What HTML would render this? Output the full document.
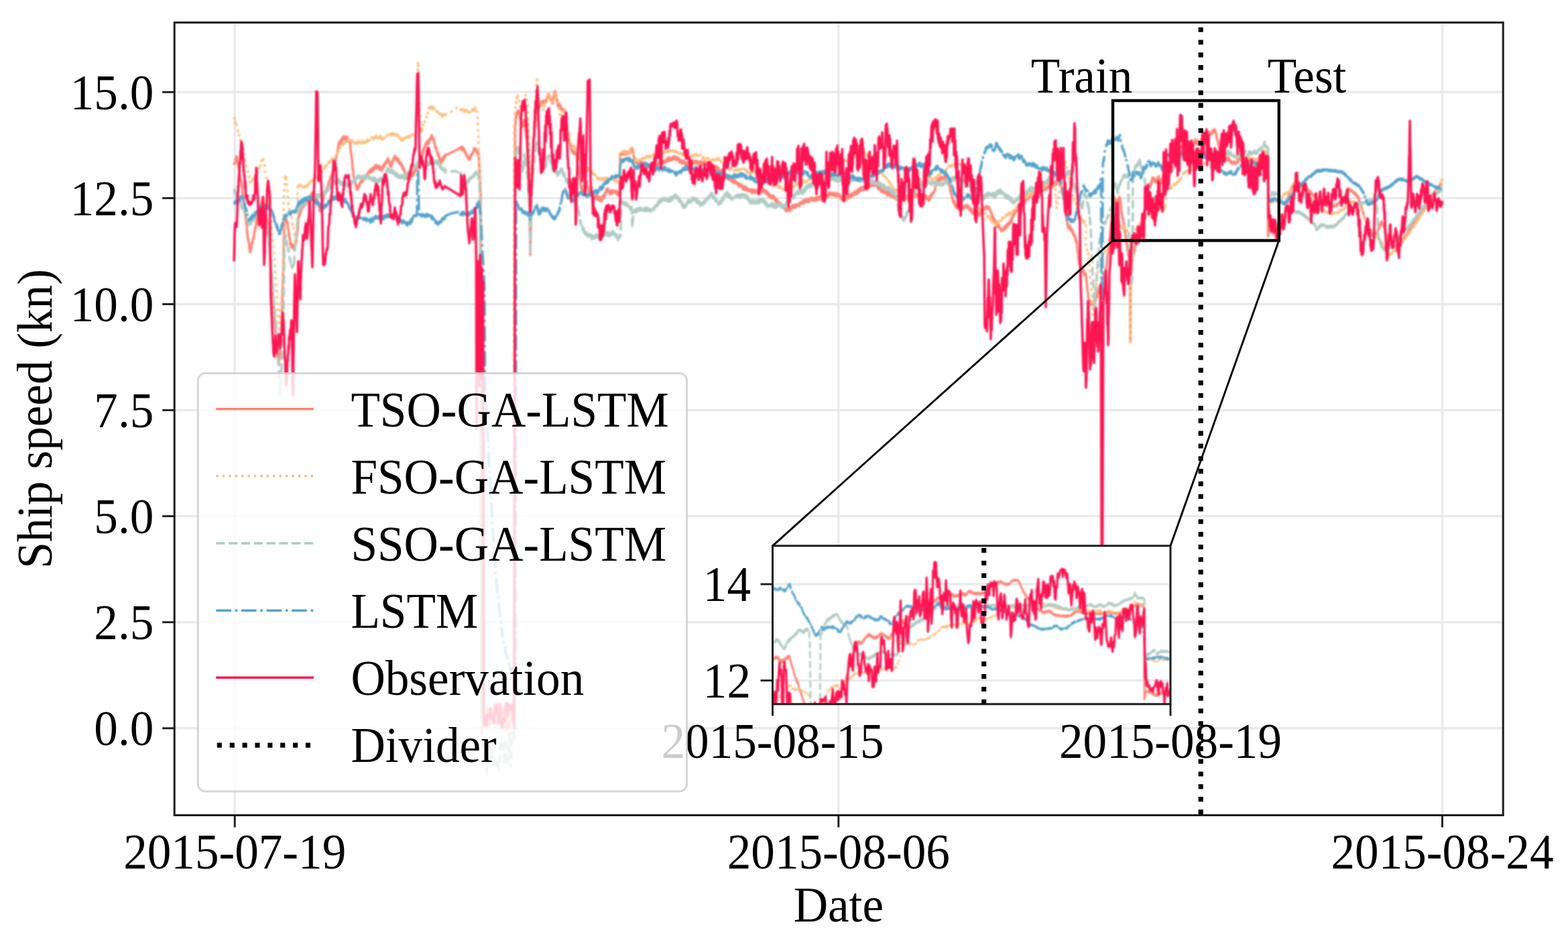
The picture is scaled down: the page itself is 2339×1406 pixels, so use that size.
<!DOCTYPE html>
<html lang="en"><head><meta charset="utf-8"><title>Ship speed prediction</title>
<style>html,body{margin:0;padding:0;background:#fff}svg{display:block}text{font-family:"Liberation Serif",serif;font-size:73.3px;fill:#000}</style></head><body>
<svg width="2339" height="1406" viewBox="0 0 2339 1406">
<rect width="2339" height="1406" fill="#fff"/>
<defs><filter id="soft" x="0" y="0" width="2339" height="1406" filterUnits="userSpaceOnUse" color-interpolation-filters="sRGB"><feGaussianBlur stdDeviation="0.8"/></filter>
<clipPath id="cm"><rect x="260.2" y="33.6" width="1982.0" height="1181.9"/></clipPath>
<clipPath id="ci"><rect x="1152.5" y="813.8" width="593.5" height="236.0"/></clipPath></defs>
<g stroke="#eaeaea" stroke-width="3.4"><line x1="350.2" y1="33.6" x2="350.2" y2="1215.5"/><line x1="1250.8" y1="33.6" x2="1250.8" y2="1215.5"/><line x1="2151.5" y1="33.6" x2="2151.5" y2="1215.5"/><line x1="260.2" y1="1085.8" x2="2242.2" y2="1085.8"/><line x1="260.2" y1="927.7" x2="2242.2" y2="927.7"/><line x1="260.2" y1="769.6" x2="2242.2" y2="769.6"/><line x1="260.2" y1="611.6" x2="2242.2" y2="611.6"/><line x1="260.2" y1="453.5" x2="2242.2" y2="453.5"/><line x1="260.2" y1="295.4" x2="2242.2" y2="295.4"/><line x1="260.2" y1="137.3" x2="2242.2" y2="137.3"/></g>
<g clip-path="url(#cm)"><g filter="url(#soft)">
<path d="M349 246l.4-2.1 .3-1 .4-.1 .4 .1 .3-.6 .4-.9 .3 .5 .4-6.1 .4 1.1 .3-4 .4 1.3 .3 .7 .4-.1 .3 2.4 .3 3.8 .4 .7 .3 4.4 .3-1.5 .4 1.7 .3 4.1 .4 1 .3-.8 .4 5.9 .4-.3 .3 5.4 .4 .3 .3 3 .4 2.6 .4-.3 .3 4.3 .4-2.1 .4 3.3 .3 5.7 .4-1.7 .3 6.6 .4 4.8 .3 1.3 .4 3.7 .3-1.5 .4 5.6 .3 3.3 .4 1.9 .3 2.8 .4 4.9 .3-.7 .4 2.1 .3 5.9 .4 3.3 .4 4 .3 2.4 .4 1.3 .4 6.8 .3-1.5 .4 4.5 .3 6.4 .4 4 .4 .6 .3 6.1 .4 .1 .3 3.6 .4-.7 .3 3.1 .3 2 .4 1.2 .3 4.4 .3 2.8 .4 1 .3 3.5 .4-4.1 .3 1.1 .4-1.5 .3-2.3 .4 1.2 .3-6 .3 0 .4-1.5 .3-2.1 .4 1.7 .4-3.6 .3-1.7 .4-1.9 .3-1.4 .3 1.5 .4-2.3 .3-2.3 .4-4.2 .3 .9 .4-2.5 .4-2.5 .3-3.9 .4 1.7 .3-.6 .4-4 .3-2.4 .4-3.8 .3-.9 .4-1.9 .3-2.2 .4-2.9 .3-2.3 .4 1 .3-.9 .4-2.8 .3-3.1 .4-4.3 .4-.2 .3 2.2 .4 0 .3-3.2 .4-.7 .3-.1 .4-3.3 .3 1.9 .4-2.9 .4 1.8 .3-3 .4 .2 .3-1.5 .4-1.1 .3-1.3 .4 1.9 .3-1.9 .4-2.4 .4 2.1 .3 4.2 .4 1.1 .4 1.4 .4 3.7 .3-2.8 .4 4.5 .4 2.4 .3 1.1 .4 4.9 .3 2.1 .4-1.1 .3 3.3 .4 2.9 .4 1.7 .3 .2 .4 4.5 .3-.5 .4 1 .3 5.1 .4 2.2 .4 3.8 .3 5.8 .4 8 .3 4.3 .4 3.1 .3 8.3 .4 3.5 .3 4.5 .4 6.8 .3 6.2 .4 6.1 .3 4.1 .4 5.2 .3 3.7 .4 3.3 .3 7.5 .4 5.1 .4 7.6 .3 1.4 .4 6.1 .3 5.4 .4 1.7 .3 8.4 .4 1.8 .3 3.4 .4 7.7 .3 3.8 .4 7.8 .3 2.2 .4 2.9 .3 4.5 .4 4.9 .3 7.3 .4 4.5 .4 .6 .3 4.5 .4 3.8 .4 5.3 .3 3.4 .4 2.5 .3 1.8 .4 2.7 .4 1.2 .3 5.3 .4 1.8 .4-5.4 .3-2 .4-6.5 .4-4.1 .3-6.5 .4-6.1 .3-3.7 .4-4.7 .4-6.8 .3-1.6 .4-5.5 .3-14.4 .4-10.8 .3-8 .3-11.7 .4-13.9 .3-9 .3-12.9 .4-7.6 .3-12.4 .3-21.1 .4-22.5 .3-18.6 .4-.2 .3-.5 .4-.9 .4 .3 .3 2.9 .4 1.4 .3-.4 .4-.9 .4 1.3 .3-3.4 .4 2.1 .4 3.7 .3-1.7 .4 2.7 .3 6.1 .4-.9 .3 2.2 .4 3.5 .3 4.7 .4-2.3 .3 7.1 .4-1.2 .3 3.5 .4 1.4 .3 .1 .4 6.7 .3-2.4 .4 4 .4 2 .3-2.3 .4 2.9 .3-5 .4 .6 .3 1.9 .4-2.2 .3 4.6 .4-1.1 .3 2 .4-2.4 .3-1 .4 5.3 .3-3.3 .4 1.4 .3-1.4 .4 1.8 .3-2 .4-3.7 .3-3.2 .3-.6 .4 .3 .3-5.8 .3-1.8 .4-.1 .3-3.1 .3-1.4 .4-4.3 .3-2.2 .3-7.1 .4 1 .3-8.3 .3-2.8 .4-3.3 .3-1.3 .4-.5 .3 1.5 .4-.6 .3-1 .4-2.8 .3-2.3 .4 2.5 .3-2.1 .4-3.9 .3 1.2 .4-3.8 .3-.8 .4 2.6 .3-.3 .4 0 .3-1.5 .4-3.4 .3 1.8 .4 .9 .3-2.2 .4-1.6 .3-1.5 .4-1.7 .3 3 .4 1.7 .3-4.9 .4 3.9 .3 .2 .4-3.1 .3 2.6 .4-4.2 .3 .4 .4 1.1 .3 1.4 .4-2.2 .3-2.9 .4 4.4 .3-2.6 .4 .5 .3-2.9 .4-1 .3-2.3 .4-.3 .3 .5 .4-.6 .3 1 .4 .6 .3-3.2 .4 2.9 .3-1.9 .4-2.1 .3-1.4 .4 3.7 .3-2.3 .4-4 .3 3 .4-2.2 .4 .3 .3 2 .4-2.9 .4 .3 .3 1.6 .4 2.2 .3-4.5 .4 4.3 .4-.5 .3-2.8 .4 2.3 .3 1.4 .4 1.6 .3 .1 .4-.2 .3 2.1 .4-.5 .3 2.3 .4 .7 .3-.6 .4 1.7 .3 1.7 .4 1.4 .3 2.1 .4 2.2 .3-1.5 .4 2.8 .3 0 .4 .6 .3 .6 .4 5.5 .3 .7 .4 .4 .3-1.8 .4-2.7 .3-1.8 .4-.4 .3-.6 .4-3.7 .3 1.1 .4 .1 .3-.4 .4-4.9 .3-2.4 .4 2.8 .3-3.9 .4-1.9 .3-2.5 .4-.9 .3-1.6 .4-.4 .3-2 .4 .9 .3 .9 .4-3.5 .3-.1 .4-.3 .3 1.3 .4-1.2 .3 .3 .4-5.4 .3 2.7 .4-3.7 .3 .7 .4-1.2 .3-.7 .4-2.4 .3-2.4 .4-1.4 .3 4.2 .4-1.3 .3-3.4 .4-3 .3 2.1 .3-1.9 .4-1.4 .3-.4 .4-3.9 .3-1 .4 2.1 .3-1.6 .4 .2 .3-4.3 .4 1.9 .3-1.7 .4-3.3 .3 .9 .4-5.4 .3-1.9 .4 2.8 .3-5.1 .4 .7 .3-.1 .4-1.7 .3-4 .4 1.8 .3-4 .4-.3 .3 .3 .4-3.6 .3-2.9 .4 2.2 .3-3.1 .4-1.3 .3-1 .4-1.4 .3-3.6 .4-.2 .3-3.4 .4-2.9 .3-1.3 .4-1.6 .3-2.8 .4 1.7 .4-1.6 .3 2.5 .4-5.1 .3 3.7 .4-3.6 .3 .4 .4-.6 .3 3.4 .4-2.2 .3-1.7 .4-2.2 .3-1.4 .4 1.1 .3 2.8 .4-3.7 .3 .9 .4-.3 .4-3.3 .3 1.7 .4 .8 .3-.9 .4 1.1 .3 1.7 .4-3.4 .3 2.9 .4-2.5 .3 1.7 .4-3 .3 3.2 .4-2.2 .3 2.5 .4 .9 .3-2 .4-1.4 .4 1.2 .3 4.3 .4-1.1 .4 1 .3-1.1 .4 3 .3 .2 .4-1.2 .4 .3 .3-2.1 .4 2.3 .4 2.5 .3 6.3 .4 4.1 .3 2.9 .4 4.1 .3-1.5 .4 3.1 .3 4.3 .4 1.8 .3 6.3 .4 5 .3 2.9 .4-1.3 .3 6.2 .4 3.1 .3 3.1 .4 1.9 .4 .2 .3 5 .4 1.5 .4 .4 .3 .5 .4-1.4 .3 2.9 .4 1.2 .4 1.5 .3 1.3 .4 3.3 .3 .3 .4-3.3 .3 3.6 .4-5.5 .3 4.9 .4-2.6 .3-.2 .4-2.6 .3 1.8 .4 .5 .3-4.3 .4-1 .3 3.1 .4-3.6 .3-1.4 .4 1.5 .3-2.3 .4-.5 .3-.2 .4-1.7 .3 3.5 .4-1.9 .3-.3 .3-2.3 .4 2.3 .3 .6 .4-.2 .3-5.8 .4 1.2 .3-1.5 .4 1.8 .3 .7 .3-.6 .4-1.7 .3 3.1 .4-2.2 .3 1.9 .4-3.5 .3 .9 .4-3.3 .3 2.2 .4 .3 .3-2.8 .3 1.6 .4-3.2 .3 1.3 .4 .3 .3-1.2 .4-2.4 .3-.4 .4 .5 .3 .5 .3-1.3 .4-1.9 .3 .3 .4-.7 .3-1.2 .4 2.4 .3-.7 .4-1 .3-1.9 .3 5 .4-4.9 .3 .2 .4 .6 .3 2.4 .4 .4 .3-1.3 .4-3.5 .3 3.2 .4-4.9 .3 .1 .3-.2 .4 2.2 .3-.1 .4-.1 .3 1.5 .4-1.4 .3-.6 .4-3.8 .3 1.8 .3 1.7 .4-.6 .3-4.3 .4 3.5 .3-.9 .4 .4 .3-1.2 .4 3.2 .3 .5 .3 .1 .4-2.3 .3 2.6 .4-3.8 .3 3.3 .4-3.7 .3-.3 .4 .5 .3 3 .4 1.8 .3-2.6 .3 1.4 .4 0 .3 1.7 .4 1.1 .3-.5 .4-2.4 .3-1.4 .4 4.6 .3-2.6 .3 1.1 .4-.1 .3-4.7 .4-.6 .3 .6 .4 1.8 .3-.6 .4 .1 .3-4.6 .4 1.3 .3 .8 .4-3.3 .3 .7 .3-2.4 .4 3.2 .3-2.8 .4-.1 .3 .5 .4-2.4 .3 1.9 .4-2.8 .3-1.1 .4 .8 .3-1.2 .4-.6 .3-.8 .3 2 .4-.8 .3 2.8 .3 2.7 .4-3.1 .3 4.8 .3 .8 .4 .7 .3 1.2 .4-1 .3 2 .3 .2 .4 0 .4-1.9 .3 0 .4-1.2 .3-4.6 .3 2 .4 .1 .4-1.5 .3-3.6 .3 1.5 .4-2.4 .3-.5 .4 .9 .4-1 .3-3.7 .3 2.1 .4-1.7 .3-.8 .4 4 .3 1.1 .4-3 .3 3.4 .4-2.6 .3 2.3 .4-.5 .3-1.2 .4 2.2 .3 .9 .4 1.9 .3-4 .3 1.3 .4-1.2 .3 1.6 .4 .8 .3 3.6 .4 1.1 .3-3.5 .4 1.9 .3 .6 .4 0 .3 2.8 .4 .1 .3-2.8 .4 .5 .3 1.3 .4 1.3 .3 .3 .4 2.5 .3-3.1 .4 3 .3 3 .4-2.8 .3 1 .4 3.2 .3-1.9 .4 3 .3-1.6 .4 1.1 .3 1.6 .4 2.7 .4 .4 .3 .7 .4 .9 .3-.5 .4 4 .3-1.4 .4 .9 .3-2.7 .4 1.4 .3 2.3 .4 2.5 .3-1.1 .4-3.2 .3 4.6 .4-2.5 .3 3 .4-.1 .3-2.2 .4 3.8 .3-1.8 .4 .4 .3 0 .4-1.4 .3-1.8 .4-1.3 .3 .4 .3-2.4 .4-.7 .3 2.5 .4-2.9 .3 1.9 .4-.5 .3-1.4 .4 1.5 .3-2.8 .4-2.1 .3 4 .3-1.3 .4-.8 .3 .3 .4-3.6 .3-.6 .4 .4 .3 1 .4-3.7 .3 1.9 .3 .6 .4-4.7 .3-2.1 .4 0 .3 2 .4-3.1 .3 3.4 .4-5.4 .3 3.8 .4-3.7 .3 2.4 .4-4.1 .3-2.4 .4 2.1 .3-3.2 .4 2.5 .3-1.7 .4-4.3 .3 .3 .4-.5 .3 .4 .4-3.7 .3 1.1 .4-1.5 .3-.6 .4-1 .3-1.5 .4-1 .3-.7 .4 2.5 .3-3.4 .4-3.1 .3 .8 .4 1.1 .3-1.5 .4-4.4 .3 .8 .4-.9 .3 1.2 .4-3.2 .4 2 .3-1.2 .4-5 .3 2.1 .4-.4 .3-.1 .4 .9 .3-4 .4 3.3 .3-4.7 .4 4.4 .3-3.3 .4-1.5 .3 4.3 .4 .2 .3-2.5 .4-1.4 .4-1.5 .3-1.6 .4 1.6 .3 .1 .4-3.5 .3 .1 .4-1 .4-.5 .3 2.9 .4-5.3 .3-.4 .4 .6 .3 3 .4-1.2 .4 1.9 .3 .9 .3 2.3 .4-.5 .4-2 .3 1.7 .4 2.9 .3-.5 .3 2.3 .4 1 .4 5.1 .3 1.1 .3-.5 .4-.3 .3 1.1 .4-.7 .4 3.3 .3-.6 .3 3.2 .4 1 .4-.1 .3 2.4 .4 1.3 .3 1.3 .4-2 .3-.2 .4 4.6 .3-1.1 .4-.3 .3 3.3 .4 2.1 .3 1.7 .4-2.5 .3 .2 .4 .8 .3 1.1 .4 2.1 .4 1.5 .3-2.3 .4-3.9 .3-.2 .4 .1 .3 3.9 .4-3.9 .3 2.1 .4-3.7 .3-.6 .4 3.7 .3-5.3 .4 1.9 .3-.4 .4-1.5 .3 1.9 .4-1.8 .4-1.9 .3 .7 .4-.1 .3-.2 .4-.2 .3-.2 .4-.1 .3-.2 .4-.2 .3-.2 .4-.1 .3-.2 .4-.2 .3-.2 .4-.1 .3-.2 .4-.2 .4-.2 .3-.2 .4-.1 .3-.2 .4-.2 .3-.2 .4-.1 .3-.2 .4-.2 .3-.2 .4-.1 .3-.2 .4-.2 .3-.2 .4-.1 .3-.2 .4-.2 .3-.2 .4-.1 .3-.2 .4-.2 .3-.2 .4-.1 .3-.2 .4-.2 .3-.2 .3-.1 .4-.2 .3-.2 .4-.1 .3-.2 .4-.2 .3-.2 .4-.1 .3-.2 .4-.2 .3-.1 .3-.2 .4-.2 .3-.2 .4-.1 .3-.2 .4-.2 .3-.2 .4-.1 .3-.2 .4 .1 .3-1.5 .4 1.1 .3 0 .4 .9 .3 .9 .4-2.4 .3 3.4 .4-2.6 .3-2.1 .4 2.4 .3 .8 .4-1.7 .3 4.2 .4-1.4 .3-.2 .4-.2 .3-.9 .4 1.6 .3 2.9 .4 1 .3 .8 .4-3 .3 4.6 .4-.1 .3 .4 .4-.5 .3 2.2 .4 1.1 .3-1.7 .4-.1 .3 1.4 .4 2.3 .3 .1 .4 1.4 .3-1.8 .4 2.4 .3-1.4 .4 2.5 .3-.7 .3 .2 .4 .4 .3 .2 .4-3.1 .3 1.5 .4-4.4 .3-1.8 .4 2.4 .3-1.8 .4-.4 .3 .5 .4 .2 .3-.3 .4-3.8 .3 .6 .4-.5 .3-.5 .4-1.4 .3-1.4 .4 1.5 .3-4.8 .4 3.8 .3-2.8 .4-.2 .3 3.5 .4-.6 .3-.4 .4-1.2 .3 .1 .4 1.4 .3-.7 .4 3.6 .3-2.5 .4 1.6 .3 .8 .4 2.1 .3 1.3 .4-.5 .3-1.7 .4 1.4 .3 7.7 .4 5.5 .3 8.6 .3 3.8 .4 9.3 .3 4.7 .3 6.2 .4 6 .3 9 .4 195.4 .4 196.4 .3 197.7 .4 194.1 .4-4.4 .3-5.9 .4-4.9 .4-2.1 .3 1.1 .4 4.4 .3 3.6 .3 1.9 .4 4.3 .3 3.5 .3 .3 .4 .2 .3 1.6 .3-.7 .4-4 .3 1.8 .3-4.6 .4-.7 .3 1.1 .3-.2 .4-1.5 .3-1.6 .3-2.1 .4-1.2 .3-2.3 .3 .4 .4-1.7 .3-3 .3 3.4 .4 4.9 .3 4.2 .3 3 .4 5.4 .3 2.1 .3-1.5 .4 2.6 .3-1.1 .3 0 .4 .1 .3 .6 .3-1.8 .4-3.3 .3 0 .3-4 .4-.1 .3-1.8 .3-1.1 .4-2 .3 4.4 .3-3.8 .4 .1 .3 .9 .3-1.1 .4-1.8 .3 .6 .3-5.3 .4-.6 .3-.7 .3-4.6 .4 .7 .3-3 .3 2.2 .4-4 .3-1.1 .3 1.2 .4 3 .3 5.3 .3-.8 .4 1.9 .3 3.7 .3 0 .4 5.2 .3 1.5 .3 .1 .4 .2 .3 .8 .3-.6 .4-5.9 .3-1.5 .3-.8 .4-7.4 .3-2.3 .3 4.7 .4 5.1 .3 3.6 .3 6 .4 3.3 .3 3.4 .3-1.2 .4-7 .3-3.2 .3-2.8 .4-2.8 .3-3.3 .3-2.8 .4 1.6 .3 1.4 .3-.8 .4-1.3 .3 2.1 .3 .6 .4-3 .3-1.9 .3-3.4 .4 .6 .3-.3 .3 4.2 .4 6.9 .3 6.2 .3 5.4 .4 7.9 .3 5.1 .3 1.2 .4-2.1 .3-4.6 .3-2.9 .4-1.9 .3 1.4 .3 .1 .4-.8 .3 .4 .3 5.1 .4-2.3 .3 2.9 .3-2.8 .4 0 .3-3.2 .3 .1 .4-4.5 .3-.5 .3-4.9 .4-4.1 .3-.9 .3-1.3 .4-9.3 .3-.6 .4 1.2 .3 2 .3 2 .4 4.5 .4 1.3 .3 5 .4 2.5 .3 1.3 .3 6.9 .4 1.2 .3-295.6 .3-299.5 .3-294.6 .3-3.4 .3-3.5 .4-7.3 .3 .3 .3-6.5 .4-2.7 .3 4.4 .4-3.8 .4 3 .3-4.4 .4-1.3 .3 2 .4-.4 .4 .2 .3-.8 .4-.7 .4 3.1 .3 .8 .4 .1 .4 4.7 .3 .8 .4 3.3 .3 .1 .4 2.8 .4 2.4 .3 4.5 .4 1 .4-.8 .3-.9 .4 1.8 .4-5.2 .3 1.2 .4 .6 .3-3.2 .4 2 .4-4.9 .3 .4 .4-.5 .4 1.6 .3 1.7 .4 6.9 .4 2.3 .3 4 .4 .7 .3 .9 .4 5.2 .4 4.1 .3 .5 .4 2.1 .4 9.7 .3 11.4 .4 9.4 .4 8.5 .3 10.2 .4 5.6 .3 10.2 .4 8.9 .4 12.1 .3 9.9 .4 9.5 .3 23.4 .4 19.8 .3 22 .4-15.8 .3-18.6 .3-17.6 .4-18.1 .4-10.6 .3-8.6 .4-9.9 .3-12.7 .4-7.1 .4-13.7 .3-7.9 .4-7.8 .3-13.9 .4-7.3 .4-4.9 .3-2.2 .4-6.8 .4-4.1 .3-2.4 .4-1.6 .3-1.8 .4-5.4 .4-3.9 .3-4.4 .4-3 .4 .2 .3-.1 .4-3.8 .3 .8 .4-2.8 .3-1.5 .4-2.1 .3 1 .4 .1 .3-1.5 .4-1.4 .3 .9 .4-2.6 .3 .5 .4-1.5 .3 1.3 .4-3.7 .3 0 .4 1.6 .3-2.9 .4 2.4 .3-2.9 .4-1.3 .3 1.9 .4-.3 .3-1.6 .4-.1 .3 4.1 .4-2.7 .3 1.2 .4-1.5 .3 .8 .4-1.5 .3-.8 .4 3.6 .3-1.1 .4-2.2 .3 .4 .4 .7 .3-2 .4 1.4 .3 1.3 .4-2.5 .3-2.1 .4-2.7 .3 1.6 .4-.6 .4-.2 .3 .3 .4-4.3 .3-1.7 .4 4 .3-3.3 .4-.2 .4 .9 .3 2.6 .4-.6 .3 1.7 .4 .5 .3 2.8 .4-.1 .4 2.3 .3-2.1 .4-.1 .3 .9 .4 2.5 .3 1.6 .4 .9 .4-2.2 .3 1 .4-5 .4-4 .3 1 .4-1.1 .3-4.1 .4 1.3 .4-4.5 .3 2.4 .4-3.5 .4 4.2 .3 .1 .4 2.5 .4-1 .3 5.6 .4 2.5 .3-2.9 .4 4.3 .4-.5 .3 5.8 .4 .3 .4 1.8 .3-.5 .4-1.9 .3 1.6 .4-3 .3 .5 .4 2.9 .3 1.3 .4-2.1 .3-1.3 .4 .5 .3 1.9 .4 .7 .3 3.5 .4-.6 .3 1.7 .4-1.2 .4 1.3 .3 .9 .4-2.6 .3 3.1 .4-.8 .3 .5 .4-.7 .4-.2 .3 2.4 .4-.1 .3-3 .4 4 .3-1.4 .4-.6 .3 5 .4 3.3 .3 .2 .3 2.7 .4 2 .3 2.3 .3 4.7 .4 2.3 .3 2.8 .4 3.5 .3-.4 .4 5.3 .4 .3 .3 1.8 .4 .8 .3 4.5 .4 2.5 .4 2.6 .3 2.3 .4 0 .4 1.5 .3 1.4 .4-.3 .4-1.2 .3 5.3 .4 2.3 .3-1 .4 3.8 .4-3.5 .3 4.3 .4-.1 .4 1.8 .3-1.6 .4 2.1 .3-2.9 .4 .5 .3 .7 .4 .1 .3 .1 .4 3.1 .3-2.3 .4 .4 .3-2.4 .4 2.4 .3 1.4 .4 .1 .3 1.9 .4-1.6 .4 1.7 .3 5.8 .4 3.5 .4 3 .3-2.3 .4 5.7 .3-.4 .4 3.2 .4 5.3 .3 3.1 .4 1.3 .4 .6 .3 3.3 .4 1.5 .4 2.2 .3 2.1 .4 6.6 .3 2.3 .4-1.6 .4 6.2 .3 2 .4 1.4 .4-2.3 .3 .8 .4 .7 .3-1.6 .4 .3 .3-5.9 .4 .5 .3-.7 .4-.8 .3 2.2 .4-1.3 .3-1.9 .4-2.1 .3-.5 .4-.8 .3-4.7 .4 1.5 .4 3 .3-3.3 .4 2.9 .3 .9 .4 4 .3-.8 .4-.5 .3 2.5 .4 2.7 .3 .6 .4-1.8 .3 5.6 .4-1.8 .3-.2 .4 4.5 .3 1.4 .4 .5 .3-2.3 .4-.2 .3 4.1 .4-1 .3-2.7 .4 3.2 .3-2.6 .4 2.3 .3 1.4 .4-2.7 .3 1.1 .4 2 .3-2.2 .4 2.2 .3-2.8 .4 3.9 .3-2.3 .4 1.4 .3 3.3 .4-1.2 .3-3.3 .4 3.4 .3-1.4 .3-.3 .4-1.2 .3-.6 .4 4.7 .3-3.1 .4-.8 .3 3.5 .4-3.7 .3 2 .3-1.5 .4-.3 .3 5.5 .4-2.6 .3 1.1 .4-2.7 .3 1.4 .4-1.5 .3 4.6 .4-4.3 .3 5.5 .3 .4 .4-3.9 .3 .8 .4-.3 .3-.7 .4 2.4 .3 .1 .4 1.9 .3-2.2 .3-2.9 .4 .4 .3-2.4 .4-1.2 .3 1.6 .4 2 .3-4.7 .4 4.5 .3-1.2 .4 .4 .3-3.1 .4-2.5 .3 1.7 .4-4.3 .3 1.2 .4 .8 .3-2.5 .4 .6 .3-3.8 .4 3.2 .3-4.5 .4 .4 .3 .6 .4 2.8 .3-3.9 .4 1.4 .4 3.2 .3-2.4 .4 1.3 .3-.8 .4 5.1 .4-.6 .3-1.7 .4 2.2 .4 1 .3-3.4 .4-1.6 .3 3.4 .4-.6 .3-2.2 .4-1.6 .3 1.4 .4 3.5 .3-1.6 .4-.2 .3-.1 .4-2.7 .3 3 .4-2.6 .3 2.2 .4-2.5 .4 1 .3 1.3 .4 .9 .3-1.3 .4 1.6 .3-2.7 .4-.3 .3-.1 .4 .9 .3 3.3 .4-2.8 .3-.1 .4-.5 .3 3.9 .4 1.5 .3-2.5 .4 .8 .3 1.4 .4 .5 .3-2.5 .4 .4 .3-.6 .4 .9 .3 .9 .3-28.2 .3-32.3 .4 2.7 .3-2 .4-.9 .3 2.2 .4-3.7 .3 1.4 .4 1.6 .4-.7 .3-.3 .4-2.2 .3 .3 .4 .6 .3-3.2 .4 1.6 .4 1.6 .3-1.4 .3 .9 .4 2.3 .4-5.1 .3 1.6 .4 3.5 .3-4.6 .3 3.8 .4-2.1 .4-.2 .3-1.1 .3 1.3 .4 .4 .3 1.6 .4 .9 .4-1.2 .3-2.6 .3 2.3 .4 1.6 .4-3.2 .3 2.2 .4-3 .3 .1 .4 .9 .3 1.2 .4-2.2 .3-2.5 .4 1.6 .3-3.4 .4 3.2 .3-1.5 .4-1.8 .3 1 .4-2.1 .3 .1 .4-.8 .4 3.8 .3-1.6 .4 6.1 .4 1.1 .3-2 .4 5.8 .3-1.9 .4 5 .4-1.8 .3 5.4 .4 .4 .3-.2 .4 .7 .3 .6 .4-.6 .3-1.6 .4 2.6 .3 .9 .4-1.8 .3 2 .4-2.6 .3 .6 .4 1.5 .3-1.8 .3 2.9 .4 .3 .3-3 .4 1.3 .3 3 .4-1.8 .3-2.4 .4 4.3 .3-3.5 .4 1.6 .3 2.4 .4-.8 .3-.9 .3-3.4 .4 1.3 .3-.6 .4 5 .3-4.1 .4-.2 .3 3.3 .4 .5 .3-.2 .3-1 .4 2.1 .3-1.6 .4-3.1 .3 4.5 .4-4.6 .3 5.6 .4-2.1 .3 .5 .4-1.9 .3 3.7 .3-2.6 .4 1.4 .3-2.6 .4 3.5 .3 .9 .4-1.2 .3 1.1 .4-1.3 .3-.9 .3 2.4 .4-3.6 .3 1.3 .4 2.4 .3-.2 .4 1 .3-.9 .4-.2 .3-.1 .3-2.2 .4 3.1 .3 .2 .4-3.2 .3 .8 .4 .4 .3 1.7 .4-3.8 .3 .2 .4 4.3 .3-.9 .3-2.2 .4-1.4 .3-1 .4 .8 .3 4.2 .4-4.5 .3 4.4 .4-3.8 .3 2.8 .3-2.7 .4 2.5 .3 .3 .4-1.6 .3-1.6 .4 1.3 .3-1.5 .4 3.9 .3-3 .3 .3 .4-1.7 .3 .4 .4 2.3 .3-.4 .4-.6 .3 .4 .4 .1 .3-5.6 .4 1.4 .3-1.3 .3 4 .4-4 .3 3.5 .4-3.5 .3-.1 .4 .6 .3 3.1 .4-3.8 .3 .6 .3 2.2 .4-3 .3 1.8 .4-.6 .3 1.2 .4-1.3 .3-1.5 .4-.6 .3 3.8 .3-3.7 .4 0 .3 1.5 .4 1.8 .3-3.5 .4-.4 .3-.2 .4 .6 .3 2.5 .4-1.9 .3-.3 .3-1.3 .4 0 .3 .6 .4 1.7 .3 .1 .4-.8 .3-3.8 .4 3.7 .3-2.7 .3-1.4 .4 .7 .3-2.1 .4 2.4 .3 2.4 .4-4.6 .3 4.7 .4-3.1 .3-.8 .3 1.8 .4-2.4 .3 1.5 .4 2.5 .3-2.4 .4 2.6 .3-2.4 .4 2.2 .3-.5 .4-1.1 .3-1 .3-1.7 .4-1 .3 1.9 .4-1 .3 2.8 .4-4.1 .3-.1 .4 1.4 .3 1.3 .3 1.2 .4-.4 .3-2.1 .4-1 .3 3.3 .4-3 .3 3.7 .4-.9 .3 1.7 .3-2.5 .4 .3 .3 1.1 .4-2.8 .3 4.3 .4-1.3 .3 .7 .4-3.1 .3 1.6 .4-.3 .3 1.4 .3 .7 .4 3.5 .3-2.2 .4 .7 .3-.6 .4 .1 .3-1.7 .4 3.6 .3-1.7 .3-.6 .4 3.2 .3-4 .4 5 .3-1.9 .4 1.8 .3-1.8 .4-2 .3 2.1 .3-1.5 .4 1.9 .3-3 .4 3.9 .3 .6 .4-1.3 .3-1.1 .4 2.1 .3-1.4 .4 3.5 .3-.1 .3-2.3 .4 2.3 .3-2.9 .4 4.1 .3-1.3 .4-3.6 .3 3.8 .4-1.3 .3 1.6 .3-3.1 .4 1.2 .3 3.3 .4-2.1 .3-.3 .4 .9 .3-3.2 .4 .1 .3 1.4 .4-.4 .3 .4 .4 .3 .3-2.8 .4 1 .3 2.8 .4-.6 .3-.9 .4-3.5 .3 3.2 .4-3.5 .3 .4 .4 0 .3 2.1 .3-1.8 .4-.1 .3-1.2 .4 1.8 .3 2.1 .4-2.5 .3 .5 .4-1.8 .3 .1 .4-.4 .3 3.9 .4 0 .3-2.3 .4 .4 .3-1 .4 1.9 .3-2.5 .4 .8 .3 2.3 .4-2 .3 3.8 .4-2.8 .3-.8 .4 1.2 .3 2.3 .4-3.6 .3 1.7 .4 .8 .3 1.9 .4-4.8 .3 3.9 .4-3.6 .3 3.5 .4 1.3 .3-1.7 .4-3.4 .3 1.2 .4 .9 .3 2.3 .4-2.8 .4-1.2 .3 2.6 .4-.2 .3 1.6 .4-1.8 .3 1 .4 .9 .3-3.7 .4-.7 .3 4.6 .4-.9 .3 1.5 .4-.1 .3-3.9 .4 1 .3 3.4 .4-2.2 .3 1.9 .4 .6 .3-5 .4 1.3 .3-1 .4 .9 .3 .8 .4 3.3 .3-3.6 .4 1.9 .3-.1 .4 3.3 .3-1.2 .4-1.1 .3-1.7 .4 1 .3-.8 .4 4.8 .3-3.9 .4-.7 .3-.8 .4 .8 .3 2.7 .3-.4 .4 .7 .3 1 .4-2.8 .3 2.5 .4 .1 .3 2.3 .4-3.2 .3-1 .4 0 .3 2.8 .4 .5 .3-2.8 .4 3.3 .3 1 .4-2.8 .3-1.3 .4 5 .3-3.4 .4 4.4 .3-3.2 .4 .6 .3-.7 .3-1.3 .4 1.8 .3-1.2 .4 2.5 .3-1.8 .4 3 .3-.1 .4 2.4 .3-.3 .3-.8 .4 1.3 .3-2 .4 2.5 .3-.9 .4 1.4 .3 .5 .4-1 .3 1.5 .4-4.7 .3 5.6 .3-2.1 .4 .6 .3-1.1 .4 .9 .3 1.8 .4-.7 .3-1.7 .4 2.1 .3 .9 .3 3.1 .4-4.9 .3 3.6 .4 .4 .3 1.7 .4-1.1 .3 .5 .4-.2 .3 2 .3 .2 .4-1.4 .3 3 .4-1.8 .3-.6 .4-.3 .3 2.2 .4 0 .3-1 .4 1.3 .3-.3 .3 2.6 .4-4.2 .3-.2 .4 2.5 .3 .2 .4-2.8 .3 2.7 .4-1.4 .3 2.2 .3 2.1 .4-3.9 .3 1.4 .4 1.8 .3 2.2 .4-.1 .3-1.3 .4 .2 .3 1.9 .3-1.3 .4 1.5 .3-1.7 .4-1.6 .3 4.6 .4-3.7 .3 2.2 .4 .7 .3-.8 .4-.5 .3-1.4 .3 2.4 .4-1.7 .3 2.9 .4-.3 .3-1.7 .4 1.9 .3 .8 .4-.7 .3 1.8 .3-1.1 .4-1 .3 .1 .4 .4 .3 2.3 .4-2.2 .3 2.5 .4 2.8 .3-3.6 .3 2.6 .4-.8 .3-1.9 .4 1.6 .3-2.2 .4 2.5 .3-1.8 .4 .2 .3 2.1 .4-.3 .3-.7 .3 .2 .4 1.1 .3 4.2 .4 .3 .3-3.3 .4-1.2 .3 2.6 .4 2.3 .3-3 .3 3.5 .4-3.3 .3-.9 .4-1.1 .3 1.3 .4 1.6 .3-1.1 .4 .8 .3 2.2 .3-1 .4-2 .3 .2 .4 4.5 .3-3.8 .4 1.4 .3 1.7 .4 1.7 .3-2.4 .4 1.4 .3-.6 .3 1.2 .4-1.6 .3-1.3 .4 2 .3 .6 .4-2.4 .3 2.6 .4-.6 .3-.3 .3 .7 .4-.5 .3 .1 .4 3.5 .3-3.7 .4 .7 .3-2.8 .4 1.5 .3 2.7 .3-1.8 .4 .9 .3 1.2 .4-1 .3 1.6 .4-.2 .3-3.5 .4 2.5 .3-3.2 .4 3.7 .3 1.4 .3-.9 .4 .8 .3-1.7 .4 1.1 .3-3 .4 .2 .3-.9 .4 .4 .3 2.7 .3-2.7 .4 3.8 .3-2.8 .4 3.2 .3 .7 .4-5.1 .3 3 .4 .5 .3-1.1 .3-2.4 .4 2.7 .3 1.1 .4-1.2 .3-2.2 .4 2 .3-3.1 .4 .6 .3 .8 .4 .6 .3-.9 .3-.9 .4 3.5 .3-5 .4 .1 .3 3 .4-2.7 .3 3.1 .4 0 .3-1.3 .3 .6 .4-1 .3 2.5 .4 1.7 .3-1.5 .4-1.1 .3 3.4 .4-4.7 .3 4.5 .3 1.5 .4-3.7 .3 2.6 .4-2.6 .3 1.9 .4 3.4 .3-4.4 .4 .9 .3 .1 .4 .3 .3 .6 .3 4.3 .4-1.7 .3-.4 .4 1.9 .3-.7 .4 2 .3-3.2 .4 1.4 .3 .4 .3-1 .4 3.7 .3-2.7 .4 .8 .3-.2 .4-1.6 .3 1.4 .4 2 .3 .8 .3-1.6 .4-2.8 .3 3.2 .4 .9 .3 .4 .4-1.4 .3-.6 .4 3.2 .3-.9 .4 3.7 .3 .4 .3-4.2 .4 4.1 .3-1.6 .4 .1 .3 .4 .4 2.5 .3-4.1 .4 5 .3-1.9 .3-.4 .4 3.3 .3-.7 .4-.3 .3-.4 .4 1.4 .3-.3 .4 1.6 .3-2.6 .4 1.5 .3-.5 .4-1.1 .3 4.3 .4-.2 .3-1.7 .4 3.6 .3-.2 .4 .6 .3-.8 .4-1.5 .3 2.1 .4-2.2 .3 1.7 .4 1.6 .3-1.6 .4 2.2 .3 .4 .4-1.5 .3 .2 .4 0 .3 1.6 .4-1.5 .3 4.7 .4-2.9 .3-.6 .4 .7 .3 1.5 .4 .2 .3 2 .4-1.1 .3-1.2 .4 1 .3-.2 .4-.4 .3-1.2 .4 .6 .3 2 .4-3.6 .3 1.9 .4-1.6 .3 1.6 .4-1.8 .3 2.2 .4 1 .3-1.7 .4-.1 .3-4.2 .4 3.3 .3-.2 .4-3.3 .3 3.2 .4 0 .3-1.5 .3-1.4 .4-1.6 .3-.1 .4-1.4 .3 2.5 .4 2.5 .3-3.3 .4 .9 .3-2.1 .4 3.6 .3-2.2 .4-.3 .3 3 .4-1 .3-1.1 .4 .5 .3-3.6 .4 2.8 .3-1.1 .4-.1 .3-1.7 .4 .8 .3-.1 .3 .1 .4 0 .3 .5 .4-.5 .3 .5 .4-.6 .3 2.2 .4-4.9 .3 2.5 .3 .2 .4 0 .3-3.7 .4 .2 .3 2.3 .4-.8 .3-1.9 .4 2.5 .3-2.4 .4-1.2 .3 1 .3-1.5 .4 2.9 .3 1.1 .4-1.5 .3-.9 .4-2.8 .3 4.5 .4-.6 .3-1.8 .3 .6 .4-3.7 .3 1.2 .4 .9 .3 .5 .4-2.4 .3 3.7 .4-2.4 .3 1.2 .3 .7 .4-3.7 .3-.3 .4 2.3 .3-2.4 .4-.3 .3 .2 .4 4.4 .3 .5 .4-2.5 .3 .1 .3 .2 .4-1.8 .3-.2 .4-.1 .3-1.1 .4 2.1 .3-.9 .4-2.6 .3 2.2 .4 1.2 .3-1.6 .4 2 .3-.9 .4-.7 .3-1.8 .4 2 .3-.7 .4 1.7 .3-2.7 .4 4.1 .4-.1 .3 .2 .4-3.3 .3-1.1 .4 1.5 .3 1.8 .4-.6 .3-3.7 .4 1 .3 4 .4-3.1 .4-2.2 .3 2.7 .4 1 .3 .6 .4-4.5 .3 3.3 .4-3.4 .4 2.9 .3-.6 .4-3 .3 .8 .4 1.2 .3 1.4 .4 1.4 .3-4.2 .4-.1 .4 2.1 .3-1.4 .4 .8 .3 1.4 .4-.6 .3-1.8 .4-.1 .3 1.5 .4-.7 .3 .2 .4-1.3 .4 1.2 .3-3 .4 3 .3-2.5 .4 0 .3-2.3 .3 4.3 .4-1.6 .3 .3 .4-1.9 .3-1.6 .4 2.6 .4-.2 .3-1.8 .4 3.5 .3-4.4 .3 4.6 .4 .3 .3-4.6 .4 4.4 .4-.3 .3-3.5 .4 .2 .3 1.9 .4-4.5 .3 3.9 .3-4.5 .4 3.3 .3-3.3 .4 2.2 .3 1.3 .4-1 .4-1.1 .3-.4 .4-.9 .3 2.3 .3-1.2 .4 .3 .3-.4 .4 .6 .3 1.2 .4-1.9 .3 3.3 .4-2.6 .3 2.5 .3-1.4 .4 .7 .3 0 .4-1.9 .3 2 .4-3.4 .3 4.7 .4-.5 .3 1.3 .4-3 .3-1.1 .3 3.2 .4-3.1 .3 4 .4-3.1 .3 3 .4-4.4 .3 1.1 .4 2.8 .3-2.8 .3 2.4 .4-1.6 .3 1.1 .4-1.9 .3 .7 .4 4 .3-.4 .4-3 .3 .3 .4 .6 .3 .9 .4 .9 .3 1.7 .4-.8 .3 3.9 .4-4.4 .3 2.7 .4 1.1 .3 1.3 .4-1.4 .3 1.3 .4-2.3 .3 1.4 .3 2.7 .4-4.8 .3 2.7 .4 1.6 .3-.4 .4-4.5 .3 4 .4-3.4 .3-2.3 .3 3.3 .4-1.8 .3 2.4 .4-5 .3 3.8 .4-3.2 .3-1.7 .4 .5 .3 3.2 .4 .7 .3-1.2 .3-.5 .4-1.4 .3-.9 .4 .3 .3-1.8 .4 .2 .3 .4 .4 3.5 .3-1.7 .3-2.1 .4 3.6 .3-4.7 .4 2.7 .3-3.3 .4 2.3 .3 2.1 .4-1.6 .3-.6 .4-.3 .3 .7 .4-2.2 .3 2 .4-1.2 .3-.4 .4-2.9 .3 2.8 .4 .9 .3-5 .4 2.1 .3 1.4 .4 .7 .3-1.1 .3-1.7 .4 .7 .3 1.4 .4 1.2 .3-4.9 .4-.7 .3 4.6 .4-4.8 .3 .1 .4 1.1 .3-2.5 .4 4.7 .3-5.5 .4-.2 .3 1.9 .4-1 .3 1.8 .4 .4 .3-4.9 .4 5 .3-5.1 .4 1.5 .3 0 .3-1.5 .4-.6 .3 3.9 .4-2.8 .3 0 .4 3 .3-3 .4-1.4 .3-.1 .3 1.2 .4-1.7 .3 3.3 .4-1.7 .3 1.7 .4-1.3 .3-2.1 .4 5.3 .3-1.3 .4-.8 .3-2.5 .3 3 .4-.7 .3 .7 .4-3.9 .3 3.2 .4 1.3 .3-1 .4-1.1 .3-1.4 .4 .7 .3 .1 .4-2.7 .3 3.5 .4-3.7 .3-1.5 .4 2 .3 2.1 .4-1.6 .3-2.9 .4 .4 .3 2.3 .4-.1 .3-3.2 .4-.1 .3-1.5 .4 1.2 .4 1.9 .3-3.1 .4 2.8 .3-1.8 .4 1.2 .3 .3 .4-.4 .3-2.5 .4 4.6 .3-5 .4 1 .3-.7 .4 2.9 .3-1.5 .4 2.6 .3-4.8 .4 1.3 .4-2.3 .3 2.2 .4 3.5 .3-1.8 .4 1.7 .3-.6 .4 .7 .3 3.2 .4-3.6 .3 3.4 .4 2.5 .3-3.2 .4 1.2 .3 1.2 .4-1.7 .3-.1 .4 3.1 .3-3.3 .4 1.6 .3 1.6 .4-2 .3 .2 .4 4.9 .3-.2 .4-1.3 .3 2.6 .4-.5 .3-.3 .4-1.8 .3 2.3 .4-2.1 .3 .2 .4-.8 .3-.9 .4 4.6 .3 0 .4 .5 .3-2.3 .4 1.7 .3-1 .3-1.2 .4 1.1 .3-1.8 .4 4.1 .3-.4 .4-3.3 .3 4 .4 .4 .3-3.3 .3 5.6 .4 .4 .3-2.7 .4-.7 .3-2.1 .4 4.3 .3-.3 .4-2.9 .3-.9 .4 1.9 .3 2.6 .3-2.2 .4 1.9 .3 .9 .4-2.5 .3 2.6 .4-2 .3 3.8 .4-1.7 .3 .9 .3-1 .4-.2 .3 .3 .4 0 .3 2 .4-2.6 .3-1.4 .4 3.6 .3-2.6 .4 .1 .3 1.2 .4 .9 .3-1.1 .4 4 .3-3.2 .4 3.6 .3-3.4 .4-1.3 .3 4.8 .4-2.4 .3-2 .4 3.4 .3-.7 .4-.4 .3 1.6 .4 1.7 .3-4 .4 2 .3 2 .4-3.9 .3 3.1 .4-4.2 .3 3.3 .4-.9 .3 1.2 .4-1.3 .3 1 .4-3.5 .3 4.2 .4-1.9 .4 .9 .3 .5 .4-1.4 .3 2 .4-.8 .3-2.5 .4-.9 .3 3.7 .4 1.1 .3-3.1 .4 .1 .3 2.1 .4 1.7 .3-1.7 .4-3 .3 2.3 .4 .2 .3-2.2 .4 2.2 .3-.7 .4-1.1 .3 .8 .4-2.9 .3 4.2 .4-3.3 .3-.3 .3 2.9 .4-1.9 .3 2.2 .4-1.1 .3-.2 .4 1.2 .3-1.5 .4-3.5 .3 2.8 .4-.5 .3-.2 .3 2 .4-.4 .3-2 .4 .1 .3-5.1 .4 2 .3 .1 .4-1.2 .3 2.3 .3-3.2 .4 4.9 .3 1.1 .4-3.3 .3-1.7 .4 2.2 .3-2 .4 4.7 .3-2.5 .3-1.9 .4 2.9 .3-1.2 .4 .3 .3-1.8 .4 4.2 .3-.4 .4 .1 .3-.3 .4 .7 .3-3.9 .3 3.1 .4-2 .3-1.1 .4 2.9 .3-1 .4-1.4 .3 1.5 .4-.7 .3 1.1 .3 .9 .4 0 .3-2.7 .4 .4 .3-.6 .4 4.2 .3 .4 .4-4 .3 .9 .3 1.1 .4-2.1 .3 3.1 .4 0 .3-2.5 .4 .4 .3 2.2 .4 1.4 .3-4.6 .4 3.4 .3 .9 .3-.5 .4 1.6 .3-4 .4-.2 .3 4.5 .4-2.7 .3 1.3 .4-.8 .3 .1 .4-2.9 .3 .3 .4 .2 .3 4.4 .4-4.1 .3 1.9 .4-1 .3 3.2 .4 .5 .3 1 .4 0 .3 .4 .4-3.1 .3 1.5 .4 3.1 .3-2.9 .4 .3 .4 0 .3-1.9 .4 2.8 .3-5.5 .4 2.7 .3 0 .4-.2 .3-5 .4 2.6 .3-2.1 .4 1.6 .3-3.9 .4 2 .3-.3 .4-1.6 .3-.4 .4 .9 .4-.6 .3-2 .4-.6 .3 0 .4-1.1 .3-.6 .4 .2 .3-1 .4-6 .3 .7 .4-.8 .3-3.8 .4-.4 .3-1.6 .4 .1 .3-1.5 .4-.4 .3 1 .4 .1 .3-3.2 .4-.5 .3 .8 .4 2.1 .3-3.5 .4 3.1 .3 1.3 .4-4 .3-.4 .4 1.8 .3 1.3 .4-3.8 .3-1 .4 1.9 .3-.3 .4-1.6 .3 3.7 .4-4.1 .3 3.3 .4-2.2 .3 .5 .4 .2 .3 0 .4-.5 .3 1.3 .4-1.1 .3-1.1 .4-.9 .3 2.1 .4 1.2 .3-.2 .4-3.4 .3 2.3 .4-2 .3 1.5 .4-3.3 .3 3.8 .4-1.5 .4 2.7 .3 2 .4-3 .4 5.2 .3 1.9 .4-3 .3 3.3 .4 2.1 .4-3.7 .3 4.3 .4 0 .4 1.4 .3-.1 .4 3.1 .4 4.6 .3-1.6 .4 2.6 .3 .3 .4 3.2 .4 .7 .3 2.4 .4 1.8 .4 1.5 .3 1.3 .4 .7 .3-2.6 .4 3.4 .3 3.6 .4 0 .3-.5 .4 1 .3-1.3 .4-.9 .3 2.1 .4 4.8 .3-2 .4 1.4 .3 0 .4 .9 .3 1.7 .4-2.6 .3 4 .4-1.4 .3-2.6 .4 .5 .3-1 .4 .5 .3 .8 .4 .8 .3 .3 .4-1.6 .3 5.2 .4-2.7 .3 3.5 .4-4.3 .3 2.9 .4 1.1 .3-2.5 .4 2.1 .3-2.6 .4 2.6 .3-2.3 .4 2.8 .3 0 .4-3.9 .3-.5 .4 2.1 .3-2.5 .4 1.1 .3-1.3 .4 2.8 .3-1.9 .4 1.2 .3-2.1 .4 .1 .3 1.2 .4 .1 .3-.8 .4-2.1 .4 1.7 .3 .9 .4-2.7 .3-.1 .4 2.9 .3-1.8 .4 2.8 .3-3.8 .4 3.9 .3-3.4 .4 0 .3 1.1 .4 1.2 .3-1 .4 2.9 .3 1.7 .4-2 .4-1.1 .3 4.2 .4 .9 .3-2.8 .4 3.5 .3-1.6 .4-3 .3 .6 .4 1.1 .3 4.9 .4-4 .3 4.3 .4-.5 .3 1.5 .4-1.3 .3-1.9 .4 1.6 .3-2.4 .4 1.9 .3 .1 .4 2.6 .3-1.9 .4-1.4 .3 .1 .4 .6 .3 1.4 .4 1 .3-2.7 .4 5.7 .3-1.8 .4-2 .3 1.9 .4 2.1 .3-4.8 .4-.5 .3 1 .4 1.7 .3 2.2 .4-1.8 .3-.5 .3 1.4 .4 1.1 .3-1.8 .4-2.8 .3 1.9 .4-.2 .3-.2 .4-2.1 .3 1 .3-1 .4 1.3 .3-3.7 .4 2.8 .3 .7 .4-3.2 .3-1.4 .4-.5 .3 0 .4 1.2 .3-.9 .3-2.3 .4 1.3 .3-1.6 .4-.4 .3 .5 .4 1.5 .3-1.8 .4-1.6 .3 .6 .4-1.3 .3 2.1 .4 .2 .3-2.4 .4 .7 .3 2.2 .4-2.9 .3 3.1 .4-.2 .3-1.1 .4 1.9 .3-2.5 .4 1.7 .3-.8 .4-1.2 .3 1.1 .4 1 .4 2 .3-.8 .4 2.8 .4 .6 .3-.1 .4-.4 .3 1.5 .4 1.8 .4-.4 .3 3.9 .4 .5 .4 2.1 .3-2.8 .4 5.8 .3-.6 .4 0 .3-1 .4 2.8 .3-2.3 .4 4.5 .3-3.7 .4 2.2 .3-.4 .4 4.8 .3-3.2 .4 3 .3-1.9 .4 3.5 .3 2.9 .4-.9 .3-3.2 .4 1.2 .3-.7 .4 1.7 .3 2.7 .4-4.3 .3 .4 .4 2 .3 1.1 .4-1.2 .3 1.7 .4 2.4 .3-1.5 .4 .1 .3 2.3 .4 .4 .3-.8 .4 2.8 .3 0 .4 .4 .3-.4 .4-2.5 .3 2.8 .4-.3 .3-1.1 .4-.5 .3-.6 .4 .5 .3-2.6 .4 1 .3 2.3 .4-.2 .3-1.4 .4-4 .3 2.4 .4-2.6 .3 4.3 .4-3 .3 1.5 .4-1.2 .3-3 .4 1.9 .3 1.2 .4-3.8 .3 2.7 .4-3.9 .3 .4 .4 .7 .3-2.7 .4 1.4 .3 .4 .4-.5 .3 1.7 .4-1.1 .3-3.5 .4 3.2 .3-2.3 .4 1 .3-4.2 .4 1.4 .3-.1 .4-.5 .3 1.4 .4-5.4 .3 .3 .4-1.9 .3 2.7 .4-2.4 .3-.8 .4-.6 .3-3.1 .4 1.5 .3-.4 .4 .6 .3-4 .4 .9 .3-.7 .4-1.8 .4 2.2 .3-4 .4 2.2 .3-3.4 .4 2.1 .3 .3 .4-5.6 .3 .3 .4 2.1 .3-3.3 .4-.7 .3 .2 .4 1.1 .3 .2 .4-1.7 .3-3 .4 1.4 .3-2.8 .4 3.2 .3 .4 .4-3.2 .3-1.3 .4 3.2 .3 .2 .4 .3 .3-5.5 .3 4.4 .4-1.2 .3-3.4 .4-1.1 .3 4.3 .4-4.7 .3 1.9 .4-.7 .3 1 .4-2.5 .3 2.1 .3 1 .4-2 .3-1.9 .4 3 .3-1.7 .4 3.3 .3-4 .4-1.2 .3 1.1 .3-1.1 .4-2.3 .3 2.4 .4-2.2 .3 3.1 .4-4.6 .3-.4 .4 2 .3 1 .3 .8 .4-1.6 .3 1 .4-2.6 .3 1.2 .4-2.2 .3 .2 .4 1.3 .3-4.4 .4 3.5 .3-1.5 .3 1.3 .4-1.9 .3-2.7 .4 3.4 .3-4 .4 3 .3 1.4 .4-2.2 .3-.3 .4 1 .3-3 .4 3.8 .3-5.1 .4 4.7 .3-5 .4 4.5 .3-2.8 .4 .4 .3-1.6 .4 2.2 .3 1.1 .4-4.7 .3 2 .4-2.3 .3 3.4 .4-4.2 .3 1.4 .4-.8 .3 2.7 .4-3.2 .3 3.6 .4-.6 .3-4.1 .4 4.6 .3-.8 .4-.9 .3-.3 .4-2.5 .3-.5 .4 .2 .3 3.6 .4-1.2 .3-3.6 .4 .3 .3 2.4 .4-1.1 .3-1.3 .4-.8 .3 .7 .4 .1 .3-.6 .4-.1 .3 1.5 .4 .7 .3-1.4 .4-1.7 .3-1.1 .4-.7 .3 5 .4-4.5 .3 2.2 .4-1.8 .3-1.5 .4 3.1 .3-.5 .4-1.4 .3 1.7 .4 1.5 .3-3.1 .4 .5 .3 2.6 .4-1.7 .3 .4 .4-2.6 .3 1.4 .3-2.9 .4-1.3 .3 .4 .4-.3 .3 0 .4 3.7 .3-5 .4 3.7 .3-2.7 .4 .5 .3 3.4 .3-2.2 .4 .4 .3 1.2 .4-4.2 .3 1.6 .4-1.2 .3 4 .4-1.3 .3-1 .3-.3 .4-3.1 .3 2 .4 1.7 .3 .4 .4-.6 .3-4.7 .4 4.8 .3-2.4 .3 .7 .4-3.2 .3 4.8 .4-1.8 .3-1.4 .4 1.1 .3-3 .4-.6 .3-.7 .4-1.2 .3 3.3 .3-1 .4 .3 .3 .7 .4-2 .3 .1 .4 .1 .3-1.5 .4 3.5 .3-2.2 .4-.1 .3 1.1 .4 4.7 .3-2 .4 2 .3-.2 .4 2.5 .3-.9 .4 2 .3-.3 .4 4 .3 1.2 .4-.6 .3 4.7 .4 1.8 .3 1.2 .4-1.9 .4 4.9 .3 2.4 .4-.8 .3 4.1 .4 5.3 .3 1 .4-.6 .3 2.7 .4 4.8 .3 4.8 .4 1.9 .3 3.5 .4-1.3 .3 2.1 .4 5.7 .3 .7 .4 3.8 .3 1.1 .4-1.4 .3 4.4 .4-4.5 .3 5.9 .4 .4 .3-1.4 .4-2.3 .3 .7 .4-.6 .3 2.9 .4-2.2 .3 4.6 .4-1.2 .3 2.7 .4-2.6 .3 1.4 .4 .8 .3-2.3 .4 1.1 .3 3.4 .4-1.8 .3 2.8 .4 1.9 .3-2.1 .4 2.5 .3 1.8 .4-2.3 .3 3.7 .4-2.9 .3 .5 .4 4.1 .3-.3 .4 1.9 .3-1.9 .4 5.2 .3-1.7 .4 3.2 .3 1.5 .4-1.9 .4 2.3 .3 4.3 .4 3.7 .4 5.5 .3 0 .4 1.5 .3 6.6 .4 3.4 .4 3.3 .3 2.9 .4 .4 .3 .4 .4-.2 .3 3.6 .4 1 .3-2.3 .4 1.9 .3-2.7 .4 .6 .3 3.6 .3-1.2 .4 1 .3-.7 .4 5.4 .3-.2 .4 1 .3-2.2 .4-.5 .3 .7 .4 5.1 .3-1.9 .3-.9 .4 4.4 .3 .4 .4-3.3 .3 4 .4-3 .3 .1 .4 1.1 .3 1.7 .4 3.8 .3 3.1 .4 5.7 .4 .5 .3 6.7 .4 3.3 .3 1.1 .4 2 .4 4.9 .3 3.7 .4 3.8 .3-1.8 .4 4.1 .3-3.9 .4 5.7 .3-5.3 .4 1.9 .3 1.5 .4 2 .3-3.7 .4 .4 .3 4.5 .4-1.5 .3-3 .4 3.8 .3-3.4 .4 1.7 .3 1.5 .4-2.3 .3 3.2 .4-4.5 .3 .5 .4 3 .3 .9 .3-1.8 .4-1 .3-.9 .4-2.6 .3-1.1 .4 .8 .3-4.1 .4 4.3 .3-3.5 .4-1.7 .3-1.4 .4 2 .3-.2 .4-4 .3-1.2 .4-.6 .3-3.2 .4 3 .3-6.2 .4 2.3 .3-.1 .4-1.1 .3-3 .3-1.7 .4-1.9 .3 3.6 .4-1.5 .3 .7 .4-5.9 .3 2.9 .4-3.8 .3 .6 .3 .6 .4-5 .3 1.4 .4-4.3 .3-1.4 .4 1.1 .3-2.4 .4 2.5 .3-2 .4-2.9 .3-2 .3 .7 .4 .8 .3-2.3 .4-.3 .3-3.5 .4 .8 .3-3.9 .4 2.8 .3-3.3 .4-1.2 .3-3.2 .4-4 .3-4.2 .4-3.5 .3-1.8 .4-.2 .3-4 .4-2.7 .3-4.4 .4-3.1 .3-.8 .4-6.5 .3-3.4 .4-.7 .3-1.1 .4-5.9 .4-6.1 .3-1.9 .4-5.4 .3-1.8 .4-5.5 .3-4.1 .4-7.1 .3-2.6 .4-4.4 .3-3 .4-5.5 .3-3 .4 1.9 .3-2.6 .4-.7 .3-1.4 .4-1.5 .4 .4 .3 1.7 .4 2.2 .3 .4 .4 1.6 .3 1.2 .4-1.2 .4 0 .3 1.7 .4 1.5 .3-3 .4 .8 .4-2.8 .3 .7 .4-2.4 .3 2.3 .4-2.6 .3 1.6 .4 2.3 .4-2.3 .3-2.7 .4-2.2 .3 1 .4 3.5 .3-1.6 .3 7.7 .4-1.9 .3 4.6 .3 .4 .4 5.6 .3 2.8 .3 3.7 .4 .5 .3 2.5 .4 3.6 .3-.5 .4 .3 .4 1.8 .3 2.2 .4 3.5 .3 2.7 .4 4.8 .3 1.7 .4 3.1 .4-1.9 .3 1.6 .4 5.6 .3 .8 .3 3.4 .4 3.7 .3 1.6 .3 1.5 .4-.7 .3 6.2 .4-1.7 .3 6.7 .3-1.4 .4 1.7 .3 2.2 .3 4.9 .4-1.9 .3 3.5 .3 5.4 .4-1.5 .3 6 .3 1.1 .4 5.6 .3 54.6 .4 57.8 .4-54.6 .4-57.9 .3 1.4 .4-3.9 .3-4.7 .4 1.7 .3-3.1 .4-.5 .3 .4 .4-6.7 .3-.9 .4-.6 .3-.6 .4-4.7 .3 2.2 .4-4.2 .3-3.4 .4 4.1 .3-4.9 .4-2.5 .3 1.1 .3-.4 .4-3.8 .3-.9 .4 .2 .3-.2 .4-1.5 .3 0 .4-.1 .3-4 .4 3.8 .3-1.4 .3-1.9 .4-3 .3 .9 .4 1.2 .3-.6 .4-2.5 .3 2.9 .3-4.3 .4 2.8 .3-3.7 .4 2.1 .4-3.4 .3-4.2 .4-1.7 .3-1.6 .4-3.1 .4 0 .3-1.3 .4-4.3 .3-.5 .4-.3 .3-1.2 .4-3.5 .3-5.4 .4-1 .3-3 .3-2.9 .4 1.2 .3-4.8 .3-2.2 .4-4.7 .3-2.1 .3-1.4 .4-1.8 .3-1.6 .3-3.8 .4-5.4 .3 2.7 .3-6.9 .4-2.1 .3-1.4 .3-1.2 .4-3.7 .3 .2 .3 1.1 .4-3.6 .3 .6 .4 .6 .3 2.4 .3-1.1 .4-1.3 .3 3 .3-.9 .4 .8 .3-4.4 .4-1.7 .4 3.2 .3-4.8 .4 2.9 .3-2.6 .4-1.7 .3-3 .4 3.2 .3-5.1 .4 2.7 .3-1.1 .4 .9 .3-2.5 .4 3 .4 0 .3-1.6 .4 .4 .4 1.7 .3 2.9 .4-3.5 .4 .3 .3 .1 .4 2.3 .3 1.9 .4-4.3 .3 2.2 .4-3.3 .4-.3 .3-.9 .4 1.9 .3-1.5 .4 1.3 .3-2.2 .4-2.8 .4 5.6 .3-2.7 .4 3.2 .3 1.5 .4-2.1 .4 1.9 .3 1.1 .4-3.5 .3 3.7 .4 1.5 .3 .8 .4-4 .4 3.7 .3-2.5 .4 1.1 .3-6.5 .4-.3 .3-1.1 .4-1.1 .4-2.3 .3-1.9 .3 2.2 .4 .6 .3-4 .3 .8 .4-1.7 .3-1.7 .3 3.7 .4-2.4 .3-1.2 .3 1.6 .4-2.9 .3 .6 .3-.9 .4 1.4 .3-5.7 .3 2.1 .4 1.5 .3-3.2 .3-1.4 .4 .2 .3 .5 .3 1.4 .4-4.9 .3-.3 .3-.3 .4-1.2 .3 .7 .3 1.9 .4-2.8 .3-1.4 .4 3.3 .3-3.1 .3-1.9 .4 3.1 .3-3.7 .3 2.6 .4-3.6 .3 2.6 .3-.8 .4-1.6 .3-.3 .4 1.2 .3-.8 .4-.6 .3-2.8 .4 2 .3-3.2 .4-1.2 .3-2.2 .4 2.9 .3-1.5 .3 .6 .4 .4 .3-3.9 .4 .2 .3 1.6 .4 .7 .3 0 .4-3.3 .3-.9 .4 2 .3 .6 .4-2.1 .3-2 .4 .3 .3 .3 .4-2.2 .3-1.5 .4 2 .3-2.1 .4 1.2 .3-2 .4 .5 .3 1.7 .3-3.2 .4-1.4 .3-1.9 .4 3 .3 .9 .4-.4 .3 .3 .4-4.8 .3-.8 .4 2.5 .3 0 .4 .3 .3-2 .4-2.6 .3 1.1 .4 .4 .4 .9 .3 .4 .4 .2 .3-.2 .4-1.7 .3-.3 .4-1.5 .4 1.4 .3-2.2 .4 2.7 .3-2.7 .4 .8 .3-.7 .3 1.3 .4 1.2 .3-2 .3 1.5 .4 .9 .3 1.1 .3-.2 .4 .4 .3-3 .4 1.7 .3 .1 .4 1.9 .3-1.4 .4-2.5 .3 0 .4-.8 .3 .1 .4 0 .3 2 .4-1.9 .3 3.1 .4-1.9 .3 1.9 .4-.6 .3 1.6 .4-2.9 .4 .3 .3 1.5 .3-2.4 .4-2.3 .3 1.1 .3-3.4 .4-.8 .3 2.4 .3 1.6 .4-1.9 .3-2 .3 3.6 .4 2 .3-1.3 .3-3 .4 3 .3 2.7 .3-4 .4 2.2 .3-2.9 .3 2.9 .4-.6 .3-2.4 .3 5.4 .4-4.2 .3 1.4 .3-1 .4 2.3 .3-2.8 .3-.7 .4 4.1 .3 .6 .3-4.3 .4 2.6 .3-3.6 .3 1.6 .4-2.6 .3-.7 .3 1.3 .4-1.5 .3-1.3 .4 .5 .3 .1 .3-1.2 .4-2.9 .3 .9 .3 1 .4-1.2 .3-1 .3 1 .4-2.8 .3 1.4 .3-1.1 .4-.6 .3-1.7 .3-.8 .4 1.5 .3-2.1 .3-1 .4 .2 .3 1.8 .3-2.9 .4 0 .3 2.2 .3-1.3 .4-.6 .3-.7 .4 1.7 .3 1.8 .4-2.5 .4 3.6 .3-3 .4 3.5 .3-1.5 .4 .5 .3 .5 .4-.3 .4-.3 .3 .6 .4 .1 .3-.6 .4-1.5 .4-1.7 .3 .8 .4-3.1 .3-.4 .4 .9 .3 0 .4-1.8 .3 3.4 .3-.9 .4-.9 .3 .4 .3-.9 .4-1.1 .3 3.5 .3-1.4 .4 3.4 .3-.2 .4 1.1 .4 3.6 .3 3.1 .4-1.5 .3 3.1 .4-.5 .3 3.4 .4 .7 .4 1 .3 3.4 .4-.4 .3 1 .4 2.4 .3 1.6 .4-2 .4 1 .3 4.3 .4-.1 .3 .4 .4 2.5 .4 .7 .3-.6 .4-.8 .3 2.7 .4-.5 .3 1.1 .4 .7 .4 .8 .3 1 .4 1.4 .3-.5 .4 2 .3-.9 .4-.7 .3 2.5 .3-1.1 .4 2.6 .3-1.5 .4 1.4 .3-1.5 .3 1.9 .4 .1 .3 .2 .3 .5 .4-2.3 .3 1.1 .3-.9 .4 1.7 .3 1.1 .3-.8 .4-1.1 .3-2.2 .3 1.1 .4-.2 .3 .9 .3 3.4 .4-.1 .3-.4 .3-1.2 .4 1 .3 2.1 .3 1.1 .4-.6 .3 .5 .3 1.4 .4-1.6 .3-1.6 .3 .9 .4-.2 .3 2.6 .3-.2 .4-.6 .3-1 .3 1.6 .4-2.5 .3 2.7 .3-2.1 .4-.4 .3 .6 .3 1.5 .4-.4 .3 .7 .3-1.4 .4 1.9 .3-2.3 .4 2.1 .3-.9 .3-1 .4-.2 .3 1.5 .3-.1 .4-2 .3 1.2 .3 .4 .4-2 .3-2.5 .3 .3 .4-.1 .3-2.3 .3 1.8 .4-1.6 .3 1.8 .3-2.5 .4-1.2 .3 3.9 .3-.5 .4-.6 .3-.5 .3 .1 .4 .4 .3-.7 .3 2.5 .4-1.9 .3 .8 .3-2.1 .4 3.6 .3-2.5 .3-.1 .4 2.6 .3-2.4 .3 1.4 .4-.9 .3 1.7 .4-.9 .3 3 .4-2.3 .3 .6 .4 1.9 .3-3 .4 2.4 .3-2.6 .4 3.3 .3-2.8 .4 2.7 .3-2 .4 1.4 .3 0 .4-1.2 .3-.8 .4 1.1 .3 .2 .4-1.2 .3-1 .4 2.7 .3-3 .3 .5 .4-.1 .3 2.2 .3-3 .4 2.6 .3-2.4 .3 1.4 .4-.2 .3 .5 .4-.6 .3-1.2 .4 1.6 .3-1 .4 1.8 .3-3.2 .4 .8 .3 1 .4 .5 .3-1.6 .4 1.6 .3-1.8 .3 0 .4 2.2 .3 1.5 .4-.5 .3-3 .4 1.6 .3 1.5 .4 .1 .3 .3 .4-1.9 .3-1.1 .4 1.5 .3-1.3 .4 1.2 .3 0 .4-1.2 .3-1.9 .4 1.4 .3 .7 .4-.3 .3-1.3 .4 1.3 .3-.2 .4 .1 .3-.7 .3-1.7 .4 1.8 .3-2.1 .4-2 .3 .3 .4 1.6 .3-2 .4 .7 .3-1.8 .4-.1 .3-.7 .4 0 .4 .4 .3 .1 .4-1.9 .3-2.1 .4 3.1 .4-.3 .3-1 .4-1.8 .3 1.9 .4-.7 .3-1.3 .4-.6 .3 1 .3-1.4 .4 .4 .3 1.2 .3-.5 .4-.6 .3-.4 .3 3.6 .4-1.9 .3 1.6 .3 1.9 .2 120.5 .4-4.2 .5-6.5 .3 .6 .3-1.6 .4 3.5 .3 .6 .3-1.4 .4-1.3 .3 1 .3 0 .4-1.6 .3 1.7 .3-1.1 .4 2.6 .3 1 .3-1.4 .4 .3 .3-.5 .3 2.1 .4 1.2 .3-1.2 .3 1.7 .4 1.1 .3-3.2 .3 2 .4-1.4 .3-1.4 .3-.4 .4-.8 .3-1.5 .3 2.1 .4-.9 .3 1.2 .4-.2 .3 .1 .4 .8 .4-2.4 .3 .5 .4 1.6 .3 .4 .4-2 .4 1.4 .3-1 .4 2.7 .3-1.1 .4 .3 .2 .4 .2 .1 .2-.5 .2-2 .2-.9 .2 .4 .2-1 .2-.6 .1-1 .2 1.4 .2-2.5 .2 .5 .2-1.9 .2-.8 .2 1.8 .2-2.2 .2 .3 .2-1.9 .1-.3 .2 1 .2-2.3 .2 .1 .2-.7 .2-.4 .2-.5 .2-1.4 .2-1.3 .2-.1 .2 1.2 .1-1 .2-2.3 .2 1.1 .2-.8 .2-1.6 .2 .1 .2-1.4 .2 .9 .2-2.8 .2-.3 .1 .4 .2-.6 .2-.5 .2-.2 .2-1.2 .2-.7 .2 .5 .2-2.9 .2 0 .2-.6 .2 .1 .1-2.7 .2 1.5 .2-2 .2-2 .2-.1 .2-.2 .2 0 .2-1.9 .2 0 .2-1.9 .1-.2 .2-.8 .2-1.9 .2-.9 .2-1 .2-.6 .2-.1 .2 .5 .2-1.6 .2-1.2 .2-.7 .1-.4 .2-.6 .2-3.1 .2 1.1 .2-2.4 .2 1 .2-2.2 .2 .3 .2-.5 .2-.5 .1-1 .2-.5 .2-1.3 .2-.6 .2-1.7 .2-.8 .2-.2 .2-1 .2-.6 .2 .8 .2-1.3 .2 1 .2-2 .1-.5 .2 1 .2 .3 .2-2.5 .2 1.4 .2-1.1 .2 0 .2 0 .2-2.2 .2-.5 .2 1.9 .2-2.4 .2 .9 .2-1 .2-1 .2-.5 .1 .4 .2-.3 .2-1.2 .2 .6 .2 .1 .2-2.2 .2 .3 .2 .1 .2 .8 .2-.4 .2-.6 .2 0 .2-.3 .1-.6 .2 .3 .2 1.7 .2-.9 .2 .8 .2-.7 .2-1 .2 .7 .2-.7 .2-.5 .1 1.3 .2 .6 .2 .2 .2-1.9 .2-.1 .2 1.1 .2-.2 .2 .8 .2-1.7 .2 1.7 .2 .3 .1-.3 .2-1.2 .2 .8 .2-.6 .2-.5 .2 0 .2 .3 .2-.1 .2 .8 .2-.2 .1-.1 .2 .5 .2-1.7 .2 1.6 .2-1.3 .2 1.4 .2 0 .2-.2 .2-.8 .2 1.5 .2 .9 .1-1.6 .2 .9 .2-.5 .2-.8 .2 .9 .2-.2 .2 1.8 .2-1.6 .2-.1 .2 .4 .1 1.1 .2-1 .2 1.5 .2-1.3 .2 1.3 .2 .4 .2-2 .2 1.3 .2-.1 .2 .7 .2-.6 .1-1.1 .2 1.9 .2-.2 .2 .3 .2-1.5 .2 2.3 .2-1.9 .2 .4 .2 .6 .2 .2 .1-.3 .2 1.4 .2-1 .2 1.1 .2 .3 .2-.9 .2-.7 .2 2.5 .2-.7 .2-.3 .2-.4 .1 1.5 .2-.4 .2-.8 .2 2.1 .2 .1 .2-1.9 .2 .9 .2 .9 .2 .6 .2 .3 .1-1 .2-.6 .2 2 .2-.4 .2-1.1 .2 1.2 .2 1.1 .2-.1 .2 .2 .2 1 .2-.3 .1 .4 .2-.7 .2 .9 .2 0 .2 .9 .2 .1 .2 0 .2-1.3 .2 .3 .2 .6 .1 .9 .2 .2 .2-.3 .2-.8 .2 2.4 .2-1 .2 1.3 .2-1.4 .2 1.1 .2-.8 .2 1.5 .1-1.7 .2 .3 .2-.2 .2 2.3 .2 .4 .2-.8 .2 1.3 .2-.1 .2-1.1 .2 .6 .1-.4 .2 1.2 .2 .5 .2-.9 .2 .3 .2 .4 .2 .1 .2-.1 .2 .4 .2-.2 .2 .3 .1-.4 .2 2.2 .2-1.2 .2 .9 .2-.5 .2-.2 .2 2.1 .2-.5 .2 .7 .2-.5 .1-.6 .2-.1 .2 2.1 .2-1.5 .2 1.9 .2-.8 .2 0 .2 .3 .2 1.4 .2 .4 .2-1.3 .1 1 .2-.5 .2 .8 .2-.5 .2 1.7 .2-2 .2 1.2 .2-.1 .2 1.1 .2-1.5 .1 .1 .2 1 .2 .8 .2-1.4 .2 1.4 .2-.4 .2 1.1 .2 .7 .2-2 .2 2.2 .2-.7 .1 .7 .2-1 .2 .2 .2 1.9 .2-.2 .2 .7 .2-.6 .2 1 .2 .3 .2-.5 .1-.5 .2 .8 .2 0 .2 .2 .2-.6 .2 .8 .2 1.2 .2-1.6 .2 1.7 .2-.3 .2-1.3 .2 1 .1-.1 .2 .4 .2 .9 .2-1.8 .2 2.1 .2 .2 .2-.2 .2 .3 .2-1.6 .2 0 .2 .6 .2 0 .2 1.4 .2-.5 .1-.1 .2 .7 .2 .2 .2-1.3 .2-.1 .2 .2 .2-.4 .2 1.2 .2-1.6 .2 .3 .2 2.1 .2-.7 .2 0 .2 .9 .1-1.8 .2 .1 .2 .4 .2-.1 .2 .2 .2 .6 .2-.4 .2-1 .2 1.7 .2-.2 .2-.7 .2 .8 .2-.4 .2-1 .1 .6 .2 2 .2-1.6 .2-.5 .2 2.2 .2-.3 .2-1.4 .2-.4 .2 .5 .2 1.3 .2 .7 .2-1.5 .2-.6 .2 .6 .1 1.8 .2-1.8 .2 .2 .2 2.2 .2-1.3 .2-.6 .2 1.4 .2 1 .2-2 .2 2.1 .2-.3 .2-.1 .2-1.7 .2 1 .1 .9 .2 .2 .2-1.4 .2-.4 .2 1.8 .2-1.4 .2 .9 .2 .5 .2-.5 .2-1.6 .2 .4 .2-.2 .1 .5 .2 1.1 .2-1.5 .2-.8 .2 2.4 .2-1 .2-1 .2 1.1 .2-1 .2 1.2 .1-.1 .2-.3 .2-1.2 .2 1.5 .2-.2 .2-.6 .2-.2 .2 1.2 .2-.7 .2-.5 .2 .9 .1-1.3 .2 1.5 .2-.8 .2 0 .2 .5 .2-.4 .2 .3 .2-.5 .2 .3 .2-1.2 .1 .4 .2-1.5 .2 .8 .2 1.4 .2-2.3 .2 1.1 .2-1.6 .2 1.7 .2-.4 .2-.6 .2-.2 .2 1 .2-.9 .1-1 .2 1.2 .2-.4 .2-1 .2-.5 .2 .5 .2-.3 .2-.7 .2-.2 .2-.7 .2 .1 .2 .7 .2 .4 .2-2.1 .2 1.7 .2-2.1 .1 1.3 .2-.6 .2-.1 .2-1.2 .2-.3 .2 1.3 .2-1.9 .2 .2 .2-.4 .2 .4 .2-.7 .2-.2 .2 1 .2-1.1 .2-.2 .1 1.3 .2-1.1 .2 .9 .2-2.1 .2 1 .2-.9 .2-1 .2 .2 .2-.5 .2 1.3 .2-1.5 .2 2.2 .2-2.3 .2 1 .2-.8 .2 1.2 .1-2.4 .2 .9 .2-1.4 .2 .4 .2-.1 .2 1.2 .2-.5 .2-.7 .2 .4 .2-.8 .2-1.3 .2-1.1 .2 1.7 .2-2.8 .2 1.6 .1-2.3 .2 .1 .2 0 .2-1.2 .2 .9 .2-1 .2-.5 .2 1.3 .2-.5 .2-.6 .2-1.6 .2 .1 .2 .1 .2 .1 .2-1.2 .2-1.6 .1 1.4 .2-2.1 .2-.2 .2 .6 .2-1.5 .2 .8 .2-.9 .2 .2 .2-.6 .2-.2 .2 2.1 .2 0 .2-1.1 .2 .3 .2 .1 .1 .6 .2-.5 .2 .2 .2 .8 .2 .5 .2-.7 .2-.9 .2 1.1 .2 .7 .2-1.5 .2 1.4 .2 .7 .2-1.8 .2 .4 .2 0 .2 .7 .1-.9 .2 1.9 .2-1 .2 1.2 .2-.2 .2 .7 .2 .5 .2-1 .2 .1 .2 1.4 .2-.1 .2-.1 .2-.4 .1 .2 .2-.8 .2 1.2 .2 1.6 .2-.4 .2 .5 .2-.2 .2 .7 .2 .1 .2 .1 .1-2.1 .2 .8 .2 .5 .2 0 .2 1.6 .2-2.1 .2 .5 .2 .1 .2 1.9 .2 .6 .2-2 .1 1.6 .2-1.1 .2 2.2 .2 .2 .2-.4 .2 .8 .2-.1 .2 0 .2-.4 .2-.6 .1 .4 .2 1.7 .2-1.6 .2 1.5 .2-.5 .2 1.1 .2 .5 .2 1.4 .2-1.6 .2 .6 .2 .5 .1 2.9 .2 .5 .2 .4 .2-.2 .2-.7 .2 2.9 .2-1.7 .2 1.4 .2 1.8 .2-.9 .1-.3 .2 2.8 .2-1.1 .2 1.5 .2-.2 .2 1 .2 1.3 .2 .4 .2 .3 .2 1.5 .2-.4 .1 .6 .2 .9 .2 1.2 .2 0 .2 .6 .2 1.1 .2-.3 .2 2.5 .2-1.1 .2 .8 .1 1.9 .2 .2 .2 1.1 .2-.6 .2 1.7 .2 .9 .2-.4 .2 1.6 .2 .6 .2 .4 .2 .9 .1-.5 .2 1.1 .2 .2 .2 .8 .2 .9 .2-.8 .2 1 .2 1.1 .2-.8 .2 1.1 .1 1.2 .2-.2 .2 1.1 .2-.2 .2 .9 .2 .2 .2 1.1 .2-.3 .2-.3 .2 .3 .2 1.3 .1-.7 .2 .6 .2 2.5 .2-.6 .2 1.3 .2 .3 .2 .4 .2-.4 .2 .4 .2 .4 .1 0 .2 .1 .2 .8 .2 2.2 .2-.6 .2 .3 .2 .6 .2 1.6 .2-1.3 .2 1.1 .2 .8 .1-1.5 .2 2.5 .2-.2 .2-1.1 .2 1.1 .2 1.3 .2 .6 .2-.3 .2-.9 .2 .1 .1 1.4 .2 1.2 .2-.6 .2 1.2 .2 .3 .2 .5 .2-1.4 .2 1.8 .2-.3 .2 1.5 .2-1.1 .1 1.7 .2-.9 .2 0 .2 .1 .2-.2 .2 2.1 .2 .2 .2-.2 .2-.5 .2 1.3 .1 .2 .2 1.1 .2-1.9 .2 1.2 .2 .9 .2 .1 .2-1.6 .2 .4 .2 .8 .2-1 .2 .4 .2-.4 .2-1.5 .1-.5 .2-1 .2-.6 .2 .1 .2 1.6 .2-.5 .2-2.4 .2-.2 .2-.1 .2 1 .2-.9 .2-1.1 .2-.4 .2-.2 .2 .4 .2-.1 .1-1.8 .2 1.8 .2-1.5 .2-.2 .2-1.4 .2-.3 .2-.9 .2 .1 .2 .1 .2-1.4 .2 .6 .2 .5 .2-1.2 .2 .3 .1-1.5 .2-.7 .2-1.5 .2-.6 .2 1.4 .2-.9 .2-.3 .2-1.2 .2-.5 .2-.2 .2-1.8 .2 .7 .2-1.7 .1 .9 .2-.3 .2 0 .2 .1 .2-1.6 .2 .8 .2-1.4 .2-.2 .2 .6 .2 .2 .2 0 .2 1.5 .1 .7 .2 .9 .2 1.1 .2 .4 .2-.3 .2 .2 .2 1.6 .2-.8 .2-.2 .2 .8 .1 .4 .2 .6 .2 .4 .2 .4 .2 1.3 .2 0 .2 1.4 .2 .7 .2 2.9 .2 1 .1 .6 .2 .8 .2 1.3 .2 1.2 .2 2.6 .2 .6 .2 1.2 .1 1.2 .2 1.2 .2-.2 .2 2.5 .2 1.2 .2 .3 .2-.1 .2 .8 .2-.9 .2 1.2 .2-.3 .1 .5 .2 .9 .2-.3 .2 .8 .2-.5 .2-.8 .2 .6 .2-.8 .2 1.1 .2 .3 .2 0 .2 1.7 .2-1.1 .1-.3 .2 1.4 .2 .3 .2-1 .2 1.2 .2 0 .2 .1 .2-1.2 .2 .5 .2-.1 .2 1.5 .2 0 .2-.3 .1 .5 .2 .6 .2-1.4 .2 .5 .2-.3 .2 .9 .2 .2 .2 .4 .2 1.6 .2-1 .2 .8 .2-.9 .2 .8 .1 .6 .2-1.3 .2 .7 .2 .1 .2-.2 .2 1.4 .2 .2 .2 0 .2-1.6 .2 .1 .2 .7 .2-1.5 .2 .4 .2-.2 .1-.4 .2-.1 .2 1.6 .2-1.4 .2 1 .2 .1 .2-1.8 .2 1.9 .2-.3 .2-.7 .2-.8 .2-.3 .2 .1 .2 .8 .2 .1 .2-2.3 .1-.4 .2 1.2 .2 .2 .2-1 .2-.1 .2-.9 .2 .9 .2-1 .2 1.3 .2-1.9 .2-.6 .2 2.2 .2-1.1 .2-.7 .2 .3 .1 .3 .2-1 .2 1.6 .2-.1 .2-2.1 .2-.3 .2 1.4 .2-.6 .2-1.3 .2 .7 .2 .1 .2-1.4 .2 .2 .2 .3 .2-1 .2 .4 .1 1 .2-2.1 .2 1.9 .2-2.3 .2 2 .2-.7 .2-.7 .2-.4 .2-.5 .2 .7 .2-.3 .2 .7 .2-2.1 .2 .4 .1 .6 .2-1 .2-.9 .2-.7 .2 .5 .2 1 .2-1.7 .2 .2 .2 .5 .2-1.4 .2 1.5 .2-1.6 .2 1.5 .1-2.3 .2 .3 .2 .3 .2 0 .2-1 .2-1 .2 .6 .2 1 .2 0 .2-1.7 .2-1.3 .2 .6 .2-1.1 .1-.3 .2 1 .2 .1 .2 .6 .2-.2 .2-2.4 .2 1.9 .2-.2 .2-.6 .2 .1 .2-.9 .2 .3 .2-1.6 .1 .6 .2-1.8 .2-.4 .2 1.7 .2-1.1 .2-1 .2 .9 .2-1.7 .2 1.9 .2-.2 .2-.8 .2-1.5 .2-.9 .1-.4 .2 .9 .2 .1 .2-2.1 .2 1.8 .2-2.1 .2 .8 .2-2 .2 1.5 .2-1.9 .2 1.4 .2-.2 .2-2.5 .1-.1 .2 .3 .2 .5 .2-1.4 .2-.8 .2-.9 .2 1.9 .2-.3 .2-.7 .2-1.2 .2-.3 .2-.7 .2-.6 .1 .5 .2-.2 .2-.7 .2 .4 .2-1.2 .2-1 .2 .8 .2-.2 .2-.5 .2-.6 .2-.1 .2 0 .2-.4 .1-1.5 .2 1.7 .2-.8 .2-2 .2 .3 .2 .7 .2-1.3 .2 1.2 .2-.9 .2 .2 .2-1.7 .2-.5 .2 1.1 .1 .2 .2-2.1 .2 1.8 .2-.4 .2-1.8 .2-.3 .2 1.4 .2-1.8 .2-.3 .2 1.4 .2-2.7 .2 1.7 .2-1.7 .1-.4 .2 .2 .2 1.3 .2-.4 .2-.3 .2-.6 .2 0 .2-1.8 .2 .1 .2 1.3 .2-1.1 .2 .8 .2-1.6 .1 1 .2-1.4 .2 .6 .2-.1 .2 .5 .2-1.1 .2 .4 .2-1.3 .2 .9 .2-1.4 .2-.2 .2-.1 .2 1.2 .1-2.7 .2 1.2 .2 .7 .2-.7 .2-2.3 .2 .7 .2-.2 .2-.2 .2-1 .2 1 .2-1.4 .2 .9 .2-2.1 .1 .1 .2 .6 .2-.1 .2-.3 .2-1.4 .2-.5 .2 .2 .2-.9 .2 1.8 .2-2.3 .2 .7 .2-.9 .2-1 .1 .6 .2 .6 .2-.3 .2 .1 .2-.9 .2-1.8 .2 .5 .2 0 .2-.2 .2-.3 .2-1 .2-.4 .2-.3 .1-.6 .2-.3 .2-.7 .2 2 .2-.7 .2-2.3 .2 .3 .2-.3 .2 .8 .2-1.2 .2 0 .2 .8 .2-1.2 .1-1.3 .2 1.2 .2-.6 .2-.5 .2 .8 .2-2.5 .2 .4 .2-.5 .2-.1 .2-.7 .2 .3 .2-.5 .2 .2 .1-1.8 .2 .6 .2 .8 .2-1.9 .2-1 .2 0 .2 .3 .2 1.1 .2-.8 .2 0 .2-2.2 .2 1.4 .2-.7 .1 .7 .2-2.2 .2-.4 .2-.5 .2 .3 .2 .3 .2-.7 .2 1.2 .2-2.4 .2-.3 .2-.6 .2 1.5 .2-1 .1-.6 .2 .1 .2-1.4 .2 1.2 .2-.2 .2 .4 .2-.4 .2-2.3 .2 1.7 .2-1.7 .2-.2 .2-1 .2 .9 .1 .6 .2-2.3 .2 .8 .2-.1 .2-.3 .2-1.9 .2 .5 .2 .4 .2-.8 .2-.4 .2-.1 .2-.3 .2 .6 .1-1.1 .2 .3 .2-1.2 .2 .5 .2-.9 .2 .6 .2 .4 .2-.3 .2-1.7 .2-.5 .2 .4 .2 .7 .2-1.4 .1 1.7 .2-1.6 .2 1.1 .2-.8 .2-1.2 .2-.2 .2-1 .2 .3 .2 0 .2 .7 .2-1.2 .2 .6 .2-1.9 .1 1.1 .2 .7 .2-1 .2-.4 .2-.4 .2-1.5 .2 .2 .2 .5 .2 .2 .2-.2 .2-1.8 .2 .8 .2 .2 .1 .1 .2-1.2 .2-1.4 .2 .5 .2 .2 .2 .5 .2-1.1" fill="none" stroke="#FF8577" stroke-width="3.55" stroke-linejoin="round"/>
<path d="M349 176l.3-.5 .4 1.2 .3 .7 .3 4.2 .4-1.7 .3 .9 .3 4.8 .4-1.8 .3 2.7 .4-1.1 .3 2.6 .4 .1 .4 3.4 .3 .2 .4 1.2 .3 1.6 .4 1.6 .4-.9 .3 2.2 .4 .6 .4-.1 .3 4.1 .4 .4 .4 2.1 .3-1.1 .4 2.6 .3 1 .4 2.3 .4-1.4 .3 2.2 .4 1.8 .4-.2 .3 3.3 .4 2.3 .4 .2 .3 2.5 .4 1.5 .3 .1 .4 2.1 .4 4.2 .3-1 .4 2.8 .4-.3 .3 2.4 .4 1.6 .4 4.8 .3 1.1 .4 2.4 .3 2.2 .4 0 .4 2.8 .3-.1 .4 1.3 .4 3.3 .3 1.4 .4 1.7 .4-.2 .3 2.7 .4 .2 .3 4 .4 1.3 .4-.8 .3 4.2 .4-.1 .3 .8 .4 4.6 .3 .9 .4 .3 .3 .2 .4-2.6 .3 2.3 .4-2.4 .3 .1 .3-.9 .4 1 .3-.5 .4-2.3 .4-1 .3 .4 .4 .2 .3-1.7 .3 0 .4 2.1 .3-.6 .4 .7 .3-.5 .4-2.2 .4-1.5 .3-1.6 .4-.2 .3-.2 .4-.4 .3-.6 .3-1.4 .4 1.3 .3-2.9 .4 0 .4 1 .3-1 .4-2.8 .3-1.1 .3 1.4 .4-3.9 .3-.4 .4 .8 .3-.7 .4-.8 .4-2.5 .3-.2 .4 1.4 .3-2 .4 1.2 .4-1.6 .3-.1 .4-4.6 .3-.3 .4-1.6 .4 .8 .3-1.2 .4-2.1 .3 .9 .4-2 .4 2 .3 1.6 .4 4.1 .4 .4 .4 1.4 .3 1.2 .4 3.7 .3 3.1 .4 2.5 .3 3.3 .3 2 .4 .2 .3 2.6 .3 4.6 .4 3 .3 1.7 .3 4.2 .4 1.8 .3 1.8 .3 2.3 .4 2.1 .3 4.9 .4 4.8 .3 3.5 .4 1.8 .4 4.3 .3 4.8 .4 3.3 .3 3 .4 3.1 .4 4.2 .3 2.4 .4 4.5 .3 4.2 .4 4.1 .3 1.1 .3 2.3 .4 2.6 .3 3.3 .3 4.2 .4 1.4 .3 3.6 .3 2 .4 4.6 .3 4.7 .3 3.6 .4 5.6 .3 3.2 .3 6 .4 3.7 .3 2.6 .3 7.1 .4 4.9 .3 5.2 .3 3.6 .4 6.7 .3 6 .3 2 .4 7.4 .3 4.4 .3 5.4 .4 6.7 .3 5.4 .3 3.7 .4 3.1 .3 6.4 .3 5.1 .4 7.4 .3 7.3 .3-4.5 .4-3.5 .3-.6 .3-3.3 .4-5.7 .3-2.9 .3-5.5 .4-5.5 .3-4.5 .3-2.1 .4-8.5 .3-4 .3-5.5 .4-5.4 .3-3.2 .3-4.1 .4-4.7 .3-6.6 .3-38.5 .3-42.2 .3-13.3 .4-10.7 .3-16 .4-7.6 .3-6.7 .3-8.3 .4-6.8 .3-.4 .4 1.8 .3 3.8 .3-2.1 .4 3.9 .3-1.4 .3 6.5 .4 2.7 .3 3.8 .3 1.9 .4 3.5 .3 6.1 .3 1.7 .4 3.5 .3 5.9 .3 3.6 .4 .2 .3 5.5 .3 1 .4 .5 .3 0 .3 2.1 .4 3.4 .3-1.7 .3 .4 .4 1.1 .3 2 .4 1.8 .3 4.1 .4-1.3 .4 2.4 .3 4.8 .4 2.2 .3 1.8 .4-1 .4 2.2 .3 4.1 .4-.4 .3 4.1 .4 1.4 .3 1.7 .3 4 .4 4.3 .3 2.8 .3 1.9 .4 2.3 .3 3.2 .3-6.7 .4-5.7 .3-4.9 .3-8.4 .4-4.5 .3-5.4 .3-17.6 .4-20.6 .3-15.7 .4 .5 .3-2.5 .4 .5 .3-.1 .4-.5 .3 3.8 .4-2.1 .3 2.1 .4-2.7 .3-.1 .4 3.7 .3 0 .4 1 .3-.9 .4-.6 .3 1 .4-1.9 .4 .9 .3-.6 .4-1.2 .3 1.6 .4-1.1 .3 .8 .4-.5 .3-.2 .4 .3 .3 .9 .4 1.6 .3-.2 .4-.4 .3-.2 .4-2.2 .3 2.6 .4-2 .4-1.8 .3 1.2 .4 .7 .3-1.8 .4 .9 .3-1.6 .4 2.4 .3-2.2 .4-.2 .3-.1 .4 1 .3 .1 .4-2.1 .3-.7 .4 .4 .3-2.5 .4 1.1 .4 1.4 .3-.6 .4-3.1 .3 2.8 .4-2.2 .3 2.1 .4-2.7 .3-.8 .4 1.1 .3 1.1 .4-2.1 .3 1.5 .4-.9 .3-1.6 .4-.6 .3 .6 .4-.6 .4-.6 .3 .7 .4 .6 .3-1.5 .4-1.9 .3 0 .4 .3 .3 .7 .4-2.2 .3-.5 .4 .5 .3-.5 .4-1.4 .3 1.6 .4 1.1 .3-2 .4 .4 .4 .1 .3-.3 .4 0 .3-2.1 .4 .6 .3-2.4 .4 2.6 .3-2.3 .4 0 .3 1.3 .4-2.8 .3-.7 .4 2.1 .3-1.3 .4-2.3 .3-.5 .4 .8 .4-1.7 .3 2.8 .4-3 .3-.1 .4 0 .3-.1 .4-.8 .3 .2 .4-.4 .3-1.5 .4-1.8 .3 2.8 .4-1.7 .3-3 .4 .9 .3 .6 .4 .3 .4-4.2 .3-.6 .4 1.5 .3-.5 .4 1.5 .3-.6 .4-2.2 .3 0 .4 .3 .3 .7 .4-3.1 .3 .3 .4-1.6 .3 1.7 .4-2.8 .3 3.1 .4-2.7 .3 .5 .4-2.2 .3 .3 .4 .6 .3 1.3 .4-1.6 .3-1.3 .4 2.4 .3-1.6 .4-.9 .3-1.6 .4 .1 .3 2 .4-3.2 .3 1.3 .4 .1 .3-1.3 .4 1.4 .3 .4 .4-.5 .3-.8 .4-2.5 .3 .3 .3-.5 .4-1.2 .3-1.2 .4 2 .3-3.1 .4 1.9 .3 0 .4-3.7 .3 2.6 .4-2.5 .3-1.1 .4-.7 .3-1.3 .4 1.2 .3-1.1 .4 1.1 .3-.7 .4-3.7 .3 .7 .4-.8 .3-1.5 .4-.4 .3 .2 .3 .4 .4-1.9 .3-1.4 .4-.1 .3 .4 .4 0 .3-1.7 .4 1.3 .3-2.4 .4 1.3 .3-.5 .4-2 .3 2 .4-1.6 .3 .3 .4 0 .3-.1 .4-1.1 .3-2 .4 2.5 .3-.1 .4-1.9 .3-.8 .4-.4 .3 2.4 .4-1.1 .3-2 .4 2.1 .3 .4 .4-2.7 .3 2.4 .4-2.1 .3-1 .4 2.3 .3-1.3 .4 1.7 .3-.4 .4-1.7 .3 1.7 .4-.1 .3-.2 .4 .3 .3 1.3 .4-1.6 .3 .2 .4 .4 .3 1.1 .4-2.4 .3-.4 .4 2.7 .3-.7 .4-.9 .3 2.3 .4 .2 .3-1.2 .4 1.9 .3-.4 .4-.2 .3-1.6 .4-1 .3 2.9 .4 .5 .3-.9 .4 .2 .3 .4 .4-1.2 .3 1.9 .4-.5 .3-.7 .4-1.1 .3 1.7 .4-.9 .3 1.6 .4-2.2 .3 .7 .4-1 .3 .6 .4 .5 .3-2.1 .4-.4 .4 1.4 .3-1.1 .4 1.3 .3-1.2 .4-.2 .3 1.8 .4 1.6 .3-.1 .4-1.4 .3-.6 .4-1.5 .3 .7 .4 0 .3 2.3 .4-3.4 .3 3.2 .4-1.3 .3-.6 .4-.7 .3 2.7 .4-3 .3 1.5 .4-.3 .3-1.5 .4-.2 .3 2.7 .3-1 .4-.5 .3 .4 .4-3.4 .3 2.3 .4 .2 .3-2.1 .4 .8 .3 2 .4-2.6 .3 1.7 .3-2.5 .4 1.8 .3-1.7 .4 .8 .3-.7 .4 1.8 .3-.6 .4-1.2 .3-.5 .3-.2 .4 1.2 .3-2.3 .4 .9 .3-.1 .4-.9 .3-1.4 .4 .5 .3 1.9 .3-1.7 .4 2.2 .3-1 .4 1.8 .3-.7 .4-.7 .3-1.7 .4-1.5 .3 1.7 .4 .5 .3 .4 .3-3 .4-.3 .3 3 .4-1.1 .3-1.1 .4 .8 .3-2.4 .4 1.4 .3 .4 .3 .1 .4-1.5 .3 .1 .4 2.2 .3 1.2 .4-2.8 .3-.5 .4 .3 .3 2.7 .3-1.6 .4 .2 .3 2.1 .4-1.5 .3-1.2 .4 1.8 .3-2.6 .4 1.3 .3 1.7 .4-1.9 .3-.4 .3 2.1 .4-.6 .3 2.6 .4-3.2 .3 2.9 .4-1.5 .3 1.8 .4-1.3 .3 .7 .4-1.2 .3-.5 .4 .7 .3 1.1 .4-1.9 .3-.7 .4 .4 .3-1.6 .4 .5 .3 .7 .4-.5 .3-.1 .4-1.6 .3-1.3 .4-.2 .3 .9 .4-.8 .4 1.2 .3-1.4 .4 1.7 .3-.7 .4 .2 .3 .3 .4-.9 .3-.4 .4-.5 .3-1.1 .4 2.5 .3-1.5 .4-1.9 .3 2.9 .4-1.8 .3-.2 .4-.7 .3-1.3 .4 3.7 .3-3 .4 1.1 .3 2.8 .4-3.2 .3 1.8 .4 .1 .3-.8 .3 2.8 .4-1.9 .3-1.5 .4 2 .3-1.7 .4 2.8 .3 .6 .4 .2 .3-3.3 .4 2.4 .3-1.4 .3 .7 .4-.6 .3 .1 .4-.5 .3 2.1 .4-2 .3 3.6 .4-3.4 .3 2.5 .4-1.4 .3-.1 .4 3 .3-.5 .4 1.3 .3-.6 .4 .8 .3-1.8 .4 2.7 .3-.2 .4 2.1 .3-3.3 .4 .6 .3 2.8 .4 1.3 .3-1.6 .4 .7 .3-.1 .4-.9 .3 .1 .4 .3 .3-2.5 .4 .9 .3 1.4 .4-2.1 .3 .7 .4-1.1 .3 .2 .4 .9 .3 .2 .4 .6 .3-2.1 .4-1.3 .3 .3 .4-1.3 .3 .6 .4 1.2 .3-.1 .4-1.5 .3 .1 .4-.9 .3 .3 .4 1.2 .3-1.2 .4 2.2 .3-1.4 .4-1.1 .3 .1 .4-1.8 .3 2.5 .4 0 .3-1.7 .4 1.3 .3-1.9 .4-.3 .3-.1 .4-.3 .4 1.6 .3 0 .4 .3 .3-2.5 .4 2.6 .3-1.2 .4-.4 .3 .2 .4-.5 .3-1.1 .4 .5 .3 .8 .4 0 .3 .6 .4-3 .3 2.6 .4-1 .3-6.9 .4-6.1 .3-10.4 .4-4.6 .3-6.6 .4-10 .3-5.5 .4-17.8 .4-22 .4-18.7 .4 21.5 .4 17.7 .4 18.9 .4 5 .3 7.6 .4 3.6 .3 4.8 .4 5.8 .3 7.2 .4 2.7 .3 4.4 .4 7.7 .4-2.2 .3-.8 .4 1.2 .3-3.9 .4-1.9 .3 1.9 .4-3.7 .3-1.2 .4 1.6 .3-4 .4 1.7 .3-3.2 .4-1.1 .3-1.3 .4 .3 .3-.8 .4-1.3 .4-1 .3-1.9 .4 1 .3-.7 .4-1.7 .3-.9 .4-4 .3-.5 .4-1.4 .3-1.5 .4 2 .3-1.5 .4-1.3 .3-2.6 .4-2.8 .3 .3 .4-.9 .4 1.8 .3-2.4 .4 .1 .4 2.7 .3-3 .4 2.7 .3-2.5 .4 1.3 .4-2.2 .3 3 .4-2 .3-.2 .4 1.4 .3-.1 .4-1.2 .3-.4 .4 1.9 .3-2.1 .4 3.7 .3-1.7 .4-.3 .3 1.1 .4-.5 .3 1.2 .4 1.3 .3-.3 .4 0 .3 0 .4 1 .3 1.4 .4-1.1 .3 1.5 .4-.9 .3 0 .3-.5 .4 3 .3-1.1 .4 0 .3 .8 .4 1.7 .3-1.7 .4 .2 .3 .3 .4-1.2 .3 2.3 .4 0 .3 .3 .4 .2 .3 .5 .4 1.3 .3-1.7 .4 3.5 .3-3 .4 3.4 .3-2.4 .4 2.7 .3-1.4 .3-1.2 .4 1.7 .3 1 .4-.1 .3-.1 .4 .1 .3-3.9 .4 1 .3-1.4 .4 2.2 .3-1.4 .4 .9 .3-.3 .4-.1 .3-.2 .4-.1 .3-.1 .4-.1 .3-.2 .4-.1 .3-.1 .4-.2 .3-.1 .3-.2 .4-.2 .3-.3 .4-.2 .3-.2 .4-.2 .3-.2 .4-.2 .3-.3 .4-.2 .3-.2 .4-.2 .3-.2 .4-.2 .3-.3 .4-.2 .3-.2 .4-.2 .3-.2 .4-.2 .3-.3 .4-.2 .3-.2 .4-.3 .3-.3 .3-.3 .4-.3 .4-.3 .3-.3 .4-.3 .3-.3 .3-.3 .4-.3 .4-.3 .3-.3 .3-.3 .4-.3 .3-.3 .4-.3 .4-.3 .3-.3 .3-.3 .4-.3 .4 .2 .3 .3 .3 .3 .4 .2 .4 .2 .3 .3 .4 .3 .3 .2 .3 .2 .4 .3 .4 1.1 .3 1.1 .3-1 .4 1 .3-1 .4-1.6 .4 3.5 .3-2.9 .3 .3 .4 2.4 .3-1.1 .4 1.6 .3-2.2 .4 .9 .3 2.1 .4-2.6 .3 1.9 .4 1.7 .3-2.7 .3 2 .4 .2 .3-.4 .4 .7 .3-.1 .4-2.5 .3 .8 .4 1.5 .3 1.9 .4-2.8 .3 1.7 .3-1.6 .4 3.1 .3-1.4 .4 .6 .3 .8 .4-1.9 .3 2.3 .4 .3 .3-.8 .3-1.7 .4-.7 .3-.7 .4 2.4 .3-2 .4-.4 .3 .4 .4 .5 .3-1.6 .3-.1 .4 1.6 .3-.2 .4-2.1 .3-1.1 .4 3.1 .3-1 .4-.8 .3-1 .4 1.9 .3-2.4 .3-1.2 .4-.9 .3 .7 .4 .6 .3-1.3 .4 1.9 .3-1.5 .4-1 .3 .3 .3 1.6 .4 1.7 .3 1.1 .3 1.8 .4 1.6 .3 2.4 .3 5 .4 9.1 .3 4.9 .3 9 .4 3.7 .3 8.1 .3 13.4 .4 14.3 .3 11.2 .3 13.4 .4 12.7 .3 14.9 .3 129.9 .4 127.7 .3 130.7 .3 130.1 .4 132.9 .3 128.5 .3-2.5 .4-3.5 .3-1 .3-1.8 .4-2.9 .3-3.4 .3 .7 .4 .7 .3-1.1 .3 3.4 .4-1.2 .3 1 .3 2.3 .4 1.3 .3 1.2 .3 2.9 .4 .2 .3 1 .3 .1 .4 3.3 .3 .6 .3 2 .4 .7 .3 1.7 .3-4.5 .4-2.4 .3-3 .3 .2 .4-3.9 .3-3 .3 .7 .4-.4 .3-2.3 .3 2.5 .4-2.1 .3 1.7 .3-1.6 .4 1.2 .3 .5 .3 3 .4 .5 .3-.4 .3 1.3 .4 4 .3 3.9 .3 .3 .4 6.2 .3 1.2 .3-1.6 .4-4.2 .3-3.5 .3-1.9 .4-6 .3-2.6 .3 1.8 .4 3.3 .3 5.6 .3 .4 .4 5.7 .3 1.8 .3 1.5 .4-.7 .3-.6 .3 0 .4-3.7 .3 .9 .3-3 .4-2.7 .3-1.9 .3-2 .4-3.3 .3-2.8 .3 2 .4 .8 .3 2.7 .3 3 .4 2.4 .3 .9 .3-1 .4 .6 .3-1.9 .3 2.2 .4-3.8 .3 1.6 .3-.2 .4-1.3 .3 1.3 .3-.5 .4 1.8 .3-1.8 .3 3.3 .4 4.2 .3 3.1 .3 .1 .4 5.5 .3 1.8 .3-3 .4-5.7 .3-6.2 .3-5.5 .4-3 .3-5.5 .3 .8 .4-1.1 .3 .5 .3-2.2 .4-.7 .3 1.2 .3 4.5 .4 3.6 .3 5.5 .3 4.2 .4 5.6 .3 4.6 .3-4.1 .4 0 .3-3.1 .3-3.2 .4-4.5 .3-2 .3 .1 .4-.6 .3-1.6 .3-2.9 .4 .9 .3-1.9 .3 0 .4 1.4 .3 .1 .3 1.4 .4 1.1 .3 .6 .3-2 .4 2.1 .3 1.8 .3-.8 .4 0 .3 .1 .3 .4 .4 5.3 .3 1.6 .3 2.1 .4 1.2 .3 2.8 .3-297.9 .4-295.1 .3-297.5 .3-3.6 .4-6.3 .3-7.1 .3-4.7 .4-7.3 .3-4.9 .3-3.4 .4 1.1 .3-2 .3-1.7 .4-4.3 .3 1.2 .3-4.8 .4 .6 .3-1.7 .3-.3 .4 3 .3 3.4 .3 .5 .4 .4 .3 3.5 .3-.4 .4 3.6 .3-.6 .3 0 .4 4.8 .3-2.2 .3 2 .4 3.4 .3-1.2 .3 3 .4 2.6 .3-.2 .3-1.7 .4 .3 .3-1 .3-2.4 .4-1.3 .3-2.6 .3-1.1 .4 .9 .3-2.8 .3-4 .4-.6 .3-1.3 .3 .8 .4-3.7 .3-1.5 .3 1 .4-3.7 .3 .9 .3 .2 .4 3.1 .3 1 .3-1 .4 3.6 .3 0 .3 .6 .4 .7 .3 3.6 .3 8.4 .4 7.6 .3 10.6 .3 6.1 .4 9.5 .3 7.1 .3 9.4 .4 10.4 .3 6.7 .3 32 .4 33.5 .3 34.6 .4-21.3 .3-17.7 .3-23.2 .4-17.6 .4-4.1 .3-3.2 .4-5.9 .3-5.1 .4-3.5 .4-2.2 .3-6.4 .4-3.6 .3-1.4 .4-4.5 .3-5.8 .4-6.7 .3-7.8 .3-5.4 .4-7.4 .3-7.2 .3-7.2 .4-8.2 .3-5.2 .3-6 .4-4.5 .3-6.6 .3-2 .4-6.9 .3-5.3 .3 6.5 .4 2.8 .3 8 .3 5.8 .4 2.7 .3 5.7 .4 2.5 .3 1 .4 .3 .4-1.2 .3 1.1 .4-1.5 .3 .8 .4 1.1 .4 1.6 .3-2.1 .4 3 .3-1.9 .4 4.5 .3-2 .3 3.1 .4 .9 .3 1.4 .3-.8 .4 2 .3 .2 .4 .5 .3-3.7 .4 2.2 .4-2 .3-3.1 .4 2.3 .3-3.6 .4-2 .4-.4 .3-2 .4 0 .4 .7 .3 .3 .4-2.2 .3 0 .4-1 .3-1.2 .4-2.1 .4-1.5 .3-1.4 .4 .5 .3-2.3 .4 1.1 .3-2.6 .4-.1 .4 1.1 .3 1.4 .4-.7 .3 1.5 .4 2.8 .3-.7 .4 2.9 .4 2.2 .3-1.3 .4 3.2 .3-.3 .4 2.3 .3-.7 .4 .7 .4-.9 .3-3.7 .4-.5 .4-1.6 .3-2.3 .4-1 .3-.8 .4-2 .4-1.4 .3-4.1 .4 .1 .4 2.2 .3 3.2 .4-1.8 .4 2.5 .3 5 .4-.5 .3 3.1 .4 1.4 .4 1.1 .3 2 .4 1.7 .4 3.8 .3-.2 .4 2.6 .4-.3 .3 3.2 .4 1.2 .3 2.1 .4 2.2 .4-1.6 .3 5.1 .4-.1 .4-2 .3-.2 .4-2.4 .4-.4 .3 1.4 .4-1.5 .3-.3 .4-3.7 .4-1.2 .3 .2 .4-.2 .4 1.2 .3-1.1 .4 2.3 .4-.1 .3-.6 .4 2.5 .3-2.3 .4 2.6 .4-1.1 .3-.1 .4 2.6 .4 2.7 .3 3.2 .4 2 .4 5 .3 2.3 .4 .4 .3 2.3 .4 6.8 .4 .9 .3 1.8 .4 4.4 .4 2.6 .3-.5 .4 2.3 .4 2.6 .3 .1 .4 2.5 .3 2.6 .4 .7 .4 .8 .3 1.4 .4 1 .4 .9 .3 .3 .4 0 .3-.2 .4 1.3 .3-2 .4 1.9 .3 1 .4-3.7 .3 .7 .4 2.9 .3-3.7 .4 3 .3-.6 .4-1.7 .3 2.5 .4-.8 .4 3 .3-1.1 .4 3.4 .3 .7 .4-2.2 .3 1.8 .4-.2 .3 3.1 .4-1.8 .3 .7 .4 1 .3 3.8 .4-1.5 .3 1.2 .4 1.3 .3 1.3 .4 .1 .3 2.9 .4-1.8 .3 1.1 .4 2 .3-1.9 .4 .3 .3 3.1 .4-1.4 .3 2.8 .3 .2 .4-1.2 .3 .4 .4-.3 .3 3.6 .4-1.2 .3 .1 .4-.2 .3 .7 .4 3 .3-2.5 .3 2.2 .4 .7 .3 0 .4 .4 .3 0 .4-.4 .3 2.9 .4 .7 .3-.5 .3-1.2 .4 3.1 .3-2.4 .4 .3 .3 2.2 .4 1.3 .3-.6 .4-1.6 .3 3.5 .4-3.1 .3 .9 .4 2.6 .3-.6 .4 0 .3-2.5 .4 3.4 .3-1.5 .4-1.3 .3 3.4 .4 .8 .3-3.1 .4 1.9 .3 1.1 .3-.8 .4 .3 .3 2.3 .4-.9 .3 2.6 .4-.2 .3 .4 .4-.3 .3-1.7 .4 2.2 .3-.1 .4 0 .3 .6 .4-.7 .3-.1 .4 3.1 .3-1.8 .4-.7 .3 3.8 .4-1.5 .3 1.1 .4-.9 .3 .5 .3 .2 .4 2.3 .3-1.9 .4 2.8 .3-2.2 .4 2.4 .3-2.7 .4 1.1 .3-1.1 .4 .2 .3 1.5 .4-.5 .3 .8 .4-1.1 .3 .4 .4 .2 .3 2.4 .4-3.1 .3 1.4 .4 1.9 .3-1 .4-1.1 .3 2 .3-2.5 .4 0 .3-.6 .4 1.8 .3 1.7 .4-2.2 .3 0 .4 2.1 .3-2.8 .4-.2 .3 2.4 .4-2.4 .3 1.5 .4-1.7 .3 1.7 .4 .8 .3-1.8 .4-.7 .3 1.3 .4 .3 .3-2.5 .4 .7 .3 .6 .3 .6 .4-.9 .3 1.5 .4-1.6 .3 2.5 .4-2.1 .3-.6 .4-.5 .3 .2 .4 .4 .3 2.6 .4-1.8 .3 .2 .4 2.1 .3 .1 .4-.8 .3-1.9 .4 .6 .3 .8 .4-.8 .3 .5 .4-.3 .3 .9 .3 1.5 .4-.4 .3-.5 .4 .3 .3 .7 .4 .4 .3-2.4 .4 3.2 .3-1.6 .4-.5 .3 2.3 .4-.8 .3-1.7 .4-1.3 .3 1.7 .4 .2 .3 0 .4-.8 .3 2.1 .4-1.1 .3 2.3 .4-.8 .3-.6 .3 1.9 .4-1.4 .3-1.4 .4 .8 .3-.9 .4 1.5 .3 .3 .3-18.3 .3-22 .4-1.4 .3 0 .4-.5 .3 .4 .4 .7 .3-2.7 .4 1.6 .4-.5 .3 .6 .4 .4 .3-2 .4 .4 .3-1.8 .4 .3 .4 .6 .3-2.2 .3 1.8 .4-.1 .4-1 .3 .6 .4 2.6 .3-1.5 .3-.2 .4 .7 .4 1.2 .3-.1 .3 0 .4 .2 .3-.2 .4 1.4 .4 .6 .3-1.7 .3 2.1 .4-.8 .4 1.5 .3-.9 .4-4 .3 1.5 .4-2.2 .3-1.6 .4 2.5 .3-.4 .4-1.1 .3-1.1 .4 .8 .3-2.2 .4 0 .3-.7 .4 .2 .3-.6 .4-1.9 .4 .5 .3 3 .4 2 .4 .8 .3 3.8 .4 1.7 .3 1.2 .4 1.2 .4 2.4 .3-.2 .4 3.3 .3-1.9 .4 3 .3-1.2 .4-1.4 .3-.4 .4 1.5 .3-.5 .4 .9 .3-2.4 .4 3 .3-1.8 .4 0 .3 1.2 .3-.5 .4-.6 .3-.6 .4 .7 .3-1.6 .4 .9 .3 2.3 .4-3 .3-.3 .4 2.7 .3-2 .4 .4 .3 .1 .3 .1 .4-1.8 .3 1.6 .4-3.1 .3 3.2 .4-2.3 .3 1.2 .4-1.4 .3 1.6 .3-1.6 .4 .8 .3-1.3 .4 1.9 .3-.3 .4-2.4 .3 2.1 .4 .6 .3-2.9 .4-.4 .3 2.8 .3 0 .4-3.4 .3 2.4 .4 .4 .3-2.7 .4 1.8 .3-2 .4 1.8 .3-.8 .3-.8 .4-1.4 .3 2.2 .4 .2 .3-1.5 .4-.9 .3 .3 .4 .7 .3 2.9 .3-1.2 .4 .5 .3-.8 .4-2.6 .3 .9 .4 2 .3-.5 .4 .2 .3-1 .4-.7 .3-.2 .3 .3 .4-2.2 .3-1.9 .4 1 .3-1.2 .4 1 .3 1.2 .4-1.3 .3 .7 .3-1.3 .4 1 .3 .6 .4 .3 .3 1.3 .4-3.5 .3 .7 .4-.7 .3 3.3 .3-1.2 .4 .1 .3 .6 .4-3.2 .3 3.6 .4-2.3 .3 1.2 .4-.9 .3 1.4 .4-1.8 .3 0 .3-.1 .4 1.8 .3-1 .4-1.1 .3 .8 .4 .9 .3-.7 .4 .9 .3 0 .3 .2 .4 .5 .3-2.1 .4 2.1 .3 .1 .4-1.7 .3-2.2 .4 .1 .3 2.5 .3 .2 .4-.7 .3-1.1 .4 0 .3-1.9 .4 1.7 .3 1.4 .4-3.3 .3 1.4 .4 .8 .3-1 .3-1.3 .4-.6 .3 1.7 .4 .7 .3-.3 .4-2 .3 1.2 .4 .2 .3-1.2 .3 .9 .4-1.5 .3-.8 .4-.9 .3 2.8 .4 0 .3-2.9 .4 0 .3 1 .3-.4 .4 2.1 .3-2 .4 1.6 .3-.1 .4-.7 .3 2 .4-1.6 .3 .3 .4 .6 .3-1 .3-.9 .4 3 .3-.8 .4-.8 .3-.4 .4 .4 .3-1.4 .4-1 .3 1.7 .3 1.5 .4-3.1 .3 3.5 .4-2.4 .3 2.5 .4-.8 .3-2 .4-.2 .3 2.8 .3 .4 .4-.5 .3-.8 .4 0 .3 1.1 .4 .3 .3 .1 .4-2 .3 2.3 .4 .6 .3-1.3 .3-2.1 .4 .9 .3 1.9 .4-.7 .3 2.1 .4-.9 .3 .4 .4-2 .3 1.5 .3 1.2 .4 1.2 .3 .3 .4-2.1 .3 1.4 .4 2.2 .3-3.1 .4 .3 .3 .8 .3 2.4 .4-1.3 .3 1.7 .4 .7 .3 .2 .4-2.7 .3 2.8 .4 .8 .3 .1 .4 1.1 .3 .2 .3-.3 .4 1.4 .3-.8 .4-1.4 .3 1 .4 2.9 .3-2.1 .4 .9 .3 .6 .3 .2 .4 .1 .3-1.6 .4-.1 .3-2 .4 .2 .3-.5 .4 1.2 .3-.4 .4-2 .3 1.9 .4-2.4 .3 .9 .4-1.7 .3 1.5 .4-1.6 .3 2.9 .4-2.5 .3 1.6 .4-1.7 .3-.7 .4 1.8 .3-1.9 .3 .3 .4 .5 .3 1.3 .4-1.2 .3-2.6 .4 1.6 .3 1.9 .4-.5 .3-2.1 .4-1.1 .3 .4 .4 1.8 .3-2.4 .4 2.6 .3-2.5 .4 1.6 .3 0 .4-1.8 .3 1.1 .4 .4 .3-1.4 .4 .9 .3-.3 .3 2 .4-2.4 .3-.2 .4 1.5 .3 .6 .4-.3 .3 1.9 .4-2.6 .3 1.5 .4 0 .3-.8 .4 1.2 .3 .2 .4 0 .3 1.9 .4 1.2 .3 .2 .4-2.6 .3 .9 .4 2.6 .3-3.1 .4 .4 .3 1.2 .3 2.6 .4-1.6 .3-.2 .4-1.1 .3 3.1 .4 .3 .3-1.2 .4 .8 .3-1.3 .3-1.1 .4-.6 .3 .6 .4-.4 .3 1 .4-1.1 .3 .2 .4 3.5 .3 0 .4 .1 .3-1.7 .3 .5 .4 .4 .3 1.1 .4-1.8 .3 .9 .4 .3 .3 1.3 .4-1.7 .3 .1 .3 .3 .4 1.9 .3-2.8 .4 1.8 .3-2 .4 .4 .3 1.3 .4-2.1 .3 1.3 .3 .4 .4-.9 .3 1.3 .4 .2 .3-2.5 .4 1.7 .3-.3 .4-.9 .3-.2 .4-.3 .3 .7 .3-.2 .4-1.6 .3 1.5 .4 .3 .3-1 .4 1.7 .3-2.4 .4 .8 .3-.6 .3 .9 .4-1.4 .3 2.2 .4-2 .3 1.8 .4-.1 .3 1 .4 .8 .3 .7 .4-2.9 .3 2.8 .4-1.5 .3 .5 .4-1.5 .3 3.5 .4-2.2 .3 .5 .4 .4 .3 0 .4 .4 .3 .2 .4 1.1 .3 .2 .3 1.2 .4 .9 .3 .3 .4-1.6 .3 1.7 .4 .7 .3 .4 .4-.7 .3-.3 .4 2.7 .3-.1 .4-.9 .3 1.6 .4-2 .3 3.1 .4 .7 .3 .6 .4-2.9 .3 2.6 .4 .8 .3-2.1 .4 2.2 .3-.8 .4-.2 .3-.6 .4 1.1 .3 2.3 .4-.9 .3 .9 .4 .8 .3-3.1 .4 2.8 .3 .3 .4-.9 .3-1.2 .4-.5 .3 1.1 .4-.1 .3-.4 .4 1.8 .4 0 .3-1.4 .4-.2 .3 1.4 .4 1 .3-.1 .4 0 .3 1.1 .4-.5 .3-1.1 .4 1.2 .3-.2 .4-1.2 .3-.7 .4 .8 .3 1.4 .4-.3 .3-1.5 .4 .8 .3-2 .4 2.1 .3-.6 .4 1.3 .3 .4 .4-3.1 .3 3.6 .3-3 .4 2.9 .3-.1 .4-3.2 .3 0 .4-.7 .3 2.8 .4-.8 .3 .7 .4-.7 .3-1.8 .3 1.6 .4-1.7 .3-.1 .4 .3 .3 1.1 .4-1.4 .3 1 .4 .1 .3 .2 .3-.1 .4 .1 .3 .9 .4-.4 .3 1.1 .4-2.4 .3 .4 .4-.6 .3 1.6 .3 1.7 .4-.8 .3 .4 .4 1.4 .3-.3 .4-1.8 .3-.1 .4 1.5 .3-1 .4 1.6 .3-1.8 .3 1.4 .4 1.5 .3-1.6 .4-.2 .3 2.6 .4-1.8 .3 3.2 .4-.7 .3 .3 .3-.2 .4 0 .3-.9 .4-1 .3 3.2 .4-3.1 .3-.8 .4 3.1 .3-1.8 .4-.1 .3 1.2 .4-.8 .3-2 .4 0 .3 1.3 .4 0 .3-1.9 .4 .1 .3 1.1 .4-1.6 .3 3 .4-.5 .3-1.1 .4 1.5 .3 .4 .4-1.8 .4 1.5 .3 1.6 .4-1.1 .3 1.2 .4-1.7 .4 3.4 .3-.7 .4 0 .3-1.7 .4 1.7 .3-1 .4 2.1 .3-.8 .4 .5 .3 .4 .4-.5 .3 .7 .3 1 .4-1.2 .3 1.8 .4 1.8 .3-.7 .4 1.2 .3-3.1 .4 2.4 .3-1.4 .4 3 .3-1.5 .3 1.1 .4 .5 .3-2.3 .4 .1 .3 3 .4 .3 .3-1.4 .4-1.5 .3 1.1 .3 2.3 .4-.2 .3-1.1 .4 1.4 .3 .8 .4-2.9 .3 3.3 .4 1.2 .3-.1 .3 .4 .4-1.4 .3 .9 .4-1.9 .3 2.8 .4-.4 .3-.9 .4-1.3 .3 .6 .4 1 .3 2.5 .3-1.3 .4 2 .3-2.3 .4 .7 .3 .4 .4 .7 .3 2.2 .4-1.5 .3 .4 .3 1.2 .4-.9 .3 1.8 .4-.6 .3 .6 .4-1.4 .3 .1 .4 .4 .3 2.3 .3 0 .4-1.3 .3-.2 .4-1.6 .3 3.1 .4-1 .3-.8 .4-1 .3 1.2 .4 1 .3-1.4 .3 .2 .4 1.3 .3 .2 .4-1.6 .3 .5 .4 1.5 .3 1.5 .4-1.1 .3-.3 .3 .1 .4 0 .3 2.4 .4-1.9 .3 3 .4-2.8 .3-.5 .4-.7 .3 1.8 .3 0 .4 1 .3-.4 .4-.3 .3-1.7 .4 3.6 .3-2.5 .4 .2 .3 0 .4 1.8 .3 .4 .3-1.1 .4 0 .3-.8 .4 2.5 .3 .6 .4-2.1 .3 .7 .4 2.2 .3-.8 .3-1.4 .4 3.4 .3-1 .4 .1 .3-1.6 .4 2.4 .3-2.2 .4 .6 .3 1.2 .3-.7 .4-2.7 .3-.3 .4 .3 .3-.4 .4 3 .3-1.3 .4-.3 .3-.4 .4 .5 .3-.3 .3 1.2 .4-1.2 .3 1.8 .4-.1 .3 .1 .4-.4 .3-2.2 .4 1 .3 .9 .3-1.2 .4 .6 .3-1.6 .4 2.2 .3-2.1 .4-.1 .3 1.5 .4-3.1 .3-.6 .3 1.4 .4-.1 .3-1.6 .4 .7 .3 1.1 .4 .1 .3-.2 .4-.9 .3-3.1 .4 .8 .3 0 .3-1.9 .4 2.6 .3-2.2 .4 1.7 .3-.7 .4-1.9 .3 0 .4 .2 .3-.3 .3-1.8 .4 1.4 .3-.9 .4 0 .3 2 .4-.4 .3-1.4 .4-1.7 .3 2.8 .3-2.1 .4-.8 .3 2.4 .4 .5 .3-2.7 .4 1 .3 1.2 .4-1.5 .3-.8 .4-.9 .3-.7 .3 3.1 .4-.5 .3-2.7 .4 1.6 .3-2 .4 2 .3-1.5 .4 1.2 .3-.5 0-.5 .4 .5 .4 .3 .3-2.4 .4-.1 .3 1 .3 1.7 .4 1.1 .3-2.1 .4 1.6 .3-.6 .4-1.7 .3 .5 .4 1.4 .4-1.7 .3-.1 .3 .6 .4-2.5 .3 1 .4 .1 .3 .1 .4 .5 .4-1.7 .3 .8 .4-.1 .3-1.4 .3 2.5 .4 .5 .3-1.8 .4-.9 .3-.4 .4 .1 .3-.5 .4-.6 .4 2.7 .3-2.3 .4-.6 .3 1.8 .3-2.6 .4 1.4 .3 .9 .4 .9 .4-2.1 .3-1.1 .4 3.5 .3-3.9 .4 1.6 .3 .2 .3 1.8 .4-2.6 .3-.6 .4 0 .3 .3 .4-1.1 .4 2.9 .3-1.7 .4 .7 .3-1.4 .4 .8 .3 .8 .4-2.9 .3 2.6 .4-2.8 .3 1.5 .4 .7 .3-2 .4 1.6 .3-2.3 .4 0 .3 1.8 .4-1.4 .3-2.3 .4 .2 .3 1.4 .4-.9 .3-1.3 .4 2.9 .3-2.1 .4 2.2 .3-2.2 .4-.9 .3 .9 .4 1.4 .3 .1 .4-1.7 .3-1.5 .4 .7 .3-1.4 .4 0 .3-1.7 .4-.3 .3 3.4 .4-.8 .3-2.2 .4 1.2 .3-2.4 .4 2.9 .3-1 .4 .4 .3-1.2 .4 0 .3 1.5 .4-2 .3-1 .4 .2 .3 3 .4-2.7 .3-.9 .4 1.8 .3-1.9 .4 1.1 .3 1.2 .4-2.4 .3 .5 .4 .2 .4 .9 .3-.3 .4-3.6 .3 3.3 .4-1.9 .3-1.8 .4 3 .3-3.7 .4 3.1 .3-4 .4 0 .3 1.3 .4 .3 .3-.2 .4 .7 .3-3 .4 2.3 .3-1.8 .4 2.2 .3-1.6 .4-.2 .3-2.5 .4 2.7 .3-2.8 .4-.7 .3 .5 .4 1.2 .3-2.1 .4 .4 .3 .3 .4-1.6 .3-.8 .4 .9 .3 1 .4-.4 .3-2.1 .4 1.5 .3 .4 .4-.8 .3-2.3 .4-.7 .3 3.6 .4-1.3 .3-1.8 .4 1.7 .3-.8 .4 0 .3-1.4 .4 .9 .3-1.4 .4-.3 .3-.5 .4 1.3 .3 .1 .4-2.5 .3-1.1 .4 1.4 .4 .9 .3-1.8 .4-1.5 .3 3.1 .4-1.6 .3-1.5 .4 2.6 .3-.9 .4 1.3 .3-.1 .4-.1 .3 .2 .4-2.1 .3 1.6 .4-1.3 .3 .6 .4-1.8 .3 1.5 .4-2.3 .3 2.7 .4-2.9 .3 1.2 .4 .8 .3-.4 .4-.2 .3-1.9 .4-1.4 .3 3.6 .4-2.8 .3 2.2 .4-1.8 .3 0 .4 .4 .3-.2 .4 .7 .3-1 .4-1.8 .3 1.2 .4-1.9 .3 2.7 .4-2.7 .3 .7 .4 .9 .3-1 .4 2.1 .3-.4 .4-1.9 .3 .2 .4 1 .3-1.1 .4 .3 .3-1.4 .4 .7 .3-.1 .4 1 .3-2.3 .4 .7 .3-1.7 .4 .1 .3-.5 .4 2.6 .3-3.5 .4 .6 .3 .6 .4 .8 .3-.4 .3-2.2 .4 .9 .3 1.1 .4-2.4 .3-.3 .4 2.6 .3-3.4 .4 .1 .3 .2 .4 2.4 .3-1.9 .3 .3 .4 .4 .3 1.3 .4-3.4 .3 .6 .4 .8 .3 .8 .4-2.2 .3 1.3 .4 .8 .3-1.4 .4 1.6 .3-.5 .4 3.9 .3-3 .4 1.1 .3 2.4 .4-1 .3 1.9 .4-.4 .3 3.2 .4-1.1 .3-.2 .4 0 .3 1.8 .4 1.2 .3 .8 .4 .4 .3-.4 .4 2 .4-1.7 .3 1 .4 2 .3-.3 .4-.8 .3 1.8 .3 .4 .4-1.3 .3 .9 .4 1.9 .3-1 .4 .3 .4 1 .3-1.5 .4 .9 .3 3.1 .3-2.6 .4 2.4 .3-2.8 .4 1.8 .4 1.4 .3-.2 .4 3.1 .3 .6 .4-2 .3 0 .3 3.4 .4-.3 .3-.8 .4-1.5 .3 .1 .4 2.9 .4 .3 .3-.4 .4-.1 .3 .8 .3 .1 .4 .6 .3 1.1 .4-.4 .3 0 .4-.1 .3 2 .4 1.4 .3-2.6 .3 2.6 .4-.2 .3-1.2 .4 0 .3 3.2 .4-2.3 .3 .3 .4 .4 .3 3.2 .4-1.3 .3-1.1 .3 1.4 .4 1.3 .3 .2 .4-1 .3 3.1 .4-.2 .3-1.4 .4 .5 .3 .4 .3-.9 .4 2.6 .3-.9 .4 1.9 .3 1.1 .4-1.6 .3 .3 .4 .7 .3 .8 .4-1.2 .3 1.7 .4 .2 .3-.3 .4 3.3 .3 0 .4-.4 .3-1.1 .4 3.1 .3-.9 .4 2.4 .3-.4 .4-1.2 .3 1.4 .3 .8 .4-.5 .3 2.1 .4-1.6 .3-.5 .4-.1 .3 2.4 .4-1.1 .3-.2 .4-.2 .3 3.3 .4-1.5 .3 2.7 .4 .6 .3 .1 .4-1.9 .3 3.2 .4-.8 .3 1.3 .4 .6 .3-1.9 .4 .6 .3 .9 .3-.4 .4-.5 .3 0 .4 2.3 .3-.8 .4 2.8 .3-3.5 .4 1.8 .3 1.5 .4-.1 .3 1.1 .4-.4 .3 1.2 .4 .7 .3-.2 .4-.7 .3-.4 .4 .8 .3-.8 .4 .4 .3 1.4 .4 .1 .3 .7 .3-1.5 .4 3.7 .3-2.3 .4 .9 .3-.3 .4 1.1 .3 1.1 .4 .8 .3-1.2 .3 1.4 .4-2.1 .3 .6 .4-.4 .3 2.6 .4-3.2 .3 .6 .4 2.4 .3-1.9 .4-.5 .3 1.4 .3 .6 .4 .1 .3-.7 .4 .5 .3-.1 .4-.3 .3 1.4 .4-1 .3 .4 .3 1.9 .4-.7 .3-2.5 .4 0 .3-2.3 .4-.8 .3 1.4 .4 1.2 .3-3.8 .3 1 .4 .9 .3-3.5 .4 1.9 .3-1.7 .4 1.5 .3-.2 .4-.1 .3-.8 .4-3.1 .3 1.8 .3-.8 .4-1.4 .3-.8 .4 .6 .3-.6 .4-.5 .3 1.7 .4-3.3 .3 1.5 .3-2.4 .4 2 .3-1.1 .4-.4 .3 .2 .4-1.5 .3 .2 .4 .5 .3-1.1 .3 2.3 .4-.8 .3-.5 .4 0 .3-2.3 .4-.8 .3 0 .4 2.8 .3-1.8 .4 1.7 .3-2.9 .3 0 .4 .7 .3 .4 .4-2.1 .3-.2 .4-.9 .3-.9 .4 2.2 .3-1.2 .3-1.2 .4-1.3 .3 2.7 .4-1.7 .3 1 .4-1.4 .3-1.5 .4 2.3 .3-2.9 .3 2.8 .4-3.4 .3 .3 .4-1.8 .3 .5 .4 1.3 .3-2.4 .4-.2 .3-.4 .4-.4 .3 1.7 .3-1.4 .4 1.8 .3-.5 .4-.9 .3 1.5 .4-.1 .3-2.8 .4 1.7 .3-1.4 .3-1.3 .4 2.2 .3-3.1 .4 2.4 .3 .7 .4-1.1 .3 0 .4-.2 .3-.9 .4-1.2 .3 1 .4-.2 .3 1.9 .4 .3 .3 .5 .4-2.4 .3 2.4 .4 .2 .3-3.3 .4 2.3 .3-1.6 .4 0 .3 1.1 .3 .9 .4-2.4 .3 .3 .4 .3 .3 0 .4-2 .3 .1 .4-.8 .3 1 .4 2.5 .3-3.3 .4 2.1 .3-.6 .4 .7 .3-.4 .4-3 .3 .9 .4 1.9 .3-.9 .4 .7 .3-3.3 .4 3 .3-1.8 .3 1.1 .4-1.1 .3-1.2 .4 .3 .3-2.4 .4 3.1 .3-.8 .4-1.4 .3-.5 .4-.1 .3-1.7 .4-1.2 .3 1.3 .4 1.1 .3-.7 .4-.6 .3-2.7 .4 .3 .3-.4 .4 .7 .3 1 .4-1.4 .3-.6 .3-.7 .4-1.2 .3 .1 .4 2.6 .3-.6 .4-1.2 .3-.2 .4-2 .3-1.1 .4-.2 .3-.3 .4 .4 .3 2.7 .4-1.9 .3-1.8 .4-.8 .3-.6 .4-.2 .3 .3 .4 .6 .3-.9 .4 .1 .3 1.1 .4-1.7 .3-.1 .4 2.4 .3-2 .4 1.3 .3-1.5 .4 1.6 .3-2.8 .4 .8 .3 2 .4-2.5 .3 1 .4-2 .3-.7 .4 1 .3-.2 .4-.4 .3 .6 .4-.4 .3-.3 .4 1.6 .3 .5 .4-2 .3-.5 .4 1.7 .3-.2 .4-1.1 .3 .2 .4-1.2 .3 1.4 .4-.6 .3 1.1 .4-2.2 .3-.9 .4 3.1 .3-1.1 .4 .8 .3-.1 .4 .1 .3-1.1 .4 2 .3-.6 .4-.3 .3-.5 .4 0 .3 .7 .4 .6 .3 .2 .4 1.4 .3 1.6 .4-1.4 .3 .9 .4-2.1 .3 3.2 .4 0 .3 1.4 .4-1 .3 2.2 .4 .6 .3 2.1 .4-.4 .4 2.5 .3 1.2 .4-.3 .3 .9 .4 1.7 .3 .1 .3 2.6 .4 .6 .3-.9 .4 1.6 .3-1.5 .4 4.1 .4 0 .3-1.1 .4 1.2 .3 4.4 .3 1 .4 .5 .3 .3 .4 .3 .4 1.8 .3 2.5 .4-.2 .3-1.4 .4 1.5 .3 .4 .3 4.1 .4 1 .3 1.4 .4-.8 .3 .6 .4 .1 .4 1.9 .3 1.3 .4 1.2 .3 .9 .3 2.1 .4 1.2 .3-1.2 .4 2.4 .3-1.4 .4 .5 .3 2.6 .4-2.2 .3 .6 .3 4.2 .4-1.5 .3 .4 .4 2.2 .3 1.3 .4-1.3 .3 2.5 .4-1.9 .3 3.8 .4-1.1 .3 .5 .3-.7 .4 .9 .3 1.9 .4-.4 .3 2.8 .4 2 .3-2 .4 2.5 .3-.4 .3 .9 .4 1 .3-.9 .4 1.7 .3-2.4 .4 2.2 .3-.5 .4-1.1 .3 .3 .3 2.9 .4-1 .3-.4 .4 .5 .3 1.7 .4-.4 .3-1.3 .4 3.2 .3 .1 .4 .1 .3 0 .3 .2 .4-1 .3 2.8 .4-.7 .3-1.8 .4 2.9 .3-1.3 .4-1.2 .3 1.9 .3-.7 .4 1.1 .3-1 .4 2.1 .3 .4 .4 1.5 .3 .9 .4 .1 .3-.5 .3-.6 .4 2.5 .3-2.5 .4 .7 .3 1.3 .4-.5 .3 1.1 .4-1.4 .3 .8 .4-.6 .3 2.2 .3-.3 .4 2.8 .3-1.7 .4 .2 .3 2.6 .4-1.6 .3 3 .4-.9 .3-.1 .4 1.4 .3 1.3 .4-2.5 .3 1.2 .4 .3 .3 1.9 .4 .4 .3-3.3 .4 1.6 .3 2 .4-1.2 .3 .6 .4 .5 .3-2 .4 .4 .3 3.5 .4-1.6 .4-.3 .3 .1 .4 .4 .3 .2 .4-3.6 .3 1.8 .4-2.9 .3 1.8 .4 .6 .3-1.7 .4-.9 .3 1.5 .4-1.1 .3 .4 .4-1.9 .3-1.3 .4 1 .3-.7 .4-2 .3 .3 .4 3.1 .3-1.4 .4-2.6 .3 2.6 .4-.2 .3-3.1 .4 3.4 .3-3.4 .4 1 .3 .6 .4-1.3 .3-.9 .4 .1 .3 .3 .4 .9 .3-.7 .4 .1 .3-.9 .4-1.4 .3-.1 .3 1.7 .4 0 .3-2.5 .4 1.9 .3-1.9 .4-1.4 .3 1.4 .4 1.4 .3-1.7 .3 .8 .4-.1 .3-.5 .4-2.3 .3 2.1 .4-3.6 .3 1.3 .4-2 .3 .9 .4 1.7 .3-.3 .3 .7 .4-1.8 .3-.1 .4-1.4 .3 1.2 .4 1.6 .3-2.6 .4 1.7 .3-2.2 .4 1 .3-2.9 .4 2.5 .3-3.9 .4-.5 .3 1.6 .4 .5 .3-.5 .4-1.5 .3 .9 .4-2.3 .3 .2 .4-.4 .3-.6 .4-.9 .3 .4 .4 .7 .3 .3 .4-1.4 .3 .7 .4-1.5 .3 1.5 .4-3.5 .3 2.6 .4 .2 .3-1.7 .4-.1 .3 1 .4-3.6 .3-.6 .4 1.3 .3 .5 .4-1.1 .3-.6 .4-.5 .3-.2 .4 1.3 .3-3.5 .4 2 .3-1.6 .4 1.6 .3-2.7 .4 1.7 .3-2.3 .4 .9 .3-.9 .4 1.3 .3-2.2 .4-.3 .3-.4 .4-1.4 .3 2.4 .4-2.8 .3-1.1 .4-.2 .3 1.6 .4 .4 .4-1.6 .3 1 .4-3.2 .3 2.2 .4-.9 .3-2.5 .4-.9 .3 .9 .4-.4 .3-.1 .4 .6 .3-2.2 .4-.1 .3 .1 .4-.9 .3 .9 .4 .1 .3-1 .4-.6 .3 2.2 .4-2.7 .3 2.8 .4-1.1 .3-1.7 .4-1 .3 3.1 .4-3.5 .3 2.7 .4-1.1 .3 .4 .4-2.1 .3 1.8 .4-2.1 .3 1.2 .4 1.4 .3-1.6 .4-1.8 .3 .1 .4 .6 .3 .3 .4 .8 .3-1.9 .4 .5 .3-1.1 .4 .2 .3-.9 .4 2.2 .3-2.5 .4-.4 .3 1 .4-1.8 .3-.6 .4 1.1 .3 1.3 .4-1.9 .3-.5 .4-.1 .4 1 .3-1.4 .4 .9 .3-.3 .4-1.9 .3 1.1 .4 1.8 .3-2.4 .4 2 .3-2.7 .4 1.6 .3-.5 .4 .5 .3-2.9 .4 .1 .3 .7 .4 .8 .3-1.2 .4 1.1 .3-1.5 .4 1.7 .3-3.7 .4 2.9 .3-2.6 .4-.2 .3 .9 .4-.7 .3 1.9 .4-.5 .3-1.2 .4-2.2 .3-.3 .4 .5 .3-.6 .4-.6 .3-.1 .4 0 .3 0 .4-.8 .3 .8 .4 2 .3-.8 .4-1.2 .3 1 .4-.4 .3-3.6 .4-.6 .3 .9 .4 .6 .3 1.5 .4-4 .3 2.4 .4 .1 .3-2.3 .4 1.8 .3 .1 .4-1.9 .4 2 .3 .4 .4 2.3 .4-1.4 .3 3.2 .4-1.5 .3 1.2 .4 2.7 .4 .8 .3 1.5 .4 1 .3 7 .4 2.5 .3 5 .3 4.2 .4 6.8 .3 2.5 .4 .6 .3-4.8 .4 .8 .4-3.7 .3-1.2 .4-3.4 .3 .4 .4-4.3 .4 .5 .3-2.2 .4-1.9 .3-.3 .4-2.5 .3-4.3 .4 .7 .3-4.8 .4 .7 .3-1.7 .4-5.1 .3-2.5 .4 .9 .3-3.9 .4-.7 .3-1.3 .3-1.5 .4-3.5 .3-.6 .4-1.6 .3-2.5 .4-3.4 .3 .1 .4-3.9 .3 0 .4-4 .3-1.6 .4-3.7 .3-.2 .3 3.4 .4-.2 .3 2.7 .3 .7 .4 2.7 .3 1.2 .3-.3 .4 2.3 .3 2.9 .4-.1 .3 4.7 .4-1.7 .3 3.6 .4 2.9 .3 1.1 .4-.8 .3 1.4 .4 3.9 .3 .4 .3 .3 .4 1.6 .3 3.6 .4-1.1 .3 2.5 .4 3.9 .3-1.2 .4 3.7 .3-1.8 .4 2.1 .3 .9 .4 4.2 .3 1.1 .3 1.7 .4 1.2 .3 .7 .4-1.4 .3 2.4 .4-.6 .3 4.1 .4-.5 .3 1.4 .3 2.8 .4 1.4 .3-.4 .4 .3 .3 3 .4 1 .3-1.4 .4 2.1 .3 3 .4 1.3 .3 .7 .3-.6 .4-.2 .3 3.9 .4-1.6 .3 2.6 .4 .2 .3 2.8 .4-.9 .3 1.1 .3 2.4 .4 0 .3 1.6 .4-2.9 .3 .6 .4 2.7 .3-.2 .4 2 .3-1.1 .3-1.1 .4 2.2 .3-.5 .4 2.7 .3 .4 .4 .7 .3-2.5 .4 2.2 .3-1 .4 3.6 .3-2.7 .3 2.6 .4 .9 .3-1.4 .4 2.1 .3-1.2 .4 .3 .3 1.4 .4-.3 .3 2.3 0 14.3 .1 20.3 .4-.8 .3 1.7 .4 1.7 .3-.6 .4 1 .3 1.2 .4 2.8 .3-.9 .4 2.6 .3-1.4 .4 2.1 .3 4.4 .4 4.8 .3 4.7 .3 6 .4 6.6 .3 3.9 .3 5.2 .4 .6 .3 3.2 .3 3 .4 4.3 .3 3 .3 8 .4 5.1 .3 5.1 .3 8.5 .4 6.4 .3 6.9 .4-4.4 .3-2.2 .4-2.3 .4-5.2 .3-4.8 .4-4.4 .3-2.4 .4-3.8 .4-2.8 .3-3.4 .4-3.9 .4-3.3 .3 .5 .4-2.5 .3-3.4 .4-1.7 .3-3.9 .4-1.9 .3-3.4 .4-1.3 .3-1.4 .4-2.7 .3-1.9 .4-2.9 .3-3.2 .4-.5 .3-1.9 .4-4.6 .3-1.3 .4-1.3 .3 .3 .4-1 .3-.6 .4-.8 .3-.1 .4-1.2 .3 2.4 .3-4.1 .4-.9 .3 2.8 .4-3 .3 .7 .4-2.5 .3-2.1 .4-.7 .3 2.7 .4-4.3 .3 .9 .3-1.3 .4 .8 .3-1.7 .4 1.1 .3-3 .4 .6 .3 1.1 .4-2.5 .3-.3 .3-2.7 .4 2.8 .3-2.3 .4 1.9 .3-1.5 .4-2.2 .3 1.6 .4-2.8 .3 1 .4 .4 .3-2.7 .4-.8 .3 2.7 .4-2.9 .3 1.9 .4-1.5 .3-1.4 .4 2.2 .3-2.3 .4-.9 .3 2 .4-.2 .3-2.9 .4 2.8 .3-2.9 .4 3.1 .4-.3 .3-.9 .4 1.3 .4-2 .3 .1 .4-2.4 .3-1.2 .4-.2 .4-2.4 .3-2.2 .4 .5 .3 .4 .4-3.6 .3-1.1 .4 1.1 .4-4.3 .3 .3 .4-1.9 .3-1.2 .4 1.2 .3-.1 .3-2.3 .4-1.5 .3-1.3 .4-1.1 .3 2 .4-.6 .3-2.3 .3-.1 .4 .4 .3-.9 .4-.8 .3 .2 .4-2.9 .4 5.6 .4 1 .3-.9 .4 1.3 .3-1.6 .3 .2 .4 1.5 .3-.3 .3-.7 .4 1 .3 .4 .3-1.3 .4-1.3 .4 3.7 .3-3.2 .4 1.8 .3-1.3 .4 1.8 .3 .1 .4-1.5 .4 2.3 .3 .1 .4 1.6 .3 1.3 .4-.4 .3-.8 .4 .3 .3 .8 .4-.9 .3 3.1 .3-1.2 .3 .9 .3 .8 .4 2.6 .3 1.5 .3 1.2 .3 4.6 .3 2.3 .3 3.4 .3 8.9 .4 9.8 .3 8.7 .3 9 .3 110.5 .5-110.6 .4-4.1 .3-4.7 .4-3.6 .3-4.6 .4-4.9 .3-5.4 .3-2.8 .4 .6 .3-5 .3-.3 .4 .1 .3-3.8 .3-.9 .4-2.3 .3-.6 .3-2 .4-4.1 .4-.5 .3-.1 .4-3.6 .3 .3 .4-4.6 .3-.3 .4-2.4 .4 2.1 .3-2.2 .4 .7 .3-1.1 .4-2.4 .4 .6 .3-2.6 .3 2.9 .4-1.1 .3-2.6 .3 .5 .4-.4 .3 .6 .4 1.9 .4-1.8 .3 .5 .4-2 .3 1.4 .3 1.4 .4 .9 .3 3.2 .3-.5 .3 .4 .4-2.2 .3 .4 .3-3.5 .4-2.1 .3 1.9 .4-1.4 .3-2.7 .4-.9 .3 .1 .3-.9 .4 .3 .4-1.5 .3 0 .4-1.4 .3-.3 .4-1.3 .3 .4 .4-2.4 .4 1.1 .3-2.7 .4-.7 .3 1.5 .4-.6 .3-2 .4 1.2 .3-1 .4-.7 .3 .3 .4-2.4 .3 .4 .4 2.6 .3-1.5 .4 2.2 .3-3 .4-.1 .3 .1 .4 2.1 .3-1.7 .4-1.3 .4-1 .3 1.8 .4-2.5 .3 3.1 .4-3.1 .3 2.1 .4 .2 .4-2.4 .3 1.1 .4 .4 .3-.5 .4-.7 .3 1.8 .4-2.5 .4 1.1 .3-2.4 .4 2.1 .3 1.4 .4-2.4 .4 1.1 .3-1.7 .4 0 .3-.1 .4 1.8 .3-1.5 .4-2.2 .3 1.8 .3-.1 .4 0 .3-.7 .3-.7 .4 1.6 .3-1.9 .3-.1 .4 .5 .3-1.4 .4 .5 .3 1.7 .3-1.1 .4 .1 .3-1 .3 0 .4 1.6 .3 .8 .3-2.8 .4 1.6 .3 1.1 .3-1.6 .4 1.4 .3-2.8 .3 2.5 .4-2.4 .3 .7 .3-.1 .4 1.1 .3 1.5 .3-1.8 .4-.2 .3 1.1 .3-2 .4 .3 .3-4.4 .4 1.3 .3-2.3 .4-3.2 .3-1.5 .4-2.4 .3-2.9 .4-6 .3-2.9 .4-3.8 .3-2.3 .4-.4 .3 1.1 .4-2.2 .3 .9 .4-1.2 .4 .6 .3-.7 .3 1.3 .4 .4 .3 0 .3 1.2 .4-1.2 .3-.9 .4 2.8 .3-2 .3-.6 .4 1.2 .3 1.1 .3-1.7 .4 0 .3-.5 .3 1.3 .4-1.1 .3 .5 .3-3.6 .4 .7 .3-2.3 .3-.7 .4-.5 .3 1.8 .3 .2 .4-1.4 .3 1.4 .3-.3 .4 .1 .3-1 .3-1.1 .4-.2 .3 1.2 .3-2.2 .4-.5 .3 2.7 .3-.5 .4-1.3 .3 .4 .3-3.2 .4 2.1 .3-.3 .3-1.4 .4-.3 .3 1.3 .3 .7 .4-1 .3-3 .3 1.8 .4-1.3 .3-.5 .3-1.7 .4 1.4 .3-1.9 .4-.4 .3-.1 .3 .8 .4-3.1 .3 .4 .3-.4 .4-1.5 .3 .8 .3-3.2 .4 1.7 .3-3.9 .3 .6 .4 1 .3 .4 .3-2.3 .4 1.2 .3 .1 .3-2.6 .4 2.8 .3 .3 .3-2.8 .4 .9 .3 .1 .3 1.8 .4-.2 .3-3.3 .3 .6 .4-1.3 .3-.5 .3 .4 .4 2.6 .3-1.4 .3-1.8 .4 1.7 .3 0 .3-.7 .4 1.6 .3-3 .3 .8 .4-.5 .3 3.2 .3-.7 .4-1.4 .3-1.8 .3 2.6 .4-.6 .3 0 .3-.1 .4-1.4 .3-1 .4 .8 .3-1.4 .3 1.3 .4-2.1 .3 .5 .3 1.8 .4-3.4 .3 1.3 .3 1.9 .4-1.6 .3 2 .3-1 .4-1.8 .3 .8 .3-.7 .4 1 .3 0 .3-1 .4-1.7 .3 2.9 .3-2.7 .4 1.4 .3 .5 .3-1.9 .4-2 .3 1.5 .3-2.3 .4-.2 .3-.3 .3-.7 .4 1.2 .3-.8 .3 .1 .4 2.3 .3-3.1 .3 1.3 .4 .3 .3 1.2 .3 .6 .4-.8 .3 .8 .3 .4 .4-.7 .3-1.2 .3 1.6 .4-2.4 .3 .7 .4-.9 .3 .3 .3 .4 .4 0 .3-.9 .3-.3 .4-1.2 .3-1.1 .3 0 .4 1.6 .3-1.8 .3-.4 .4-.5 .3-.4 .3-.1 .4-1 .3 0 .3-.6 .4-1.6 .3-.3 .3-.8 .4 .8 .3-.1 .3 .2 .4-1.7 .3 .3 .4 .2 .3-.8 .4-.2 .4-1.3 .3 1.1 .4-.1 .3-1.5 .4 .7 .3-1.6 .4-.6 .4 .3 .3 .3 .4-.4 .3-.9 .4 1.8 .3-.9 .4-1.3 .3-.8 .4 1.7 .3 .5 .4-.5 .3-.2 .4 .8 .3-.8 .4-1.6 .3 .8 .3-.3 .4 .3 .3-1.4 .4 1.2 .3 0 .4-1.4 .3 .8 .4-1 .3 .7 .4-.7 .3 .2 .4-.6 .3-1.4 .4-.1 .3 1.6 .4-1.7 .3 1.7 .3-.9 .4-.5 .3 0 .4 1.1 .3-.9 .4-.4 .3 0 .4 .2 .3-.4 .4 .6 .3-1 .3-.4 .4-.6 .3 .8 .4-.8 .3-.1 .4-.2 .3 .4 .4 1.4 .3-1.3 .4-.8 .3 .4 .3-.1 .4-1.2 .4 2.2 .3-.6 .4 1.4 .3-.8 .4-.9 .3 2.2 .4-2.3 .3 .3 .4 .1 .3 .3 .4 .1 .3 2.4 .4-1.9 .3 1.2 .4-.8 .3 .7 .4-.3 .3 1.4 .4-.3 .3 1.5 .4 1.1 .3-1.9 .4 1.1 .3 .5 .4 1.2 .3-2.5 .4 1.8 .3-.6 .4 .4 .3 .7 .4 .2 .3-.6 .3 1.4 .4-.3 .3-.7 .4 .2 .3 .2 .4 1.9 .3 .4 .4-1.8 .3 1.4 .4-.3 .3-1 .4 1.6 .3-.4 .4-.3 .3 0 .4 .1 .3-.2 .4-.3 .3 1.8 .4-2.4 .3 1.4 .4-1.1 .3 .5 .3-.9 .4 .3 .3 1.3 .4-1.6 .3 1.1 .4 .5 .3 0 .4-1.3 .3 .9 .4-.2 .3 .9 .4 .7 .3-.7 .4 .5 .3-1 .4 1.6 .3-.7 .4 .6 .3-2 .4 1.5 .3 0 .4 .1 .3 .6 .4-1.8 .3-.2 .3 1.3 .4-.9 .3 2.2 .4-.1 .3-1.1 .4 1 .3-.5 .4 .9 .3-.9 .4 0 .3 1.3 .4-1.9 .3-.5 .4 1.9 .3-.4 .4 .7 .3-1.7 .4 1.9 .3-.2 .4-.4 .3-1.7 .4 1.6 .3-.9 .4-.9 .3 .2 .4 1.3 .3-2 .4 .1 .4 .4 .3 1 .3 .1 .4 .9 .3 1.7 .3 1.3 .4-.2 .3-.7 .3-1.7 .4 1.5 .3-.5 .3-1.2 .4-1.4 .3 .5 .3 .7 .4-1.5 .3-.1 .3 1.3 .4 .4 .3 .5 .3-.9 .4 1.2 .3-1.2 .3-.2 .4 2.1 .3-.4 .3 2 .4-.8 .3 .8 .3 2.1 .4-.7 .3 1.2 .3-2.4 .4-1.4 .3 .2 .4-1.2 .3-.3 .3 0 .4-.4 .3-1.5 .3 1.1 .4-1.8 .3-.2 .3 .3 .4-.8 .3 2.3 .3-2.2 .4-.6 .3 1.5 .3-.9 .4 0 .3-.6 .4-1.6 .3-1 .4 .3 .4-1.5 .3-.6 .4-.1 .3 .3 .4-1.9 .3-.8 .4-1.3 .4-.2 .3-1.1 .4 .2 .3 1.9 .4 .7 .3-.5 .4 1.5 .4-.5 .3 2 .4 .2 .3-1.7 .4-.6 .4 2.2 .3-1.4 .4 .3 .3-.1 .4-.7 .4 1 .4 3.8 .4 33.2 .3 34.6 .3 .1 .4-1.3 .3-.2 .4 1.9 .3 .2 .4-2.3 .3 .8 .4-.7 .3 .8 .4 0 .4 .3 .3-.2 .4 .1 .4 3.1 .3-1.8 .4 2.7 .3 0 .4-.3 .4-.5 .3-.5 .4-.8 .4 .3 .3-1.7 .4 .8 .4-.8 .3-.6 .4 1.4 .3-1.8 .4 1 .3 .2 .4 .1 .3-.4 .3-.3 .4-.1 .3 .9 .4-1.8 .3 1.4 .4 .8 .3-1 .4 .1 .3 .7 .3 .4 .4-.6 .2 .3 .2 .7 .2-.7 .2-.9 .2 1.1 .2-1.5 .2 .2 .2-1.3 .2 .8 .2-.6 .1 .2 .2-1.5 .2-.8 .2 .2 .2-.2 .2 .1 .2-1 .2 .5 .2-.3 .2-1.8 .2 1.4 .2-2 .2 .1 .2-.7 .2 1 .2 0 .1-1.6 .2 .3 .2 .4 .2-.7 .2-1.2 .2 .1 .2 .5 .2-1 .2-.2 .2 .1 .2-1 .2 .5 .2 .6 .2-1.5 .1 .2 .2 .6 .2-1.1 .2 .2 .2 .9 .2-1.1 .2 .5 .2 .7 .2-.8 .2 .3 .2-1.2 .2 .8 .2-.1 .1-.1 .2-.1 .2-.7 .2 .9 .2-.5 .2 .5 .2-.8 .2 1 .2-.9 .2 .6 .2-.7 .2-.5 .2 .1 .1-.4 .2 .4 .2-.4 .2-.3 .2 1.2 .2-.2 .2-.9 .2 0 .2 .4 .2-.5 .2-.4 .2 .1 .2 .4 .1-1.4 .2 .6 .2-.7 .2 .8 .2-1.1 .2 .7 .2-.1 .2-.6 .2 .8 .2-1.7 .2-.2 .2 .4 .2-1.4 .2-.4 .1 0 .2-.1 .2-1.1 .2-.3 .2-.7 .2 0 .2-.2 .2 0 .2-.8 .2 0 .2 .1 .2-1.2 .2 .4 .2-.3 .2-.1 .2-.6 .1-.6 .2-.3 .2-.8 .2 .5 .2-1.7 .2-.1 .2-.8 .2 .2 .2 .9 .2-.4 .2-1 .2 1.6 .2-1.4 .1 .4 .2 .5 .2-.7 .2 1.5 .2-.2 .2 .6 .2-.5 .2-.3 .2-.2 .2 .2 .1 .6 .2 .5 .2-1.1 .2 .7 .2 .3 .2-.7 .2 .9 .2-.6 .2 .2 .2-.2 .2 1.4 .1-1.5 .2 .5 .2 .6 .2-.1 .2-.4 .2 .6 .2 0 .2 .2 .2 0 .2-.4 .1 1.1 .2-.6 .2 1 .2-.7 .2 1.1 .2-.6 .2 .5 .2 .8 .2-.9 .2 1.1 .2-.2 .1-.8 .2 1.3 .2-.2 .2-.3 .2 1.5 .2 0 .2 .6 .2-1.2 .2 .6 .2 .6 .1-.2 .2-.2 .2 .6 .2 .3 .2 .3 .2 .1 .2 .1 .2 .3 .2 .5 .2-.6 .2 .6 .1 .8 .2 .1 .2 .2 .2 .4 .2-.6 .2 .7 .2 .1 .2-.6 .2 .9 .2-.4 .1 .3 .2-.5 .2 1.2 .2-.6 .2 .3 .2 .5 .2 .4 .2 .6 .2-.1 .2-.1 .2-.5 .1 .6 .2 .4 .2-.3 .2 1.2 .2-.9 .2 .6 .2 1 .2-1.2 .2 .6 .2 1 .1 .3 .2-.7 .2 .6 .2 0 .2-.7 .2 1.7 .2 .1 .2 .3 .2-1.1 .2 .8 .2 .7 .1 .3 .2 .1 .2-1.2 .2 1.3 .2-.4 .2-.1 .2 .8 .2-.6 .2 .6 .2 .5 .1 .1 .2 .1 .2 .4 .2 .3 .2-.5 .2 .9 .2 0 .2-.1 .2 1.2 .2 1.1 .2-.8 .2 1.5 .2-.5 .1 .5 .2 1 .2-.3 .2 .5 .2 1.1 .2-1.1 .2 1.1 .2 .1 .2 .7 .2 .5 .2 .7 .2-.4 .2 1.6 .2 .4 .2 .1 .2 .1 .1 .7 .2-.9 .2 1.3 .2 .2 .2 .2 .2 1 .2-.1 .2 1 .2-.9 .2 .4 .2 .5 .2-.4 .2 .1 .2 1.1 .1-.6 .2-.1 .2 1.2 .2 .4 .2-.3 .2 .1 .2-.5 .2 1.3 .2-.1 .2 .1 .2-.3 .2-.4 .1 .5 .2 0 .2 .5 .2-.8 .2 .2 .2 .7 .2-.7 .2 .1 .2 .8 .2-.1 .2 .7 .2 .4 .1-.7 .2 .2 .2-.3 .2 .4 .2-.3 .2 1.1 .2-.5 .2-.3 .2 .4 .2 .9 .2-1.2 .2 1.8 .1-.3 .2-.2 .2-.3 .2 .1 .2 .3 .2 .8 .2-.1 .2-.2 .2-.1 .2 .2 .2-.4 .2 .5 .1 .6 .2-1.1 .2 1.7 .2-1.6 .2 .9 .2-.2 .2 .6 .2-.4 .2 .7 .2-.8 .2 1.6 .2 .2 .1 0 .2-.2 .2-.8 .2 1 .2 0 .2 .5 .2-.6 .2 .8 .2-.8 .2-.4 .2 .3 .2 1.6 .2-1.1 .2-.3 .1 .1 .2 1.5 .2-.2 .2-.6 .2-.6 .2 1.4 .2-1.4 .2 1.4 .2-.5 .2 0 .2-.6 .2 1.2 .2 .5 .2-.7 .2 .8 .2-1.1 .1 .3 .2 .2 .2-.4 .2 1.5 .2-.8 .2-.9 .2 1.1 .2-.9 .2 .4 .2 .8 .2-.8 .2-.1 .2 1.1 .2-1.1 .2 1.2 .1-1.6 .2 .2 .2 1.7 .2-.6 .2 0 .2 .5 .2-.8 .2 1.1 .2-1 .2 1.1 .2-.5 .2 .8 .2 .1 .2-.2 .2-1 .2 .6 .1 .9 .2-.8 .2-.3 .2 .5 .2-.5 .2 0 .2 1 .2-.3 .2 .1 .2-.2 .2 .9 .2-.7 .2 .1 .1 .4 .2-.8 .2 .5 .2-.4 .2 .3 .2 .8 .2 .2 .2 .1 .2-.3 .2-1.3 .1 .7 .2-.2 .2 0 .2 .1 .2 .3 .2-1.2 .2 1 .2-1 .2 1.2 .2 .2 .2-.5 .1 .2 .2 .3 .2-.2 .2-1.1 .2 .6 .2-.2 .2 .1 .2-.2 .2-.7 .2 .6 .1-.5 .2 1.5 .2-.2 .2-1.3 .2 1.1 .2 .1 .2-.2 .2-.1 .2-.4 .2-.2 .2-.2 .2-.6 .2 .3 .1-.2 .2 .2 .2-.1 .2-.3 .2 1.2 .2-1.5 .2 .1 .2 .6 .2-1 .2-.7 .2 .7 .2-.5 .2 .6 .2-1 .2-.2 .2 .2 .1 0 .2-1 .2-.3 .2 1.1 .2-1 .2 1.1 .2-.3 .2-.7 .2-.9 .2 .2 .2-.5 .2 .9 .2-.2 .2 .2 .2-.7 .1 .8 .2-.2 .2-.4 .2-.5 .2 .6 .2-.9 .2-1 .2 1.4 .2-1.5 .2 .4 .2-.2 .2 .8 .2-.6 .2-.2 .2 .6 .2-.3 .1-.5 .2-.5 .2-.5 .2 1.1 .2-.4 .2 .2 .2-1 .2 .3 .2-1.2 .2 .2 .2 .9 .2-.5 .2-1.3 .1 .1 .2-.5 .2 .5 .2-.1 .2-.4 .2-.5 .2-.9 .2 .3 .2 .8 .2-.5 .1-.5 .2-.3 .2-.6 .2-1 .2 .1 .2-.1 .2-.8 .2 .3 .2-.4 .2-.1 .2-.3 .1 .4 .2-.7 .2 .4 .2-.8 .2-.7 .2 0 .2 .3 .2-1.2 .2 .8 .2 .2 .1-.6 .2-.3 .2 .1 .2-1.7 .2 .8 .2-.5 .2-.3 .2 .4 .2-.6 .2 1.2 .2-1 .1 .5 .2-.4 .2 1.6 .2-1.3 .2 .6 .2-.8 .2 .5 .2 .2 .2-.6 .2 1.6 .1-.4 .2-1 .2 .8 .2-.6 .2 .6 .2 .7 .2-.9 .2 1.1 .2-.5 .2 .3 .2 .6 .1-1.3 .2 1 .2 .3 .2-.7 .2-.4 .2 1 .2-.6 .2-.7 .2 1.6 .2-1.3 .1 1.1 .2-1 .2 .5 .2 .2 .2-.4 .2 .5 .2 1.1 .2-1 .2 .7 .2 .8 .2-1.2 .1 1.5 .2 .3 .2-.3 .2-.8 .2 .6 .2 .1 .2 .7 .2-.4 .2 1.4 .2 .3 .1-1.5 .2 1.5 .2-.5 .2 .3 .2 0 .2 0 .2 .4 .2 .3 .2-.3 .2 .1 .2 .4 .1-.1 .2 1 .2 0 .2 .5 .2 .1 .2 .1 .2-.5 .2 .6 .2-.4 .2 1.4 .1 .4 .2-.3 .2-.1 .2-.1 .2 .6 .2 .3 .2 .3 .2 .6 .2-.3 .2 .7 .2 1.1 .2 1.1 .2-.6 .1 .9 .2 .3 .2 .1 .2 .9 .2 1.2 .2 0 .2 .7 .2 .7 .2 .7 .2 .6 .2 .7 .2 .9 .2 .1 .2 .4 .2 1.1 .2-.4 .1 .7 .2-.3 .2 1.5 .2 .4 .2 1.1 .2-1 .2 .8 .2 1 .2 .8 .2 .2 .2-.4 .2 1.6 .2-.3 .2 .9 .2 .3 .1 .1 .2 .1 .2 .6 .2-.5 .2 1.5 .2 .6 .2-.1 .2 .4 .2 .5 .2 .3 .2-.6 .2 1.7 .2 .3 .2-.6 .2 .9 .2-.4 .1 .6 .2 .6 .2 .6 .2 .9 .2 .7 .2 0 .2-.3 .2 .8 .2-.5 .2 1.2 .2 0 .2 .6 .2 .1 .1 .7 .2 .5 .2-.3 .2 .5 .2 .6 .2-.5 .2 1 .2-.6 .2 .6 .2 .5 .1 .4 .2 .1 .2 1.1 .2-.8 .2 1.3 .2 .1 .2-.6 .2 .4 .2 1 .2 .1 .2 .3 .1 .8 .2-1 .2 .3 .2 1.8 .2-1 .2 .9 .2-.3 .2 0 .2 1.5 .2 .2 .1-.5 .2-.1 .2 1.4 .2-.6 .2 1.2 .2-.4 .2 1.2 .2-1.3 .2 .5 .2 0 .2 .8 .2 .5 .1-1 .2 .9 .2 .9 .2-.7 .2 .7 .2 .2 .2-.5 .2 1.2 .2 .1 .2-.4 .2-.3 .2 .1 .2 1.5 .1-.3 .2 .1 .2-.1 .2-.5 .2 .5 .2-.1 .2 1.7 .2 .2 .2-.7 .2 .5 .2 .1 .2 .9 .2 .2 .1-1.3 .2 1.6 .2-.4 .2-.2 .2 1 .2-1.1 .2 1.6 .2 .3 .2-1.2 .2 .6 .2 1.5 .2 .1 .2-.3 .1 .8 .2-1.3 .2 .7 .2 .9 .2-1.2 .2 .6 .2 .3 .2 .6 .2 1 .2-.6 .2 .9 .2-1.1 .2 .9 .2 1.2 .1 .3 .2-.9 .2 .2 .2 .6 .2 1.5 .2-1.1 .2 .6 .2 .4 .2 .6 .2 1 .2-.2 .2 .9 .2-.2 .2 .9 .2-.5 .2 .8 .1 0 .2 .4 .2-.1 .2 1.5 .2-.5 .2 1.3 .2-.1 .2-.3 .2 1.4 .2 .2 .2-.1 .2-.2 .2 1.3 .2-.7 .2 1.5 .1 .2 .2-1.1 .2 .8 .2 1.5 .2 0 .2-.7 .2 .6 .2 1.2 .2-1.3 .2 .5 .2 1.3 .2-.3 .2 .8 .2-.1 .2 .4 .2 .6 .1 .4 .2-.8 .2 1.1 .2 1 .2 .3 .2-1.3 .2 1.1 .2 .4 .2 .7 .2-1.4 .2 1 .2-1 .2 .8 .2-1.6 .2 .6 .1 0 .2-.4 .2-.4 .2 .9 .2-1.4 .2 1.2 .2 0 .2-.2 .2-.4 .2-.5 .2 0 .2-.5 .2-.1 .2 .4 .2-.9 .2-.2 .1 1.1 .2 .3 .2-.6 .2-1.2 .2-.1 .2-.2 .2 .8 .2-.3 .2-.3 .2-.8 .2 1.4 .2-.5 .2-1.2 .1 1.1 .2 0 .2-1.3 .2 .4 .2-1.1 .2 .4 .2-.3 .2 1.1 .2-.5 .2-.9 .1 .7 .2-1.2 .2-.3 .2 .5 .2 .6 .2 0 .2-1.2 .2-.2 .2 .2 .2-.3 .2 .4 .1-.5 .2-.6 .2-.1 .2 .4 .2-1 .2 0 .2-.1 .2-.2 .2-.4 .2 .7 .1 0 .2-.8 .2 1 .2-1.3 .2 .2 .2-.1 .2-.1 .2 .2 .2-1.9 .2-.2 .2-.3 .1-.2 .2 .2 .2 .1 .2 .1 .2-.1 .2-.7 .2-.4 .2-.4 .2-.6 .2-.3 .1 0 .2-.7 .2 .6 .2-1 .2 1 .2-1.4 .2 .4 .2-1.2 .2-.3 .2 .1 .2-.2 .1 .5 .2-1.7 .2-.5 .2-.3 .2 1.1 .2-1.7 .2 1.2 .2-1.6 .2 1 .2-1.3 .1 .6 .2-1.1 .2-.4 .2-1 .2 .4 .2-.1 .2 .5 .2-1 .2 .4 .2-1 .2 .1 .1-.3 .2-1 .2 .5 .2 0 .2-.7 .2-.7 .2-.2 .2 .2 .2 .7 .2-1.2 .1-.6 .2 .2 .2 .2 .2-.1 .2-1.5 .2 .3 .2-1 .2 .2 .2 0 .2-.7 .2-.4 .1 1 .2-1.3 .2 .8 .2-1.3 .2-.2 .2-.2 .2 .9 .2-1.5 .2 0 .2 .5 .1-.5 .2 .5 .2-1.2 .2-.7 .2 1 .2-.6 .2-.2 .2-.8 .2 1 .2-.5 .2-1.2 .1-.1 .2-.6 .2 1.2 .2-1.7 .2 .2 .2-.6 .2 .1 .2-.1 .2-1 .2 .3 .1-.2 .2-1.1 .2 1 .2-1.4 .2 0 .2 .3 .2-1.4 .2-.9 .2 .1 .2-.5 .2-.3 .1 1.2 .2-.7 .2-1.1 .2 .1 .2-.3 .2-.7 .2 0 .2-.7 .2 1.4 .2-1.1 .1-.2 .2 .2 .2-.7 .2-.5 .2 .1 .2-.6 .2-.7 .2 .5 .2-1.5 .2 .5 .2-1 .1 .3 .2-.9 .2 .3 .2-.6 .2 .3 .2-1 .2-.6 .2 .6 .2-.7 .2 .3 .1-.4 .2-1.4 .2 .7 .2-1.3 .2 1.3 .2-.9 .2-.2 .2-.7 .2-.8 .2 .2 .2-.2 .1-.5 .2 1.2 .2-1.6 .2 .2 .2-.7 .2 .8 .2-1.6 .2 1.3 .2-1.7 .2-.1 .1 0 .2-.6 .2-.7 .2 1 .2-1.7 .2 .5 .2-1.1 .2-.3 .2 .3 .2 0 .2-1.3 .1 .5 .2-.5 .2 .8 .2-.3 .2-.9 .2-.1 .2-1.5 .2 .6 .2 .3 .2-.3 .1-.6 .2-.2 .2 0 .2-.9 .2-1 .2 .6 .2-1.1 .2 .9 .2-1.5 .2 .9 .2-.7 .1-.2 .2-1.1 .2 .2 .2-.2 .2 .5 .2-.7 .2-.2 .2 .2 .2-1.3 .2 .1 .1-.4 .2-.5 .2-.4 .2-.2 .2-.7 .2 .6 .2-.9 .2 .7 .2-1.2 .2-.3 .2-.9 .1 .5 .2-.9 .2 0 .2 .4 .2-.1 .2-1.9 .2 .9 .2-.1 .2-.4 .2-.4 .1-.4 .2-.8 .2-1.2 .2-.1 .2 .7 .2-1.1 .2-.2 .2 0 .2-.9 .2-.6 .2-.3 .1 .7 .2-1.2 .2 .2 .2-.4 .2-.9 .2-.3 .2-.1 .2-.3 .2-.2 .2-1 .1 .1 .2 .2 .2-1.1 .2-.1 .2 .3 .2-.6 .2-.3 .2-1.1 .2 .8 .2-.1 .2-1.4 .1-.1 .2 1 .2-1 .2 .3 .2-1.5 .2 1.2 .2-.8 .2-.8 .2 .5 .2-.7 .1-.8 .2 1 .2-2 .2 .2 .2 .6 .2-.3 .2-1.6 .2 1.1 .2-1.9 .2 .1 .2 .5 .1-1.4 .2 .1 .2-.2 .2-.1 .2-.5 .2-.5 .2 .1 .2-.3 .2 .1 .2-1.2 .1-.4 .2 1 .2-.5 .2-.1 .2-.4 .2-.8 .2-.8 .2 1 .2-1.1 .2-.7 .2 .3 .2-1.3 .2 .9 .1-.9 .2-1.2 .2 .5 .2-.8 .2-.8 .2-.6 .2-.3 .2 .3 .2-.6 .2 .5 .2-1.4 .2 .1 .2 .1 .2-.5 .2-.6 .2 .1 .1-.8 .2-.1 .2-.7 .2-1.2 .2 .3 .2-.1 .2-.5 .2-.9 .2-1.1 .2 .6 .2 0 .2-.2 .1-.9 .2-.6 .2-.8 .2-.4 .2 .7 .2-1.8 .2 .4 .1-.6 .2-.2 .2 .7 .2-2 .2 .4" fill="none" stroke="#FFBE7A" stroke-width="3.55" stroke-linejoin="round" stroke-dasharray="3.55 5.86"/>
<path d="M349 284l.4-.8 .3 2.6 .4-1.5 .3 4.3 .4 .3 .3-2.2 .3 4 .4-3.4 .3 .4 .4 6.7 .4-5.3 .3 .8 .4 6.4 .3-4.6 .3 4.9 .4 .1 .3-1.4 .4 .8 .3 5.4 .4-2 .3-1.5 .4 1.9 .3 2.4 .4-2.3 .3-.7 .4 5.1 .3-3.9 .4 .3 .3 .3 .4 7.1 .3-2.8 .4 2.7 .3-.4 .4 3.4 .3-3.4 .4 .8 .3 3 .4-3.6 .3 3.1 .4 3.4 .3-.4 .4 .3 .3 .9 .3 .3 .4 2.8 .3-1.4 .4-1.1 .3 2.8 .4-.4 .3-.3 .4 2.5 .3-.2 .4 3 .3 2.7 .4 1 .3 1.6 .4-2.8 .3 3 .4 2.1 .3-2.5 .4 4 .3-4.6 .4 6 .3 .4 .4 1.4 .3-1 .3 0 .4-2 .3 1.6 .4 .8 .3-2.1 .4 0 .3 1.5 .4-4.6 .3-.1 .4-2.4 .3 5 .4-2.1 .3-.1 .4-3.2 .3-.7 .4 1.5 .3 2.1 .4-3.7 .3 0 .4-.4 .3 2.4 .4-5 .3 3.4 .4-5.5 .3 3.5 .4-.6 .3-2.8 .4 .8 .3-3.9 .4-1.8 .3 .5 .4-1.5 .3 2 .4-1.8 .3-.2 .4 1.4 .3-2 .4-.5 .3 .5 .4-3.4 .3 2 .4-2.1 .3 1.5 .4 2 .3 .6 .4 1.1 .3-.6 .4-.1 .3-2.3 .4 2.8 .3-2.3 .4 3.3 .3-2.6 .4-.6 .3 6.5 .4-.1 .3-3.2 .4-1.3 .3 5.5 .4 .1 .3-3.6 .4 4.7 .3-1.5 .4 1.9 .3-.4 .4 .2 .3 1.5 .4 4 .3 3.3 .4 1 .3-.9 .4 5.5 .3-2.9 .4 5.4 .3-1 .4 .7 .3 3 .4 5.8 .3-1.9 .4 2.9 .4 4.4 .3 2.8 .4 5.1 .3 3.6 .4 4.5 .3 4.9 .4-.2 .3 5.5 .4 .3 .3 4.4 .4 2.5 .3 8.6 .4 .2 .3 5.9 .4 4.7 .3 .4 .4 3.1 .3 4.1 .4 6 .3 3.8 .3 2.4 .4 9.5 .3 3.1 .3 5.9 .4 4.3 .3 2 .3 6.5 .4 3.4 .3 2.3 .3 6.7 .4 4.8 .3-1.1 .3 4.4 .4 4.6 .3 7.3 .3 6.4 .4 2.5 .3 6.7 .3 1.5 .4 5.9 .3 2.6 .3 7 .4 2.1 .3 4.8 .3 7.2 .4 7.8 .3 8.7 .3 2.9 .4 10.7 .3 4.2 .3 4.1 .4 10.6 .3 5.5 .3-4.5 .4-8.4 .3-8.7 .3-5.8 .4-6.1 .3-7.3 .3-11.5 .4-4.5 .3-11.2 .3-12 .4-7.4 .3-10.3 .3-6.3 .4-11.1 .3-5.9 .3-28.3 .4-23 .3-28.1 .3-16.1 .4-9.4 .3-15 .4-.7 .3 5.4 .4-4.5 .3 3.8 .4 2.9 .3-1 .4 3.8 .4 4.3 .3-1.7 .4 4.1 .3-1.5 .4 6.5 .3 1.3 .4-3 .4 5.5 .3-.5 .4 .4 .4 3.5 .3 5.6 .4 .5 .3 2.7 .4-.4 .4 2.5 .3 3.5 .4 3.1 .4 2.2 .3-2.3 .4-.7 .4 3.8 .3-1.3 .4 .5 .3 .4 .4-1.6 .4-1 .3-.6 .4 2.9 .3-2.8 .4-3.4 .3-4.4 .3-7.4 .4-4.9 .3-4.4 .4-6.8 .3-1.9 .4-2.7 .4-3.4 .3-3.5 .4-6.4 .3-1.2 .4-5.7 .4-2.2 .3-4.8 .4-2.5 .3-1.5 .4-4.8 .3-4.8 .3-1.4 .4-2.1 .3-5.5 .4-.7 .3 .7 .4 1.2 .3-4.7 .4 3.7 .3-4.4 .3 4.9 .4-4.9 .3 3.7 .4-5.4 .4 2.6 .3-1.9 .4 3 .3-.3 .3-4.5 .4-.8 .3 4.1 .4-2.2 .3-.5 .4-.4 .4-.1 .3 1.1 .4-1.5 .3-2 .4 1.9 .3 2.9 .3-1.8 .4-.7 .3 1 .4-3.4 .4-1 .3 2.4 .4-4.9 .3 3.9 .3-4.4 .4 2.7 .3-1.1 .4 1.4 .3-4.8 .4 3.4 .3 1.1 .4-5.1 .3 4.1 .4-2.7 .3 3 .4 1.5 .3-6.2 .4 2.7 .3 .6 .3 3.2 .4-.3 .3-5.9 .4 .2 .3 1.3 .4 2.2 .3-.6 .4-1.9 .3 1.9 .4-1 .3 .2 .3-1.7 .4-2.5 .3 2.9 .4-.3 .3 1.3 .4-5.1 .3-.9 .4 2.2 .3 1 .3-.6 .4-2 .3 3.6 .4-1 .3-1.2 .4-1.4 .3 2.8 .4-3.3 .3 4.6 .3-4 .4 3.7 .3-5.1 .4 1.6 .3 2.5 .4-1.7 .3-.5 .4 2.7 .3-4.6 .4 4.3 .3-2.3 .3-1.6 .4 .2 .3-.6 .4 2.1 .3-1.4 .4 .4 .3 .6 .4 1.2 .3-2 .4-2.2 .3 2.1 .4-.2 .3 1 .4-3.4 .3 .9 .4 1.4 .3-2.8 .4-.1 .3 1.9 .4-1.7 .3 2.7 .4-3.9 .3-1.4 .4 1.9 .3-.7 .4 2 .4-1 .3-3.7 .4 0 .3 1.1 .4-1.2 .3 .3 .4-1.4 .3 2.8 .4-.1 .3-1 .4-.7 .3 .5 .4-4.4 .3 4 .4-5.1 .3-.9 .4 2.8 .3-2.8 .4 .5 .3 2 .4-3.1 .3 1.4 .4-.4 .3 3.2 .4-6 .3 2.3 .4-.8 .3-2.5 .4 .7 .3-.3 .4-.4 .3 1 .4-.3 .3-.9 .4-.5 .3 .8 .4-1.2 .3-2.5 .4 3.2 .3-1.4 .4 2.5 .3-4.6 .4 2.7 .3-1.5 .4 1.9 .3 .9 .4-1.3 .3-.8 .4 2 .3-4.8 .4 4.7 .3-3.7 .4 1.2 .3-3.3 .4-.6 .3 .8 .4 2.2 .3-1.4 .4 4 .3-3.8 .4 3.7 .3 1.9 .4-.9 .3 1.8 .4-.2 .3 .5 .4-5.4 .3 3 .4-1.4 .3 .9 .4 1.8 .3 0 .4-3.4 .3 0 .4-.4 .3 4.6 .4 .7 .3-4.4 .4 .5 .3 2.7 .3 3 .4-5.9 .3 3.3 .4 1.9 .3-4.6 .4 3.3 .3-2.2 .4 2.1 .3-1 .3-1.9 .4 4.9 .3-2.4 .4 3.2 .3-2.3 .4 2.3 .3-2.1 .4-3.9 .3-.5 .4 6.2 .3-2.2 .3 .7 .4 .1 .3-3.2 .4 2 .3-.6 .4-4 .3 2.9 .4 2.3 .3-2.4 .3 .9 .4-4.9 .3 1.9 .4 .3 .3 0 .4 1.5 .3-2.6 .4 .1 .3-.7 .4 .6 .3-1 .4-1.6 .3-1.1 .4 3.3 .3-3.6 .4 2.1 .3-3.1 .4 4.4 .3-5.2 .4 1 .3-.5 .4 2.9 .3-2.3 .3-2.5 .4-.4 .3 3 .4-2.2 .3-2.1 .4-.6 .3 4.1 .4-.3 .3 1.1 .4-4.6 .3 2.7 .4-2 .3 2.8 .4-2.2 .3-.1 .4 2.1 .3-2.6 .4 4 .3-4.1 .4 .6 .3 3 .4-3.3 .3 .3 .4 3.1 .3-1.4 .4 1.7 .3 .5 .4 .6 .3-5.7 .4 1.9 .3 .4 .4-1.1 .3 3.7 .4-3.1 .3 3.6 .4-5.4 .3 2.5 .4 1.4 .3 1.1 .4-1.8 .4 2.9 .3-4 .4 0 .3-1.3 .4-.4 .3 1.7 .4 1.2 .3-3.8 .4 1.9 .3-.2 .4 3.7 .3-3 .4 2.2 .3-3.5 .4 4.4 .3-5.4 .4 2.9 .4 1.7 .3-.3 .4 .4 .3 1 .4-1.4 .3 2.3 .4-1.7 .3 1.3 .4 .9 .3-2.6 .4 3 .3 .4 .4 1.1 .3-6 .4 2.3 .3-1.7 .4 0 .4 2 .3 1.9 .4-4.2 .3 4.7 .4 .6 .3 1.1 .4-1 .3-3.2 .4 3.6 .3-.6 .4-2 .3 3.3 .4-2.9 .3 3.2 .4 .3 .3-3.1 .4-.3 .3 2.9 .4-4.3 .3-.3 .4 4.8 .3-4.1 .4 .1 .3 .8 .4 1.8 .3-3.7 .4 .4 .3-1.9 .4 .9 .3 2.8 .4-1 .3-.5 .4 1.7 .3-5.7 .4 1.4 .3 2.1 .4-1.9 .3 3.8 .4-5 .3 3.2 .4-.5 .3-1 .3 1.1 .4-3.8 .4-1.3 .3 0 .4 1.1 .3-.3 .3-2 .4 .2 .4-1.6 .3-.1 .3-5 .4 3.9 .3-2.5 .4-1.9 .4-1.9 .3 2.5 .3-3.1 .4 1.1 .4 .9 .3-1.7 .3 .7 .4-.5 .4 2.3 .3 3.6 .4-3.2 .3 .3 .3-.8 .4 3.1 .4 .9 .3-3.5 .3 4.1 .4-5.1 .3 .8 .4 0 .4 4.6 .3-4.3 .3 4.3 .4-1 .3-1.5 .4-1.1 .3 4.8 .4-2.6 .3 3.8 .4-1.3 .3-.6 .4-.5 .3 .9 .3 .4 .4 2.8 .3-4.6 .4 0 .3 5.5 .4-1.7 .3-.1 .4-.6 .3-2.5 .4 1.7 .3 4.2 .3-3 .4 2.6 .3-.3 .4-1.9 .3-.7 .4 .1 .3 4.2 .4-3 .3 1.9 .3 .2 .4 1.1 .3-3.9 .4 1.7 .3 2.1 .4-.6 .3-1.3 .4 1 .3 .9 .4 .5 .3-2.3 .4-2.8 .3 .1 .4 3.4 .3 0 .4-1.5 .3 2 .4-2.8 .3 1.5 .4 .2 .3 2.8 .4 1.7 .3-4 .4-1.9 .3 1 .4 2.5 .3 .2 .4-6.8 .3 1.1 .4 .3 .3 2.1 .4-2.7 .3-1.4 .4 2.9 .3-2.1 .4 .5 .3-1.1 .4 .6 .3-2.5 .4-.4 .3-1.6 .4 .7 .3 1.2 .4-.3 .3-.7 .4-1.8 .3-1.5 .4-.8 .3-.5 .3 3.2 .4-2.1 .3 .5 .4-1.2 .3-3.9 .4 1.9 .3-.9 .4 3.7 .3-2.1 .4-2.4 .3 .8 .3 2.3 .4-2.5 .3 1 .4-2.4 .3 .3 .4 2 .3-4.1 .4 2.5 .3-1 .3 2.1 .4-3.4 .3 .2 .4 2.1 .3-1.6 .4 .3 .3-2.4 .4-2.8 .3 4.3 .4-5 .3 3.8 .4-2.8 .3 3.3 .4-1.1 .3-.8 .4-.2 .3-1.2 .4 4.5 .3-2.9 .4 2.3 .3-5.6 .4-.9 .3 2.4 .4-.8 .3 4.2 .4-5.5 .3 2.9 .4 2.5 .3-3.2 .4 .3 .3-.2 .4-.6 .3 3.7 .4-.5 .3-2.5 .4 2 .3-.7 .4 1 .3-3.2 .4-.4 .4 4.4 .3-1 .4 .7 .3-2.5 .4 1.8 .3-1.1 .4 2.1 .3 2 .4-2.9 .3 0 .4 1.7 .3-1.2 .4-.6 .3-2.1 .4 5.1 .3-2.1 .4 .3 .4-1.7 .3 3.3 .4-.7 .3-3.9 .4 3.6 .3-4.6 .4 4.1 .3 1 .4-.2 .3-2.6 .4 .6 .3-1.2 .4 4.3 .3-2.2 .4 .9 .3-2.1 .4-.6 .4 3 .3-.2 .4-1.4 .3-.8 .4 1.4 .3-3.8 .4-.1 .3 2.8 .4-.8 .3 .6 .4-.3 .3-2 .4-1.8 .3 4.2 .4 .6 .3-2.2 .4-.5 .3 2.6 .4-4 .3 .3 .4 2.8 .3-.3 .4 2.1 .3-4.2 .4 6.5 .3-3.6 .4 2 .3-2.5 .4 2.9 .3 1.4 .4 3.2 .3-4.5 .4-.1 .3 5.2 .4 .7 .3-2.4 .4 .5 .3 3 .4-2 .3 .8 .3 .1 .4-.9 .3 .6 .4 1 .3-1.7 .4 2.6 .3 2.2 .4 .7 .3-4.7 .3 1.7 .4 3.3 .3 .7 .4-4.2 .3 .6 .4 .2 .3 .1 .4 .1 .3 .2 .4 .1 .3 .2 .3 .1 .4 .1 .3 .2 .4 .1 .3 .1 .4 .2 .3 .1 .4 .2 .3 .1 .3 0 .4-.1 .3 0 .4 0 .3-.1 .4 0 .3 0 .4-.1 .3 0 .3 0 .4-.1 .3 0 .4 0 .3-.1 .4 0 .3-.1 .4 0 .3 0 .4-.1 .3 0 .3 0 .4-.1 .3 0 .4 0 .3-.1 .4 0 .3 0 .4-.1 .3 0 .3 .2 .4 .2 .3 .3 .4 .2 .3 .2 .4 .2 .3 .2 .4 .2 .3 .3 .4 .2 .3 .2 .4 .2 .3 .2 .4 .2 .3 .3 .4 .2 .3 .2 .4 .2 .3-3 .4 4.8 .3-2.9 .4 2.9 .3 .2 .3-1.5 .4 1.1 .3 2.5 .4-2.7 .3 3 .4 .8 .3-.6 .4 2.3 .3-.1 .4-.2 .3 2.1 .4-3.7 .3 .9 .4 1.3 .3 0 .4 5.3 .3 .3 .4 .6 .3-3 .4 3.3 .3 .7 .4-.8 .3-.8 .3 0 .4-4.6 .3 1.9 .4-.6 .3 1.7 .4 .1 .3 2.2 .4-4.4 .3 4.4 .4-5.7 .3 3.7 .4-3.4 .3 1.1 .4 0 .3-4.1 .4 3.1 .3 .2 .4-2.8 .3-1.3 .4 3 .3-2.4 .4-.8 .3 .7 .4 1.2 .3-1 .4-1 .3-2 .4 .2 .3 2.2 .4-1.7 .3-1.9 .4 3.7 .3-2.2 .4-1.8 .3 3.6 .4-3.2 .3-3 .4 1.6 .3-1.9 .4 2 .4 1.2 .3-4.1 .4 .8 .4 3.8 .3-.5 .4-.7 .3 1.8 .4-1.7 .4 2.7 .3 1.2 .4 1.6 .3 3.9 .4 4.3 .3 1.2 .3 7.5 .4 5 .3 4 .4 113.5 .3 118.5 .4 112.8 .3 114.3 .4 116 .3 114.1 .4 109.9 .4 10.4 .3 4 .4 6.9 .4 3.9 .3-2.8 .4 2.9 .3-4.6 .3 2.2 .4-2.1 .3-5.5 .3 .1 .4-.9 .3-1.4 .3 .8 .4 .1 .3-4.1 .3 8.6 .4 8.9 .3 7.1 .3 9.6 .4 9.2 .3 11.4 .3-6.2 .4-1.3 .3-1.5 .3-7.7 .4-.1 .3-8.2 .3 1.5 .4 0 .3 1.4 .3 3 .4 3.6 .3-.6 .3-3.3 .4-2.8 .3-1.6 .3-.1 .4-.2 .3-3.2 .3-3.2 .4 1.6 .3-4.7 .3-3.2 .4 3 .3-5.4 .3 7 .4-.4 .3 9.3 .3 1.6 .4 3.2 .3 4.4 .3 .8 .4-4.5 .3-.9 .3-3.3 .4-2.8 .3-.3 .3 1.5 .4 5.7 .3 3 .3 2.1 .4-.6 .3 3.2 .3 2 .4-4.5 .3-.7 .3-4.8 .4 3.2 .3-3.7 .3 .5 .4 3.6 .3 .2 .3 3 .4 2 .3 3.2 .3-5.9 .4-5.7 .3-.2 .3-6.5 .4-5.6 .3-4.1 .3-5.4 .4-2 .3-3 .3-2.6 .4-1 .3-6.7 .3 .3 .4 1.2 .3 1.1 .3-3.3 .4 1.9 .3-2 .3 3.9 .4 6.9 .3 6.4 .3 8.8 .4 5.8 .3 9.6 .3-5.4 .4-8.2 .3-4.5 .3-9.1 .4-7.1 .3-4.6 .3 6.5 .4 3.6 .3 6.8 .3 9.2 .4 .5 .3 8.5 .3-2.7 .4 4.5 .3-2.8 .3-3.1 .4 .5 .3 .1 .3-5.4 .4-5.6 .3-6.5 .3-11 .4-4.7 .3-6.8 .3 5.8 .4 12.5 .3 4.8 .3 10.7 .4 8.2 .3 9.6 .3-7 .4-13.3 .3-8 .3-4.1 .4-10.9 .3-9.5 .3-1 .4 1.4 .3 2.5 .3 2 .4-.9 .3-2 .3 3.1 .4 3.2 .3 .8 .3-368.1 .3-361.9 .3-17 .4-20.9 .3-20.5 .4-22.7 .3-18.1 .4-20.7 .3-20.4 .3-1.2 .4-4.3 .3 2.8 .3-4.1 .4-3.5 .3 .3 .4-.6 .3-.6 .4 3.6 .4-3 .3 6.4 .4-1.4 .3-1 .4 5.3 .4-1.4 .3-2.7 .4 5.2 .4-1.4 .3 4.2 .4 4.6 .4 3.3 .3 4.6 .4 1.9 .3-1.4 .4 5.1 .4-.3 .3 6.4 .4 .8 .3-3.3 .4-8.5 .3-1.9 .3-5.1 .4-7.2 .3-1.5 .4 4.9 .3 .4 .4 3.2 .4-3.7 .3 5.4 .4 1.6 .3 1 .4 4.2 .4-.7 .3-.2 .4 4.1 .4 8.3 .3 2.2 .4 6.8 .4 2.1 .3 10.5 .4 5.2 .3-1.1 .4 9.3 .4 7.1 .3 2.7 .4 5.2 .3 24.8 .4 21.8 .3 23.8 .4-21 .3-16.3 .3-13.3 .4-18.9 .4-5.7 .3-4.9 .4-7.3 .3-3.2 .4-6.3 .4-10.9 .3-2.4 .4-10.3 .3-3.2 .4-5 .4-3.3 .3-7 .4 .8 .4-8.2 .3 .1 .4-2.9 .3-7.9 .4-1.9 .4-2 .3-1 .4-7.9 .4 2.1 .3 4.3 .4-3.2 .4 5.8 .3 1.4 .4 2.5 .3-.8 .4 3.7 .4-.8 .3 3 .4 3.5 .4-.7 .3 4.5 .4-1.1 .4 6.5 .3 .7 .4-1.5 .3 6.7 .4 .3 .4 1.9 .3-1.8 .4 4.5 .4 1.1 .3-2.2 .4-2.2 .3 4.1 .4-3.9 .3 3.3 .4-1.7 .3-1.7 .4 .1 .3-1.4 .4 1.3 .3 2.4 .4-2.2 .3-1.3 .4 1.9 .3 1.7 .4-4.5 .4 .5 .3 .8 .4-3.4 .3-3.3 .4-1.6 .3 2.1 .4-2.2 .4-4 .3-.6 .4 .5 .3 .7 .4-1.5 .3-1.7 .4-.4 .4 2.6 .3 2.4 .4-1.5 .3 1.7 .4 2.7 .3-1 .4 3.8 .4-3.5 .3 3.2 .4 3.5 .3-1.4 .4 1 .3 5.2 .4 .1 .3 2 .4 1.7 .3-3 .4 4.2 .3 0 .4 1 .3-3.8 .4-1.2 .3 5 .4-3.5 .3-.6 .4 4.7 .3 .1 .4 .2 .3-3.3 .4 4.4 .3-2.6 .4 2.1 .3 1.6 .4-1.6 .3 .5 .4 3.4 .3-1.5 .4 1.2 .3-5.6 .4 4.1 .3-4.3 .4 .3 .3 1.6 .4 .6 .3-1.3 .4-1.2 .3-.2 .4 .1 .3-2.9 .4 .8 .3 .2 .4-2.2 .3 1.9 .4 1 .4-2.9 .3 3.1 .4 4.7 .3 .4 .4-4.3 .3 5.7 .4 .7 .3-1.2 .4-2 .3 2.3 .4-1.2 .3 3.5 .4-2.1 .3 2.8 .4-.8 .3 4.3 .4-1.3 .4 3.9 .3 .5 .4-3.7 .4 4.3 .3 .6 .4-2.3 .3 4.2 .4-4.4 .4 2.2 .3 2.9 .4 .2 .4 2.7 .3-1.7 .4 1.9 .3 2.5 .4 .9 .3-2.9 .4 1.8 .3 3.1 .4-.5 .3-1.9 .4 6.5 .3-2.3 .4-.4 .3 2.3 .4-.9 .3 6.8 .4-2.8 .3-1.2 .4 6.9 .3-3.4 .4 2.8 .3-.8 .4 .6 .3 4.5 .4-.5 .3-1.9 .4 3.8 .3 .3 .4 1.3 .3-2.2 .4 .7 .3 4.1 .4-1.7 .3 .6 .4 2.8 .3 1.7 .4 .1 .3-1.7 .4 6.9 .3-3.5 .4 3.9 .3 .6 .4 .4 .4 3.3 .3 3.3 .4-.3 .3 2.2 .4 4.6 .4 1.2 .3-.4 .4 4.9 .4-1.5 .3 4.8 .4 1.3 .3 .6 .4 1 .3-1.8 .4-.8 .3 3.5 .4-1.8 .3 5.1 .4-3.9 .3 3 .4 .9 .3-2.7 .4 4.7 .3-.9 .4 1.4 .4 .4 .3 2 .4-3.8 .3 1.2 .4 3.5 .3-3.4 .4 2.2 .3 2.1 .4-3.5 .3 1.9 .4 2.1 .3-3 .4 .8 .3 1.7 .4 2.5 .3-1.8 .4 1.3 .3-1.2 .4-2.3 .3 5.1 .4-2.8 .3-1.8 .4 3 .3-.6 .4-2.6 .3 2.1 .4-1 .3 2 .4-.2 .3 4.3 .4-5.5 .3 1.9 .4-1.5 .3 2.5 .4-.2 .3-.5 .4-1.1 .3 .6 .4 3.1 .3-1.2 .3-1.6 .4 0 .3-2.3 .4 4.4 .3-6.1 .4 2.9 .3 0 .4-.3 .3 2.6 .4-2.1 .3-3.1 .4 0 .3 3.1 .4-3.7 .3 2.4 .4 2.6 .3-2.1 .4 3.3 .3-3.5 .4-.8 .3-1.7 .4 2.2 .3-.6 .3 2 .4-1.1 .3 1.7 .4-2.8 .3-.6 .4-2.3 .3 3.9 .4-2.8 .3 .8 .4 1.1 .3-.8 .4-2.5 .3 3 .4-3.4 .3 4.9 .4 .6 .3 0 .4-3.2 .3-.7 .4 1.4 .3 1.4 .4-3.5 .3 1.2 .3-.5 .4 .3 .3-2 .4 4.3 .3-2.4 .4 1.4 .3-.4 .4 2 .3-1.1 .4-.1 .3 1.1 .4-.8 .3-4.6 .4 5 .3 .5 .4-4.1 .3 1 .4 3.6 .3 1.1 .4-4.9 .3 4.5 .4 .5 .3-2.9 .4-2 .3-.3 .4-.6 .3 3.5 .4-.9 .3-3.4 .4 2.9 .3 .3 .4-3.8 .3 3.9 .4-2 .3-3.6 .4 2.1 .3-.4 .4-1 .3 2.8 .4-1.5 .4 4.3 .3-2.6 .4 1.2 .3 2.5 .4-5.3 .3 2.4 .4 4.3 .3-1.2 .4 1.7 .3-4.2 .4 5.4 .3-2.7 .4 1.1 .3 1 .4 1.8 .3 2.7 .4-1.9 .4 .4 .3-3.8 .4 2.3 .4-2.9 .3 2.1 .4-1.9 .3-3.1 .4 1.1 .4 1.5 .3-.3 .4-2.2 .3-17.4 .4-13.2 .3-19.7 .3 1.4 .4 1.6 .3-3.8 .3-1.2 .4 6.1 .3-1 .3-.5 .4 .4 .3-.1 .3-1.1 .4 3 .3 .6 .4-1.4 .3 .5 .4-4 .3 1.2 .4 2.8 .3 1.9 .4-4.4 .3 5.9 .4 .4 .3-5.4 .4 4.6 .3 .1 .4-2.4 .3 1.9 .4-2.3 .3 1.9 .4 3.4 .3-2.8 .4 .8 .3 .1 .3 1.7 .4-.9 .3-.6 .4 1.3 .3 .9 .3 2.2 .4-3.7 .3-.5 .3 .7 .4 .3 .3 2 .4-2.6 .3 1.3 .4 15.8 .4 13.8 .4-6 .4-3.5 .4-10.1 .4 .3 .3-.3 .4-.7 .4 .8 .4-3.8 .3-2.7 .4 2.8 .4-3.7 .3 1.8 .3-2.5 .4 .9 .4 .4 .3 2 .4 1.7 .3-5.4 .3 5.6 .4-4.2 .4-.3 .3-1.8 .3 1.6 .4-2.1 .3 2.1 .4 2.1 .4-1.5 .3-2.1 .3 4.5 .4-2.5 .3 .1 .4-2.1 .3 .8 .4-1.9 .3 4.4 .4-.6 .3 .4 .4-.2 .3-1.3 .4 0 .3-.9 .4-.6 .3-1.4 .4 3.2 .3-.3 .4 2.1 .3-3.3 .4 3.4 .3-6 .4 2.5 .3-.1 .4 .5 .3 1 .3-.9 .4 .8 .3 1.3 .4 1 .3-5.4 .4 4.8 .3-2.5 .4 2.4 .3 .9 .4-4.3 .3 .1 .4 5.7 .3-2 .4 1.8 .3-4.6 .4 2.5 .3 .1 .4-3.1 .3 3.4 .4-2.6 .3 2.6 .4-2.8 .3 2.8 .3 0 .4 1 .3-.7 .4 .8 .3-5.2 .4 .4 .3 1.8 .4-.1 .3 .3 .4 .6 .3-1.9 .4-.6 .3-.4 .4-.2 .3 .8 .4 2.2 .3-5 .4 3.5 .3-1.1 .4-1.9 .3 .8 .4 .2 .3-.9 .3-3.6 .4 2.9 .3-1.3 .4-1.5 .3 3.4 .4-4.4 .3 2.1 .4 .2 .3 0 .4-5 .3 2.5 .4-3.1 .3 3.2 .4-5.6 .3 2 .4 2.5 .3-6 .4 1.3 .3 2.3 .4-3.1 .3 4.6 .4-4.5 .3 .5 .3 .2 .4 1.2 .3-3.3 .4 2.8 .3-.3 .4-2.8 .3 .4 .4-1.3 .3 2.8 .3-1.4 .4 1.9 .3 .8 .4 0 .3-2.1 .4 2.4 .3 .6 .4-.8 .3-3.8 .4-.3 .3 1.6 .3 1.8 .4-2.3 .3 2.8 .4 1 .3-.8 .4-3.9 .3 3.5 .4 1.8 .3-1.7 .3-3 .4 3.2 .3-2.3 .4 1.6 .3-.9 .4 2.9 .3-5.2 .4 .3 .3 3.3 .3 .4 .4-3.6 .3 4.4 .4-2.5 .3 .4 .4-4.7 .3 4.2 .4-1.3 .3-3.2 .4 .3 .3 .5 .3 4.5 .4-4.7 .3 1.6 .4-2.3 .3 .8 .4 0 .3-3.1 .4-.1 .3 3.4 .4-3.1 .3 1.4 .4-2.4 .4 3.4 .3-1.8 .4 2.6 .3 .8 .4 1.4 .4-.7 .3-2.1 .4-1 .3 3.4 .4-2.6 .3 .4 .4-.5 .3 .5 .4-.9 .3 5.2 .4-.4 .3 3.3 .4-4.2 .3 .9 .4 .7 .3 .7 .4-.6 .3 3.5 .4-1.3 .3-1.6 .4 2.1 .3 1.9 .4-2.6 .3 4.2 .4 2.4 .3-1.1 .3 1.3 .4-3.8 .3 .7 .3 5.2 .4 .9 .3-1.1 .3-2.2 .4-.3 .3 2.2 .4-3.1 .3 3.8 .4-.9 .3-3.1 .4 1.4 .3 1.6 .4-3.9 .3-.5 .4 2.1 .3 1.9 .4-6 .3 1.3 .4-3.6 .3 .4 .4 3.4 .3 .3 .4-4.5 .3 0 .4-1.4 .3 2.5 .3-.6 .4 2.6 .3-3.1 .4 .8 .3 1.6 .4-4.9 .3 .6 .4 3.4 .3 .1 .4-.2 .3-.4 .4-4.6 .3 .4 .4 .2 .3-1.4 .4 2.9 .3-1.5 .4-1.9 .3 3.9 .4-3.3 .3 .4 .4 .2 .3 .6 .3 2.1 .4 .9 .3-3.1 .4 3.3 .3 .1 .4-.7 .3-.8 .4-2 .3 2.7 .3 3.9 .4-4.3 .3 4.6 .4-.9 .3 0 .4 .9 .3-2.4 .4 2.7 .3-1.3 .4 1.6 .3-4 .3 .5 .4 4.7 .3-3.5 .4 2.1 .3-1.5 .4 6.2 .3 0 .4 1.3 .3-2.2 .3-.3 .4-1.3 .3-1.2 .4 .5 .3-1.5 .4 1.9 .3-3.7 .4 3.8 .3-3.1 .4-2.8 .3 1.1 .4-1 .3 2.5 .4 .6 .3-2.6 .4 2.8 .3-4.8 .4 2.5 .3-4 .4 1.2 .3 1.6 .4-.2 .3-1.3 .3 1.1 .4-2.7 .3 .8 .4-3.4 .3 3.4 .4-2.4 .3 .9 .4-1 .3-2.2 .4 3.4 .3-1.8 .4-1.4 .3-3.2 .4-.2 .3 4.2 .4-2.5 .3-1.7 .4 3.4 .3-5.3 .4 1.7 .3-1.4 .4 4.6 .3-2.6 .4 1.7 .3-3.1 .4 3.1 .3-1.6 .4 3.9 .3 2.2 .4-.7 .3-.4 .4 1.9 .3-.8 .4-3.1 .3 4.3 .4 1 .3-.5 .4 0 .3 3.1 .4-3.8 .4 3.5 .3-1.4 .4 0 .3 0 .4-1.6 .3 4.3 .4-.4 .3 1.8 .4 1.5 .3 .7 .4-3 .3-.5 .4-.9 .3 4.7 .4-.4 .3 1.4 .4-1.1 .3-2.5 .4-1.4 .3-1.2 .4-.6 .3 3.9 .4-5.4 .3 0 .4 1 .3-3.8 .3 3.5 .4-.4 .3-4.4 .4 .3 .3 2.2 .4 2.1 .3-3.4 .4-2.6 .3-.9 .4-.4 .3-.2 .3-1.6 .4 3.8 .3-.4 .4-1.5 .3-3.7 .4 3 .3-2.2 .4-.7 .3 .6 .3-.5 .4-1.9 .3 .6 .4 6.3 .3 0 .4-.9 .3 1.3 .4-.9 .3-2 .3 1.8 .4-.7 .3-1.6 .4 .2 .3 5 .4-2.2 .3 1.5 .4-2.4 .3 .4 .4-.8 .3 2.8 .3 3.4 .4 .1 .3-2 .4 1.4 .3-2.3 .4 1.5 .3-.8 .4-.7 .3 0 .3 .2 .4-1.5 .3 3.4 .4-.1 .3-.4 .4-2.2 .3-1.2 .4-1.3 .3 .8 .4 .1 .3 1.3 .4-2.9 .3 .2 .4-.2 .3 2.6 .4 1 .3 .5 .4 .5 .3-5.5 .4 2.8 .3-.1 .4-.2 .3-1.4 .3-1 .4 3.8 .3-1.4 .4-2.3 .3 1.5 .4 1.9 .3-1.9 .4-2.2 .3 1.3 .4 3.4 .3-.3 .4-1.7 .3-.5 .4-2.9 .3 4 .4-3.9 .3 3.1 .4-1.9 .3 1.6 .4-3.1 .3 .4 .4-1 .3 2 .3 .9 .4 .3 .3-1.6 .4 5.3 .3-4.2 .4 .6 .3-1.2 .4 2.9 .3-2.7 .3 4.6 .4-4 .3 5.1 .4-1.4 .3-.4 .4 2.9 .3 .5 .4-3.8 .3 1.8 .4-1.5 .3 .3 .3 5.6 .4-.1 .3-2.7 .4 4.2 .3-1.7 .4 .8 .3 2.1 .4 .1 .3-3.7 .4 3 .3-4.4 .4 1.7 .3-.8 .4 4.4 .3-4.7 .4 5.3 .3-5.7 .4 .1 .3 4.5 .4-2.7 .3 .1 .4 .7 .3 2.7 .4-3.5 .3 3.1 .4-1 .3-1.2 .4 2.3 .3 0 .4-1.7 .3-3 .4 4.8 .3-4.6 .4 4.6 .3-2.6 .3 2 .4-1.5 .3 .3 .4 .7 .3-1.8 .4-.7 .3 2.7 .4-5.2 .3 6 .4-4.2 .3 1.7 .3-3.7 .4 .1 .3 1 .4-1.1 .3 3.9 .4-4.3 .3 4.1 .4-1 .3-1.3 .3-1.3 .4-.4 .3 2.8 .4-2.5 .3 2.8 .4 2.1 .3-.8 .4-3.7 .3 5.5 .3-2.5 .4-2.1 .3 5.9 .4-.8 .3 .4 .4-2.5 .3 3.5 .4-5.1 .3 5 .4-1.5 .3 2.8 .3-.6 .4 1.4 .3-1 .4-2.4 .3 5.1 .4-5 .3 4.1 .4-2.3 .3 1.4 .3-1.3 .4 .5 .3 2.1 .4-.4 .3 .2 .4-1.4 .3 1.1 .4-1.5 .3 3.3 .4-4.6 .3 1.2 .4-1.9 .3 .2 .4-1 .3 2.3 .4-2 .3 2.5 .4-2.5 .3 5.6 .4-5.5 .3 1.5 .4-.9 .3 3.8 .3-1.1 .4 2.4 .3-4.9 .4 2.1 .3 .6 .4 .4 .3-.5 .4 3.3 .3-1 .4 .3 .3-5 .4 .7 .3 3.1 .4-3.7 .3 3.9 .4-2.9 .3 2.9 .4-3 .3 1 .4-.2 .3-2.9 .4 2.3 .3 .6 .3-2.7 .4 5.6 .3-5.5 .4 3.7 .3-.2 .4-1.6 .3-.2 .4-1.1 .3 .7 .4 3 .3-.8 .4-.9 .3 3.5 .4-4.6 .3 2.2 .4-2.1 .3 .6 .4-.9 .3 3.2 .4 .7 .3-1.9 .4 2.3 .3-.8 .3-1.3 .4-1.8 .3 2.4 .4-5.1 .3 5.1 .4-1.6 .3-1.7 .4-2.4 .3-2 .3 4.7 .4-1.6 .3-.5 .4-1.4 .3 2.1 .4-1 .3-.2 .4-.2 .3 .9 .4-2.7 .3-2.3 .3 4.6 .4-5.3 .3 1 .4 3.8 .3-.5 .4-3.7 .3 0 .4-2.4 .3 .1 .3 3.4 .4-.5 .3 .2 .4-1.1 .3-3.3 .4-1.1 .3 1.5 .4 1.6 .3-2.5 .3-2.7 .4 5.1 .3-.9 .4-1.9 .3 1.1 .4-4.8 .3-.1 .4 1.2 .3 1.2 .4-3.6 .3 1.3 .3 .2 .4 1.7 .3-5.1 .4 .5 .3 .4 .4-2.2 .3 4 .4-4 .3 2.7 .3-1.2 .4-1.4 .3-.4 .4-.8 .3 5.4 .4-1.3 .3-3.4 .4 4 .3-4 .3-.1 .4 1.6 .3-3.6 .4 4 .3-1.6 .4 3.5 .3-5.4 .4 5.2 .3-3.1 .4 1.5 .3-3 .3-.5 .4 5.8 .3-.9 .4-2.2 .3-3.6 .4 2.3 .3-1.4 .4 4.8 .3-3 0-3.3 .4 3.5 .4-1.6 .3-3.4 .4 1.4 .3 2.2 .3-5.5 .4 1.8 .3 1.8 .4-2.7 .3-1.1 .4-.5 .3 4 .4-5.6 .4 3.1 .3 .5 .3-2 .4-2.4 .3 1.4 .4-2.1 .3-.6 .4 2.5 .4 2.8 .3-5.3 .4 4.2 .3 1.1 .3-3.2 .4 2.1 .3-1.4 .4-3.1 .3 2.4 .4 2.6 .3-2.4 .4-1.2 .4-1.5 .3 2.5 .4 1.2 .3-.5 .3-3.3 .4-3.2 .3 1.5 .4 2.4 .4-.6 .3-3.6 .4 2.6 .3 2.5 .4-4.2 .3 4.6 .3-.9 .4-.7 .3 .9 .4-3.2 .3-2.1 .4 3.9 .4-2.9 .3-2.4 .4 4.5 .3-3.3 .4 3.8 .3 .1 .4-4.7 .3 .1 .4 4.2 .3-2.6 .4 1.4 .3-3.4 .4 2.8 .3-2.2 .4 2.5 .3-2.3 .4-.5 .3 .4 .4-.1 .3-.2 .4-.3 .3 2 .4-5.3 .3 4.3 .4-2.2 .3-1 .4-.4 .3 .7 .4 3.8 .3 .3 .4-1.3 .3 1.3 .4-1.7 .3-1.4 .4 1.9 .3-.5 .4-5.2 .3 5.5 .4-3.2 .3 1.2 .4 .4 .3-.1 .4-1.2 .3-1.7 .4-1.4 .3 2.9 .4-.6 .3 .7 .4-1.1 .3 1.3 .4 1.1 .3-3.3 .4-.3 .3 .6 .4 .9 .3 1.1 .4 1.6 .3-5.3 .4 4.4 .3-.7 .4 .1 .3 1.9 .4-5.5 .3 5.6 .4-3.5 .3-1.2 .4 .8 .3-.8 .4 3.2 .3-3.3 .3-.8 .4-.3 .3 5.5 .4 .7 .3-1.8 .4-3 .3 2.4 .4-1.1 .3 4.8 .4-3.8 .3 .8 .3 2.9 .4-2.5 .3-1.6 .4 3.9 .3 .5 .4-3.7 .3 1.6 .4-3 .3 2.6 .3-2.4 .4 3.9 .3 1.7 .4-1.5 .3-.1 .4-4.4 .3 4 .4-2.1 .3-.2 .3 1.9 .4-3.3 .3 4 .4-4.6 .3 3.1 .4-.5 .3-1.1 .4-.5 .3-2.3 .4 2.5 .3-.8 .3-1.5 .4-1.2 .3 2.3 .4 1 .3-1.7 .4 3.2 .3-2 .4 1 .3-1.7 .3-.1 .4 2.3 .3-2.7 .4-.3 .3 .8 .4 2.2 .3-3.5 .4 .1 .3 4 .3-1.7 .4-1.3 .3 3.9 .4 .2 .3-4.9 .4 2.1 .3 2.1 .4 .2 .3-4.5 .4 1.4 .3 1.1 .3-3 .4 5.6 .3-4.1 .4 .6 .3-.5 .4 .4 .3 2.3 .4 .9 .3-2 .3-1.4 .4 4.9 .3-4.6 .4 2.3 .3 2 .4-2 .3-.7 .4 2.2 .3 .5 .3-4.7 .4 .9 .3 1.1 .4 3.8 .3-4.7 .4 .9 .3 2.8 .4-1 .3-3.9 .4 .2 .3 5 .3-4.3 .4-.4 .3 .6 .4-.6 .3 4.3 .4-4.1 .3 5.2 .4-1.8 .3-.1 .4-2.3 .3 3.7 .4-5.6 .3 3.3 .4-3.1 .3 6.3 .4-1.2 .3-.8 .4 1.8 .3-.9 .4 .3 .3-1.9 .4-1.1 .3 2.7 .4-2 .3-1.2 .4 .5 .3-.4 .4 3.5 .3 .7 .4-3.3 .3-1.9 .4 1.9 .3-2.7 .4 4.1 .3-2.6 .4 4.4 .3-4 .4 4.2 .3-3.8 .4-.8 .3 1.1 .4 1.7 .3-1.3 .4-1.9 .3 1 .4 1.1 .3 .6 .4 4.3 .3-1.4 .4-.3 .3-1.5 .4-2.3 .3 2.4 .4-.2 .3 1.8 .4-4.9 .3 4.3 .4-.8 .3-1.7 .4 1.4 .3 1.3 .4 .5 .3 .9 .4-.2 .3-2.1 .4-.6 .4-.8 .3 1.4 .4 2.2 .3-2.8 .4-1.3 .3 3.9 .4 1.1 .3-3.5 .4 3.9 .3-2.9 .4-.6 .3 2.4 .4 1.2 .3-3.5 .4 .5 .3 3.4 .4-1.8 .4-1.5 .3 3.4 .4-2.1 .3-2.7 .4 5.6 .3-1.1 .4-3 .3 .2 .4 .9 .3 3.7 .4-.9 .3-3.7 .4 4.5 .3 .1 .4-3.9 .3 .7 .4 .8 .3 1.6 .4-3.3 .3 4.7 .4-3.5 .3 1.2 .4-.7 .3 3.3 .4 1.9 .3-3.3 .4 3.5 .3 1.5 .4 .6 .3-4.5 .4 4.9 .3-2 .4-3.6 .3 .9 .4 .9 .3-2.6 .4 4.3 .3-2.6 .4 1.6 .3 1.1 .3 2 .4-.8 .3 1.9 .4-1.9 .3 1 .4 1.9 .3-2.4 .4 .6 .3 0 .3-2.9 .4 1.9 .3 .1 .4 .9 .3-.9 .4-.4 .3 2.5 .4 1.6 .3-4 .4-1.4 .3 3.5 .3-.6 .4 3.7 .3-.6 .4 1.1 .3-4 .4 4.6 .3-5.1 .4 3.2 .3-1.3 .4 .2 .3-1 .4 4.7 .3 1.8 .4-3.9 .3 1.6 .4-3 .3 2.2 .4 2.7 .3-3.2 .4-1.1 .3 .6 .4 5.9 .3-3.6 .4 .1 .3 .5 .4 1.8 .4 3.2 .3-2.2 .4 2.5 .4 5.3 .3-.1 .4 4.1 .3 .8 .4 .9 .4 3.2 .3 2.6 .4-.8 .4 4.2 .3 1.3 .4 .3 .4-1 .3 3.1 .4-.8 .3-.7 .4 1.9 .4-.2 .3-.1 .4 3.7 .4 .1 .3 1 .4 .9 .4-1.6 .3 3.4 .4 2.8 .3-3.6 .4 2.3 .4 2.9 .3-4.2 .4 1.4 .4-2.8 .3 2.4 .4 2.3 .3-.8 .4-4.2 .3 2.4 .4 .4 .3-2.4 .4-4 .3 1.5 .4-1.7 .3-2.5 .4 4.9 .3-.6 .4-3.1 .3 2.7 .4-5.2 .4 .8 .3-3.3 .4 3.7 .3-5.5 .4 1.4 .3 .2 .4-1 .3 .6 .4-2.2 .3-3.8 .4 2.3 .3-2.3 .4-5.2 .3-.4 .4-.4 .3 2.8 .4-3.9 .4 1.7 .3-4.8 .4 4.2 .3-.6 .4-1.7 .3-4.1 .4-.2 .3-1.2 .4-3 .3-.2 .4-2.5 .3 1.1 .4-1.4 .3-3.2 .4-1.3 .3 3.7 .4-3 .4 1.2 .3-2.2 .4-2 .3-.4 .4-1.9 .3 3.1 .4-.6 .3-1.9 .4 2.5 .3-.1 .4-.6 .3-3.8 .4 1.5 .3 3.3 .4-1.9 .3-.2 .4-.5 .3 1.1 .4 1.2 .3 .3 .4-4.9 .3 1.4 .4 1.7 .3-3.4 .4-.4 .3 4.5 .4-4.6 .3-1.2 .4-1.6 .3 2.1 .4-2.6 .3 3.3 .4 .3 .3 .3 .4-.1 .3-1.4 .4-2.4 .3 2.7 .4-.1 .3 .2 .3 1.3 .4-2.8 .3-1.1 .4 5.5 .3-.1 .4-6.2 .3 .1 .4 1.6 .3-1.6 .4 .9 .3-1.7 .4-.2 .3-.6 .4 3 .3 .9 .4 1.3 .3-2.5 .4-.7 .3-.8 .4 2.9 .3-.6 .4-.4 .3-1 .3-.2 .4-1 .3 .6 .4 1.1 .3 3.2 .4-3.2 .3 2 .4-.4 .3-.6 .4-1.1 .3-.9 .4-1.2 .3 .4 .4 .8 .3 1.1 .4-.4 .3-.7 .4 5.2 .3-1.9 .4-1.8 .3-.5 .4 3.5 .3-1.4 .3 .5 .4-3.1 .3 4.9 .4-.6 .3-4 .4 3.5 .3-.5 .4-3.4 .3 2.5 .4 .6 .3-.4 .4-2.1 .3 1.9 .4 1.2 .3-.7 .4-1.7 .3 2.6 .4-1.9 .3 1 .4 1.2 .3-1 .4 .6 .3-1.1 .3-1.3 .4 3.2 .3 .2 .4-6.4 .3 1.6 .4 1.1 .3 0 .4 2 .3-3.3 .4 .5 .3 3.4 .4-4.1 .3-1.3 .4 3.7 .3-4.3 .4 1.7 .3-.5 .4-.4 .3-.3 .4 4.4 .3-4 .4-.6 .3 1.2 .3 2.1 .4-4.4 .3-.4 .4 2.6 .3 .3 .4-1.2 .3 1.4 .4-2.7 .3-.5 .4 .5 .3-1.5 .4 1.6 .3-.3 .4-.2 .3 2 .4-1.3 .3-3.2 .4 3.1 .3-.5 .4-.5 .3-.9 .4 .4 .3-2.2 .3 1.8 .4-3.1 .3 2.1 .4 2.1 .3-4.2 .4 4.3 .3-2.8 .4 .6 .3 3.5 .4-1.5 .3-3.1 .4-1 .3 4.4 .4 .3 .3 .6 .4-3.6 .3-2.7 .4-.1 .3 3.7 .4 1.5 .3-.5 .4 0 .3-1.4 .4 2.7 .3 1.4 .4-.2 .3-2.2 .4-1.3 .3 3.8 .4-.3 .3-1.4 .4-2.9 .3 3.5 .4-1.6 .3-.4 .4-1.9 .3 2.2 .4 .6 .3-2.6 .4 1.6 .4 2.9 .3 .1 .4-4.8 .3 1.1 .4 3 .3-.5 .4 2.7 .3-4 .4 1.4 .3-.3 .4 .2 .3 .7 .4-1 .3 3.3 .4-1 .3-.6 .4-.6 .3-.9 .4 3 .3-.9 .4 0 .3-2.1 .4 1.5 .3 2.7 .4 0 .3 .8 .3 2.7 .4-3.7 .3 3.9 .4 1 .3-.4 .4-5.6 .3 6.3 .4-.5 .3 .7 .4-4.4 .3 4.6 .3-2.3 .4 1.2 .3 0 .4 .3 .3 .6 .4 .5 .3 .5 .4 1.7 .3-.8 .3-1.9 .4-.3 .3 2 .4-2.7 .3 2.9 .4-1 .3-.2 .4 3.4 .3-1.5 .3 5.3 .4-1.9 .3-.5 .4 2.8 .3-3.1 .4 4.8 .3 .9 .4-.3 .3 1.2 .4-3.2 .3-1.5 .3 1.3 .4-.8 .3 5.2 .4 .9 .3-3.5 .4 .8 .3-1.1 .4 1.8 .3 .3 .3-3.4 .4 2.9 .3-.3 .4 2.1 .3 .1 .4-1.6 .3 .8 .4 .7 .3 1.5 .4 .8 .3-3.9 .4 .8 .3-.4 .4 1.9 .3 4 .4-5.4 .3 6 .4-5.6 .3 2.2 .4-.5 .3 4.4 .4-1.1 .3-2.8 .3-.8 .4 .7 .3-2.4 .4 4.5 .3-4 .4-2.3 .3 2.1 .4 .6 .3-3.1 .4 .3 .3 .5 .4-1.4 .3 .5 .4 1 .3 .9 .4 2.5 .3-1.3 .4-2.6 .3-1.4 .4 4.4 .3-4 .4-.6 .3 1.3 .3-1.5 .4 1.3 .3 1.9 .4-2.3 .3-1.9 .4 0 .3 2.1 .4 2.8 .3-2.3 .4 3.5 .3-1.9 .4 1.6 .3-5.5 .4 3.6 .3 1.7 .4-4.7 .3 0 .4 6.1 .3 .1 .4-3.6 .3 5 .4-4.8 .3 1.1 .4 .1 .3 2.8 .4-.8 .3-2.3 .4 .8 .3-5.3 .4 3.6 .3 .7 .4-6 .3 2.2 .4 .7 .3-3.2 .4 3.6 .3-.4 .4 .9 .3-1.6 .4-1.2 .4 .7 .3-3.1 .4 3.4 .3-3.7 .4 5.1 .3-5.1 .4-.1 .3 4.2 .4-2.5 .3 4.6 .4-.9 .3-2.3 .4 1.5 .3-1.1 .4-.3 .3 1.1 .4 .4 .3-.7 .4 0 .3 4.7 .4-1 .3-2.1 .4-.3 .3 1.9 .4 3.2 .3-3 .4 1.4 .3-2.8 .4 2 .3 4.1 .4 0 .3-4.8 .4 .3 .3 4.9 .4-4.3 .3 1 .4 .2 .3 3.7 .4-4.9 .3 3.3 .3 .8 .4-1.4 .3-1.5 .4 3.4 .3 1.7 .4-3.7 .3 .8 .4-.7 .3 2 .4 4.6 .3-2.5 .4-.3 .3 3.1 .4-4.8 .3 5.3 .4-.2 .3-4 .4 .4 .3-.5 .4 .8 .3 4 .4 1.6 .3-1.2 .4-1 .3 .8 .4-.1 .4 .3 .3-3.9 .4 .8 .3 .2 .4-2.7 .4 .5 .3 1.4 .4-.4 .3-1.4 .4 2.7 .3-1.6 .4 .4 .3 .4 .4-3.5 .3 3.9 .4-.2 .3-3.4 .4-.3 .3-1.5 .4 3.3 .3-3.7 .4-.1 .3-1.8 .4 2.5 .3 .7 .4-5 .3 1.3 .4-1.1 .3 2.3 .4-2.6 .3 1.3 .4 0 .3-3.6 .4 0 .3 3.8 .4-2.5 .3-1.5 .4 3.2 .3 1.6 .4-3.3 .3 3.3 .4-1.8 .3 1.4 .4-2.6 .3-2.1 .4 .6 .3 .3 .4-.4 .4 3.3 .3-5.9 .4 4.5 .3-2.4 .4 3.1 .3-1.8 .4-4 .3 4.2 .4-2.6 .3-1.9 .4 .6 .3 2.1 .4-3.9 .3 1 .4-2.5 .3-.4 .4 3.6 .3 .7 .4 .8 .3-3.8 .4 2.6 .3-.4 .4-5.1 .3 4.4 .4-2.3 .3-2.3 .4 5.9 .3-5.7 .4 4.9 .3-4.3 .4 3.5 .3 1.8 .4-3.5 .3-.7 .4 1.7 .3-1.1 .4-.1 .3-1.6 .4 1.7 .3-1.3 .4 1.8 .3-2.1 .4 2.7 .3 0 .4-5.3 .3-.2 .4 1.1 .3 2.8 .4-3.9 .3 .6 .4 .5 .3 2.9 .4-5.5 .3 2.7 .4-1.7 .3 2.8 .4 .4 .4-5.3 .3 1.2 .4 1.9 .3-4 .4 3.5 .3-2.1 .4-.4 .3 1.5 .4-1.5 .3 4 .4-5.5 .3 4.9 .4-4.5 .3 2.1 .4-2.4 .3-1 .4 1.6 .3 2.7 .4-2.4 .3 2.6 .4-2.5 .3-2.5 .4-.1 .3 2.6 .4-1.4 .3-4.2 .4 .7 .3 1.2 .4 3.3 .3 .2 .4-1.5 .3-1.3 .4-2.7 .3 2.7 .4-2.6 .3 3.3 .4-2.8 .3 2 .4-1.4 .3-1.2 .3-2.8 .4-1.5 .3 5.3 .4-2.7 .3 .1 .4 .1 .3-2.9 .4 3.2 .3-2.1 .4 1.3 .3-1.5 .4-.9 .3 2.6 .4-5.5 .3-.3 .4 2.4 .3-3.2 .4 5.5 .3-1.4 .4-2.9 .3 3.2 .4-2.9 .3 .8 .3 0 .4 .3 .3 .4 .4 1.2 .3-.2 .4-.6 .3-1.6 .4 2.8 .3 .2 .4 1.7 .3-1 .4 3.4 .3-.2 .4-.8 .3 1 .4-2.7 .3-.5 .4 4.6 .3 .5 .4-.5 .3-1.7 .4 1.8 .3-.7 .3 .7 .4-3.9 .3 5.2 .4-3.9 .3-.6 .4-.8 .3 1 .4-.4 .3 1.8 .3-2.5 .4-1.8 .3 3 .4-3.1 .3 1.2 .4-1.9 .3 1.2 .4 2.4 .3 .1 .4-.1 .3-4.5 .3 1.6 .4-1.2 .3-2.7 .4 3.5 .3-1.6 .4-3 .3 2.8 .4 .6 .3-3.3 .4-3.2 .3 1.6 .4 3.2 .3-5.9 .4 1.3 .3-1.1 .4 2.8 .3-3 .4 4.5 .3-.4 .4-.9 .3-1.7 .4 3.1 .3-1.7 .4-.2 .3-3.2 .4 1.6 .4 4.2 .3-1.7 .4 .6 .4 2.9 .3 3.8 .4-.1 .3 .4 .4-1.2 .4 4.6 .3 1.5 .4-1.8 .3 3.3 .4 3.2 .3-1.6 .4 .2 .3 1.9 .4-1.2 .3 1.3 .4 4.4 .3-.4 .3-2.5 .4 4.4 .3-2.5 .4 2.7 .3 0 .4 4.4 .3-3.8 .4 3.8 .3-.6 .4-.9 .3 7 .3-1.9 .4 4.6 .3-.5 .4 .1 .3-.4 .4 5.2 .3-.3 .4-3.7 .3 4.2 .4 2.8 .3-3.8 .4 2.1 .4 4.6 .3 .2 .4-1.8 .3 1.7 .4 5.6 .4 .7 .3-3 .4 2.1 .3-2.3 .4-.9 .3-.8 .3-2.7 .4-3 .3-5.8 .3-.6 .4-1.5 .3-4.1 .3-1.4 .4 4.6 .3-4.4 .3 2.8 .4 1.4 .3-1.9 .3 .9 .4 2.8 .3-2.1 .4 1.1 .3 .1 .4 6.4 .4-1.3 .3 1.5 .4 5.2 .3-2.2 .4 5.1 .4-3.9 .3 3 .4 2.4 .3 4.2 .4 5 .3-1.2 .3 7.7 .4 .9 .3 3.7 .3 2.3 .4 7.5 .3 1 .3 9.9 .4 7.9 .3 12.3 .3 4.6 .4 5.9 .3 11.5 .3 .8 .4 10.8 .3 6.1 .3 4.5 .4 4.6 .3 12.4 .3 2.8 .4 7.9 .3 2.2 .3 9 .4 7.4 .3 4.4 .3-6.3 .4-2.7 .3-7 .3-5.8 .4-8.3 .3-3.2 .3-10.6 .4-4.2 .3-7.9 .4-2.9 .3-5.9 .4-6.6 .4-.9 .3-7.6 .4-1.3 .3-3.6 .4-6 .4-8.8 .3-5.1 .4-1.4 .4-1.6 .3-2.1 .4 4.3 .3-6 .4 .2 .3 2.3 .4-5.7 .3 1.1 .4-5.6 .3-1.2 .4 3.5 .3-.4 .4-4.1 .3-.6 .4-3.9 .3 .6 .4 .3 .4-1 .3-1.3 .4 1.2 .3 0 .4-3 .3-4 .4-2.1 .3 2.6 .4-.9 .3-.6 .4-4.4 .3 .3 .4 2.1 .3-2.2 .4-.9 .3-2.2 .4-.6 .4-1.8 .3-.4 .4-.3 .3 1.7 .4-2 .3-1.1 .4-1.2 .3-.7 .4-1.3 .3-3.9 .4 1.4 .3-2.1 .4 0 .3 1.3 .4-3.1 .3 .2 .4-.5 .4-6 .3-3.5 .4-8.1 .4-3.2 .3-4.4 .4-6.5 .4 .9 .3-1.5 .4 .2 .3-4.3 .4-.6 .4 1.5 .3-.6 .4-1.6 .3 .3 .4 6.2 .3-4.4 .4 5.2 .4-2.1 .3 3.8 .4 .2 .3-.3 .4 2.9 .3 1.5 .4-2.1 .3 2.7 .4 1.8 .3-7.6 .4 1.3 .3-.3 .3-4.7 .4 .7 .4-.2 .3-2.7 .4-.2 .3-3.5 .4 4.1 .3-4.1 .4 0 .4-1.5 .3 0 .4 .9 .3-1.4 .4-1.1 .3 .1 .4-.3 .4 1.6 .3-6.3 .4 2.6 .3-1.4 .4 .5 .4-2.4 .3-1.4 .4 1.8 .3-2.1 .4 4.2 .3 .3 .4-1.2 .4-2.1 .3 3.2 .3-1.6 .4 .2 .3 .9 .4-2.3 .3-2.4 .3 3.9 .4-1.5 .3 3 .3-4.8 .4 2.7 .4 12.5 .3 53 .3 52.5 .3 20.1 .3 19.4 .4-1.1 .3-.3 .4 .2 .3 3.8 .4 .1 .3-1 .4-2.7 .3 1.5 .4-2.3 .3 5.5 .4-3.4 .3-.1 .4-19 .4-21 .5-112.4 .3-1 .3 0 .4-4.3 .3-1.8 .4-4.1 .3 .7 .4 .6 .3-4.8 .3-4 .4 .3 .3-1.8 .4 1.6 .3-3.3 .4-1.3 .3 4.5 .4-3 .4-1.9 .3 0 .4-.1 .3 3.3 .4-5.4 .3 1.5 .4 1.8 .4-.5 .3-3.8 .4 3.5 .3-4.9 .3 1.8 .4-3.3 .3 2 .3 1.1 .4 2.7 .3 1.1 .3 3.3 .4 .9 .3 .7 .3-3.3 .4 5 .3-3.6 .3 3.3 .4-2.7 .3 4.9 .4-2.7 .4 .1 .3 .9 .4-1.1 .3 3.2 .4 2.9 .3 3.2 .3 1.4 .4 7.2 .3 1.7 .4 3.2 .3 3.2 .4-2 .3 1.9 .4 5.7 .4 1.9 .3 1.7 .4-1.7 .3 1.8 .4 4.6 .3-3.2 .4 .3 .4 5 .3-2.6 .4 1.4 .3 1.7 .4 1.7 .3-.1 .4 .8 .3-3.3 .4 3.7 .3 1.2 .3-3.4 .4 2.8 .3-2.8 .4 1.8 .3 1.5 .4 .1 .4 1.2 .3-3.1 .4 1.7 .3 4.5 .4-2.4 .4-1.5 .3-1 .4 3.8 .3-1.4 .4 1.1 .3-1.5 .4-1.6 .3-1.8 .4 2.2 .3-4.4 .3 .2 .4 3.6 .3-1.7 .3-.3 .4 1.3 .3-.2 .3-3.1 .4-.2 .4-.4 .3 1.5 .4-5.5 .3 .3 .4-1.7 .3 2.3 .4 1.7 .3-3.1 .4 .5 .3 .2 .4 2.7 .3-3.3 .4 4 .3-2.9 .4 1.7 .3 2.2 .4-4.5 .3 3.7 .4 2.4 .3-1.8 .4 2.6 .4-4.1 .3 1.5 .4 2.4 .3 .5 .4-4.2 .3-.6 .4 .1 .4-.8 .3 .6 .4 2.1 .3 1.4 .4-.2 .3-3.9 .3 3.1 .4-.9 .3-3 .3-1.5 .4-5.9 .3-.6 .3-2.9 .4-3.9 .3 .8 .4-6.4 .3 4.3 .4-3.8 .4-3.7 .3 .4 .4-.1 .3-3.3 .4-1.7 .4 3.7 .3-5.7 .4 2.8 .3-3.4 .4-.4 .3 1.7 .4-.3 .3-2.1 .3-2.8 .4 1.6 .3-2.9 .3-2 .4 5.4 .3-5.7 .3 3.7 .4 0 .3-1 .3 0 .4-4.1 .3 .7 .3-.3 .4 .8 .3-3.5 .3 2.9 .4 .8 .3-5.1 .3 2.8 .4-1.6 .3 2.2 .3-3 .4 2.8 .3-2.3 .3 2.6 .4-4.2 .3-2.3 .3 2.5 .4 1.2 .3-1.3 .3-4 .4 1.6 .3-1.9 .4-3.2 .3 1.2 .4 2.4 .3-2.2 .4 .7 .3-6.1 .4 2.4 .3 1.2 .4-4.9 .3 4 .3-2.7 .4-1.2 .3-2.5 .4-1.8 .3 1 .4-3.2 .3-.6 .4 2.6 .3-4.7 .4 2.9 .3 .8 .4 .5 .3 1 .4-1.9 .3-.2 .4 4.1 .3-1.1 .4 1.6 .3-.5 .4-1.7 .3 2.4 .4 1.3 .3 0 .4-5.7 .3 5 .3-1.6 .4-.4 .3 2.5 .4-1.6 .3 3 .4-.4 .3 .6 .4-1.2 .3 1.3 .4-1.4 .3-1.8 .4 2.7 .3 2.5 .4-3.2 .3 0 .4 1.8 .3 .7 .4 .3 .3 .6 .4-2.8 .3 .5 .4 1.4 .3-5.7 .4 .3 .3-.9 .3-.5 .4 5.6 .3-3.3 .4-.2 .3-1.1 .4-.7 .3 2 .4-.4 .3 .6 .4-1.1 .3 .2 .4-2.8 .3 0 .4 5.5 .3-5.2 .4 2.8 .3-3.8 .4 6.4 .3-4.2 .4 0 .3 3.6 .4-.2 .3 .4 .3-.5 .4-.6 .3 .7 .4-2.1 .3-2.6 .4 3 .3-2.9 .4 3.9 .3-2.8 .4-2.7 .3 .4 .4 2.3 .3-3.6 .4 3.1 .3-.3 .4 0 .3-1.5 .4 3.2 .3-.4 .4-.7 .3 2.2 .4-.2 .3-.6 .4-3.2 .3 1.4 .3 1.2 .4-1 .3 1 .4-1.7 .3 2.8 .4 .2 .3-3.5 .4 1.4 .3-1.3 .4 2.6 .3-.3 .4-.4 .3-.5 .4 1.4 .3-1.8 .4 2.8 .3-.7 .4-2.2 .3 .5 .4 1.5 .3-1.6 .4-2.1 .3 2.4 .3-2.5 .4 .1 .3 3.9 .4-3.2 .3 .4 .4 2.5 .3-.2 .4-1.9 .3 1.9 .4-3.1 .3-.5 .4 2.8 .3-.6 .4 1.3 .3-1.2 .4-.3 .3 1 .4 2.4 .3-4.2 .4 3.3 .3-1.8 .4 .6 .3-.3 .4 2.2 .3-1 .3-1.7 .4-1.6 .3 .7 .4 2.9 .3-1.1 .4 0 .3 1 .4-.2 .3-3.7 .4 2.7 .3-1.1 .4-2 .3 0 .4 .1 .3 2.8 .4-3.1 .3 2.3 .3 1.5 .4-2.4 .3 2.6 .4-1 .3-.3 .4-1.3 .3-.9 .4 3.5 .3 .8 .4-2.6 .3 1.5 .3-1 .4-1.5 .3 4.1 .4-1.4 .3 .2 .4-1.4 .3 1.3 .4-1.3 .3 1.6 .4-1.6 .3 .3 .3 .4 .4-1.8 .3 .2 .3 2.7 .4 1.4 .3-2.5 .4 1.3 .3-1.9 .3 3 .4-2.8 .3 2.3 .3-.4 .4-1.7 .3-.1 .3 1.1 .4 .1 .3-1.4 .3-1.5 .4 2.5 .3-2.9 .3 .6 .4-2.2 .3-.1 .4 3.4 .3-3.8 .4 3.1 .3-1.9 .4 2.2 .3-1 .4 2.2 .3 .4 .4-.6 .3-.4 .4 1.8 .3-1.1 .3-.7 .4 1.4 .3-1.6 .4 1.8 .3 1.5 .4 1.3 .3-2.1 .4 2.4 .3-1.3 .4-.1 .3-.5 .4 1.5 .3-1.1 .4 1.4 .3 1.2 .4 .9 .3-.2 .4-3 .3 3.5 .4-2 .3-.9 .4 1.1 .3-2.1 .3 3 .4-.8 .3 .4 .4-2.3 .3 .8 .4-1 .3 1.8 .4-1.8 .3 1.3 .4 .3 .3-.8 .4 .7 .3-2.7 .4-.9 .4 .9 .3 2.1 .4-2.1 .3 0 .4-1.2 .4 2.5 .3-2 .4 3 .3-.6 .4-2.2 .3 1.2 .4 1.3 .3-.4 .3-2.9 .4 .3 .3-2.8 .3 1.3 .4-2.4 .3 2.9 .3-1.2 .4-1.1 .3-1.7 .3 .6 .4 .8 .3 1.1 .3 2 .4 .3 .3-1.2 .4 1.5 .3 1.1 .3-.3 .4 1.2 .3-1.4 .3 .2 .4 .1 .3-1.1 .3 .6 .4-4.2 .3-.4 .3-.5 .4 2.3 .3-.9 .4 .6 .3 1.4 .4-1.2 .3-.4 .4 2.8 .4 .6 .3-.2 .3-.4 .4-2.6 .3-.7 .3 3 .4-.9 .3-1.8 .3 .9 .4-1.8 .3-1.3 .3 1.2 .4 2 .3-.9 .3-1.5 .4-1.1 .3 4.6 .3-2.7 .4-.2 .3 2.3 .3 .7 .4 .3 .3-.6 .3 .6 .4-.7 .3-.5 .3-.1 .4-1.1 .3 .9 .4-4 .3 .9 .3-1.2 .4-1 .3 1.8 .3-.7 .4-1.9 .3 2.2 .3-.7 .4 .2 .3-.1 .3-1.4 .4 2.2 .3-.4 .4-1.7 .4 1.1 .3-2.3 .4-1.5 .3 .3 .4-.3 .3 .8 .4-.8 .4 2.3 .3 0 .4-3.9 .3 .3 .4-2.1 .3-.6 .3-3.7 .4-.3 .4 3.6 .4 2.5 .3 2.8 .4-1.6 .4-1.1 .3 1.5 .4-2.1 .3 .9 .4 2.5 .3-2.5 .4 .8 .3 2 .3-.3 .4-2.1 .3 1.2 .5 76.4 .4-2.4 .3 2.2 .4-1.3 .3-.2 .4-2.5 .3 .6 .4 .3 .4-.5 .3-2.2 .4 2.6 .4-1.7 .3-.3 .4 0 .3-.3 .4-4.3 .4 1.6 .3 3.3 .3-2 .3 1.6 .3 2.6 .4-1.1 .3 .3 .3-1.4 .4-.4 .3-.5 .3-.3 .4 .8 .3-2.3 .3-1.3 .4 1.9 .3 2.1 .4-1.4 .3-1.4 .4 0 .4 1.3 .3 0 .4 1.4 .3-2 .4 .8 .4 0 .3-2.3 .4 1.9 .3-.2 .4 .4 .2 .5 .2 1.7 .2 .6 .2 1.6 .2-2 .2 2.9 .2-1 .2-.5 .2 .3 .2 1.1 .1-.2 .2 1 .2 .9 .2 .2 .2-1.4 .2 .9 .2 1.1 .2 1.1 .2-1.6 .2 2.5 .2-2.2 .2 2.3 .2-1.3 .2 2.5 .2 0 .2 .2 .1-1 .2 0 .2 1.7 .2 1.2 .2 .1 .2-1 .2 .6 .2 .5 .2 1.3 .2-2.1 .2 2.5 .2-1.6 .2 2 .2-2.3 .1 1.1 .2 1.3 .2-1.1 .2 1.2 .2-.7 .2 1.1 .2-1 .2 1.4 .2-1.9 .2 2.5 .2 .7 .2 0 .2-1 .1 .5 .2 1.4 .2-1.3 .2 .1 .2-.2 .2 1.1 .2 1.9 .2-.8 .2-.1 .2-1.1 .2 1 .2-.2 .2 .9 .1-.5 .2 1.5 .2-.5 .2 1.3 .2 .6 .2-1 .2 1.6 .2-.8 .2 .6 .2-.6 .2 .1 .2 1.3 .2-1.4 .1-.4 .2 2.5 .2-1.5 .2 1.5 .2-1.9 .2 3.1 .2-.6 .2 .3 .2-1.2 .2-.7 .2 .5 .2 1.3 .2-.1 .2-.1 .1 1.8 .2-.8 .2-1.2 .2 2.2 .2 .3 .2-1.5 .2 .8 .2-.9 .2-.6 .2 1.8 .2 .6 .2-1.3 .2 .1 .2 .9 .2 .7 .2-1.1 .1 .8 .2-1.7 .2-.1 .2 1.6 .2-1.1 .2-.1 .2-.5 .2 1.2 .2 .1 .2-.2 .2-1.4 .2 1.4 .2-.6 .1 .5 .2-1 .2 .3 .2-.7 .2 .5 .2 1.7 .2-2.1 .2 .9 .2-.4 .2 2 .1 .5 .2-2 .2 1.5 .2-.6 .2-.3 .2-.8 .2 2.6 .2-.9 .2 .8 .2-1.9 .2-.4 .1 2.1 .2 0 .2-2.1 .2 1.3 .2 .6 .2-2.1 .2 0 .2 1.5 .2-1.5 .2 .5 .1 .7 .2 .4 .2-1.1 .2-.9 .2 .2 .2 .7 .2 1.9 .2-1.9 .2-.6 .2 1.3 .2 .7 .1 1.2 .2-.9 .2 0 .2 .8 .2-1.6 .2-.1 .2 .9 .2 .3 .2 .4 .2-1.3 .1 2.6 .2-1 .2-.8 .2 1.6 .2 .9 .2-.8 .2 .5 .2-1.7 .2 .5 .2 1.7 .2-2.1 .1 2.7 .2-1.4 .2 .8 .2 1 .2 0 .2 .2 .2-.2 .2-.5 .2-1.1 .2 1.8 .1-1.9 .2 2 .2 .5 .2-.1 .2-2 .2 1.6 .2 .6 .2-.6 .2 1.5 .2-.5 .2 .2 .1-.1 .2-1.2 .2 .5 .2 2.1 .2-.8 .2 .9 .2 .6 .2 .2 .2-.4 .2-.5 .1-.3 .2-.3 .2 .4 .2 2 .2-1.3 .2-.9 .2 .3 .2 .5 .2 2.1 .2-2.2 .2 1.9 .1-1.5 .2 2 .2-.3 .2-1.3 .2 1.1 .2 1.5 .2-.4 .2-1.2 .2-.5 .2 1.1 .1 1.4 .2-.7 .2 .6 .2-1.1 .2-.6 .2 1.5 .2-1.5 .2 1.6 .2 0 .2 .3 .2 1.7 .1-2.4 .2 2.3 .2-1.3 .2 1 .2 .3 .2-.9 .2 2 .2 .3 .2 .3 .2-1.3 .1 1.4 .2 .7 .2-2.1 .2 2.3 .2 .1 .2-2.1 .2 1.6 .2 .4 .2 .6 .2-.9 .2 0 .1-.3 .2 1.6 .2 .5 .2-.5 .2-.8 .2 .2 .2 .3 .2 1.2 .2-.6 .2-.3 .1 2.5 .2 .6 .2 0 .2-1.5 .2 1.5 .2-.7 .2 1.4 .2-.4 .2 2.4 .2-.2 .2 1.5 .2-2.1 .2 3.1 .2 .8 .2-2.1 .2 1.3 .2 1.2 .2-.2 .2 .3 .2-.7 .2-1.3 .2 0 .2 .1 .1 1 .2-1.4 .2 1.2 .2-.4 .2-1.6 .2-1.2 .2-.4 .2 2 .2-2.5 .2-.2 .2 .7 .2 .6 .2-1.9 .2 .2 .2 1.7 .2-1 .1-1.5 .2 .7 .2 .7 .2-1 .2 .5 .2-1 .2-1.4 .2 1.3 .2-1.9 .2 .6 .2 .6 .2 1.3 .2-1.9 .2 .3 .2 1.7 .1-2.3 .2 .4 .2 1.7 .2 .6 .2-1 .2-.9 .2 .5 .2 0 .2-.2 .2 1.1 .2-2.1 .2 1.8 .2-.2 .2-1.3 .2 1.4 .2-1.6 .1 .8 .2-.7 .2 .6 .2 .1 .2 1 .2-.6 .2-.6 .2 1 .2 .3 .2-.4 .2 .7 .2 .3 .2 .8 .2-.5 .2-.6 .1-.5 .2 .5 .2 .5 .2 1.2 .2-1.4 .2 .8 .2-.8 .2-.6 .2 1.6 .2-.7 .2-.2 .2 2 .2-.5 .2-1.9 .2 2.3 .2-.9 .1 .8 .2 0 .2-.7 .2 1.1 .2-2.8 .2 .5 .2 1.5 .2-1.2 .2 1.5 .2-2.3 .2 1.3 .2 .1 .2-1.3 .1 1.4 .2 .6 .2-.4 .2-.1 .2 .2 .2-1.6 .2 1.1 .2 .4 .2-2.3 .2 2 .1-.3 .2 .8 .2-2.2 .2 1.8 .2-.4 .2 .6 .2-.5 .2-1.4 .2 1.2 .2-1.2 .2 .2 .1 2.2 .2-2.5 .2 1.5 .2-.7 .2 .6 .2 .4 .2 .6 .2-.5 .2-.3 .2 .3 .1 0 .2-1.2 .2-1 .2 2.3 .2-1.9 .2 .9 .2-.4 .2-.2 .2 .3 .2-.2 .2-.6 .1 .3 .2-1.3 .2 2.1 .2-.4 .2-2 .2 1.5 .2 .3 .2-.6 .2-1.9 .2 1.7 .1 .3 .2-1.4 .2-1.3 .2 2.1 .2-1.6 .2 .4 .2-.4 .2 .8 .2-1.8 .2-.2 .2 1.5 .1-.9 .2-.9 .2-.1 .2-1.4 .2-.4 .2 1.1 .2 .4 .2-1.2 .2-.3 .2-.2 .1-1.1 .2 .8 .2 1.2 .2-.6 .2-.4 .2-.9 .2 .4 .2-.4 .2 1.2 .2-1.4 .2 .4 .1 .8 .2-2.1 .2-.7 .2 .1 .2-.5 .2 .9 .2-.3 .2 .5 .2-1.3 .2-.8 .1 2.2 .2-.7 .2 .6 .2-.6 .2-1.5 .2 .3 .2-1.2 .2 .1 .2 0 .2 .5 .2-1.3 .1 0 .2 1 .2-.5 .2 .7 .2-1.4 .2-1.6 .2 2 .2 .1 .2-2.4 .2 1.7 .1-.5 .2 .1 .2-.9 .2-2.3 .2-.1 .2 1.3 .2-.3 .2-1.9 .2 1.6 .2-.4 .2-1.5 .1 1.4 .2-1.9 .2 1.6 .2-1.2 .2 .2 .2-.1 .2-1.5 .2 .7 .2 .2 .2-.7 .1 .9 .2-1.7 .2 1.7 .2-.3 .2-2.1 .2 1 .2 .5 .2-1.9 .2-.2 .2 1.2 .2-2.2 .1 .1 .2-.7 .2-.4 .2 .5 .2-.6 .2 .8 .2 .4 .2-2.1 .2 1.5 .2-1.6 .1 1.9 .2-1.8 .2 1.6 .2-2.1 .2-.3 .2 .2 .2-.2 .2 .4 .2 .2 .2-1 .2-1.4 .1 2.2 .2-1.5 .2-.6 .2-.4 .2 .3 .2-.4 .2 .2 .2-.3 .2-1.2 .2 2.3 .1-1.1 .2-1.2 .2 1.9 .2-1.1 .2 1 .2 0 .2-.2 .2-.9 .2-.9 .2-.4 .2 1.1 .1 .1 .2-1.7 .2 2 .2-1.4 .2-.3 .2 .7 .2-.5 .2-1.2 .2 1.8 .2 .5 .1-1.4 .2 1.5 .2-1 .2 .5 .2 .3 .2-1.5 .2 .8 .2 0 .2-1.2 .2 1.4 .2-2.1 .1 .5 .2 1.1 .2-.5 .2-.4 .2 .9 .2-.6 .2-2 .2 .5 .2-.8 .2 1.7 .1-1.8 .2 .5 .2-.3 .2 0 .2 1.9 .2-2.6 .2 1.8 .2 .2 .2-1.3 .2 .8 .2-2.4 .1 2 .2-2 .2 .5 .2-.9 .2 1.9 .2-.8 .2 .1 .2 .7 .2-2.2 .2-.2 .1 1.4 .2-.1 .2 0 .2-1.6 .2 2.3 .2-.9 .2-1.5 .2 2.3 .2-.3 .2-1.5 .2-.7 .2 .9 .1-.4 .2 .3 .2-.9 .2 .2 .2 2 .2-2.3 .2 2.2 .2-.4 .2-.1 .2 .1 .2-1.2 .2-1.3 .2-.2 .1 .3 .2 1.3 .2-.3 .2-.3 .2 .5 .2-.6 .2-.1 .2 .2 .2-.8 .2 .5 .2 .6 .2-.4 .2-.2 .1-.5 .2-.6 .2 1 .2-.2 .2-1.8 .2 1 .2-1.1 .2 2.4 .2-2.1 .2 .3 .2-.9 .2 2 .2-1.9 .1 .4 .2 .5 .2-.6 .2 .6 .2-.5 .2 .1 .2-.2 .2-.7 .2-.5 .2 .8 .2-.5 .2 1.9 .1-1.7 .2 0 .2-.6 .2 1.4 .2 .5 .2-2.2 .2 2.3 .2-1.9 .2-.4 .2 2.1 .1-1 .2 1.1 .2 0 .2-2.3 .2 2.1 .2 .1 .2-.3 .2-1 .2-.8 .2-.3 .2 .8 .1-.1 .2 .5 .2-.2 .2 .3 .2-1.8 .2 .3 .2-.3 .2 1.3 .2-1.6 .2 1.6 .1-.1 .2-1.6 .2-.4 .2 1 .2 0 .2 .3 .2 1.6 .2 .3 .2-1.7 .2 1.2 .2 .3 .2-.2 .2 .6 .1 1.5 .2 .4 .2-.9 .2 .3 .2 .4 .2 .2 .2 .9 .2 1.6 .2 .1 .2-.5 .2-.6 .2 2.6 .2-.8 .2-.5 .2 1.2 .2 1.1 .1-.6 .2 2.1 .2-1.7 .2-.2 .2 1.9 .2 .7 .2 0 .2 .3 .2 3.1 .2 6.4 .2 2.5 .2 4 .2 3 .2 6.1 .2 2.9 .2 5.8 .2 3.6 .2 3.4 .2-.1 .2 1.3 .2 2.2 .2-.2 .2 1.4 .1 .3 .2-.5 .2 1 .2 2 .2 .5 .2-.3 .2 1.4 .2 1.7 .2-1.8 .2 3.3 .1-1.8 .2 1.8 .2 0 .2 2.6 .2-1.6 .2 2 .2-.6 .2 .3 .2 2.3 .2 .1 .2-1.7 .2 .3 .2 2.5 .1-1.5 .2 1.9 .2-.4 .2 1 .2-1 .2 1.8 .2-2.1 .2 2.2 .2-1.5 .2 .4 .2 1.3 .2 .8 .2-.2 .2 0 .2 .9 .2-.1 .1-.7 .2 1.6 .2 0 .2 .3 .2 .6 .2-1.6 .2 1.4 .2 .1 .2 .3 .2-1.8 .2 1.9 .2 .6 .2-1.3 .2-1.5 .2 .1 .1-.2 .2-.6 .2 1.7 .2-.9 .2 0 .2-.7 .2-.2 .2-1.1 .2-.2 .2 1.5 .2-.2 .2 1.3 .2-2.1 .2 .7 .2 1.1 .2-2.2 .1 1.2 .2 0 .2-.6 .2-1.6 .2 1.7 .2 .5 .2-1.1 .2-.4 .2 .8 .2 .2 .2-2 .2 .9 .2-1.3 .1-.7 .2-.4 .2 .9 .2-.3 .2 .1 .2-.9 .2 0 .2 .5 .2-.7 .2 .5 .2-.9 .2-.1 .1-.2 .2-.4 .2-1.1 .2 .7 .2 1.4 .2-2.7 .2 .8 .2 .6 .2-1.9 .2 0 .2 .6 .2 .9 .1-2.6 .2 .1 .2 1.5 .2-2.3 .2 .8 .2 .8 .2-.5 .2-2.1 .2 1.5 .2-.3 .2-1.9 .2 .6 .1 1.3 .2-.2 .2 .1 .2-1.8 .2-1.2 .2 .1 .2 .5 .2-.2 .2 .3 .2-.9 .2-.9 .1 .9 .2 1.4 .2-.5 .2-.3 .2-1.2 .2-1.1 .2 1.5 .2-.7 .2-1.4 .2 .8 .2-.1 .2-.7 .1 .6 .2-.9 .2-.3 .2 .7 .2-2.5 .2 .2 .2-.3 .2-.6 .2 .9 .2 .4 .2-.7 .2-.8 .1 1.3 .2-2.4 .2 .1 .2 2 .2-2.9 .2 .8 .2-.3 .2 .5 .2 .4 .2-.2 .2-1.2 .2-1.1 .1 1.1 .2-1.5 .2 .8 .2-.4 .2-1.6 .2 1 .2 1.4 .2-2.1 .2-.3 .2 1.1 .2-.9 .2-.7 .1 .9 .2-1.3 .2 .8 .2 .1 .2-1.8 .2 2.2 .2-.7 .2-2 .2 .2 .2 1.6 .2-2.6 .2 2.6 .2-2.3 .1 1.2 .2 .6 .2-.6 .2 .2 .2-2.5 .2-.1 .2-.7 .2 2.4 .2-1.2 .2 .6 .2 0 .2-2.5 .2 0 .1-.1 .2-.3 .2-.2 .2 .8 .2-1.9 .2 1.3 .2-.3 .2-1.3 .2 1.2 .2-1 .2 .8 .2-2 .2 2.3 .1-.8 .2-.5 .2 .9 .2-1.9 .2-.1 .2 .5 .2-.3 .2-1 .2-.2 .2-.6 .2-1.1 .2 .5 .2-1.2 .1 1.2 .2 .2 .2-.8 .2 .3 .2-.7 .2-1.3 .2 .5 .2 1.2 .2-2.8 .2 1.7 .2-1 .2-1.3 .2 1.4 .1 .1 .2-1.1 .2 .7 .2-.7 .2-.3 .2 .5 .2-1.6 .2-1 .2 .3 .2 .3 .2-1.3 .2-1.1 .2-.3 .1 1.1 .2-1.4 .2 .7 .2 .1 .2-.3 .2 .5 .2-.3 .2-1.5 .2 1.1 .2-2.1 .2 1.8 .2-.9 .2-.6 .1-1.6 .2 .8 .2-1.2 .2 1.8 .2-2.3 .2 .9 .2 0 .2-.2 .2 .7 .2-1.1 .2-2.1 .2 2.5 .2-1 .1-.3 .2 .2 .2-.2 .2-1.4 .2-1.7 .2 1.4 .2 .8 .2-1.5 .2-1.5 .2 1.7 .2 .2 .2-2.5 .2 0 .1 1.5 .2-1.5 .2-.1 .2 .6 .2-1.2 .2 0 .2 .7 .2-1.4 .2-1.5 .2 .9 .2-.4 .2-.8 .2 .1 .1-1.2 .2 .3 .2 .2 .2 .1 .2 .1 .2 .1 .2-1.3 .2 1.2 .2-2.1 .2-.6 .2-1 .2-.1 .2 .8 .1 1.2 .2-1.1 .2-.2 .2-2.3 .2 .6 .2 1 .2-1.2 .2-.3 .2 1.3 .2-1.6 .2-.5 .2 .4 .2-2.1 .1 0 .2 .3 .2 1 .2-.1 .2-.3 .2-.5 .2 .7 .2-.5 .2-1.9 .2 1.7 .2-.9 .2-.2 .2 .2 .1-1.6 .2 0 .2-.4 .2 .4 .2-.3 .2-.3 .2 .2 .2-.3 .2-1.7 .2 .4 .2 1.4 .2 0 .2-.1 .1-1.3 .2-1.8 .2 .1 .2 2.1 .2-1.9 .2 .5 .2-1.9 .2 2 .2-2.5 .2 1.4 .2 .2 .2-2 .2 1 .1-1.2 .2-.7 .2 2.2 .2-2.1 .2-.4 .2 .1 .2 .3 .2 .5 .2-1.7 .2 .7 .2 .4 .2 .1 .2-.1 .1-.2 .2-2 .2 2.1 .2-2 .2 .7 .2 .3 .2-2.3 .2 1.9 .2-1.9 .2 1.3 .2-2.6 .2 1 .2 .6 .1-2.4 .2 .2 .2 1.8 .2-.5 .2-.3 .2-1.4 .2 .1 .2 1 .2-1.2 .2-1.1 .2 .8 .2-1.6 .2 2.1 .1-1.5 .2 .5 .2-1.2 .2 .8 .2 .2 .2-.5 .2-.2 .2-.6 .2 1 .2-2.3 .2 0 .2-.4 .2-.3 .1-.4 .2 2.3 .2-1.5 .2-1.6 .2 1 .2 0 .2-.1 .2-.2 .2-.4 .2-.9 .2 1.5 .2-1.8 .2 .6 .1 1.1 .2-1.8 .2 1.6 .2-1.3 .2 1.1 .2-2.1 .2 1.2 .2 .7 .2 0 .2-2.3 .2 1.3 .2-1.3 .2 0 .1 .1 .2-.6 .2 1.9 .2-2.5 .2 2.5 .2-.3 .2-2.1 .2 .6 .2 .1 .2 .1 .2-.4 .2 1.4 .2-.8 .1-.9 .2-.4 .2 .1 .2-.1 .2 .2 .2 .8 .2-1.4 .2 .7 .2-.2 .2-.8 .2-1.5 .2 .9 .2-.7 .1 .2 .2 .2 .2 .1 .2 1.1 .2-.2 .2-1.3 .2 .5" fill="none" stroke="#AFCBC4" stroke-width="3.55" stroke-linejoin="round" stroke-dasharray="13.13 5.68"/>
<path d="M349 302l.4 .4 .3 .8 .4-2.1 .3 2.7 .4-3.9 .3 .3 .3-.3 .4 1.8 .3 1.3 .4-4.2 .4 2.4 .3 .6 .4-3.3 .3-1 .3 2.6 .4 1.3 .3 .2 .4-1 .3-1.9 .4-.5 .4 .6 .3 1.8 .4-3.8 .3-.6 .4 1.4 .3 1.6 .4-4.7 .3-1.3 .4 .1 .3 2.2 .4-.1 .3-2.6 .4-.3 .3 2 .4 0 .3-.2 .4-1.7 .4-1.1 .3 3.6 .4 3.3 .4 2 .3-2.2 .4 4.5 .3 .7 .4 3.3 .4-2.1 .3 4.4 .4 1.5 .4 .3 .3-.9 .4 1.7 .3 1 .4 .9 .3 1.6 .4 3.8 .3-1.7 .4 4.8 .3 .8 .4 1.4 .3 .9 .4 .5 .3 2.1 .4 1.2 .3-.9 .4 .9 .3-2.9 .4-.3 .3-.5 .4 .6 .3 .7 .4 .1 .3 .6 .4-.3 .3-4.3 .4 1.2 .3 .2 .4-1.6 .3-2 .4 2.5 .3-1.5 .4 1.5 .3-1.3 .4 2.4 .3-.3 .4-5.1 .3 3.4 .4-.6 .3-1.8 .3-2.5 .4 1.5 .3-1.2 .4 1.6 .3 .6 .4-3.3 .3-.9 .4 .9 .3 .7 .4 .2 .3-1.5 .4-1.9 .3-.2 .4 2.4 .3-2.3 .4-3 .3 1.6 .4-1.4 .3 1.9 .4-4 .3 .5 .4-1.6 .3 2.1 .4 2 .3-2.7 .4-1 .3 3 .4-4.7 .3 1.5 .3 2.6 .4-4.5 .3 4.3 .4-2.3 .4-1.9 .3 1.3 .4 1.1 .3-.5 .3 .8 .4-2.7 .3 .9 .4 4.4 .3-2.8 .4 .4 .3-2 .4 1.3 .3 4.1 .4-1.3 .3-.9 .4-2.6 .3 1.9 .4 2.2 .3-2 .4 .9 .3 1.7 .4-1.5 .3-.2 .3-3.5 .4-.2 .3 4 .4-2.2 .3 2.4 .4-.3 .3 .7 .4-2.7 .3 3.7 .4-1.1 .3 1 .4-3.9 .3 2.2 .4 .5 .3 4.1 .4 1 .3-3.4 .4 2.1 .3 .2 .4 2 .3 .3 .4 3.5 .3-1.7 .4 1.6 .3 2.9 .4-.8 .3 3.1 .4 3.9 .3 1 .4-1.6 .4-1.5 .3 5.4 .4 1.6 .3-1.2 .4-1.7 .3 1.6 .3 4.7 .4 1.1 .3-4.1 .4 1.8 .4 2.3 .3 .3 .4 4 .3-.9 .3 3.6 .4-2.2 .3 3.3 .4 3.9 .3-.5 .4-1.4 .4-2.6 .3 1.4 .4-3 .3-1.6 .4-.9 .3-.8 .3 .8 .4-5.3 .3 .5 .4-3 .4 .3 .3-.3 .4-4.6 .3 .9 .3 .2 .4-4.9 .3 3.2 .4-3 .3-.6 .4-1.7 .4 1.9 .3-4.5 .4 2.1 .3-3 .4 1.6 .3-.6 .4-2.3 .3 1.1 .4 .3 .3 .6 .4 .9 .3-3.6 .4 .3 .3 .5 .4 1 .3 0 .4-1.9 .3-1.7 .4-.6 .3 4.4 .4-4.6 .3 2 .4 1.4 .3-1.4 .4-1 .3 2.8 .3-3.7 .4 1.2 .3 1.4 .4-3.9 .3 1.2 .4 .8 .3 .4 .4-2.1 .3 1.4 .4-2.3 .3 0 .3 1.2 .4-1.4 .3 4.4 .4-4.2 .3-.1 .4 2.6 .3-.1 .4-2.5 .3 2.1 .4-.5 .3-1.9 .4 .8 .3-2.7 .4-.7 .3 2.5 .4-3.4 .3 1.7 .4-5 .3-1.1 .4-1.4 .3 3.1 .4-1.7 .3-3.9 .4-.5 .3 3.6 .4-3.2 .3 2.7 .4-4.7 .3 2.9 .4-2.8 .3 3.2 .4-.8 .3-.2 .4-2.3 .3 3.9 .3-5.1 .4-.6 .3 3.2 .4-3.7 .3-.5 .4 1.9 .3 .7 .4 1.3 .3-1.1 .4-3.8 .3 3.1 .3 1 .4-4.1 .3 3.4 .4-2.9 .3 0 .4-1.9 .3 4 .4-1.5 .3 .9 .3-1.6 .4-1.8 .3 .2 .4 .1 .3 3.8 .4-4.3 .3-.8 .4 1.4 .3-1.6 .3 1.8 .4 .9 .3 .1 .4-2.8 .3-.4 .4 1.9 .3 1 .4-1.4 .3 .7 .4 1.8 .3-4.3 .3 .7 .4 1.2 .3 .2 .4 2.1 .3-2 .4 .6 .3-1.3 .4 2 .3-1.1 .3-1.2 .4-.7 .3 1 .4 .8 .3 3.1 .4-3.3 .3 2.2 .4 .3 .3 2 .3-4.1 .4 4.3 .3-1.8 .4-.7 .3 3.5 .4 1.8 .3-.8 .4-2.8 .3 5.5 .4-3.1 .3 1.7 .3 .8 .4-2.3 .3 1 .4 0 .3-1 .4 .2 .3 4 .4-1.3 .3 1.8 .4-3.2 .3 1.7 .4-.3 .3 4.7 .4-.4 .3 1 .4-1.8 .3-1.9 .4 2.1 .3-1 .4-1 .3 3.2 .4-1.5 .3-.9 .4 2.4 .3 2.5 .4-1.4 .3-1.4 .4-2.4 .3 3.3 .4-4.1 .3 2 .4-2.9 .3 4.7 .4-2.7 .3-.9 .3-1.2 .4 1.2 .3 2.1 .4-3.3 .3-1.5 .4 1.4 .3 2 .4-3.3 .3 1.2 .4 1.3 .3-3.6 .3 2.2 .4-2.1 .3-2.7 .4-1.1 .3 4.4 .4-3.2 .3-.7 .4 2.4 .3-1.9 .3-.5 .4-1.1 .3 2.6 .4-2.7 .3 1.2 .4 1.5 .3-1.4 .4-3.2 .3-.2 .4 2.2 .3-.4 .4-4.1 .3 4.5 .4-4.9 .3 .2 .4-.5 .3 2 .4 1 .3 1.3 .4-3.9 .3 2.8 .4-3.6 .3 1.6 .3-.9 .4 .7 .3-1.6 .4 3.8 .3-3.4 .4 3.4 .3-2.6 .4 1.2 .3 .1 .3-1.1 .4 2 .3 .2 .4-3.2 .3 .6 .4 3.4 .3-3.9 .4 1.9 .3 .3 .4 3.4 .3-4.8 .3 2.9 .4 .5 .3-.2 .4-4.2 .3 5.2 .4-3.6 .3 3.2 .4-1 .3-.8 .3 2.4 .4-.5 .3-1.5 .4 2.6 .3-1 .4 1.3 .3-.4 .4 1.2 .3-3.4 .3 2 .4-2.6 .3 4.7 .4 .2 .3 .8 .4-4.1 .3 3.1 .4 0 .3-1.6 .4 .8 .3 4.7 .3-.3 .4-3 .3 3.7 .4-.6 .3-1.1 .4 1.8 .3-1.7 .4 .8 .3 1.1 .3 2.6 .4 .5 .3 1.9 .4-.4 .3 .2 .4-.3 .3 2.9 .4-1.6 .3 1.7 .3 1.3 .4-1.3 .3 2 .4-2.7 .3 2 .4 4.2 .3-3.1 .4 .4 .3 .7 .4 5 .3-2.9 .3 2.7 .4 .6 .3 2.8 .4-1.1 .3 1 .4-2 .3 5 .4 .5 .3-1.3 .3 2.4 .4-1.3 .3 .5 .4 .6 .3-1.5 .4-3.6 .3 4.6 .4 .3 .3-4.7 .3-1 .4 1.3 .3-1.5 .4 1.4 .3-1.6 .4 .6 .3-1.2 .4 2.3 .3-.8 .4 2.3 .3-1.9 .3-1.2 .4 4.4 .3-.4 .4-1.2 .3-2.6 .4 1 .3 .3 .4-.2 .3-.5 .4 1 .3 2 .4-.1 .3 1.2 .4-1 .3 .4 .4 .6 .3 .2 .4-.8 .3-2.1 .4 1.3 .3 .2 .4 1.7 .3-.6 .4-1.1 .3-1 .4 1.1 .4 0 .3 2.7 .4 .7 .3-3.1 .4 2.1 .3 1.9 .4-2.4 .3-1.4 .4 3.1 .3-1.2 .4-1 .3 1 .4-1.4 .3 1 .4 1.8 .3-1.7 .4 .9 .3 1 .4 1.8 .3-1.2 .4-3.3 .3 2.8 .4-5 .3 .4 .4-.7 .3 .4 .3 3.2 .4 .9 .3-1.5 .4 2 .3-2.5 .4 2.2 .3-2.3 .4-.9 .3-2.5 .4 .9 .3-.4 .3 1.9 .4-3.4 .3 .2 .4 2.8 .3-4.3 .4 2.5 .3-1.9 .4 2.4 .3-.7 .3-2.5 .4 3.6 .3-1.7 .4-.4 .3 3.1 .4-.3 .3-2.6 .4 2.2 .3-3 .4 2.3 .3-2.3 .4 3.2 .3 1.6 .4-1.7 .3-3.6 .4 2.5 .3-.5 .4-.3 .3-1.8 .4 .5 .3 1.1 .4-1.9 .3 2.7 .3-1.4 .4 .3 .3-1 .4 1.3 .3 3.5 .4-3.8 .3-1.3 .4 1.2 .3 3.1 .4-5 .3 1.3 .4-1 .3 2.5 .3-1.4 .4-2.2 .3 4.2 .4-3.2 .3 1.9 .4-1.5 .3 2.3 .4-4.6 .3 .8 .4 .3 .3-.2 .4 3 .3-1.5 .4-1.2 .3 .9 .4 1.9 .3-1.5 .4-.6 .3 1.1 .4-.2 .3-1.1 .4 .1 .3-1.6 .4 1.8 .4 2.5 .3-3.2 .4 .3 .3 1.5 .4 0 .3-2.3 .4 1.6 .3 1.7 .4-3.7 .4 .4 .3 3.9 .4 1.1 .3-4.5 .4 .3 .3 3.3 .4-1.6 .3 2.3 .4-3.3 .3 2.5 .4-.6 .3 .4 .4 2.4 .3-.8 .4 2.3 .3 0 .4-1.4 .3 1.3 .4-3.9 .3 1.6 .3-.9 .4 1.6 .3-2.8 .4 4.5 .3-2.7 .4 2.5 .3 1 .4 .2 .3-2.9 .4 2.8 .3 1.3 .3-4.3 .4 3.9 .3 .4 .4-1 .3-.4 .4-.1 .3 1.4 .4 3 .3-3 .3-.7 .4 2.1 .3-.9 .4 1 .3-.7 .4-.8 .3-1.2 .4 4.5 .3-.7 .4-2.1 .3 1.6 .4 .6 .3-.3 .4 2.4 .3-.5 .4-2.5 .3 .4 .4 1.6 .3-2.3 .4 4.7 .3-4.6 .4 2.8 .3 .1 .3 .2 .4-3 .3 .8 .4 3.9 .3-1.4 .4-3.5 .3 1 .4-2.6 .3 .2 .3 .1 .4 3.9 .3-4.2 .4-.9 .3-1.5 .4-.3 .3 4.5 .4-2 .3 .6 .4-.9 .3-.6 .3-3.4 .4-.9 .3 .2 .4-1.5 .3 .2 .4 2.5 .3-1.8 .4-3.2 .3 2.5 .4 1.3 .3-.5 .4-1.1 .4 0 .3 .9 .4-2.1 .3-1 .4 1 .4-1.7 .3-1.6 .4 1.1 .3-31.7 .3-32.7 .4-2 .3 .7 .3 .3 .4 2 .3 19.9 .4 23.4 .3 20.5 .3 0 .4-1.1 .3 .7 .3 0 .4 2.1 .3 1.6 .3-.1 .4-2.4 .3 .6 .4-1.8 .3 3.3 .4-2 .3-1.6 .4 1.4 .3-.7 .4-.4 .3 2.2 .4-.7 .3-2 .4 2.7 .3-2.8 .4 4.1 .3-4.3 .4 2.8 .3 .8 .4 .3 .4-1.4 .3 2.2 .4-1.4 .3 .4 .4-3.4 .3 .6 .4 1.6 .3 .3 .4-2.7 .3 3.4 .4-2.4 .3 .6 .4 .1 .3 1.6 .4-3 .3 1.4 .4-.5 .3 1.5 .4-1.4 .3 .3 .4 1.5 .3 1.1 .4 .4 .3-2.6 .4 1.9 .3 .9 .4-1.9 .3-.3 .4 5 .3-4.5 .4 3.2 .3-.6 .4-.9 .3 1.9 .4-.1 .3 1.8 .4 3.2 .3-4.3 .4 1.9 .3 1.9 .4 0 .3-3.3 .4 1.3 .3 .7 .4 3.9 .3-2.2 .4-.6 .3 1.7 .4 .4 .3-1.5 .4 2.9 .3 .3 .4-1.4 .3 .3 .4 1.3 .3 1.1 .4-2.1 .3-3.4 .4 2.3 .3 .5 .4-2.1 .3 1.6 .4-2.1 .3 1.1 .4-.3 .3 .1 .3 1.3 .4-1.4 .3-.2 .4-.3 .3-2.8 .4 1.8 .3-.4 .4-3.5 .3 3.4 .4-3.4 .3 1.1 .3-.3 .4 .8 .3-.1 .4-2 .3 2.3 .4-3.2 .3 .4 .4 2 .3-4.2 .3 2 .4-2.3 .3-.1 .4-.2 .3-.1 .4-.1 .3-.2 .4-.1 .3-.1 .3-.2 .4-.1 .3-.2 .4-.1 .3-.1 .4-.2 .3-.1 .4-.1 .3-.2 .4-.1 .3-.2 .3-.1 .4-.1 .3-.2 .4-.1 .3-.1 .4-.2 .3-.1 .4-.2 .3-.1 .3-.1 .4 0 .3-.1 .4-.1 .3 0 .4-.1 .3-.1 .4-.1 .3 0 .3-.1 .4-.1 .3 0 .4-.1 .3-.1 .4 0 .3-.1 .4-.1 .3 0 .4-.1 .3-.1 .3 0 .4-.1 .3-.1 .4-.1 .3 0 .4-.1 .3-.1 .4 0 .3-.1 .3 .1 .4 .1 .3 .1 .4 0 .3 .1 .4 .1 .3 .1 .4 3.8 .3-4.8 .4 4 .3-.7 .4-.5 .3 1.5 .4 .4 .3-3.9 .4 1.8 .3 .7 .4 .5 .3 1.4 .4-.9 .3 .1 .4-4.2 .3 2.1 .3 2.7 .4 .2 .3-1 .4-2.3 .3 2.5 .4-1.3 .3 .8 .4-.2 .3 1.4 .4-.9 .3 1.5 .4-2.6 .3 0 .4 .9 .3-.5 .4-2.9 .3 5.1 .4-3.6 .3 1.1 .4-2.6 .3 1 .4 4.2 .3-2 .3-1.6 .4 2.6 .3-3.5 .4 2.1 .3-.8 .4 1.7 .3-2.5 .4-1 .3-.6 .3 .4 .4-2.2 .3 .4 .4-.1 .3 .6 .4 2.2 .3 .7 .4-3.6 .3-1 .4-.1 .3 1.4 .3-1.3 .4-2.6 .3 1.8 .4-2 .3-1.2 .4 3.1 .3-4 .4 1.6 .3 .6 .4-.9 .3 1 .4-3.8 .4 2.7 .3-5.9 .4 3.8 .3-3.5 .4-3.3 .4 .5 .3 3.2 .4-3.7 .3 3.6 .4 2.6 .3-2.3 .3 3.9 .4 3.1 .3 4.6 .3 2.2 .4-2 .3 4.7 .3 6.4 .4 5.3 .3 5.4 .3 8.6 .4 7.2 .3 6.2 .3 5.9 .4 10.3 .3 3.8 .3 5.1 .4 8.3 .3 2.8 .4 6.7 .3 3.9 .4 6.3 .3 7.7 .4 9.3 .3 64.9 .4 65.1 .4 10.5 .3 9.2 .4 9.2 .4 10.3 .4 5.2 .3 7.8 .4 8.8 .3 5.1 .4 10.8 .3 5.1 .4 6.4 .4 7.4 .3 8 .4 5.5 .3 10.5 .4 5.1 .3 4.9 .4 9.2 .4 9.2 .3 4.7 .4 4.9 .3 8.9 .4 2.7 .3 11.3 .4 6.8 .4 5 .3 3.1 .4 8.6 .3 8.8 .4 5.1 .3 4.2 .4 7.2 .4 3.4 .3 7.5 .4 3.1 .3 6.5 .4 7.4 .3 4.9 .4 2.5 .4 6.5 .3 1.3 .4 9.4 .3 4.4 .4 3 .3 7.5 .4 2.6 .4 6.9 .3 .1 .4 7.2 .3 3.3 .4 4.1 .3 2.3 .4-.2 .4 4.6 .3 5.6 .4 4.9 .3 2.2 .4-.1 .3 5.3 .4 3.9 .4 1.5 .3 3.1 .4 4.5 .3 2 .4 2.1 .3 3.5 .4 5.7 .4 .7 .3 3.5 .4 3.7 .3-2.4 .4 7.7 .3-1.4 .4 5.3 .4 3.4 .3 2 .4 1.2 .3 1.2 .4 3.1 .3 0 .4 .4 .4 1.8 .3 1.1 .4 1.3 .3 6.8 .4 1.9 .3-1.5 .4 2.8 .4 .1 .3 4.2 .4-.3 .3-.4 .4 5.2 .3 1.4 .4-3.8 .4 3.4 .3-.2 .4 3.5 .3-.4 .4 .9 .3 1.4 .4 2.5 .4 .9 .3 .8 .4 2 .3-.3 .4 3.4 .3-2.1 .4 2.7 .4 1.5 .3-1 .4 .6 .3 1.8 .4 .4 .3-2.1 .4 2.1 .4-1.2 .3-.5 .4 3.9 .4-1.7 .3-.4 .4-1.2 .3 0 .4 3.6 .4-1.7 .3 .5 .4 .9 .3-233.2 .4-236.1 .3-236.4 0 1.3 .4-1.6 .4 3.2 .3 1.4 .4-1 .3 4.3 .4-.6 .4 1.5 .3-2.3 .4 4.8 .3-2.1 .4 2 .3 1.8 .4-2 .3-.1 .4 .7 .3 3.9 .4-1.5 .3-.8 .4 .7 .3 .6 .4-2.1 .3-.9 .4 .3 .3 2.7 .4 .2 .3 2.4 .4-1.5 .3 1.7 .4 1.2 .3-2.4 .4 0 .3 .7 .4-.2 .3 .9 .3 .7 .4-2.3 .3 4.8 .4-2.2 .3 1.4 .4-.9 .3 .3 .4 .1 .3-2.5 .4 .2 .3 3.5 .4-2 .3-1.2 .4 4.2 .3-.2 .4 .4 .3-1.8 .4-1.2 .3 3.8 .4-2.8 .3 2.7 .4 .4 .3-2.1 .3 1 .4 6 .3 1.8 .3-1.9 .4-.5 .3-6.6 .4 1.9 .3-2.2 .4 .3 .4-2.1 .3-.9 .4 1.3 .3 0 .4 1.3 .4-2 .3-1 .4-.1 .4-.2 .3-2 .4-1.7 .3 1.5 .4-2.5 .3-2.8 .4-.1 .4 .2 .3 1.3 .4-.7 .3-1.4 .4 1.3 .3-3.2 .4-.1 .3 3.5 .4 1.1 .3-.1 .3 4 .4-3.5 .3 4.3 .3 3.1 .4 1.5 .3-2 .4 2.3 .3-2.1 .4 1.6 .3-4 .4 1.2 .3-.7 .4 1.3 .3-4.1 .4-.1 .3-1.9 .4 2.8 .3-3.9 .4 4 .3-4.3 .4-.2 .3 3.8 .4-3.4 .3 2 .4-2.1 .3-.4 .4 .9 .3 3.6 .4-4.2 .3 4.1 .4 .1 .3-1 .4-2.1 .3 2.8 .4 1 .3-1.7 .4-2.1 .3 2.1 .4 2 .3-2.1 .4-2.5 .3 .4 .4 2.8 .3-2.9 .4 .1 .3 2.9 .3-.4 .4 2 .3-1.7 .4 3.1 .3 1 .4-1.6 .3 1.9 .4 .1 .3 1.8 .4-.8 .3 .9 .4 0 .3 2 .3-3.6 .4 .6 .3 4.7 .4 .3 .3-4.2 .4 5.3 .3-1.2 .4 1.8 .3-.5 .4-1.4 .3-1.1 .4 4.1 .3-.6 .4-1.1 .3-1.6 .3 0 .4 2.6 .4-3.2 .3-1.9 .4 3.8 .3-.6 .3-5 .4-.5 .4 2.5 .3-2.5 .3-.1 .4 .5 .3-2.9 .4 1.1 .4-2.8 .3-.5 .3 1.1 .4-1.2 .4 1 .3-5.7 .4 2.9 .3-5.2 .4-1.1 .3-2.8 .4-.3 .3 2 .4-5.3 .3 .9 .4-.9 .3-3.4 .4-4.6 .3-.4 .4-3 .3-1 .4 .3 .4-2.6 .3 2.6 .4-1.2 .4-1.6 .3-.5 .4-.9 .3-.4 .4 1.5 .4-2.3 .3 2.3 .4-.8 .4 3 .3-1.6 .4 4.4 .4 1.7 .3 1.1 .4-2.8 .3 5.1 .4-1.6 .4 3.2 .3-1.4 .4 1.4 .4-1.6 .3 2.7 .4-2.1 .3 3.1 .4-.7 .3-1.3 .4-1.9 .3 1.6 .4 1.1 .3 0 .4 1.3 .3-3.2 .4 2.7 .3 2.5 .4 .5 .3-1.4 .4-.9 .3 0 .4 1.8 .3-1.6 .4-2.3 .3-.3 .4 2 .3-2.6 .4 .1 .3-1.8 .4 1.9 .3-1.1 .4 2.4 .3 .2 .4-.1 .3-.5 .4-5.4 .3-.2 .4 1.1 .3 2.4 .4-1.8 .3-2.1 .4-1.2 .3 2.1 .4-2.5 .3-.2 .4 3.1 .3-3.4 .4-.5 .3 2.3 .4-3 .3 3.8 .4-1.3 .3 1.1 .4-1 .3-.2 .4-2.8 .3 .7 .4-.4 .3-.1 .4 1.5 .4-1.1 .3 2.5 .4-.6 .3-2.7 .4 1 .3 2.4 .4 1.5 .3-2.8 .4 .4 .3 1 .4 .8 .3 .1 .4 3.2 .3-1.4 .4-1.5 .3 .7 .4 1.8 .3-2.8 .4 1 .3-2.1 .4 3 .3 .9 .4-.2 .3-2 .4-1.3 .3 .8 .4-.1 .3-2.2 .4 1.9 .3-.4 .4-1.8 .3 1.2 .4 1.9 .3-1.4 .4-2 .3-.8 .4 1.9 .3-.8 .4-1.6 .3 1 .3-.6 .4 1.2 .3 1.4 .4-2.8 .3 .9 .4 .1 .3 .5 .4-2.5 .3-.1 .4 3.7 .3-4.4 .4 2.9 .3-2.5 .4 1.1 .3-.4 .4-1.4 .3-.6 .4 4.2 .3-5.3 .4 .3 .3 3.5 .4-1.9 .3 .3 .3 2 .4 1.1 .3-4.3 .4 2.7 .3-2.1 .4 2.8 .3-2.8 .4 1.1 .3-1.9 .4-3.5 .3 1.2 .4 1.1 .3-3.2 .4-.5 .3 4.9 .4-.5 .3-1.6 .4-3.5 .3 3.4 .4 1.3 .3-1.4 .4-.7 .3-1.3 .3 .1 .4 1.1 .3-2.8 .4-2.8 .3 0 .4 4.1 .3-1.7 .4 .9 .3-4.8 .4-.7 .3 2.7 .4-1.9 .3-.4 .4-1.8 .3 2.5 .4-.5 .3-.8 .4-2 .3 .2 .4-.7 .3 .1 .4-.9 .3 .4 .3 2.9 .4-1.1 .3-4.2 .4 2.6 .3 .4 .4-3 .3 2.6 .4-.1 .3-5.3 .4 2.7 .3-1.7 .4 .1 .3 .1 .4 1.4 .3-1.7 .4 1.1 .3-3.6 .4 3 .3-2.4 .4-1.2 .3 3.4 .4-1.3 .3-1.2 .3 2.6 .4-2.5 .3 .8 .4 1.5 .3-4 .4 1 .3-.3 .4-1.4 .3 1.4 .4 2.5 .3-1.5 .4-2.3 .3 2.4 .4-.3 .3-1.5 .4 1.6 .3-1.8 .4 2.1 .3-2.4 .4 2.3 .3-3.1 .4-.8 .3 1.7 .3-2.2 .4 4 .3 .5 .4-3.5 .3-1.2 .4 3.4 .3-1.9 .4-8.3 .4-6.2 .4-6 .3-1.5 .4 .4 .3 .9 .4-1.7 .3-.1 .3 2.4 .4-1.9 .3 3.3 .3 0 .4-1.8 .3-2.5 .4 2.4 .3-2.3 .3 2.5 .4-2.6 .3 1.4 .4 .2 .3-.3 .4 .4 .3-2.1 .4-1 .3 1.4 .4 3.4 .3-5 .4 1.4 .3 .1 .4 .7 .3 2.3 .4-3.9 .3-.5 .4-.5 .3 1.7 .4 2.1 .3-1.6 .4 1 .3-.9 .4-.8 .3 .3 .4-2 .3 5.2 .4-1.2 .3-3.5 .4 .7 .4 3.3 .3-1.5 .4 1.5 .3 .3 .4-3.1 .3 4.1 .4-1.9 .4-.6 .3 4.5 .4 1.4 .4-2 .3 1.4 .4 2.9 .3-1.6 .4 1.7 .4 4 .3-3.9 .4 3.6 .4 1.6 .3 .6 .3-4.3 .4-.3 .4 1.3 .3-1.6 .4 4 .3-2.2 .3 1.3 .4-2.1 .4-.2 .3 2.4 .3-4.9 .4 .2 .3 3.3 .4-1.9 .4 .8 .3 .9 .3-1.6 .4-1.8 .3 1.3 .4-1.3 .3-1.9 .4 .5 .3 3.3 .4-2.3 .3-2.9 .4 3.6 .3 2.1 .4-1.8 .3-.6 .4 0 .3 1.1 .4 .1 .3-.8 .4 2 .3-.4 .4-.9 .3-.6 .4-.3 .3-3.2 .4 1.5 .3 .5 .3-2 .4 4.3 .3-3.9 .4 3.4 .3 .2 .4-2.2 .3-1.9 .4 1.1 .3 2.9 .4 .6 .3-1.8 .4 1.6 .3-2.2 .4 2.9 .3 .8 .4 .1 .3-1.1 .4 .1 .3-3.1 .4 1.6 .3 .7 .4-1.9 .3 1.7 .3 3.2 .4-1.5 .3-.7 .4 .7 .3 1.3 .4-1 .3-.8 .4 .1 .3 3.6 .4 .2 .3-4.1 .4 4 .3-.7 .4-1.4 .3 2.2 .4-2.1 .3 2.9 .4-.8 .3 .4 .4-3 .3 4.8 .4 .2 .3-2.2 .3-1.6 .4 2.2 .3-3.5 .4 2.4 .3-1.1 .4 .7 .3-1 .4-1.2 .3 2.1 .4-1.1 .3-.4 .4 .8 .3-1.3 .4-.6 .3 5.3 .4-5.3 .3 4.7 .4-2.7 .3-1.6 .4 1.7 .3 .5 .4-2.5 .3 2.9 .4-3.3 .3 1.7 .4 2.4 .3 .9 .4-3.7 .3 1.4 .4 3.2 .3-3.5 .4-1.2 .3 .4 .4 3.2 .3-3.3 .4 1.5 .3 1.2 .4-2.1 .3-2.5 .4 1.8 .3-.6 .4 1.3 .3 1.1 .4 2.5 .3-1.3 .4-.6 .3 1.9 .4-1.5 .3-1.6 .3 2.9 .4-2.1 .3-.1 .4 1.2 .3 .6 .4-2.4 .3 1.9 .4 3.5 .3-2.4 .4-.7 .3 .6 .3 1.4 .4-1 .3-.4 .4 1 .3-1.6 .4 2.4 .3-1.4 .4 1.9 .3-.8 .3 1.3 .4-2.1 .3 2 .4 .5 .3-2.3 .4 1 .3 1.8 .4 1.8 .3 .2 .4 .2 .3-.2 .4 .9 .3-4.3 .4-.1 .3 .1 .4 3.8 .3-3.2 .4 .9 .3-.9 .4 4.5 .3-3.8 .4 .3 .3 2 .3 .4 .4-4 .3 2.7 .4-.6 .3 0 .4-.2 .3 1.5 .4 .1 .3 .1 .3-3 .4-1.7 .3 2.2 .4-2.9 .3 3 .4-1.3 .3 1 .4 .1 .3-1 .4-.7 .3-2.4 .3 1.9 .4-.8 .3-2.7 .4 3.3 .3-2.6 .4 0 .3-2.1 .4 3.3 .3-1.8 .3 1.1 .4 .6 .3-1.8 .4 .3 .3-.8 .4-1.4 .3 2.9 .4 .5 .3-5.1 .3-.2 .4 2.2 .3-2.2 .4 2.1 .3-.5 .4-.4 .3 3.1 .4-1 .3 2 .4-4 .3 .9 .3 1.2 .4 .7 .3-2 .4-1.5 .3 1 .4 .9 .3 2.1 .4-1.9 .3-.2 .4 1.1 .3-2.2 .4 .4 .3 1.9 .4-.5 .3-1.6 .4-.9 .3 3.3 .4-2.2 .3 0 .4 .2 .3 2.6 .4-.2 .3 1.7 .4-1.8 .3-.5 .4 2.3 .3-4.1 .4 2.5 .3 2 .4-3.9 .3-1.2 .4-.4 .3-.7 .4 3.8 .3-1.9 .4 2.6 .3 .3 .4-4.3 .3 1.8 .4 0 .3 .3 .4-1.2 .3 1.3 .4 .4 .3 .7 .4 .4 .3 2.5 .4-4.9 .3 .1 .4 4.6 .3-3.1 .4 1.7 .3-1 .4 3.6 .3 .5 .4-1.8 .3-2.6 .4 1.6 .3 1.8 .4-.7 .3-1.6 .4 .7 .3-1.9 .4 1.8 .3 2.3 .4-2.2 .4 0 .3-1.8 .4 2.9 .3-1.7 .4-.2 .3 2.3 .4-2.6 .3-1.2 .4 3.3 .3 .6 .4-3.8 .3 1.7 .4 3.1 .3-2.1 .4-.6 .3-1.5 .4 .9 .3 1.7 .4 2.1 .3-1.1 .4 2.1 .3-2.8 .4-1.6 .3 1.9 .4 .5 .3-1.6 .4 0 .3 4.5 .4-.3 .3-4.4 .4-.4 .3 4.8 .4-4.6 .3 .9 .4-.2 .3 0 .4-.8 .3 2.6 .4 1.9 .3-3.7 .4 2.3 .3-1.9 .4 3.6 .3 .7 .4-.1 .3-1.9 .4-2.2 .3 3.4 .4-3.5 .3 4.1 .4-2.6 .3 3.5 .4-3.3 .3 2.7 .4-1.3 .3-1.4 .4 1.3 .4-.1 .3-1.4 .4 2.2 .3 .1 .4 1 .3-1.8 .4 1.7 .3-2.2 .4 1.9 .3-1.4 .4 3.2 .3-3.3 .4 .4 .3-1.3 .4 1.2 .3 1.2 .4-1.8 .3-.7 .4 4.4 .3-3 .4-.2 .3 1.4 .4 2.8 .3-.2 .4 1.2 .3-1.8 .4-1.3 .3 .9 .4-2.5 .3 3.4 .4 .9 .3 .3 .4-.4 .3-.9 .4 1.1 .3-2.7 .4 1.7 .3-2.1 .4 4.6 .3-2.2 .4-1.9 .3 4.6 .4-2 .3-2.3 .4 3.6 .3-1.2 .4 0 .3 1.6 .4-3.1 .3-.1 .4 1.7 .3-1.9 .4 2.8 .3-1.1 .4-1.4 .3-.2 .4 1.9 .3 .8 .4 1.9 .3-.7 .4 .3 .3-1.6 .4 1.2 .3-2.7 .4 .1 .3 2.9 .3-3.7 .4 2 .3-.4 .4-3 .3 2.7 .4 1.2 .3 .4 .4-2.7 .3 2.6 .4-4.9 .3 4.9 .3-1.2 .4 .8 .3-2 .4 .9 .3 1.3 .4-3.3 .3-.3 .4 3.1 .3-1.2 .3-1.9 .4 1.7 .3-.3 .4-1.1 .3 2.8 .4-3.3 .3 2.6 .4-2.2 .3-1.7 .3 4.4 .4-4.8 .3-.3 .4-.3 .3 1.8 .4-1.7 .3 .8 .4 4.4 .3-3.7 .4 2.6 .3-2.7 .3-1.1 .4 .1 .3 .7 .4 4.7 .3-2.7 .4-1.1 .3-1 .4 3.5 .3-1.2 .3-1 .4 1.8 .3 1.8 .4-1.8 .3 1.4 .4-1.9 .3 2.2 .4-2.8 .3 5.1 .3 .1 .4-1.8 .3-.5 .4-.4 .3 2 .4-.9 .3 .7 .4-1.5 .3-.2 .4 1.9 .3-3.1 .3 .8 .4-.6 .3-.2 .4 3.6 .3-3.1 .4 2.4 .3-3.5 .4 5.3 .3-1.8 .3 1.5 .4-3.2 .3 3.2 .4 1.6 .3-2.8 .4-1.1 .3 1.7 .4 2.2 .3-.1 .3-3.8 .4 1.4 .3 3.4 .4-3.3 .3-.9 .4 4.5 .3-.1 .4-1.9 .3 1.6 .4 .5 .3 .7 .3-3.5 .4 3.2 .3 1.3 .4-.6 .3-1.3 .4-.5 .3 3.4 .4 .2 .3-2.5 .3-.2 .4 2 .3-.2 .4-2.1 .3-2.2 .4 2.5 .3-2.7 .4 1 .3 1.1 .3-.4 .4 .6 .3 1 .4 .8 .3-3.5 .4 3.6 .3-3.4 .4 .2 .3 2.4 .4 1.2 .3-2.9 .3 1.4 .4-.1 .3-3.1 .4 1.5 .3 1.5 .4-5.3 .3 .5 .4 4.1 .3-1.9 .3-.8 .4 2 .3-2 .4-1.8 .3 1.3 .4 2.3 .3-.5 .4-.8 .3-2.6 .3 5.6 .4-5.1 .3 1.1 .4 2.6 .3 .5 .4-1.7 .3-2 .4 1.8 .3-.7 .4-.8 .3 1.1 .3-1.3 .4-.1 .3-1.6 .4 2.8 .3-3.8 .4-.1 .3 3.1 .4-3.1 .3 3.2 .4-2.2 .3 1.7 .4-1.1 .3 1.4 .4 .5 .3-2.7 .4 1.6 .3 2.1 .4-4.9 .3 0 .4-.4 .3-.5 .4-.4 .3 5.5 .4 .2 .3-5 .4 4.7 .3-1.3 .4-2 .3 3.7 .4-4.4 .3 2.8 .4 0 .3 .1 .4-2.7 .3-.7 .4 2.6 .3-2.1 .4 1.6 .3 .6 .4-4.1 .3 3.7 .4 1.3 .3-3.3 .4 .8 .3-1.5 .4 3 .3-3.8 .4-.8 .3 2.1 .4-.2 .3 .8 .4-2 .3 4.2 .4-2.1 .3-.7 .4 2.1 .3-4 .4 4.9 .3-.5 .4-3.3 .3 1.1 .4-2.4 .3 4.2 .4 .8 .3-2.5 .4-.2 .3-1.3 .4 1.8 .3-.6 .4 0 .3-2.8 .4 .1 .3-2.7 .4 5 .3-4.9 .3 2.7 .4 0 .3-2.5 .4 .8 .3-.5 .4-1.8 .3 2 .4-.3 .3 1.7 .4-.3 .3 1.2 .3-.7 .4-3.7 .3 1.8 .4 .2 .3 .4 .4-3.9 .3 .8 .4 1.3 .3-1.1 .3 2.5 .4-2.9 .3 1.6 .4-3.6 .3 4.6 .4 .3 .3-.1 .4-3.5 .3 2.7 .3 .8 .4-5 .3-.2 .4 3.5 .3 1.9 .4-5.2 .3 4.7 .4-.9 .3-.9 .4-1.7 .3 2.1 .3 .1 .4-1.6 .3 4 .4-.9 .3-3.1 .4 2.6 .3-.3 .4 1.6 .3-1.9 .3 1.2 .4-4.8 .3 1.9 .4-1.7 .3 3.3 .4-3.6 .3 4.3 .4-1 .3 .2 .3 1.8 .4-.3 .3-.5 .4-.4 .3-.2 .4 .2 .3-2.5 .4 1.2 .3 3 .4-1.3 .3 .3 .3 2.2 .4-2.5 .3 2 .4 .5 .3 .2 .4-3.3 .3 2.1 .4-.7 .3-.1 0-2.8 .4-.4 .3 .5 .4 3.2 .3 .2 .4-2.1 .3 1.3 .4-.9 .3 .6 .4-1.5 .3 .5 .4 3.5 .3-.1 .3-3.8 .4 .5 .3 4.6 .4-1.8 .3 1.6 .4 .3 .3 .4 .4 2 .3-3.8 .4 4.3 .3-2.7 .4-1.4 .3 1.2 .4 1.2 .3 1.5 .4-1.4 .3 2.1 .4-4.5 .3 1 .4 .9 .3 0 .4 .4 .3-1.3 .4-2.5 .3 3.6 .4-.1 .3-4.3 .4 3.9 .4-4.8 .3 3.4 .4-.6 .3-2.2 .4-1.5 .3 .6 .4 1.7 .3-.4 .4 1.7 .3-3.4 .4 2.6 .3-1.6 .4-1.3 .3 1 .4-.7 .3-.1 .4 .7 .3 3.3 .4-3.7 .3 1.9 .4-2.1 .3 .4 .4-1.3 .3 3.9 .4-4 .3 4.2 .3-.9 .4 .5 .3-4.2 .4 5 .3-1.8 .4-.4 .3 0 .4-.7 .3 2.9 .4 .2 .3-.4 .3-4.6 .4 2 .3 .8 .4-3.1 .3 3.9 .4-1 .3-3.7 .4 .7 .3 1.2 .3 1.7 .4 .6 .3-4.1 .4 3.1 .3-1.3 .4-1 .3-.5 .4-.6 .3-.2 .3 2.4 .4-1.5 .3 .7 .4 1 .3-.7 .4 .7 .3 .7 .4 4.3 .3-2.7 .4 1.3 .3-.5 .3 2.2 .4-.8 .3 .4 .4-.4 .3-.9 .4 .7 .3-2.8 .4 1.8 .3-.3 .4 2.5 .3-3.5 .4 4.3 .3-4.2 .4 .6 .3 2.2 .4-1 .3-2.1 .4-.5 .3 4.1 .4-3.8 .3 1.6 .4 1.7 .3-2 .4-.1 .3-1.9 .4 4.3 .3-2 .4 .4 .3-1.4 .4 2 .3-1.8 .4-.9 .3 1.1 .4 2.5 .3 .6 .4-2.2 .3 .6 .4 1.4 .3-1.8 .4 1.6 .3-4.2 .4 3.3 .3-.7 .4-1 .3 .2 .4-2.4 .3-.8 .4 .1 .3 4.9 .4-2.7 .3 1.2 .4-.8 .3 2.6 .4-.7 .3-2 .4 1.6 .3-2.5 .4 4 .3-4.5 .4 4.1 .3-2.2 .4-2.3 .3 4.6 .4-4.4 .3 2.7 .4-.7 .3-2.3 .4 3.9 .3 .6 .4 .2 .3-1 .4 .1 .3-2.4 .4 5.1 .3-3.5 .3 2.1 .4-3.2 .3 1.9 .4 1.4 .3-.1 .4-.1 .3 0 .4-1.9 .3 3.7 .4-1.4 .3-1.2 .3 1.6 .4 1.9 .3 .6 .4-1.6 .3-1.5 .4 3 .3-.2 .4-.8 .3 .6 .3-1.5 .4 .7 .3-2.9 .4 .4 .4 .5 .3 .1 .4 .2 .3-.2 .4 4.7 .3-1.6 .3-.4 .4 .6 .3-1.5 .4 3.3 .3-.7 .4-1.7 .4-2.2 .3 0 .4 .3 .3 4.1 .3-3.7 .4 2.5 .3 .6 .4-.6 .4-.3 .3 3.8 .4 .1 .3-1 .4-1.2 .3 2.4 .3-1.3 .4-2.6 .3-.4 .4 .3 .3 0 .4 1.8 .4 1.5 .3-2 .4-.4 .3 1.5 .3 .6 .4 2.1 .3-.2 .4-.7 .3-3.4 .4 2.9 .3-3.3 .4 1.5 .3-.4 .3-1.9 .4 1.6 .3-1.8 .4 2.9 .3-3.4 .4 3.1 .3-3.2 .4-.9 .3 2.6 .4 2.6 .3-1.2 .3-2 .4 1.4 .3-1.2 .4 1.6 .3-2.3 .4-.9 .3 4.4 .4-5.7 .3 2.3 .3-1 .4 0 .3 1.2 .4-.4 .3-1.9 .4 3.7 .3-.7 .4-3.1 .3-.4 .3-.5 .4 1.9 .3 .5 .4 .2 .3-2.9 .4 3.3 .3 .2 .4-2.5 .3-2.1 .4 .3 .3 2.9 .3-3.7 .4 3 .3 .2 .4-4.2 .3 .4 .4 .2 .3 .7 .4 2 .3-1.9 .3-1.1 .4-2.3 .3 2.8 .4-2.1 .3 .4 .4 3.4 .3-3.7 .4 .3 .3 1.3 .4 1.1 .3-5.1 .4 2.6 .3 .1 .4-3.3 .3-.2 .4 1.2 .3-.1 .4 2 .3 1.4 .4-1.8 .3-1.4 .4 3 .3-2.3 .3-1.4 .4-.2 .3-.1 .4-2.7 .3 2.7 .4 .1 .3-1.4 .4 .5 .3 1.7 .4-1.7 .3 .3 .4 1 .3-1 .4-1.9 .3 2.5 .4-.4 .3-5.2 .4 4.8 .3-5 .4 3.7 .3-1.8 .4 .4 .3-2 .4-1.5 .3-1 .4-.6 .3-.4 .4 0 .3 3.5 .4-1.8 .3 1.6 .4 .5 .3-3.3 .4-1.6 .3 3.8 .4-4.6 .3 2.1 .4 1.6 .3-4.2 .4 1.8 .3 1.1 .4-3 .3 4.5 .4-.4 .3-.9 .4 1.4 .3-3.4 .4 4.2 .3-1.6 .3-1 .4 2.3 .3-2.2 .4-2.4 .3 3.6 .4-3.9 .3 2.9 .4-1.7 .3 1.3 .4 .3 .3 1.8 .3-.1 .4-1.3 .3-.5 .4 3.2 .3-3.9 .4 2.9 .3 .9 .4-.5 .3-1.8 .3-1.1 .4 3.2 .3 .8 .4-.9 .3 2 .4-1.6 .3-1.6 .4 3 .3-3.9 .4-.4 .3 2 .4-1.7 .3 3.4 .4 .2 .3-1.6 .4 2.7 .3-.8 .4 1.2 .3 .5 .4 0 .3-.6 .4-3.3 .3 3 .3 .3 .4-2.6 .3 1.1 .4 .9 .3-1.3 .4-.9 .3 1.2 .4 .9 .3 2.3 .4 1.4 .3-.5 .4 .5 .3 .7 .4-2.3 .3 .6 .4-3.3 .3 3.8 .4 .6 .3-2.7 .4 1.4 .3-2.9 .4 4.8 .3-2 .3-.2 .4-1.2 .3 3.7 .4 .6 .3-2.9 .4 .7 .3-1.6 .4 2.1 .3-.6 .4 1 .3-4.8 .4 2.5 .3 2.3 .4-5.4 .3 3.2 .4-1.5 .3-1.6 .4 .9 .3 3.6 .4-4.4 .3 1.5 .4 2.3 .3-2.6 .3-2.1 .4 3.1 .3 0 .4-3.4 .3 4.1 .4-.9 .3-1.5 .4-2.5 .3 3.3 .4-4.4 .3 3.8 .4-2.8 .3 2 .4-2 .3 .3 .4 1.8 .3-2.8 .4-.8 .3 3.5 .4-.3 .3-5.3 .4 3.6 .3-1.8 .3-2.6 .4-.2 .3-1.2 .4 4.4 .4-4.3 .3 4.2 .4-.2 .3 1 .4-4.9 .3 3.9 .3-3.9 .4 .4 .3 4.4 .4-3.8 .3 3.6 .4 1.6 .4-2.6 .3-.4 .4 2.5 .3-2.7 .4 3.3 .3-1.4 .4-1.1 .3-2 .4 5 .3-.6 .4-3.2 .4 3.3 .3-2.2 .4 1.2 .3-1.4 .4-.1 .3 2.4 .4 1.4 .4 .9 .3 1.3 .4 .9 .3-.4 .4-2 .3 3.9 .4 .6 .3-2.6 .4 .3 .3 5.9 .4-3.2 .3 4.5 .4 .9 .3-2.5 .4 1.1 .3-2 .4 1.8 .4 2.5 .3-1.6 .4-2.3 .3-.7 .4-1 .3 3.6 .4-3.1 .3-1.5 .4 3.9 .3-3.4 .4-1.4 .3 1.6 .4-1.7 .3 .3 .4-1 .3 .1 .4-.4 .4-.1 .3 2.5 .4-4.3 .3 1.1 .4 .2 .3-.2 .4-1 .3 1.3 .4 1.4 .3-4.7 .4 1.3 .3 2.7 .4-5.8 .3 3.6 .4-2.1 .3 .5 .4 .4 .4-1.9 .3-.9 .4 3.5 .3 2.2 .4-2.7 .3 2.9 .4-2.1 .3 1.2 .4 .2 .3 .9 .4-.4 .3 .6 .4 .4 .3-2.2 .4 3.9 .3-1.2 .4-.5 .3 1.1 .4-1.5 .3-.4 .4 4 .3-3.8 .4 1 .3 1.5 .4-.3 .3-2 .4 1.3 .3 3 .4-3.2 .3 2.2 .4-1.8 .3 0 .4 5.2 .3-2.8 .4 .3 .3-2 .4 .7 .3 2.1 .4 2.7 .3-.8 .4-.9 .3 1.5 .4-.8 .3 4.2 .4-3 .3 1.6 .4-.1 .3 3.6 .4 1.2 .3-1.8 .4-.1 .3 3.8 .4-4 .3 4.3 .4-1.8 .3 3.9 .4-2.4 .4 4.1 .3 1.1 .4-1.8 .3 .4 .4 3.5 .3-2.1 .4 3.9 .3-.5 .4 3.1 .3-2.1 .4 4.6 .3-1.1 .4 3.1 .3 2.1 .4-1.8 .3 2.2 .4 2.1 .4 1.7 .3 1.5 .4-4.5 .3 2.4 .4 .1 .3 3.3 .4-1.8 .3-.4 .4-.5 .3 2.1 .4-.1 .3-1.3 .4 3.9 .3 2 .4-2.2 .3 .7 .4 1.2 .3 2 .4-.1 .3-1.3 .4-3.2 .3 .9 .4-.2 .3 2.6 .4-.1 .3 .1 .4-3.7 .3 .4 .4 4.1 .3-3.8 .4 1.2 .3-1.1 .4 1.4 .3-4.2 .4 4.3 .3 .4 .4-1.4 .3-2.1 .4 1.7 .3-1.3 .4 1.2 .3-.2 .4-1.5 .3 .7 .4-.6 .3 .2 .4 .5 .3-1.1 .4 .6 .3-1.4 .4-3.7 .3 .5 .4 3.8 .3-4.8 .4 4.2 .3-1 .4-1.5 .4 2.3 .3-.9 .4-2.7 .3 .8 .4 1.9 .3-.2 .4-.2 .3 1.9 .4-2.6 .3 3.4 .4 1 .3-.2 .4-1.9 .3-.7 .4 1.5 .3-.6 .4 .4 .4-3.1 .3 .2 .4-2.1 .3-.8 .4 .2 .3 .6 .4 .7 .3-3.1 .4 2.2 .3-3 .4 1.9 .3-4.5 .4-1.1 .3-2 .4 2.5 .3-2.2 .4-.3 .4-3.4 .3-.4 .4-5 .4 2.7 .3-6.5 .4-1 .3 2.8 .4-6.8 .4 3.3 .3-1.4 .4-5.4 .4-.6 .3 .9 .4-.1 .4-3.5 .3 .7 .4-4.1 .3 .4 .4-5.1 .4 1.9 .3-3.9 .4 .5 .4-3 .3-2.9 .4 .8 .4-2.7 .3 0 .4-4.3 .3 .9 .4-2.7 .4-.6 .3-.1 .4-1.5 .4-1.5 .3-1.2 .4-1.7 .4 .7 .3-.3 .4-3.8 .3-1.7 .4 2.2 .4-3.5 .3 1.8 .4-1.6 .4-3.2 .3 1.2 .4 3 .3-.7 .4-1.3 .3 1.7 .4-.2 .3-1.4 .4 .2 .3-2.3 .4 2 .3-3.6 .4 3.4 .3 .1 .4-1.1 .3 .6 .4-2 .4 1.3 .3-2.2 .4 4.4 .4-2.7 .3 5.5 .4 .4 .3 1.3 .4 .1 .4-1.6 .3 2.8 .4 .5 .4 1.4 .3-2.3 .4-1.7 .3 1 .4-.3 .3-1.7 .4-2.6 .4 .6 .3-1.7 .4-3.7 .3-.1 .4-1.9 .3 1.1 .4-1 .4 2.3 .3-.2 .4-1.8 .3 3.9 .4 1.3 .3-3.5 .4 4.6 .4-.7 .3 3.1 .4 .8 .3-.9 .4 1.7 .3-2.7 .4 3.2 .4 .9 .3 .8 .4-1.1 .3-.7 .4 1.4 .3-.6 .4 3.4 .3 .7 .4 .3 .3 1.6 .4-2.2 .3 2.4 .4 1.7 .3-.4 .4-1.9 .3 1.1 .4 1.9 .4-1.3 .3 2 .4-1.9 .3-.9 .4 4.1 .3-2.1 .4 1.8 .3-2.7 .4-1.8 .3-.3 .4 4.4 .3-5.2 .4 0 .3 2.6 .4-1.3 .3-2.3 .4 2.8 .3 .4 .4-1.9 .3 1.7 .4-.3 .3 2 .4 2.6 .3-1.2 .4 1 .3 .3 .4-4.5 .3 .5 .4 4 .3-1.8 .4-.5 .3 2.7 .4-3 .3 1.6 .4 2.2 .3-.2 .4-3.2 .3 1.5 .4 3.6 .3-2.4 .4-.5 .3 2.5 .4-2.4 .3 1.7 .4-3.7 .3 1.6 .4-1.6 .3-2.3 .4 3.4 .3-1 .4-1.3 .3-.3 .4 .3 .3 .9 .4 1.6 .3-1.7 .4-.9 .4-1.6 .3-1.4 .4 .9 .3 4.3 .4-3.8 .3 4.1 .4 1.7 .3-.7 .4-1.3 .3-1.3 .4 3.6 .3-3.7 .4-1.1 .3 2.6 .4 2.4 .3 .4 .4-2.2 .3-2.6 .4 3 .3 .5 .4 1.8 .3-.9 .4 .8 .3 3.1 .4 0 .3-2.7 .4 1.9 .3-2.4 .4 2.8 .3-2.4 .4 3.8 .3-.9 .4 3.6 .3-1.8 .4-1.4 .3 3.9 .4-1.5 .3 1.5 .4 1.5 .3-1.3 .3 .6 .4-2.6 .3 1.4 .4-1.3 .3 2.4 .4-.1 .3-1.7 .4 .6 .3-2.1 .4 5.1 .3-.7 .4-3.3 .3 3.6 .4-1.4 .3-1.2 .4-1.2 .3 2.3 .4 .7 .3-.2 .4-1.9 .3 2.3 .4-3.7 .3 2.6 .3 1.8 .4-5.2 .3 .9 .4 3 .3 .2 .4-2.7 .3-.4 .4 5.4 .3 .6 .3-.2 .4-4.5 .3 4.1 .4-1.5 .3-.3 .4-.2 .3 2.4 .4-1.6 .3-1.1 .4-.6 .3 .4 .3 2.4 .4 2 .3-.5 .4 2.5 .3-.1 .4 .3 .3-1.6 .4 .3 .3 .4 .3 .9 .4-2.4 .3 2.2 .4-.3 .3 .2 .4-.3 .3-.1 .4 .4 .3-1.9 .3-1 .4 4.5 .3-1.5 .4-2.7 .3 3.1 .4-.3 .3-2.6 .4-.2 .3-.5 .4-1 .3 1.3 .3 3.8 .4 .3 .3-1.8 .4 2 .3-5.1 .4 2.8 .3 2.3 .4-4 .3 .6 .3 3.2 .4-1.7 .3 1.9 .4-4.6 .3 4.4 .4-1 .3 1.9 .4-2.8 .3-1.3 .4 3.7 .3-1.3 .4-.8 .3 .2 .4-.2 .3 3 .4 1.2 .3-3.7 .4 .7 .3 3.7 .4-3.3 .3 1.9 .4-2.2 .3 2.5 .4-.4 .3-2.8 .4 1.3 .3 2 .4-2.2 .3-.5 .4 1.6 .3-1.9 .4 .3 .3 .5 .4 1.3 .3 3.2 .4 .7 .3-2.6 .4 2.2 .3 .8 .4-1.1 .4-1.7 .3 3 .4 1.4 .3-.5 .4-3.6 .3 4.7 .4 0 .3-.8 .4-3 .3 .4 .4-.3 .3 3.2 .4 .4 .3-2.7 .4 4.3 .3-2.2 .4-.1 .4 2.8 .3-.3 .4 1.3 .4 1.6 .3 5 .4-2 .3 2.6 .4 1.2 .4 4.8 .3 1.9 .4-.1 .4 .5 .3 .7 .4 6.6 .4-.4 .3-1.5 .4 4.7 .3 2.6 .4-1.7 .4 6 .3-2.5 .4 4.4 .4 1.1 .3 5.2 .4-.5 .4 3.9 .3 2.4 .4-.1 .3 3.5 .4 2.4 .4 1.7 .3 1.5 .4 2.9 .4 3.9 .3-.2 .4-4 .3 4.9 .4-3.5 .3 2.6 .4-1.4 .3 .3 .4-.1 .3-1.9 .4 2.9 .3-1.2 .4 4 .3-1.1 .4-1.4 .3 3.6 .4-1 .4 .2 .3 .4 .4-.2 .3-3.1 .4 3.4 .3-.9 .4-.1 .3-.3 .4-3 .3 3.9 .4-1.9 .3 .5 .4-4 .3-.4 .4 2.7 .3 .1 .4-3 .4-3.6 .3-.5 .4 .1 .4-4.3 .3 .5 .4-.1 .3 .7 .4-2.7 .4-.2 .3-5.2 .4 1.4 .4-4.6 .3-1.7 .4 .4 .4-4.2 .3-3.1 .4 2 .3-5.4 .4 1.4 .4-4.8 .3 .5 .4-.4 .4-2.4 .3-2 .4 3.1 .4-.7 .3-3.3 .4 .5 .3-4 .4-2.5 .4-.1 .3 .8 .4-1.4 .4-2.1 .3 .4 .4 1.4 .4 .3 .3 1 .4 2.8 .3-1.7 .4 2.7 .4-.4 .3 1.6 .4-2.3 .4 2.9 .3-3 .4 1.2 .3-1.6 .4 .6 .3 1.4 .4 3.5 .3 .9 .4-1.8 .3 .1 .4 .5 .3 1.9 .4-.1 .3 3.5 .4-1.2 .3-1.3 .4 2.1 .3-1.3 .4 2.5 .3-4.4 .4 3.3 .3-3.1 .4 .5 .3-2.1 .4 1 .3 .1 .4-.6 .3 1.7 .4-3.3 .3 .7 .4 .9 .3-.4 .4 0 .3-2.5 .4 .3 .3 2.6 .4 1 .3-4.8 .4-.6 .3 3.2 .4 1.3 .3-3.8 .4 2.7 .3-2.4 .4 1.3 .3-5.3 .4-.5 .3 4.1 .4-2.6 .3-2.5 .4 3.2 .3-4.8 .4 .5 .3 2.6 .4-.5 .3-1.9 .4 .1 .3-2 .4-3.7 .3-1.2 .4-.3 .3-3.9 .4 1.4 .3-1.9 .4 99.2 .4 99.5 .4-1.4 .4 1.7 .4 .3 .3-110.8 .3-109.8 .3-1.9 .4-2 .3-3.3 .3 2.9 .4-3.4 .3-1.4 .3-6.5 .4 0 .3-3.1 .4-3.4 .3 .4 .4-.7 .4-1.9 .3-1.4 .4-2.8 .3-1.1 .4-.8 .4-.2 .3-1.7 .4-1.3 .4-1.9 .3 5.3 .4-3.5 .3 3.1 .4 .1 .3-4 .4 .3 .3 .4 .4-1.1 .3 1.4 .4 2.3 .3 .7 .4-2.9 .3 2 .4 .6 .3 .4 .4-.6 .4-.7 .3-5.3 .4-1.2 .4 2 .3-2.8 .4-.1 .4 .7 .3 .6 .4 0 .3-1.3 .4 2.8 .4-1.1 .3-.3 .4 1 .3-3 .4-.3 .3 1.2 .4 2 .4-4.5 .3 1.6 .4-1.5 .3 3.7 .4-.3 .4 .6 .3 0 .4 .7 .3 1.1 .4-2.6 .4 .8 .3-2.8 .4 .9 .4-1.3 .3-1.7 .4-1.8 .3 0 .4 .5 .3 3.7 .3 4.7 .3-.8 .3 1.5 .4 3 .3 .4 .3 3.1 .4 0 .3-.1 .3 2.8 .4 1.1 .3 1.1 .3 1.6 .4-1.1 .4 1.3 .3 .6 .4 1.9 .3 .3 .4 .8 .3 3.5 .4 1 .3 0 .3 .4 .4 4.8 .3 2 .4 .8 .3-1.8 .4 4.4 .3 2.2 .4-.1 .4 1.7 .3-.2 .4 1.1 .3 .8 .4 4.4 .4 1.4 .3 .3 .4 1.3 .3 1.2 .4 4.8 .3-3.5 .4 4.8 .3 .3 .4 4.6 .3 .8 .4-.6 .3 .4 .4-3.2 .3 4 .4-3.4 .3 .7 .3-5.2 .4 0 .3 .3 .3-4.6 .4-.7 .3 .7 .3 2.8 .4 1.7 .3-3 .3 2.4 .4 1.7 .4-1.1 .3-1.1 .4-1.3 .3-2 .4-.2 .3 .5 .4-.7 .4 2.3 .3-2.5 .4 2.2 .3-2.2 .4 2.6 .4-1.1 .3 2.1 .4-2.6 .3 2.9 .4-4.4 .3 1.5 .4-.5 .4 1.6 .3-1.8 .4 2.5 .3 2.2 .4 1.6 .3-.9 .4 3.5 .4-1.2 .3 0 .4-.6 .3-3.9 .4 1.2 .4-2.7 .3-2.3 .4-.4 .3 0 .3-5 .4 2.5 .3 .1 .3-4.3 .4 3 .4-2.7 .3 3.1 .4-2.8 .3 .6 .4 1.3 .3-.4 .4-2.5 .4 1.6 .3-2.4 .4-2.5 .3 .8 .4 2.7 .3-2.1 .4-3.7 .4 1.2 .3-.5 .4-3.3 .3 2.6 .4-.1 .4-2.7 .3 1.3 .4-1.3 .3 0 .4 3.3 .3 1.9 .4 .1 .4-1.3 .3 3.7 .3-.7 .4-1.3 .3-2.9 .3-.4 .4-.4 .3 3.5 .3-1.4 .4 2.2 .3-4 .3 .3 .4-.2 .3 3.3 .3-.2 .4-.1 .3-1.1 .3-.9 .4 1 .3-1.3 .3 3.3 .4-.1 .4-.2 .3 2.1 .4-3.9 .3 3 .4-2.7 .3 2.7 .4-.3 .3-1.7 .4 1.1 .3-4.5 .4 0 .3 .3 .4-.9 .3 2.8 .4-1.3 .3 1 .4 2.8 .3-1.3 .4 1.5 .3-.4 .4 0 .3 .6 .4-1.1 .4 .3 .3 3.7 .4-1.1 .3 .4 .3 .5 .4 3.2 .3 .6 .3-.8 .4-4.3 .3 1.3 .3-1.1 .4-1.1 .3 .7 .4-3.2 .3 1.3 .4-3.3 .4-2.8 .3 2.1 .4-4 .3-.9 .3-.5 .4-2.1 .3 2.4 .3-2.5 .4 3 .3-.8 .3-5.4 .4 .2 .3 2.1 .4-.6 .3-3.2 .4 .1 .3 3.1 .4-.8 .4-3.8 .3 .4 .4 2.9 .3-1.8 .4-1.3 .3 3 .4-2 .4 .6 .3 1.3 .4-4.7 .3 .6 .4 .1 .4 1.5 .3 4.1 .4-1.1 .3-.6 .4 .4 .3-.7 .4 .4 .3-.7 .3 3.4 .4-.9 .3-3.7 .4 3.2 .3 2 .4-3 .3-1.3 .3-.3 .4 2.9 .3-.8 .4 1.1 .3 .8 .4-.8 .3 .1 .4-.4 .3-.4 .3-.6 .4-2 .3 .1 .4 2.2 .3 1.3 .4-4.7 .3-.4 .4 2.1 .3 2.6 .3-.4 .4-4 .3 2 .4-3.3 .3 2.9 .4-3.9 .3 4.1 .4-4.1 .3-.9 .4-.4 .4-1.9 .3 1.2 .4-.1 .3 .2 .4 3.6 .4 3 .3 .5 .4-.3 .3-.2 .4 .6 .3-1.2 .4 1.1 .3 2.4 .4-3.7 .3 2 .4-.2 .3-.1 .4-1.9 .3 4.8 .4-.1 .3-3.9 .3 3.6 .4-2.4 .3 2.2 .4-3.2 .3-1.5 .4 5.2 .3-3.5 .4-1.7 .3 1 .4 .7 .3 2.8 .4-1.5 .3-1.6 .4-.9 .3-.1 .4 4.8 .3-2.9 .4-2 .3 .9 .4 1.1 .3 .6 .4-.6 .3 1.3 .4-1.8 .3 2.1 .4-.9 .3-.4 .4-2.8 .4 1.4 .3-.1 .4 1.7 .3 1.2 .3-1.6 .4-.7 .3-3.8 .3 0 .4-.9 .3 2.3 .4-.7 .4 4.1 .3-4.8 .4 3.3 .3-1.4 .4-.4 .3 3.9 .4 .4 .4-1.5 .3 .4 .4-1.9 .3 1.8 .4 1.7 .3 .7 .4-.6 .3-.2 .4-3.6 .3 3.9 .4-4.7 .3 .7 .4 1.6 .4 .8 .3-.8 .4-.2 .3 .2 .4-1.4 .3-1.6 .4 .7 .3 1 .4 .3 .3-.9 .4 .4 .3 1.7 .3-.5 .4 0 .3 .2 .3-.7 .4 1.5 .3 2.8 .3-1.5 .4-.1 .3 .5 .4-2 .3 .5 .4-1.1 .3 .7 .4-.4 .4 .2 0 1.8 .4-1 .3 2.6 .4-1.6 .3-.6 .4-.8 .3-.4 .4 1.5 .4 1.2 .3-1.2 .4-.4 .3 1.5 .4-1.2 .3 .5 .4 1.3 .3 1.1 .4-1.3 .4 1.5 .3-1.2 .4-.5 .3 2.7 .4-.4 .3 .4 .4 .6 .3-.6 .4-1.4 .3 .6 .4 1.9 .3 .8 .4-2 .3 3.1 .4 1.1 .3-.9 .4 1.5 .3-1.3 .4 1.2 .4-2.6 .3 2.1 .4 1.1 .3 .3 .4-.2 .3-.8 .3-1.1 .4 3 .3 1.3 .3 .1 .4 0 .3-3 .3 2.9 .4 1.5 .3-1.1 .4 1.6 .3 1 .4 .4 .3 3.3 .4-2.1 .3 1.3 .4 2.3 .3 1.1 .4-1 .3 1.7 .3-2.5 .4 .3 .3-.7 .3 3.2 .4-2.1 .3 1.3 .3-.1 .4 .2 .3-.7 .3-.3 .4 3.1 .3-.9 .3 0 .4 1.2 .3-1.4 .3 3.1 .4-.1 .3-1 .4-.3 .3-.8 .3 2.7 .4-.2 .3 .5 .3-1.3 .4 1.6 .3-1.8 .3 .9 .4 .8 .3-2.1 .3 .6 .4-.5 .3-1.2 .3 3.6 .4-.4 .3-.3 .3-3 .4 2.3 .3-2 .3 2.8 .4-2.4 .3-1.7 .3 2.6 .4-3.2 .3 2.8 .3-3.1 .4 2.4 .3-2.6 .3-.1 .4 2.6 .3 .1 .3 .8 .4-2 .3 2.1 .3 1.5 .4 .2 .3 .5 .3-.8 .4 .8 .3-1.3 .3-.3 .4 .3 .3 .7 .3-2.6 .4 .3 .3 2.1 .3-2.3 .4 .7 .3 .7 .4 0 .4-4.1 .3-1.1 .4 1.1 .3-.5 .4-.8 .3-.4 .4-1 .4-2 .3 .5 .4-.1 .3 1.5 .4-2.2 .3 .2 .4-.2 .3-.3 .3-.1 .4-2.4 .3 .2 .3-.3 .4 .6 .3-.7 .3 1.5 .4-2.8 .4-.2 .3 2.6 .4-2.8 .3-.2 .4 .7 .3 .6 .4 .1 .3 .3 .3 .5 .4 .5 .3-2.7 .3 .6 .4-.4 .3-.9 .3 1.3 .4-.4 .3-1 .3-.1 .4-.1 .3 1.4 .3 2.5 .4-1.4 .3-2 .4 3.4 .3-2.9 .3 1.3 .4 .1 .3 1.3 .3-.5 .4-1.9 .3 2.5 .3-1.4 .4 1 .3-1.9 .3 1.4 .4-.2 .3 1.3 .3-1 .4-1.4 .3-2.5 .3 2.1 .4-2.8 .3 2.7 .3-.2 .4-.6 .3-2 .3 .8 .4 .1 .3 .6 .3 .4 .4-2.9 .3 .2 .3-.9 .4 3.7 .3-2.2 .3 0 .4 1.9 .4-2.3 .3 1.1 .4 1.9 .3-.6 .4 2.2 .3-.7 .4 .6 .3-.3 .3-.9 .4 2 .3-.9 .3-2.4 .4 .8 .3-.1 .4-1.8 .3 0 .3 .5 .4 .7 .3 1.1 .4-1.1 .3-.2 .3-.1 .4-1.6 .3 1.3 .4 2.1 .3-.3 .4-1.9 .3 3.4 .4 .2 .3 .1 .3 0 .4-1.4 .3 .8 .4 .4 .3 .8 .4-.8 .4 1.2 .3 2.5 .4 1.1 .3-2.7 .4 .8 .4 .7 .3 2.7 .4-1 .3-.3 .4 1.8 .3 .3 .4 .4 .3 .4 .3 1.1 .4-.6 .3 .7 .3-.5 .4 2.1 .3 .6 .3-1.1 .4 .3 .4 11.9 .3 7.6 .4 11.6 .4 11.1 .3 .5 .4 .8 .3-.8 .4-.1 .3 .8 .4-1.6 .3 1.1 .4 .4 .3-1.3 .4 0 .3-1.9 .4 2.2 .3 .2 .3-.4 .4-2.6 .3 1.4 .3 .2 .4 0 .3 .7 .3-2.5 .4-.5 .3 1.8 .4-2.3 .3 1.6 .4-1.4 .3 2.4 .4 .1 .3-2.1 .4 0 .3 .7 .4-.2 .3 .4 .4 .7 .3-.8 .4-1.1 .3 .2 .3 3.2 .4-2.5 .3 3.1 .4-1.9 .3-.9 .4 1.8 .3-1.5 .4 1.9 .2 .4 .2-1 .2-.1 .2 1.1 .2-.8 .2 2.1 .2-1.8 .2 .2 .2 .4 .2 1.5 .1 .3 .2-.1 .2-1.3 .2 .6 .2 .4 .2 .1 .2 1.2 .2-.3 .2-.5 .2-.8 .2 2.3 .2 .1 .2-.3 .2-.1 .2 .2 .2 .6 .1-.4 .2-.3 .2 .1 .2 .3 .2-1.3 .2 1.6 .2-1.2 .2 1.7 .2-1.6 .2 .3 .2 1.1 .2-1.5 .2 0 .1 .7 .2 1.1 .2 0 .2-2.3 .2-.3 .2 .4 .2 1.5 .2-.5 .2 .3 .2-1.1 .1-.4 .2 .8 .2-1.4 .2 1 .2-.9 .2-1.4 .2-.4 .2 .9 .2-.6 .2 1.4 .2-2.5 .1 .9 .2 .6 .2-1.2 .2 .8 .2-.8 .2-.5 .2-.5 .2 1.2 .2 .1 .2-.4 .1-.6 .2-.7 .2 .1 .2 1.6 .2-1.4 .2 .2 .2-1.2 .2-.1 .2-.7 .2 2 .2-2.1 .1 .1 .2-.9 .2 .4 .2 1 .2-1.8 .2-1.2 .2 .8 .2 .2 .2-.9 .2-1 .1 1.3 .2-.8 .2 .9 .2-.1 .2-1.1 .2 .1 .2-.3 .2-1.9 .2 1 .2 .1 .2-.3 .1-.8 .2 .1 .2-.2 .2-.3 .2-1.8 .2 1.6 .2-.6 .2-2.3 .2 .1 .2-.8 .1 .8 .2-1.3 .2 .5 .2-.6 .2 .3 .2-.5 .2-1.2 .2-.5 .2 2.1 .2-1.5 .2 .4 .2-1.6 .1-.2 .2 .9 .2 .1 .2 .6 .2-1.9 .2 1.4 .2 0 .2-1.7 .2 .3 .2-1.4 .2 1.3 .2 .1 .2-.1 .1-.7 .2-.9 .2-.7 .2 .5 .2 .3 .2-1.6 .2 .5 .2 1.1 .2-.8 .2 .6 .2-2.2 .2 .8 .2-.9 .1 .8 .2 .6 .2-1 .2 .7 .2-.7 .2-1.5 .2 1.4 .2-.6 .2-.2 .2 .5 .2-2.1 .2 1.4 .2 .1 .1-2.4 .2 1.3 .2-.4 .2-.3 .2-.5 .2-.8 .2 .8 .2 .7 .2-.4 .2-2.2 .2 1.2 .2-.7 .2 1.1 .1-.4 .2-1.3 .2-.4 .2-.8 .2 .9 .2-.9 .2 1.4 .2-.8 .2-.2 .2-1.2 .2-.1 .2 0 .2-.2 .1-.3 .2 .4 .2 .3 .2-.3 .2-.5 .2 0 .2-1.4 .2 .7 .2 .4 .2-1.9 .2 1.4 .2 .4 .2-.1 .1-.2 .2-1.9 .2-.2 .2-.7 .2-.3 .2 1.4 .2-.7 .2-1.3 .2 1.6 .2 .1 .2-.7 .2-.8 .2-.3 .1-1 .2 .4 .2 1.6 .2-.5 .2-1.9 .2 1.5 .2-1.3 .2-.7 .2 .3 .2-.7 .2 1.5 .2-.2 .1-.2 .2-.6 .2-.1 .2 .7 .2-.4 .2-.4 .2 .7 .2-2.6 .2 1 .2 .2 .1 .5 .2-1.7 .2 .8 .2 .1 .2 .1 .2 .3 .2-.9 .2 1.1 .2-2.1 .2 1.5 .2-.8 .1 .3 .2 .2 .2-.4 .2 0 .2-1.3 .2-.7 .2 .4 .2 0 .2 0 .2 .2 .1 .5 .2-2.4 .2 .1 .2 .1 .2 .2 .2-.2 .2-1 .2 .3 .2-.1 .2 .7 .2-.8 .2 1.2 .2-2.3 .1 1.6 .2-1.1 .2 .9 .2-1.6 .2 1.6 .2-2 .2-.3 .2 1.7 .2-.8 .2 .1 .2-1 .2 1 .2-.2 .2-.4 .2-.2 .2 .1 .1-2.1 .2 1.5 .2-1.9 .2 1.1 .2-1.1 .2 .1 .2-.5 .2 .2 .2 .2 .2 .9 .2-1.4 .2-.5 .2 1.6 .2-1.5 .1-.4 .2-.2 .2 1.6 .2 .6 .2-.7 .2-.3 .2 .3 .2 .1 .2 .7 .2-.9 .2-1.2 .2 2.2 .2-.7 .1-.7 .2 1.3 .2 0 .2-1.2 .2 .1 .2-.6 .2 2 .2-.7 .2-.1 .2-1.2 .2 1.3 .2 .4 .2-.2 .1-1.1 .2-1 .2 1.4 .2-1.5 .2 .9 .2-.1 .2 1.2 .2-.5 .2-1.6 .2 1 .2 .2 .2-1.1 .2 .8 .1-1.4 .2 1.7 .2-.4 .2 .7 .2-.1 .2-1.6 .2 .5 .2 .4 .2 .1 .2 .1 .2-1 .2 .2 .2 1 .1-.5 .2-.8 .2-.4 .2 1.5 .2-1 .2 1.6 .2-.2 .2-1 .2-.6 .2-.5 .2 1.3 .2 .5 .2-1.6 .1 .8 .2-.1 .2 .2 .2 .3 .2-.3 .2 .6 .2-1.2 .2 1.3 .2-.6 .2 .3 .2 .2 .2 .7 .2 .3 .1-2.4 .2 1.8 .2-.4 .2 .3 .2-.9 .2 .5 .2 0 .2 0 .2 1.3 .2-1.5 .2 .4 .2-1 .2 .7 .1-.2 .2 .4 .2-.6 .2 .4 .2 .1 .2 .3 .2-.2 .2 .6 .2 0 .2-.5 .2-.1 .2 .2 .2 .3 .1-.8 .2 1.5 .2-.4 .2 0 .2-1.8 .2 .2 .2 .9 .2 .7 .2-1 .2 1 .2-.4 .2-1.5 .2 2.5 .1-.1 .2-1.2 .2 1.1 .2-1.4 .2 1.1 .2 .1 .2-.6 .2 1.2 .2-1.9 .2 .2 .2 .9 .2 .4 .2-1.8 .1 1.6 .2-1.1 .2 .7 .2-.1 .2 .6 .2-.9 .2 1 .2-1.2 .2 1.7 .2-1.5 .2-.4 .2 .5 .2 1.6 .1-.6 .2-.9 .2-.5 .2 1.5 .2 .1 .2-1.4 .2 .8 .2 1 .2-.4 .2 .9 .2-.9 .2-1 .1 .9 .2 .5 .2 .8 .2-1.7 .2-.4 .2 1.8 .2-.3 .2-1.4 .2 .8 .2 1.3 .1-1.3 .2 .2 .2-1.1 .2 2.2 .2-1.5 .2 .4 .2-.6 .2 1.7 .2-1.4 .2 .6 .2 .4 .1 .1 .2-.8 .2 .9 .2-.3 .2-.9 .2 .5 .2 .2 .2 0 .2 .3 .2-.6 .1 1.1 .2 .1 .2-1.7 .2 1.5 .2-1.5 .2 .6 .2 1 .2-1.6 .2 2.5 .2-1.8 .2 1.8 .1-.6 .2 .1 .2 1.2 .2-1.3 .2 1.6 .2-.3 .2-.5 .2 .1 .2 1 .2-1.7 .1 .6 .2 .4 .2 1.1 .2 .7 .2-.5 .2-1.1 .2 1.9 .2 .5 .2-.3 .2-1 .2 1.4 .1-1.4 .2 1.4 .2 .6 .2-.3 .2-.3 .2 .9 .2 .3 .2-.2 .2-.1 .2 0 .1 2.1 .2 .2 .2-1.9 .2 .4 .2 1.1 .2 .3 .2 .2 .2 1.2 .2-1.5 .2 .4 .2-.4 .1 1.7 .2-1.1 .2 .2 .2 1.8 .2-1.7 .2 .6 .2 1.5 .2-1.4 .2 .1 .2 1.8 .1 .2 .2-1.2 .2 .9 .2 0 .2 .6 .2-.1 .2-1.1 .2 1.6 .2-1.2 .2 1.9 .2-1.7 .1 .5 .2 1 .2 1 .2-.9 .2 .3 .2-.4 .2 1.5 .2-.7 .2 .2 .2-.6 .1 .8 .2-.1 .2 .1 .2 .4 .2 1.8 .2-.5 .2 1 .2-.8 .2-.1 .2 .3 .2 .5 .2-1.1 .1 .2 .2 1 .2 .1 .2-.2 .2-.1 .2 1.1 .2-1.7 .2 0 .2 1.5 .2 .4 .2-1 .2 1.6 .2-1.5 .1 0 .2 1.2 .2-.1 .2-1.2 .2 .2 .2 .3 .2 .7 .2-.7 .2 2 .2-.2 .2 0 .2-.6 .2-.2 .1 2.1 .2-1.1 .2-.3 .2 .6 .2 .3 .2 1 .2-.8 .2-.5 .2-.4 .2 2.1 .2 0 .2-.1 .2-1.1 .1 1.8 .2-.9 .2 .6 .2-1.5 .2 1.3 .2 .8 .2-.3 .2 .8 .2-.6 .2-.1 .2 1.9 .2 .4 .2 .4 .2-.7 .1 1.3 .2-1.9 .2 2.6 .2-1.4 .2 .3 .2 .9 .2 .9 .2-.6 .2 .2 .2 1.9 .2-.3 .2 0 .2 1.1 .2 0 .2 1 .2-1.1 .1-.3 .2 .1 .2 1.8 .2-.5 .2-.4 .2 1.5 .2 .5 .2 .4 .2-.4 .2 .7 .2 2 .2 0 .2-.8 .2 1.2 .2 0 .1 1.9 .2 .5 .2 .1 .2-.5 .2 1.7 .2-.1 .2 1.2 .2-.3 .2 .2 .2 2.5 .2-.2 .2 1.1 .2 0 .2-1 .2 2.9 .2-1.4 .1 0 .2 1.1 .2 0 .2 1.3 .2 1.3 .2 .1 .2 .4 .2 .7 .2-.2 .2 1.2 .2-.7 .2-.7 .2 1.1 .2-1.7 .2 0 .1 1.7 .2-1.4 .2 .2 .2 .5 .2 .6 .2-1 .2 .9 .2-.7 .2-.2 .2-.1 .2-.9 .2 1.5 .2-1.7 .2 1.7 .2-.5 .2-1 .1-.5 .2 1.5 .2-.3 .2 .4 .2-1.7 .2-.1 .2 0 .2 .7 .2 .6 .2-1.1 .2-.8 .2 .9 .2-.3 .1 .8 .2 .3 .2-1.3 .2-.7 .2-.4 .2-.6 .2 0 .2 .2 .2 0 .2 .3 .1 1 .2 0 .2-.2 .2-.6 .2 .8 .2-.2 .2-1.8 .2 .2 .2 1.4 .2-.1 .2-1.7 .1-.4 .2 1.3 .2-1.9 .2 2.1 .2-2.1 .2 1.3 .2-.6 .2-.5 .2 .9 .2-1.8 .1 1.1 .2-1.4 .2 1.2 .2-.5 .2-.1 .2-.2 .2-.9 .2 .1 .2 0 .2-.2 .2-1.2 .2-1.9 .2 .7 .1 .6 .2-.9 .2-1.8 .2 1.1 .2-.5 .2-2 .2-.4 .2 .6 .2-1.3 .2-1 .2 1.7 .2-.3 .2-.3 .2-2.3 .2 1.4 .2-2.7 .1 1.3 .2-1.5 .2 0 .2 .7 .2-1.1 .2-1.4 .2 .5 .2-1.2 .2 .1 .2-1.3 .2 2.3 .2-2.5 .2-.2 .2 .5 .1 1.1 .2 0 .2-1.7 .2 .4 .2 .4 .2 1 .2-1.9 .2-.2 .2 .3 .2-.5 .2 1.9 .2-.2 .2-2.3 .1 1.5 .2-.9 .2-.7 .2 1.7 .2-1.5 .2-.8 .2 .5 .2 1.4 .2-1.8 .2 2 .2-1.1 .2 .5 .2-.1 .1-.2 .2-.3 .2-1.4 .2 1.7 .2-2.1 .2 .7 .2 1.4 .2-.6 .2-1.3 .2 1.7 .2-.9 .2-1.5 .2 1.1 .1-.6 .2 1.4 .2-2.2 .2 1.1 .2-.8 .2 1 .2-.5 .2-.9 .2 1.5 .2-.7 .2-.5 .2-1.1 .1 0 .2 1.2 .2-.9 .2 1.3 .2-1.7 .2 1.5 .2 0 .2-2.4 .2 1 .2-.2 .1 .4 .2 .6 .2-2.4 .2 2 .2-1.3 .2-.2 .2 .6 .2-1 .2-.7 .2-.3 .2-.1 .1 2.2 .2-2.2 .2 1.3 .2-.8 .2 1 .2-1.8 .2-.3 .2 0 .2 .5 .2-1.3 .1 .9 .2-.1 .2 .4 .2 .1 .2 .1 .2-1.4 .2 1 .2 .2 .2-.3 .2-1.8 .2 .9 .1-1.4 .2 1.4 .2-1 .2-.8 .2-.5 .2 1.8 .2-2.3 .2-.2 .2 1.7 .2-.2 .1-2.4 .2 1.6 .2 .2 .2-.3 .2-1.9 .2 1.8 .2-2 .2-.1 .2 .5 .2 1 .2-1 .1 .9 .2-2.3 .2 2.2 .2-.7 .2 .5 .2-2.1 .2-.3 .2 .6 .2-.9 .2 .9 .1-.2 .2 .5 .2-2 .2 .6 .2 .8 .2-1.2 .2-.9 .2 1.6 .2-1.1 .2 .7 .2-.9 .1 1.1 .2 .7 .2-.3 .2-.6 .2-.6 .2-.3 .2 1 .2-.7 .2 1.6 .2-1.5 .1 .3 .2 .1 .2 1.2 .2-.8 .2-1.2 .2-.3 .2 .5 .2 .9 .2 0 .2-.1 .2 .2 .1-.9 .2 .4 .2 1.2 .2 0 .2-.2 .2-1.3 .2 1.9 .2 0 .2-2.3 .2 .2 .1 .6 .2 1.6 .2-.9 .2 .3 .2-.7 .2 .2 .2 .8 .2 .7 .2-.4 .2 .2 .2-1.8 .1 .8 .2 1.6 .2-.1 .2-.9 .2 0 .2 .9 .2-1.7 .2 2.1 .2-.5 .2-.2 .1-.4 .2 .5 .2 .8 .2-1.1 .2 .3 .2-.4 .2 1.4 .2-1 .2 0 .2-.4 .2 1.9 .1 .1 .2-.5 .2-.9 .2-.5 .2-.3 .2 .3 .2 1.2 .2 .1 .2 .7 .2-1.6 .1 1.8 .2 0 .2-.3 .2-.3 .2-.9 .2 .3 .2 1 .2-1.2 .2 .9 .2-.1 .2-.5 .2-1.4 .2 .9 .1-1.6 .2 .2 .2-.4 .2 .2 .2 .4 .2-.6 .2 .3 .2 .1 .2-.8 .2-.1 .2 1.9 .2-2.1 .2 1.9 .2-1.6 .1 .3 .2 .6 .2-2 .2 1.9 .2-1.3 .2-1 .2 .4 .2 1.1 .2-1.2 .2 1.1 .2-.1 .2-.2 .2-.7 .2 .2 .1-.1 .2 .2 .2 0 .2-2.4 .2 2.2 .2-.1 .2-1.6 .2 .5 .2 .4 .2-.3 .2-1.9 .2 1.7 .2-1.6 .2 1 .1-1.1 .2 1.2 .2-1.6 .2-.6 .2 .7 .2-.4 .2-.7 .2 1.2 .2 .8 .2-.7 .2 .5 .2-.4 .2-.6 .1 .4 .2-.6 .2-.3 .2 2.1 .2-.5 .2 .2 .2-.2 .2 .9 .2 .2 .2-.1 .2 .3 .2 .2 .1 .3 .2 .3 .2-.9 .2-.4 .2 1.4 .2-.9 .2-.6 .2 .1 .2 2.3 .2-2.1 .2 2.4 .2-1 .1 1.3 .2-1.3 .2 .4 .2-.2 .2-.3 .2 1 .2-.7 .2 .4 .2-.9 .2 1.7 .2-1.8 .2 1.8 .1-1.1 .2-.5 .2 1.2 .2 1.1 .2-.9 .2 0 .2 .2 .2 1 .2 .9 .2-2 .2 1.3 .1-1 .2 1.2 .2 1.2 .2-.4 .2 .2 .2-.4 .2 .9 .2-.2 .2 0 .2 1.1 .1-.9 .2-.4 .2 0 .2 .3 .2 1.5 .2-1.2 .2-.8 .2 2.3 .2-.3 .2 .4 .2-.2 .1 .6 .2-1.8 .2 1.9 .2-1.9 .2 2.4 .2-1.7 .2-.1 .2 1.1 .2 .5 .2 .6 .1-.7 .2 1.1 .2-1.5 .2-.5 .2 .8 .2 .6 .2 .2 .2 .9 .2-.1 .2-.6 .2-1.2 .2 1.3 .1 .3 .2 .1 .2-1.6 .2 .6 .2 1 .2 .1 .2 1 .2 .1 .2-.4 .2-.6 .2 .9 .2-.6 .2-.6 .1 1.2 .2 0 .2-.8 .2-.2 .2 .8 .2 .7 .2 .3 .2-1.8 .2 0 .2 .4 .2 .5 .2 .2 .2-.2 .1-.1 .2 1.3 .2-.1 .2-.5 .2 .3 .2 .3 .2-.2 .2 .7 .2-.6 .2-.7 .2 .2 .2 0 .2 2.1 .1-.4 .2 .2 .2-.6 .2 .6 .2 .2 .2-.7 .2 .2 .2-.5 .2 .9 .2 .8 .2-.2 .2-1 .2 .8 .1-.8 .2 1.2 .2 1.2 .2-1.4 .2 .4 .2 .1 .2-.7 .2 .5 .2 .1 .2-.5 .2 .6 .2 .4 .2-.5 .1 .9 .2 .6 .2-.9 .2 .6 .2 .4 .2-.2 .2-.4 .2 .7 .2-1.2 .2-.8 .2 .1 .2 2.2 .2-1.8 .1 0 .2-.2 .2 .2 .2-.2 .2 1.2 .2-.1 .2 .7 .2 .2 .2-1.1 .2-.1 .2 .2 .2 .3 .2-.2 .1 1.3 .2-.8 .2-.6 .2 1.4 .2-.7 .2-.2 .2 0" fill="none" stroke="#55A3CE" stroke-width="3.55" stroke-linejoin="round" stroke-dasharray="22.72 5.68 3.55 5.68"/>
<path d="M349 389.7l.4-12.8 .5-27.7 .4-8.9 .5-7 .4-.6 .5 1.7 .4 2.2 .5 1 .4 .6 .5-12.5 .4-7.1 .5-19.9 .4-9.2 .5-12.5 .4 1 .5-10.1 .4-7.7 .5-6.9 .4-11.1 .5 2.7 .4-3.9 .5-16.4 .4 .4 .5-13.9 .4 9.7 .5-8.3 .4 3.4 .5 4.7 .4 16.9 .5-4.3 .4 6.2 .5 16.4 .4-2.1 .5 8.9 .4 0 .5 7.3 .4 11.3 .5-9.4 .4 14.2 .5 8.7 .4-.6 .5 .6 .4 3.6 .5-6.9 .4 6.4 .5 4.9 .4-4 .5 .8 .4 .6 .5 1.9 .4 3.5 .5-.9 .4 .6 .5-.9 .4-1.9 .5 1.9 .4-3 .5 2.1 .4-.1 .5-3.6 .4 .9 .5-1.3 .4-1.2 .5-6.6 .4 4.8 .5-.1 .4-2.3 .5 3.6 .4-7.5 .5-2.3 .4-19.7 .5-7.3 .4 4.2 .5-14.5 .4 .7 .5 22.4 .4-.1 .5 15.5 .4 1.6 .5 19.2 .4 6.2 .5 12.9 .4 7 .5-7.7 .4 6.5 .5-13.6 .4 5.6 .5-9.9 .4-6 .5 1 .4 19.8 .5-.4 .4 8.4 .5-11.8 .4-17.5 .5-16.8 .4 17.8 .5 18.7 .4 40 .5 25.1 .4-11 .5-6.7 .4-22.5 .5-5.2 .4-16.2 .5-21 .4-2.5 .5-5.1 .4-3.5 .5-17.1 .4-6.4 .5 5.6 .4-13.8 .5 1.5 .4 4.8 .5 5.4 .4 2.8 .5 3.9 .4 2.1 .5 56 .4 43.4 .5 52.2 .4 8.6 .5 9.6 .4 10.6 .5 9.8 .4 10.7 .5 8.9 .4 10.3 .5 5.4 .4 12.2 .5-1.8 .4 5 .5 .6 .4-16.3 .5 1.7 .4-11.9 .5-4.9 .4 9.6 .5 4.5 .4 1.5 .5 10.4 .4-7.3 .5-4.1 .4-3.3 .5-3.3 .4 .3 .5-6.9 .4-3.3 .5 0 .4 16 .5 1 .4 4.4 .5-7.7 .4 1.4 .5-15 .4 .3 .5 .2 .4-7.8 .5-15.1 .4-2.4 .5-7.5 .4 13.3 .5-2.4 .4 9.5 .5 9.1 .4 14.2 .5 14.3 .4 9.6 .5 5.4 .4 20.3 .5 4.1 .4 11 .5-4.3 .4-5.7 .5-9.1 .4-15.2 .5-2.6 .4-8.3 .5-1.8 .4-12.3 .5 4.2 .4-17.7 .5 .2 .4 4.1 .5-14 .4 2.2 .5-4.3 .4 1.9 .5-14.3 .4 .2 .5 23.8 .4 24.7 .5 24.4 .4 26.8 .5 12.6 .4-45.2 .5-32.2 .4-31.2 .5-31.4 .4-18 .5-23 .4 10.1 .5 12.3 .4 12.7 .5 13.3 .4 13.6 .5 18.8 .4 5.2 .5-29.6 .4-12.4 .5-37 .4-25.2 .5-1.3 .4 13.8 .5 2.6 .4 20.9 .5 6.1 .4-4.1 .5 17.5 .4-18.1 .5-18.8 .4-5.7 .5-14.1 .4-3.4 .5-13.7 .4-2.6 .5-7.7 .4-11.8 .5 .8 .4 3 .5 4.4 .4-2.1 .5-3.3 .4-4.3 .5-10.2 .4-.9 .5-4.7 .4 9.8 .5 .3 .4 11.4 .5 1.2 .4-9.2 .5 4.3 .4-8.7 .5-14.4 .4 3.2 .5-6.5 .4-3.9 .5-19.2 .4-2.1 .5 9.4 .4 20 .5 5.1 .4 6.4 .5 14.6 .4 13.1 .5 5.8 .4 14.7 .5 10 .4-23.7 .5-24.8 .4-24.5 .5-35.1 .4-5.2 .5-9.3 .4-8.4 .5-8.7 .4-8.1 .5-28.6 .4-25.3 .5-26.6 .4-33.8 .5 3.3 .4-.6 .5 2 .4-3.5 .5 45.4 .4 48.2 .5 38.7 .4 0 .5-7.2 .4-4.4 .5-3.4 .4-2.4 .5-4 .4-1.8 .5 12.3 .4 10.6 .5 9.6 .4 11.9 .5 20.4 .4 23 .5 24.2 .4 22 .5 14.4 .4-2.5 .5-1.1 .4-2 .5 4.9 .4-.2 .5-2.5 .4-4.6 .5-9.1 .4 2 .5-4.2 .4-4.2 .5 1.5 .4-2.3 .5 .8 .4-5.6 .5-16.5 .4-9.7 .5-2.7 .4-2.1 .5-1.4 .4-14.2 .5 .3 .4 .4 .5-11.3 .4-2.1 .5-10.2 .4-6.3 .5-.8 .4-4.4 .5-12.7 .4-.2 .5-7.3 .4-6.8 .5-15.6 .4-2.5 .5 2.8 .4-.2 .5 6.5 .4-6.8 .5 2 .4 9.9 .5-4.8 .4 9.8 .5 11.9 .4 8.6 .5 5.8 .4 8.4 .5 4.2 .4-.9 .5 2.2 .4-1.7 .5-.5 .4-9.4 .5 6 .4-2.6 .5-.2 .4 3.9 .5 4.8 .4-.1 .5 5.8 .4-.5 .5 2.4 .4 1.4 .5-14.8 .4-5.4 .5 2.8 .4-8.9 .5 .5 .4-8.6 .5-.5 .4-8.8 .5-.4 .4-.6 .5-2.4 .4 3 .5-1.6 .4 1.4 .5-1.6 .4-.3 .5 2.2 .4-.8 .5 .3 .4 .6 .5-3.5 .4 7 .5 8.9 .4-6.5 .5 4.8 .4 5.1 .5 10.4 .4 .1 .5-4.3 .4 12.4 .5-1.2 .4 12 .5-4.4 .4 8.8 .5 2.5 .4 5.9 .5-5.1 .4 6.9 .5-1.1 .4 2.6 .5 7 .4-.9 .5-2.3 .4 6.1 .5 2.9 .4-1.9 .5-2.6 .4-2.8 .5-3.4 .4-.1 .5-4.9 .4 2.8 .5-1 .4-5.7 .5 1.6 .4-6.2 .5 2.9 .4-6 .5 1 .4-4 .5-2 .4-1.8 .5-.6 .4 .7 .5 4.8 .4-3.1 .5-3.2 .4 3.1 .5-4.2 .4-1.2 .5-3.9 .4-3 .5-1 .4-3.7 .5 2.7 .4-.5 .5 5.3 .4-4.2 .5 6.8 .4-.9 .5 3.8 .4-1.6 .5 5.5 .4-1.2 .5 10.5 .4-.7 .5 .4 .4-1.1 .5-7.9 .4-3.9 .5-3.9 .4 .3 .5-2.1 .4-7.1 .5 3.6 .4 2.5 .5 3.8 .4-1.8 .5 2.2 .4 1 .5 4.6 .4 0 .5-9 .4-1 .5 1.8 .4-6.4 .5 2.5 .4-10.3 .5 .5 .4-5.2 .5 2.2 .4-6.2 .5 .2 .4 2.7 .5 6.3 .4-7.7 .5 9.5 .4 5.3 .5-12.4 .4 10.5 .5 1 .4 13.4 .5 1.4 .4 8.8 .5 1.6 .4 9.6 .5 1.7 .4 6.9 .5-10.6 .4-14.3 .5-6.3 .4-3.2 .5-18.1 .4-10.2 .5-2.6 .4 7.5 .5-.6 .4-1.7 .5-.9 .4-11.3 .5-.9 .4 2.2 .5-.7 .4-.1 .5-.5 .4 .7 .5 8.7 .4-3.2 .5 11.3 .4-2.5 .5 10.2 .4 4.8 .5-5.1 .4 6.3 .5 9.9 .4 .3 .5 3.8 .4-1 .5 9.9 .4 8.2 .5-4.1 .4 2.4 .5 3.6 .4 0 .5-1.5 .4-2.8 .5 .9 .4 1.4 .5 1.3 .4 2.5 .5-2.4 .4-8.3 .5 1 .4-7.8 .5 3.2 .4 1.5 .5 3.4 .4 .8 .5-1.2 .4 3.8 .5 3.6 .4 4.5 .5-1 .4 3.2 .5 3.6 .4-4.5 .5 1.7 .4-5.4 .5 4 .4-9.3 .5 .2 .4-1.4 .5 0 .4-5.4 .5-7.3 .4 .3 .5-1.3 .4-1 .5-1.3 .4-7.9 .5-3.7 .4 .2 .5-3.3 .4-1.4 .5 2.9 .4 1.3 .5-1.7 .4 1.6 .5-1.5 .4-4.3 .5 3 .4 1.6 .5-1.5 .4-3.1 .5-2.2 .4-4.7 .5-5.1 .4-1 .5-.9 .4-6.5 .5-.9 .4-6.5 .5 5.3 .4-6.5 .5 3.1 .4-5.4 .5 2.3 .4-7.7 .5-2.9 .4 3 .5-4.8 .4 1.5 .5-.6 .4-6.3 .5-5.5 .4-2.6 .5-3 .4 1 .5-6.8 .4-1.1 .5 3.5 .4-.9 .5-5.5 .4-18.5 .5-22.5 .4-11.4 .5-22.3 .4-22 .5-11.7 .4 2 .5-2.1 .4-.5 .5 28.6 .4 30.1 .5 29.5 .4 38.2 .5 14.7 .4-6.6 .5 .5 .4-4.2 .5-3.8 .4 4.7 .5-8.1 .4 4.5 .5 1.9 .4-1.2 .5 4.5 .4 4.2 .5 1.1 .4-.9 .5 3.1 .4 8.6 .5 7.2 .4 .9 .5-2.8 .4-15.3 .5 2.9 .4-16.5 .5-1.9 .4-4.2 .5-5.1 .4 7.6 .5-7.7 .4-.9 .5-2.9 .4 .4 .5 1.3 .4 1.6 .5 3.7 .4 1.4 .5 1.9 .4 3.3 .5 3.7 .4-5 .5 11.5 .4-9.6 .5 7.3 .4-5.7 .5 5.6 .4 1.3 .5 8.5 .4 6.8 .5-2.7 .4 9.4 .5 5.8 .4 2.1 .5 1.8 .4-4.3 .5 8.2 .4-5.3 .5 6.9 .4-.4 .5 0 .4-1.2 .5-.4 .4 .2 .5-2.5 .4-1.9 .5 2 .4-1.9 .5-.6 .4-1.9 .5-2.2 .4 1.7 .5 1.5 .4 2.5 .5 .5 .4 .5 .5 1.9 .4 2.4 .5-1.3 .4 3.3 .5-1.3 .4 .2 .5-1.3 .4 .6 .5-.5 .4-.2 .5-.4 .4-.4 .5-1.6 .4 .5 .5 .6 .4 .3 .5 .3 .4 .3 .5 .2 .4 .3 .5 .3 .4 .3 .5 .2 .4 .3 .5 .3 .4 .3 .5 .2 .4 .3 .5 .3 .4 .3 .5 .2 .4 .3 .5 .3 .4 .3 .5 .2 .4 .3 .5 .3 .4 .2 .5 .3 .4 .3 .5 .3 .4 .2 .5 .3 .4 .3 .5 .3 .4 .2 .5 .3 .4 .3 .5 .3 .4 .2 .5 .3 .4 .3 .5 .3 .4 .2 .5 .3 .4 .3 .5 .3 .4 .2 .5 .3 .4 .3 .5 .2 .4 .3 .5 .3 .4 .9 .5-8.5 .4-22.5 .5 4.8 .4 9.3 .5 1.7 .4 10.1 .5 2.2 .4-4.4 .5-6.3 .4 1.5 .5-9.6 .4-7.8 .5-1.8 .4 6.9 .5 3.5 .4 1.4 .5 8.7 .4-1.2 .5 16.1 .4 6.8 .5 11.9 .4 4.3 .5 13.4 .4 1.6 .5 12.3 .4-.4 .5 6.8 .4 .8 .5 8.5 .4-2.5 .5-7.7 .4 2 .5-6.6 .4-7.9 .5 1.3 .4-6.8 .5-8.1 .4-1.1 .5 8.8 .4 4.6 .5 7.8 .4 11 .5-8.1 .4-3.6 .5-7.8 .4-6.5 .5-6.7 .4-6.2 .5-8.7 .4 25.7 .5 25.2 .4 28.4 .5 250.7 .4-122.4 .5-98 .4 65.5 .5 74.5 .4-36.2 .5-63.2 .4-71.1 .5 63.8 .4 68.5 .5 54.6 .4-90.5 .5-105.4 .4 37.1 .5 71.2 .4 76 .5-53.4 .4-63 .5-48.5 .4 88.6 .5 71.7 .4-78.3 .5-60.8 .4 402.4 .5 259 .4-9.7 .5-6.8 .4 .7 .5 1 .4 0 .5 2.8 .4 5.5 .5 3.4 .4 3.7 .5-4.5 .4-3.7 .5-6.4 .4-2.4 .5-.3 .4 4.3 .5-3.2 .4 .9 .5 1.7 .4-1.2 .5 2.2 .4-6.5 .5-.3 .4-7.5 .5 2.1 .4 .5 .5 5 .4 3.5 .5 5.4 .4-.9 .5 1.3 .4 1.3 .5 1.8 .4 .5 .5 2.1 .4-7.5 .5-4.9 .4-8.9 .5-5.3 .4 5.6 .5-4.2 .4 7 .5-6.8 .4-.6 .5 .4 .4-2.4 .5 11.7 .4 2.6 .5 14.5 .4-6 .5 4.6 .4-1.3 .5-2.1 .4-12.2 .5-1.8 .4-11.4 .5 10 .4 7.9 .5 9.1 .4 8.7 .5-.5 .4-1.4 .5 1.3 .4-1.2 .5-4.7 .4-1.9 .5-4.7 .4-1.5 .5 4.9 .4-3.1 .5 .2 .4-9.5 .5-6.1 .4-3.4 .5-4.1 .4 5.4 .5-3.9 .4-3 .5 10.2 .4 .6 .5 8.8 .4-5.5 .5-2.1 .4-7.5 .5-1.7 .4 3.3 .5 2.1 .4-1.7 .5 1.7 .4 2.6 .5-1.1 .4 .6 .5-6.1 .4 .1 .5-2.1 .4 1.6 .5 3.8 .4 5.6 .5 4.3 .4 7.5 .5 6.7 .4 6.5 .5-304.1 .4-272 .5-274.4 .4 8 .5 8.2 .4 8.1 .5 5.8 .4 9 .5 5.1 .4-16.1 .5-14.1 .4-10.8 .5 17.6 .4 19.3 .5-18.9 .4 22 .5-6.9 .4 10.6 .5-41.2 .4-9.7 .5-20.7 .4-20 .5-16.5 .4-4.6 .5-9.1 .4-4.3 .5 8.9 .4-14 .5-.4 .4 .9 .5 12.2 .4-5.8 .5-2.6 .4 7 .5-13.7 .4 13 .5-3.4 .4 .4 .5 28.9 .4-11 .5 7.6 .4 5.8 .5 10.8 .4 14 .5 9.3 .4 10.2 .5 12.7 .4 13.6 .5 10 .4 16.7 .5-4.2 .4 5.6 .5 27.1 .4-18.9 .5-3.3 .4-2.8 .5-13.1 .4-7 .5-5.6 .4-9.6 .5-13.3 .4-11.2 .5-9.4 .4-11.3 .5-5.1 .4-2.1 .5-20.3 .4-2 .5-18.5 .4 6.8 .5-19.2 .4 11.2 .5-7.6 .4-3 .5-15.5 .4 2.7 .5-8.7 .4 9.7 .5 6.4 .4 24.3 .5 20.7 .4 5.9 .5 22.8 .4 10.6 .5-8.5 .4 8.4 .5 6.7 .4 10.6 .5 11.5 .4-2.1 .5-2.5 .4 2.1 .5-7.4 .4 7.4 .5-9.6 .4-23.2 .5 29.7 .4-14.1 .5 1.2 .4 .3 .5-41.9 .4 12.1 .5-22.8 .4 9.4 .5 13.6 .4-37.8 .5 10.7 .4-17.5 .5 9.7 .4 9.6 .5-17.6 .4 2.3 .5-6.5 .4 16.2 .5-18.2 .4 8.4 .5 20.5 .4-17.5 .5 27.8 .4-10.8 .5-4.5 .4 34.7 .5-3 .4-19.4 .5 38.3 .4-1.5 .5-4.4 .4 14.4 .5-13.9 .4 16.7 .5 5.6 .4-15 .5 17.6 .4-4.8 .5 2.6 .4-2.9 .5-9.3 .4-.5 .5 10.3 .4-10.4 .5-15.7 .4 17.7 .5-18.7 .4 10.9 .5-1.4 .4-13 .5-3 .4 7.8 .5 6.6 .4-2.3 .5 7 .4-5.5 .5-11.3 .4-26.3 .5 1 .4 1.1 .5-16.8 .4-2.3 .5 1.1 .4 16.4 .5-13.2 .4-7.4 .5 4.3 .4 15.2 .5 8.3 .4 8.6 .5-.1 .4-2.9 .5-1.4 .4-25.8 .5-11.1 .4 20.2 .5-20.2 .4 22 .5 19.9 .4 9 .5 16.4 .4-.2 .5 14.8 .4 .8 .5 1.4 .4-1.6 .5 29.2 .4 .3 .5-12.2 .4 23.7 .5-17.5 .4 11.3 .5 15.5 .4-20.1 .5 4.5 .4-11.8 .5 4.7 .4 1.3 .5-13.2 .4 22.8 .5-17 .4-4.1 .5 2.2 .4-4.9 .5 10.9 .4 18 .5 10.9 .4 30 .5-6.7 .4-34.8 .5-1.6 .4-23.6 .5-19.2 .4-8.7 .5-14.2 .4-6.2 .5-9.2 .4-3.1 .5-10.2 .4 2.5 .5-6.5 .4-5.5 .5-11.3 .4 7.3 .5 39.9 .4 6.4 .5 27.9 .4-15.1 .5 26.9 .4-19.9 .5-20 .4-.8 .5-27.4 .4 27 .5 .7 .4 19.8 .5-3.2 .4 22.4 .5 21.4 .4-7.9 .5-20 .4-18.4 .5-17.5 .4-16.3 .5-24 .4-19.1 .5-20.4 .4-25.9 .5 0 .4 1.1 .5-1.5 .4 1.1 .5-1.8 .4-.9 .5 45.8 .4 46.3 .5 59.5 .4 3.2 .5 6.7 .4 2.1 .5 6.6 .4 .6 .5 6.7 .4 6.6 .5 16.1 .4-24.2 .5 20.6 .4 5.4 .5-9 .4 5.3 .5-1.1 .4-4.1 .5 7.6 .4 3.1 .5-1.6 .4-1.4 .5-2.9 .4 2.9 .5 1.7 .4-1.6 .5 0 .4 19.6 .5-14.8 .4 5.6 .5 6.8 .4-1.8 .5 4.2 .4 18.3 .5-10.2 .4 10 .5-8.6 .4 9.4 .5-4.8 .4-17.2 .5 4.6 .4-.3 .5 4 .4 8.4 .5-5.8 .4-6 .5-8.2 .4 11.9 .5-26.5 .4 15.9 .5-20.5 .4 3.1 .5-5.9 .4 16.5 .5-18.4 .4-2.2 .5 10.1 .4-6.3 .5-2.4 .4 2.4 .5-2.8 .4 .1 .5-2.3 .4 5.1 .5 1.6 .4 1.8 .5 .4 .4 2.4 .5-3.5 .4-2.1 .5-1.4 .4 2.9 .5-5.5 .4-.3 .5 1.5 .4 2 .5-3.9 .4 1.1 .5 2.6 .4 .6 .5-3.2 .4 9.6 .5 2.1 .4-.1 .5-4.4 .4 11.6 .5 3.6 .4-3.1 .5-2.5 .4 11.1 .5-4.9 .4 5.6 .5-21.9 .4 5.6 .5-1.8 .4 .9 .5-7.4 .4 6.3 .5 13 .4-29.4 .5 1.5 .4-32.3 .5 6.7 .4-13.3 .5 17.3 .4-4 .5-8.8 .4 12.1 .5-17.2 .4 16.6 .5-4.3 .4-5.8 .5-13 .4-3.1 .5 2.9 .4 7.6 .5-4.3 .4 4 .5 4.1 .4-4.6 .5 7.2 .4-4.6 .5 1.5 .4 .5 .5-8 .4-1.8 .5 1.9 .4-3.4 .5-.7 .4 7.6 .5-4.8 .4 4.7 .5-4.7 .4-6.1 .5 1.5 .4 11.6 .5-16 .4 19.4 .5 15.1 .4 5.1 .5 7.7 .4-5 .5 3.6 .4-29.4 .5-.5 .4-12.9 .5 25.6 .4-8.4 .5 2.9 .4-3.2 .5 1.1 .4 13 .5-3.2 .4 16.7 .5-2.1 .4-7.7 .5 1.2 .4-6 .5-6.4 .4 1.7 .5-8.2 .4 4.1 .5-4.4 .4-7 .5 7.3 .4 8.4 .5-10.4 .4-4.7 .5-4.7 .4 1.8 .5-13.4 .4 7.4 .5-5.4 .4-4.5 .5 1.8 .4 3 .5 3.9 .4-5 .5 7.1 .4 3.5 .5 .2 .4-2.3 .5-4.8 .4 2.8 .5 4.7 .4-2.5 .5-2.7 .4-3.2 .5 7.6 .4 3.7 .5 2.6 .4-7.8 .5 0 .4 1.8 .5 .5 .4 3.3 .5 7.7 .4-1.2 .5-6 .4-5.3 .5-6.2 .4-3.1 .5-3.4 .4 8.7 .5-.7 .4-10.6 .5 10.6 .4-.5 .5-4.4 .4 11.9 .5-1.7 .4-10.9 .5 8 .4-15.5 .5-4.9 .4 12.6 .5-13.9 .4-2.3 .5 8.2 .4-4.1 .5-12.7 .4-6.1 .5 1.4 .4 0 .5 7.4 .4 6.9 .5 2.8 .4-5.3 .5-21.2 .4-3 .5 3.4 .4-6.9 .5 20.2 .4 14.6 .5-15.2 .4 21.5 .5 7.4 .4-2.7 .5-42.8 .4-5.6 .5-2.1 .4 5.3 .5 9.4 .4-8.7 .5-3 .4 11.9 .5-16.1 .4 .2 .5 7.8 .4 8.6 .5-3.7 .4 12.6 .5-4.9 .4-.6 .5 1.2 .4-.6 .5 1 .4-7.2 .5 6.5 .4 2.8 .5-14.6 .4 9.1 .5-3.9 .4-2.8 .5-13.2 .4 7.6 .5-7 .4-10.2 .5 3.3 .4-3.5 .5 3.5 .4 .2 .5-3.8 .4-.8 .5 4.1 .4-.7 .5 1.2 .4-4.8 .5 2.5 .4-4.2 .5 2.1 .4 4.2 .5 2.3 .4-3.7 .5-3.9 .4 2 .5 4.3 .4-9.8 .5 7.3 .4-5.8 .5 9.5 .4 12.2 .5-3.3 .4 .6 .5 9.4 .4-2.4 .5 2.1 .4-3 .5-.4 .4-7.2 .5-4.7 .4 2.8 .5-3.9 .4 10.3 .5 8.1 .4-12.1 .5 22.4 .4-7.4 .5-4.7 .4 .5 .5 8.3 .4-10.2 .5 8.6 .4 3.2 .5 10.8 .4-8.3 .5 9.2 .4-4.1 .5-2.9 .4 12.2 .5-8.4 .4 4.5 .5 1.3 .4-2.8 .5-8.1 .4 11.5 .5 .9 .4 1.8 .5-3.5 .4 5.5 .5-2 .4 11.9 .5 8.4 .4-10 .5 10.9 .4-16.2 .5-3.5 .4 4.4 .5 24.9 .4-.4 .5-9.1 .4 14.4 .5-.9 .4-8.6 .5 3.4 .4 6.1 .5-9.5 .4 10.5 .5-10.9 .4-9.9 .5 12.2 .4-6.3 .5-7.9 .4-.4 .5 6.5 .4-5.9 .5 .5 .4 2.4 .5-1.1 .4 10.7 .5 4.3 .4-1.6 .5-11.9 .4-6 .5 7.6 .4 5.1 .5-4.2 .4-10 .5 6.3 .4 9.1 .5 2.6 .4 2.7 .5 1.4 .4 .6 .5-8.2 .4 1.6 .5-1.9 .4-5.2 .5 2.7 .4-4.7 .5-9.3 .4 11.7 .5-4.5 .4 9.8 .5-9.6 .4 .8 .5 3.6 .4 10 .5-11.6 .4 7.3 .5 .8 .4-20.1 .5-.8 .4 10.1 .5-6.9 .4 5.3 .5-8.9 .4 7.8 .5-6.9 .4-.3 .5 13.2 .4-.4 .5 5.4 .4-4.9 .5 5.5 .4-15.6 .5 19.3 .4 1.6 .5 1.1 .4-20.8 .5 1.8 .4 20.2 .5-15.8 .4 5.1 .5 17.6 .4 4.2 .5-1.3 .4-5.6 .5 14.9 .4-11.7 .5-15.6 .4 13.5 .5 0 .4 2.3 .5-16.6 .4 11.7 .5-11 .4 19.8 .5-20.1 .4 5.3 .5 7.4 .4 8.4 .5-2.3 .4-7.4 .5 8.3 .4-17 .5 5.6 .4 .2 .5 12.8 .4-.7 .5-7.2 .4-1.6 .5-2.5 .4-10.6 .5-13.9 .4 22.1 .5-21.1 .4-12 .5 5 .4 1.8 .5 7.9 .4-12.4 .5 1.6 .4 10.9 .5-4 .4 5 .5-16.1 .4 15.1 .5-11.3 .4 8.2 .5-13.5 .4-.3 .5-3.6 .4 10.4 .5-5.2 .4 1.5 .5-7.4 .4 .1 .5 1.4 .4-3.6 .5 3.4 .4 2.4 .5-2.2 .4 17.9 .5-4.7 .4-8.7 .5 12.8 .4-3.4 .5 2.3 .4-2.8 .5 3.9 .4-2 .5 2.9 .4-7.6 .5-.5 .4 5.5 .5-16.9 .4 16.4 .5-3.5 .4-11 .5-13.9 .4 21.5 .5-22.4 .4 11.4 .5-.1 .4-3.3 .5-7.6 .4-1 .5 14 .4-4.3 .5-8.6 .4 3.2 .5 15.9 .4-9.9 .5-.7 .4 14.1 .5-13.8 .4 8.8 .5 1.6 .4 7.8 .5-1 .4-6.2 .5-10.2 .4 12.7 .5-10.4 .4 10.1 .5-6.9 .4 6.2 .5-12.2 .4 10.1 .5-12.8 .4 10.2 .5-12.9 .4 16.7 .5-7.6 .4 6.9 .5-1.4 .4-.2 .5-4.8 .4 11.3 .5-7.1 .4 .6 .5 17.5 .4-1.8 .5-10.9 .4 9.3 .5 6.8 .4-2.1 .5-5.4 .4-7.9 .5 12.9 .4-17.3 .5-3.7 .4 12.7 .5-15.1 .4 5 .5-.8 .4 .3 .5 7.9 .4-1.3 .5 .4 .4-13.2 .5 32.3 .4-18.8 .5 25 .4-27.2 .5 11.1 .4 9.8 .5-1.5 .4-7 .5 38.9 .4-6.1 .5 1.2 .4-.8 .5-2.5 .4-29.4 .5 24.8 .4-16.2 .5 4.3 .4 14.4 .5-18.6 .4 11.4 .5-3.3 .4 5.2 .5-8.9 .4 2.4 .5-17.2 .4-5.9 .5-1 .4 .5 .5 12.7 .4 15.2 .5-32.5 .4 12.2 .5-8.1 .4-4.3 .5-2.6 .4 4.9 .5 2 .4 16.6 .5 3 .4-2 .5 12.4 .4-25.7 .5 16.8 .4 .9 .5 7.8 .4-5.4 .5 7.2 .4-6.9 .5 2.3 .4 2.9 .5-25.9 .4-1.6 .5-11.9 .4 23.9 .5-7.4 .4 11.9 .5-13.7 .4 21.6 .5-3.3 .4 8.8 .5-14 .4 1.8 .5 7 .4-18.7 .5 14.8 .4 8.4 .5-15.3 .4-7 .5 18.9 .4-31.2 .5 1.6 .4 17.7 .5-18.8 .4 13.9 .5-6.3 .4-.1 .5-1.1 .4 6.5 .5 12.9 .4 3.6 .5-4.7 .4-6.6 .5 4 .4-6.1 .5-1.8 .4-2 .5-10 .4 8.3 .5-10.7 .4 7.2 .5 11.2 .4-16.4 .5 17.4 .4-17.2 .5 20.7 .4 0 .5-20.5 .4 41.4 .5-23.1 .4-11.2 .5 25.5 .4-17.2 .5 19.3 .4-19.8 .5 39.5 .4-11.6 .5 22.6 .4-8.1 .5-3.7 .4 1.1 .5 2.1 .4-4.7 .5-25.4 .4-3.6 .5-3.3 .4 29.6 .5-13.6 .4-30.9 .5 21 .4-4.7 .5-17.4 .4 19.1 .5-6.4 .4-12.2 .5-4.1 .4 2.9 .5 22 .4-21.1 .5 23 .4-3.2 .5-21.6 .4 8.6 .5 .6 .4-2 .5 1 .4-32.1 .5 10.9 .4-3.1 .5 13.3 .4-25.3 .5 11.8 .4 25.7 .5 .5 .4 18.5 .5 6.8 .4-33.2 .5 31.3 .4-17.6 .5 16.7 .4-56.2 .5 8.6 .4 25.3 .5-21.6 .4 5.8 .5-21.5 .4 11.4 .5 9 .4-14.5 .5-9.9 .4 21.2 .5-15.1 .4 1.5 .5 1.1 .4 17.1 .5 5.4 .4-10.6 .5-1.1 .4 11.6 .5-25.6 .4 4.4 .5-1.5 .4 6.4 .5-.8 .4 6 .5 6.2 .4 .3 .5-3.7 .4 13.6 .5-12.4 .4-5.2 .5 14.6 .4 6.1 .5-16.4 .4 10.5 .5-12.5 .4 6.7 .5-6 .4 21.5 .5 13.4 .4 2.4 .5-4.2 .4-7.4 .5 8.9 .4-28 .5 33.1 .4-17.7 .5 19.8 .4 3.5 .5-2.4 .4 10.3 .5-16.2 .4 1 .5 7.3 .4-20.4 .5-.3 .4 0 .5 3.3 .4 11.6 .5-11.1 .4 4.1 .5-10.4 .4 3.6 .5-4.1 .4 5.2 .5 3.9 .4 7.7 .5 4.1 .4 13.8 .5-30.8 .4 20.6 .5 17.5 .4-5.3 .5-23.3 .4 6.3 .5 11.5 .4 10.5 .5 1.5 .4-15.8 .5 12.2 .4-8.1 .5-14.9 .4-7.2 .5-40.7 .4 35.1 .5-16.6 .4 8.6 .5-11.1 .4 31.8 .5-30.2 .4 36 .5-26.3 .4 25.4 .5-32.8 .4 2.2 .5-20.6 .4 1.9 .5 13.2 .4-3.6 .5-2.6 .4-.3 .5 17.3 .4-8.7 .5-18.7 .4 5.3 .5 10 .4-13.5 .5 4.8 .4 .6 .5 13 .4 10.4 .5-2 .4-.4 .5 2.3 .4-18.8 .5-16.3 .4 23.1 .5-13.6 .4 12.3 .5-26.4 .4 24.8 .5-6.4 .4-9.4 .5 8.1 .4 16.3 .5-8.4 .4 18 .5-4.4 .4-13.2 .5 16.2 .4 .1 .5-27.2 .4-1.9 .5 13.8 .4-4.9 .5-16.4 .4 23.6 .5 29.8 .4-38.1 .5 57.5 .4 3.1 .5 1 .4-26 .5 11.4 .4 0 .5 4.4 .4-16.6 .5-8.5 .4-4.4 .5-8.3 .4 31 .5-4.6 .4 11.8 .5-16.2 .4-14.1 .5 17.2 .4-22.3 .5-23 .4 42.1 .5-35.3 .4-6.8 .5-4.2 .4 26.7 .5-12.2 .4-23.3 .5 14.7 .4 1.1 .5 19 .4 3.4 .5-10.8 .4 .5 .5-27.2 .4-10.1 .5 22.2 .4-14.4 .5-11.1 .4 20.5 .5-13.4 .4-2.6 .5 4.1 .4-6 .5 21.2 .4-17.9 .5 9.8 .4-6.1 .5 37.1 .4-16.3 .5 11.4 .4 7.1 .5-8.6 .4-1.3 .5-1.5 .4-4.8 .5-21 .4 32.8 .5-15.6 .4-10.1 .5-12.6 .4-3 .5 17.6 .4-13.2 .5-5.9 .4 5 .5 .3 .4 31.8 .5-23 .4 40.2 .5-1.4 .4 6.3 .5-21.7 .4-7.2 .5 14.8 .4 29.3 .5-42.9 .4 7.5 .5-7 .4 23.2 .5-12.9 .4 11.7 .5 20.2 .4-2.1 .5-.8 .4-.2 .5-18 .4-31.1 .5 29 .4-31.7 .5 9.6 .4-.4 .5 15.8 .4-15.3 .5 3.8 .4-3.9 .5 14 .4-13.9 .5 21.7 .4-23.2 .5 17.4 .4-3.7 .5 11.5 .4-26.9 .5 16.8 .4-4.8 .5-28.3 .4 1.1 .5 33.9 .4 7.8 .5-.9 .4 .3 .5-.6 .4 11.1 .5-41 .4 17.4 .5 .1 .4 2 .5-31.1 .4-10.5 .5 .5 .4-3.1 .5 6.8 .4 11.8 .5-8.5 .4 6.9 .5-2.8 .4-5.8 .5-.8 .4-3.7 .5-2.8 .4-7.2 .5 14.4 .4 9.1 .5 .5 .4-1 .5 27.1 .4-22.9 .5 26.3 .4-5.5 .5-16.2 .4 7.5 .5-39.8 .4-10.4 .5 8.6 .4 12.4 .5-23.1 .4 17 .5-10.6 .4 15 .5 12 .4-8.3 .5 12.3 .4-12.1 .5 21.6 .4-29.4 .5 24.5 .4-19.3 .5 23.7 .4 2.9 .5-9.7 .4 21.4 .5-.3 .4-1.1 .5 7.1 .4-13.1 .5-.9 .4-7.7 .5 2.6 .4-14.6 .5 1.3 .4 9.2 .5-10.3 .4 14.6 .5-14.1 .4 27 .5-19.1 .4 9 .5-7.3 .4-6.7 .5-11.1 .4 20.9 .5 24.6 .4-6 .5 21.6 .4-9.8 .5 53.7 .4-37.6 .5 43.3 .4-28.5 .5 25.5 .4 5.9 .5 .2 .4-13.6 .5-30.2 .4-12.9 .5 29.2 .4-25.1 .5 9.5 .4-7.7 .5 9 .4 11.6 .5 5.6 .4-26.2 .5 26.4 .4-13.8 .5-3.6 .4-30.1 .5-1.1 .4-.9 .5 20.6 .4-21.5 .5 21.8 .4-13.7 .5 4.1 .4 7.5 .5-16.8 .4 8.1 .5 10.6 .4 29.5 .5-33.4 .4 14.5 .5 34.2 .4-19.8 .5-12.6 .4 14.5 .5 33.3 .4-7.2 .5-1.3 .4 5.6 .5-9.4 .4-37 .5 6.2 .4-41.7 .5-4.2 .4-5.2 .5 1.9 .4 8.9 .5-10 .4 3.6 .5 39.4 .4-14.8 .5 4.1 .4 7.9 .5-12.3 .4 15.4 .5-7.9 .4-19.8 .5 11 .4-1.3 .5 2.1 .4 9.1 .5-7.1 .4 32.1 .5 5.9 .4-3.7 .5-19.2 .4 15.3 .5 10.3 .4-5.4 .5-.8 .4-.4 .5 1.2 .4 6 .5-18.6 .4 10.2 .5 4.8 .4 .4 .5-4.9 .4-30.2 .5-17.1 .4 17 .5 .4 .4-2.6 .5 11.4 .4-36.7 .5 33.9 .4-42.1 .5 28.8 .4-6.6 .5-5.6 .4-11.2 .5-8.6 .4 11.5 .5 15.5 .4-15.2 .5-8.6 .4-6.8 .5 20.2 .4-9.4 .5-29.5 .4 13 .5-11.6 .4-6.9 .5-14.4 .4 2.6 .5-6.1 .4 4 .5 21.8 .4-29.2 .5 7.9 .4 2.9 .5-7.7 .4-2.8 .5 7.2 .4-10.5 .5-.2 .4 1.6 .5-1.8 .4 10.9 .5-6.5 .4 7.1 .5 9.8 .4-15.2 .5-.4 .4-3.9 .5 26.6 .4 2.4 .5-2.6 .4 7.4 .5-14.4 .4 11.5 .5 7.6 .4-3.1 .5 3.7 .4-13.8 .5 8 .4 6.5 .5 2.4 .4-2.4 .5 8.7 .4-1.9 .5-14.9 .4 14.3 .5-8.3 .4 8.6 .5-7.6 .4 4.3 .5-7 .4 16.1 .5 6.5 .4 2.7 .5 .3 .4-12.4 .5-3.5 .4 9 .5-24.2 .4 6.8 .5-14 .4 4.3 .5 5.6 .4-6.3 .5 .6 .4-5.6 .5 1.7 .4-2 .5 2.3 .4-11.5 .5 3.1 .4 2 .5-5.8 .4 1.8 .5 4.4 .4 13.1 .5-11.6 .4-1.5 .5-5.9 .4 4.4 .5-1.3 .4 36.4 .5-39.8 .4 17.8 .5 21.8 .4-22 .5 29 .4 12.2 .5-23.6 .4 38.9 .5-33.3 .4 3.9 .5 36.9 .4 2.4 .5 32.3 .4-33.3 .5-19.1 .4 53.9 .5-18.7 .4-8.9 .5 30 .4-4.6 .5-7.9 .4 22.3 .5-9 .4 .6 .5-48.1 .4 3.7 .5-18.6 .4-12.4 .5 20 .4-.5 .5-9.6 .4 9.9 .5-12.3 .4-.1 .5 .3 .4 7.2 .5 5.9 .4 13.7 .5-19.7 .4 25.7 .5-.5 .4-29 .5 26.9 .4-14.4 .5-19.1 .4 .5 .5-6.6 .4 3.6 .5-2.9 .4 22.6 .5-6 .4 16.2 .5-12.8 .4-5.2 .5-5 .4 24.8 .5-10.3 .4 22 .5-21.5 .4 28.5 .5-1.5 .4 11.4 .5-19.7 .4 23.5 .5-25.2 .4-10.8 .5 6.6 .4 16.1 .5 29.4 .4 7.3 .5-2.4 .4-15.2 .5 21.7 .4-1.3 .5-14.5 .4-18.9 .5-7.1 .4 11.2 .5-37.5 .4 40.2 .5-6.1 .4-14.2 .5-19.8 .4-4.1 .5 5.9 .4 17.1 .5 2.1 .4-9 .5-11.3 .4 6.7 .5 5.3 .4 20.7 .5 13.3 .4 11.8 .5 7.6 .4 11.5 .5 10.9 .4 9.8 .5 11.1 .4 6.6 .5 60.5 .4 46.2 .5 2.9 .4-4 .5-.1 .4-.5 .5-1.6 .4-9 .5 20.6 .4-12.4 .5-26.1 .4-11.9 .5 28.8 .4-39.1 .5-16.9 .4 9.6 .5 22.6 .4 10.8 .5-16.8 .4 25.9 .5 22 .4 15 .5-17.8 .4-16.2 .5 20.1 .4-20.8 .5-9.1 .4-7.5 .5-3.8 .4-23.4 .5-11.8 .4-8.3 .5-18.1 .4-17.8 .5-31.8 .4 8.7 .5 53 .4 37.8 .5-3.1 .4 33.6 .5-9 .4-17.7 .5 6.2 .4-30.7 .5-14.9 .4 6.9 .5 38.2 .4 7.8 .5 8.7 .4-40.9 .5 13.4 .4 5.3 .5 38.8 .4-16.5 .5 3.7 .4 9.2 .5-48.5 .4 37.2 .5-52 .4 15 .5-16 .4 1 .5 18.5 .4-40.1 .5 10.1 .4 .9 .5 5.2 .4 1.5 .5 20 .4-1.8 .5 12.8 .4-12.9 .5-.8 .4-26.3 .5 24.3 .4-28.4 .5 12.4 .4-35.6 .5-3 .4 11.8 .5-5.6 .4-17.1 .5 17.1 .4-17.2 .5 3.8 .4 33.5 .5-37 .4 43 .5-27 .4-7.4 .5 36.1 .4-34.6 .5 8.4 .4 7.9 .5-12.2 .4-35.3 .5-5.9 .4 20.4 .5 1.9 .4-10.7 .5 18.5 .4-28.7 .5 18.1 .4-18.5 .5 15.7 .4-9.2 .5 38.5 .4-13.4 .5 7.2 .4-12 .5 18.1 .4-45 .5 9 .4-4.9 .5-2.4 .4-31.5 .5 25.8 .4 13.5 .5 6.5 .4-34.5 .5 3 .4-10.1 .5-29.2 .4-6.3 .5 32.6 .4-5.2 .5-18.9 .4-10.2 .5-1.9 .4 7.8 .5 35.8 .4 2.9 .5 2.9 .4 21.7 .5 28.6 .4-17.2 .5 29.1 .4-17.2 .5 17.4 .4 3.7 .5-6.7 .4-10.7 .5 16.8 .4-17.2 .5-1.8 .4 4.8 .5-10.3 .4 7.8 .5 14.3 .4-19.7 .5-12.2 .4 15.1 .5-3.1 .4-4.4 .5 6.9 .4-37.9 .5 8.8 .4 25.3 .5-50.1 .4 18.2 .5 13.8 .4-48 .5 30.7 .4-15.7 .5-16.8 .4 33.8 .5-25.8 .4-1.8 .5-10.4 .4 6.7 .5 5.7 .4-28.7 .5 11.5 .4 17.8 .5-3 .4-2 .5-2.3 .4-29.2 .5 28 .4-29.9 .5 19.5 .4-27.3 .5 25 .4-12.8 .5 4.9 .4-8.3 .5-6.4 .4 20.7 .5 11.3 .4-20 .5 23 .4 .5 .5 51.7 .4-24.4 .5 18.7 .4 2.7 .5 3.3 .4-3 .5-3.1 .4 18.7 .5-8.9 .4 28.5 .5 39.5 .4 40.1 .5-28.5 .4-24 .5-32.9 .4-22.3 .5-10 .4-3.8 .5-12.3 .4-5.5 .5-7.7 .4-4.4 .5-9.7 .4-6 .5 17.9 .4-11.5 .5 9.3 .4-32 .5-25.7 .4-1.1 .5 27.7 .4-1.1 .5-14.5 .4 14.8 .5-45.4 .4 2.9 .5 8.4 .4-18 .5 10.6 .4 3.8 .5-26 .4 7.8 .5 19.6 .4-23 .5-5.8 .4 25 .5-12.9 .4 1.7 .5 32.2 .4-20.6 .5 34 .4-30.1 .5-16.5 .4 16.9 .5 13.3 .4 7.6 .5 9.7 .4-8.3 .5 1.6 .4-6 .5-25.8 .4-10.7 .5 21.5 .4 24.4 .5-14.1 .4-1.1 .5-7.7 .4 3.3 .5-2.2 .4-11.2 .5-12.7 .4 41.1 .5 .1 .4 7.9 .5 36.9 .4 9.1 .5-43 .4 17.4 .5 30.2 .4-10.5 .5-3.1 .4 3.8 .5-25.3 .4 6.9 .5-1.4 .4 16.2 .5 4.8 .4-3.3 .5 3.4 .4 9 .5-20 .4-18.8 .5 37.4 .4-20.4 .5-27.2 .4-5 .5 12.9 .4-18.4 .5-2.9 .4-13.4 .5 11.3 .4-43.8 .5 16.8 .4 7.5 .5 .4 .4-22.2 .5-31.3 .4 4.7 .5 1.9 .4 50.1 .5-11.3 .4 18.2 .5-13.1 .4 16.3 .5 16.2 .4 11.3 .5 5.1 .4 15.4 .5 11.3 .4 1.7 .5 2.5 .4 6.9 .5 5.1 .4-2.4 .5 5.5 .4 34.8 .5 46.9 .4 12.5 .5 17.8 .4 7.3 .5 14.7 .4 17.6 .5 12.8 .4 13.5 .5 19.6 .4 12.4 .5 11.7 .4 2.8 .5-42.1 .4 22 .5-22.5 .4 37.2 .5-22.7 .4 17.6 .5 35.1 .4-9.9 .5-3 .4-31.8 .5-41 .4-16.6 .5-1.8 .4-24.9 .5 5.1 .4 8.2 .5 13.4 .4 29.6 .5 18.5 .4 15.4 .5 11.6 .4-38.8 .5 32.3 .4-9.1 .5-24.7 .4-18.1 .5-11.8 .4 25.2 .5-11.4 .4 40 .5-54.1 .4 46.7 .5 10 .4 4.2 .5-18.2 .4-31.9 .5 19.9 .4-48.2 .5 9.3 .4 30.2 .5-43.3 .4 15.5 .5 22 .4 8.8 .5 11.7 .4-36.5 .5 29.4 .4 14.3 .5-20.4 .4-5.7 .5-3 .4-4.3 .5-20.9 .4-8.2 .5-17.2 .4-19.1 .5 102.3 .4 151.4 .5 151 .4-2.9 .5 1.8 .4 1.5 .5-140.1 .4-109.1 .5-130.6 .4-3.2 .5-5.8 .4-5.7 .5-4.6 .4-3.6 .5-8.2 .4-8.2 .5-2.1 .4-5.8 .5 16.8 .4 32.9 .5-17.2 .4 47.8 .5 .5 .4 9.3 .5 20.9 .4-40.2 .5-11 .4-20.3 .5-33 .4-8.2 .5-6 .4-6.2 .5-7.3 .4-9.3 .5-21.3 .4 7.7 .5-20.6 .4-7.6 .5 32.2 .4 14.1 .5-31.7 .4-2.7 .5 24.6 .4 3.4 .5-3.3 .4-40.7 .5-5.8 .4 14.1 .5-16.4 .4-16.2 .5 31.7 .4-20.5 .5 9.9 .4 44.8 .5-62 .4 4.3 .5-8.3 .4 10 .5 27.9 .4-11.5 .5 52.6 .4 13.6 .5-44.8 .4-4.3 .5 42 .4 3.7 .5-2.7 .4-12.8 .5 43.1 .4-13.9 .5-27.1 .4 44.5 .5-24.4 .4 11.1 .5 19.5 .4 5.4 .5 .4 .4 5.4 .5-29.7 .4-11.5 .5 4.5 .4 3.8 .5 2.9 .4-10.1 .5-10.5 .4 4.5 .5 7.8 .4 15.6 .5-8.1 .4-6.3 .5 20.4 .4-17.6 .5 13.5 .4 1.4 .5-21.8 .4-4.2 .5-21.8 .4 6.3 .5 29.4 .4-16.8 .5-15.1 .4-8.7 .5-13.4 .4 2.1 .5-6.1 .4 4.9 .5 3 .4-4.8 .5-4 .4 3.7 .5-4 .4-1.1 .5-.9 .4 12.8 .5-4.7 .4 6.9 .5-12.3 .4 4.6 .5 8.6 .4-4 .5 1.5 .4-3.3 .5-19.7 .4 4.6 .5-.8 .4 19.2 .5-5 .4-17.5 .5 4.3 .4 9.1 .5 4 .4-5.2 .5 1.1 .4-15.3 .5 6.2 .4 1.1 .5-16.6 .4-8.3 .5 31.1 .4-16.4 .5 20 .4-2 .5 7.1 .4-11.7 .5-32 .4 11.8 .5-48.2 .4 28.6 .5-2.5 .4-22.4 .5 29.7 .4-19.2 .5 18.3 .4-23.7 .5-10.9 .4 28.3 .5-28.7 .4 13.2 .5 30 .4 .4 .5-9.9 .4-12 .5 2.4 .4-14 .5 27.5 .4-21.4 .5 21.2 .4 1.8 .5-5.1 .4 7.2 .5 7.1 .4-5.7 .5-22.7 .4 12.1 .5 18.3 .4-23.9 .5 11.2 .4 15.8 .5 .2 .4 6.2 .5-12.8 .4 6.4 .5-11.8 .4-25.6 .5 28.8 .4-29.1 .5 9.4 .4 7.8 .5-24.6 .4 29.2 .5-43.6 .4 8.4 .5-5.8 .4 4.5 .5-4.1 .4 32.1 .5-12.1 .4-4.3 .5 21.1 .4-20.8 .5 5.5 .4 11.7 .5-16.7 .4 19.6 .5 6.2 .4-19.6 .5-6.5 .4-26.9 .5-35.7 .4 20.3 .5 22.6 .4-18.8 .5 16.6 .4 22.3 .5-38.6 .4-9.2 .5-19.3 .4 14 .5 19.8 .4 26 .5-.9 .4 .3 .5-23.3 .4-15.7 .5 14.4 .4 17.4 .5-22.9 .4-10.1 .5 6.6 .4-21.3 .5-12.9 .4 21.4 .5 20.9 .4-3 .5-12.6 .4 3.6 .5-36 .4 2.6 .5 26.5 .4-3.8 .5-12.4 .4 4.8 .5 15.5 .4-26.2 .5 23.1 .4 6.6 .5-38 .4 22.1 .5 17.8 .4-36.2 .5 31.4 .4 3.3 .5-53.2 .4 14.8 .5 54.7 .4-2.6 .5-34.8 .4 6.4 .5-24.3 .4 .5 .5 47.2 .4-60.7 .5-11 .4-11.3 .5 31.9 .4-31.3 .5 37.8 .4-6.5 .5-30.1 .4 20.4 .5-4.8 .4 17.4 .5 11.6 .4 16.4 .5-4.5 .4 9.1 .5-28.6 .4 7.5 .5-22.7 .4-.3 .5 24.6 .4 10 .5 11 .4-9.3 .5-20.6 .4-13.5 .5 38.8 .4 10.1 .5-6.9 .4-14.2 .5 19.5 .4-33.1 .5 27.7 .4-1.3 .5 21 .4-8.1 .5-6.3 .4-12.4 .5-18.8 .4 7.1 .5-10.4 .4 32.8 .5-28.5 .4 14.6 .5 14 .4-27.1 .5 31.3 .4-20.5 .5 39.3 .4 9.3 .5 2.9 .4-5.5 .5-30.6 .4 11.8 .5-23.2 .4 3.2 .5-10.9 .4 9.1 .5 12.4 .4 7.4 .5-16.2 .4-13.8 .5 .7 .4 25.7 .5-10.7 .4 10.6 .5-21.1 .4-1.4 .5 10.1 .4 18.3 .5-11.9 .4 12.4 .5-14.4 .4 11.7 .5-44.1 .4 4.6 .5-11.7 .4 13.1 .5-8.7 .4 3.1 .5 23 .4-32.5 .5 4.7 .4 8.6 .5-2.5 .4 3.9 .5-15.4 .4 16.2 .5-17.5 .4 16.3 .5-19.7 .4 29.2 .5 24.6 .4-21.2 .5 8.5 .4-21.6 .5 2.4 .4-13.1 .5 36.8 .4-7.1 .5 1.7 .4-8.5 .5 10.1 .4-3.7 .5 8.6 .4-18 .5 7.3 .4 22 .5-7.5 .4 25.5 .5-4.6 .4 2.6 .5-26.9 .4-.9 .5-9.9 .4 19.7 .5-12.3 .4-15.4 .5 31 .4-12 .5 1.2 .4-6.2 .5-10.3 .4 12.1 .5 14.3 .4-4 .5 8.4 .4-15.8 .5-6.4 .4-6.6 .5 21.6 .4-8.4 .5 8.1 .4 9.1 .5-13.3 .4-21.3 .5-3 .4 2 .5-13.3 .4 15.7 .5-24.3 .4 40.2 .5-19.2 .4 25.3 .5-20.9 .4-18 .5 1.8 .4-14.6 .5 38.1 .4-7.5 .5 15.9 .4-25.5 .5-2.2 .4-8.5 .5 1.1 .4-6.5 .5 19.4 .4-.5 .5-1 .4-11.5 .5-4.7 .4-3.4 .5 4.1 .4 9.8 .5 .6 .4-22.7 .5-.9 .4-.7 .5 17 .4 6.7 .5-17.3 .4 25.9 .5-5.6 .4-4.6 .5-23.8 .4 1.5 .5 2 .4-4.3 .5-3.7 .4 .7 .5-1.8 .4 7.2 .5 6.9 .4-9.8 .5 10.3 .4-.3 .5 6.9 .4-14.5 .5 .9 .4 14.2 .5 5.6 .4 8.5 .5 .5 .4 13.1 .5-13.8 .4-8.1 .5 11.2 .4-22.7 .5 10.5 .4 3.7 .5 7.6 .4-13.4 .5-.9 .4 22 .5-19.7 .4 25.5 .5-10.1 .4-12.1 .5 36.6 .4-5.8 .5 19 .4-46.3 .5 6.4 .4 38.6 .5-11 .4 6.2 .5-7.6 .4 15.5 .5-.8 .4-11.7 .5-8.2 .4 14 .5-19 .4 5.2 .5 15.3 .4 .9 .5-7.3 .4-9.6 .5 27.6 .4 4 .5 7.7 .4-21.6 .5-8.5 .4 7.7 .5 23.5 .4-25 .5-1.7 .4-3.7 .5 .8 .4-12.7 .5 4.5 .4 17.5 .5 14.7 .4 8.8 .5-9.5 .4 8.3 .5 6.9 .4-17.4 .5-22.8 .4 14.2 .5 26 .4-18.4 .5 15.1 .4-18.4 .5 4.3 .4-8.9 .5-12.6 .4 1.5 .5 31 .4-11.1 .5-28.7 .4 19.2 .5-.9 .4-8.3 .5-.9 .4 1.6 .5-14.7 .4-7.4 .5 29.5 .4-13.3 .5-2.5 .4 .9 .5-10.9 .4-2.8 .5-4.2 .4 6.5 .5 16.6 .4-25.1 .5 4.3 .4 12.5 .5 26.3 .4 .8 .5-31.7 .4-6.8 .5 1.3 .4 4.4 .5 23.6 .4 5 .5-17.1 .4-6.1 .5-9.9 .4 3.3 .5 16.5 .4-15.6 .5-4 .4 91.2 .5-14.2 .4 8.2 .5 8.9 .4-4.6 .5 10 .4 6.1 .5-17.1 .4 16.5 .5 6.7 .4-4.5 .5 1.5 .4-9.9 .5-4.4 .4 6.2 .5-2.3 .4-3.8 .5 1.5 .4 17 .5-9.1 .4 6.8 .5-8.6 .4-7.4 .5 1.1 .4 13.8 .5-.3 .4 11.2 .5 2.8 .4-1.1 .5-14.5 .4 1.8 .5 5.4 .4-1.9 .5-12.9 .4 6.4 .5 11.7 .4-11.6 .5 6 .4 3.8 .5-.8 .4-15.9 .5 8.3 .4-2.1 .5-17 .4-2.5 .5 1.9 .4 9.1 .5-2.8 .4 5.5 .5-2.2 .4 10.6 .5 .3 .4-3.7 .5-5.7 .4 .8 .5-10.9 .4 2.1 .5-14 .4 .3 .5 3.5 .4-7.3 .5 .9 .4 .1 .5 3.6 .4-4.9 .5 1.3 .4 1.8 .5 15.3 .4 5.3 .5 1.6 .4-7.4 .5 4 .4-10.5 .5-5.5 .4-11.4 .5-.4 .4 2.8 .5-10.3 .4 24.5 .5-18.7 .4 15.6 .5-9.3 .4 9.3 .5-13.6 .4-7.3 .5-2.9 .4-13.9 .5 2.1 .4 4.8 .5-3.2 .4-4.7 .5-18 .4 2.8 .5-2.5 .4 .9 .5-1.7 .4 15.4 .5 12.5 .4-8.4 .5-4.7 .4-.2 .5 9.1 .4 18.5 .5-12.3 .4 5.8 .5 6.4 .4-2.1 .5 .5 .4-1.5 .5 5.6 .4-11.6 .5-1.3 .4-2.3 .5 5.5 .4-6 .5-8.1 .4-2.3 .5 6.8 .4-2.1 .5-1.4 .4 3.6 .5-6.6 .4-2.5 .5 7.6 .4-6.9 .5 12 .4 1.2 .5 16.6 .4-.4 .5 5.8 .4-8.5 .5 9.2 .4-21.3 .5 3.4 .4 4.5 .5-7.6 .4 5.9 .5 10.7 .4-10.4 .5 10.5 .4 2.4 .5 17.2 .4 6.2 .5-16.1 .4 6.7 .5-14.8 .4 8.3 .5-12 .4 6.4 .5-7.7 .4 9.3 .5-11.9 .4 5.4 .5-.1 .4 12.3 .5-2.3 .4-1.1 .5-24.5 .4-1.6 .5 11.1 .4 6.5 .5-.4 .4-3.2 .5 13.6 .4 2.2 .5-1.5 .4-1.6 .5-8.1 .4-7.3 .5 3.5 .4-12.8 .5-3.5 .4-1 .5 10 .4 4.3 .5 2.2 .4 3.3 .5 1.8 .4 8.2 .5-9.8 .4-2.6 .5 2 .4-8.8 .5-9.2 .4-5.2 .5-.2 .4 5.7 .5 12.9 .4-8.3 .5 2.2 .4 5.2 .5 7 .4-8.7 .5 1.2 .4-4.5 .5 6.6 .4-3.4 .5-4.1 .4-6 .5 1.2 .4 13.9 .5 2.1 .4-4.5 .5 16.3 .4 1.9 .5-3.8 .4-4.5 .5-7.6 .4 12.1 .5-7.5 .4-17.8 .5 4 .4 5 .5-6.4 .4-8.8 .5 8.3 .4-9.4 .5-.4 .4 .8 .5 12.2 .4-.5 .5-5.6 .4 8.7 .5-.2 .4-5.1 .5-15.9 .4-1.8 .5 5.9 .4-6 .5-7.9 .4 .3 .5 6.4 .4 6.4 .5-9.4 .4-.8 .5 12.2 .4 12.6 .5-11.2 .4 .2 .5 2 .4 9.9 .5-1.2 .4 13 .5-2.6 .4-2 .5 1.1 .4-3.3 .5-.8 .4-4.2 .5-.2 .4 1.1 .5 3.7 .4-2.2 .5 1.3 .4-3 .5 7.5 .4-7.8 .5-3.8 .4 1.9 .5-.3 .4-8.7 .5 2.1 .4-4.5 .5 17.9 .4 3.4 .5-5.8 .4 19.6 .5 3.5 .4-5.2 .5-.4 .4-5.3 .5-4.6 .4 8.8 .5-6.8 .4 .7 .5 1 .4 1.7 .5 7.7 .4-.8 .5 2.3 .4 .3 .5-5.8 .4 1.8 .5-5.9 .4 .7 .5-1.5 .4-4.8 .5 .9 .4-2 .5 .1 .4-.8 .5 3.2 .4 3 .5-5.8 .4 6.5 .5 9.9 .4 1.1 .5-8.6 .4 1.9 .5 22.8 .4-11.5 .5 11.5 .4 16.1 .5-24.6 .4 22.1 .5-5.1 .4 29.1 .5-4.9 .4-8.4 .5 18.5 .4-2.8 .5 3.9 .4-4.4 .5 1.9 .4-.7 .5-6.9 .4-10.7 .5-3.8 .4-5.6 .5 7.3 .4-2.3 .5-7.7 .4-5.5 .5-5.4 .4 12.5 .5-9.9 .4-8.6 .5 1.8 .4-4.2 .5-2.6 .4 5.4 .5-2.6 .4 8.2 .5 15.5 .4-3.8 .5 1.6 .4-7.7 .5 14.5 .4 .7 .5 10.9 .4-3.7 .5 9.4 .4-11.1 .5-4.5 .4 1 .5-.6 .4 13.5 .5-2.1 .4 .5 .5-11.5 .4-7.4 .5-20.8 .4-14.3 .5-27.5 .4 3.7 .5-9.4 .4-14.5 .5 16 .4-4.7 .5-1.6 .4-11.1 .5 5 .4-8.4 .5-.3 .4 3.1 .5 8.4 .4-5.5 .5 5.8 .4 13.9 .5-4.3 .4 7.1 .5-7.8 .4 10.2 .5-.5 .4-2.7 .5-2 .4 6.3 .5-5.6 .4-.2 .5 2.9 .4-.5 .5 1.3 .4 .9 .5 19.4 .4-9.2 .5 21.8 .4-10.7 .5 21.7 .4 8.4 .5 3.4 .4 22.7 .5-12.4 .4 24.9 .5 3.4 .4-17.7 .5 14.4 .4-11.5 .5-9.4 .4 4.5 .5-18.3 .4 .1 .5 8.8 .4-2.5 .5-20.4 .4-1.6 .5 8.1 .4 8.8 .5 .7 .4 7.3 .5 6.3 .4-3.1 .5 6.8 .4-2.6 .5-.7 .4 2 .5-7.8 .4 1.5 .5-6.1 .4-5 .5-1.5 .4 3.4 .5-8.3 .4-4.2 .5 7.1 .4-3.5 .5 2.5 .4 8.4 .5-.8 .4 21.1 .5-5.5 .4 2 .5-2.6 .4 9.8 .5 5.8 .4-9 .5-12.3 .4-.4 .5-11.3 .4 14.8 .5-21.7 .4 5.6 .5-4.9 .4-3.8 .5-4.8 .4-6.4 .5-7.4 .4 .3 .5 21.2 .4 1.8 .5-20.7 .4 19.1 .5-5 .4-6.6 .5-3 .4-3.1 .5-16 .4-2.3 .5 1.1 .4-1 .5 2.2 .4-8.3 .5 2.7 .4-2.4 .5-10.7 .4-13.4 .5-16.7 .4-24.5 .5-8.2 .4-25.9 .5-23.4 .4 37.9 .5 11.9 .4 32.4 .5 27.9 .4 19.6 .5-10.2 .4 8.9 .5-15.8 .4 3.6 .5-2.6 .4-4.8 .5 14.7 .4-7 .5 3.8 .4 4.5 .5-2.2 .4 8.1 .5 5.5 .4-5.9 .5-1.2 .4-2.7 .5-5.2 .4-11.5 .5-.6 .4 4.2 .5-2.4 .4 .8 .5 7.8 .4 7.3 .5 .6 .4 3.5 .5-2.2 .4-9.2 .5 1.6 .4-9.6 .5 6 .4-15.2 .5 6.5 .4 3.3 .5-8.3 .4-9.9 .5 3 .4 5.4 .5-7.6 .4 2.2 .5 8.4 .4 1.3 .5-4.8 .4 19.3 .5-1.8 .4 1.6 .5 1.2 .4 0 .5-24.9 .4 .4 .5-6.9 .4 .9 .5-1.3 .4 3.7 .5 16.1 .4 24 .5-.8 .4-2.4 .5-13.3 .4 13.9 .5-17.8 .4-.7 .5-1.7 .4 7.4 .5 3.8 .4 2.1 .5-2.1 .4 5.7 .5 .7 .4 1.6 .5-6.9 .4-1 .5-3.2 .4-4 .5 3.1 .4-9.8 .5-.7 .4 10.3 .5-1.8 .4 2.8 .5-2.3 .4 6.6 .5 7.9 .4 2.5 .5-2.4 .4-4.1 .5-7.2 .4 6.3 .5-9.4 .4-1.6 .5 6.5 .4-1 .5-2.3 .4 .1 .5 6.2 .4 1.7 .5 1.6 .4-1.2 .5-1.9 .4-3.9 .5 3.7 .4-4.2 .5-1.4" fill="none" stroke="#FF1552" stroke-width="3.55" stroke-linejoin="round"/>
</g>
<line x1="1791.2" y1="1215.5" x2="1791.2" y2="33.6" stroke="#000" stroke-width="7.1" stroke-dasharray="7.1 11.71" stroke-dashoffset="-1.5"/>
</g>
<rect x="1660.0" y="150.0" width="247.8" height="208.6" fill="none" stroke="#000" stroke-width="4.4"/>
<g stroke="#000" stroke-width="2.9"><line x1="1660.0" y1="358.6" x2="1152.5" y2="813.8"/><line x1="1907.8" y1="358.6" x2="1746.0" y2="813.8"/></g>
<text transform="translate(1613.5 137.7) scale(0.971 1)" text-anchor="middle">Train</text>
<text transform="translate(1949.6 137.7) scale(0.971 1)" text-anchor="middle">Test</text>
<rect x="260.2" y="33.6" width="1982.0" height="1181.9" fill="none" stroke="#1c1c1c" stroke-width="3"/>
<g stroke="#1c1c1c" stroke-width="2.9"><line x1="350.2" y1="1215.5" x2="350.2" y2="1233.5"/><line x1="1250.8" y1="1215.5" x2="1250.8" y2="1233.5"/><line x1="2151.5" y1="1215.5" x2="2151.5" y2="1233.5"/><line x1="242.2" y1="1085.8" x2="260.2" y2="1085.8"/><line x1="242.2" y1="927.7" x2="260.2" y2="927.7"/><line x1="242.2" y1="769.6" x2="260.2" y2="769.6"/><line x1="242.2" y1="611.6" x2="260.2" y2="611.6"/><line x1="242.2" y1="453.5" x2="260.2" y2="453.5"/><line x1="242.2" y1="295.4" x2="260.2" y2="295.4"/><line x1="242.2" y1="137.3" x2="260.2" y2="137.3"/></g>
<text transform="translate(350.2 1294.7) scale(0.971 1)" text-anchor="middle">2015-07-19</text>
<text transform="translate(1250.8 1294.7) scale(0.971 1)" text-anchor="middle">2015-08-06</text>
<text transform="translate(2151.5 1294.7) scale(0.971 1)" text-anchor="middle">2015-08-24</text>
<text transform="translate(229.3 1111.2) scale(0.971 1)" text-anchor="end">0.0</text>
<text transform="translate(229.3 953.1) scale(0.971 1)" text-anchor="end">2.5</text>
<text transform="translate(229.3 795.0) scale(0.971 1)" text-anchor="end">5.0</text>
<text transform="translate(229.3 637.0) scale(0.971 1)" text-anchor="end">7.5</text>
<text transform="translate(229.3 478.9) scale(0.971 1)" text-anchor="end">10.0</text>
<text transform="translate(229.3 320.8) scale(0.971 1)" text-anchor="end">12.5</text>
<text transform="translate(229.3 162.7) scale(0.971 1)" text-anchor="end">15.0</text>
<text transform="translate(1250.8 1374.4) scale(0.971 1)" text-anchor="middle">Date</text>
<text transform="translate(76.5 624.5) rotate(-90) scale(0.971 1)" text-anchor="middle">Ship speed (kn)</text>
<rect x="1152.5" y="813.8" width="593.5" height="236.0" fill="#fff"/>
<g stroke="#eaeaea" stroke-width="3.4"><line x1="1152.5" y1="871" x2="1746.0" y2="871"/><line x1="1152.5" y1="1014.6" x2="1746.0" y2="1014.6"/></g>
<g clip-path="url(#ci)"><g filter="url(#soft)">
<path d="M1153 983l.3-1.9 .3 .1 .3 2 .3-1.6 .3 1.4 .3 .3 .3-.4 .3-1.8 .3-1.8 .3 .8 .3-.4 .3 1.4 .3 0 .3 .6 .3-1 .3 .7 .3-1.3 .3-.7 .3 1.1 .3-1.7 .3 1.7 .3 .2 .3 .8 .3-2.4 .3 .8 .3 3.1 .3-2.5 .3 1.5 .3 .9 .3-.1 .3 1.8 .3 .7 .3-1.8 .3-.4 .3 3.2 .3-1.3 .3-.3 .3 0 .3-.1 .3 2.4 .3-1.2 .3 .8 .3 1.1 .3-1.7 .3 1.4 .3-3.3 .3 2.3 .3-.2 .3 .5 .3-3.4 .3 1.5 .3 0 .3 0 .3-.7 .3-.8 .3 2 .3-.2 .3-.8 .3 .7 .3-1.9 .3-1.6 .3 1.9 .3-2.4 .3 2.1 .3-.7 .3-1.8 .3-.4 .3-.6 .3 .2 .3 2.5 .3-2.9 .3 2.1 .3-2.9 .3 .5 .3 .2 .3-.7 .3 1.9 .3-2.8 .3 .6 .3-.6 .3 0 .3 3 .3-.2 .3 1.5 .3 1.7 .3-1.1 .4 .9 .3 3.2 .3 2 .3-2.4 .3 2.5 .3 2.9 .3-.4 .3 2.4 .3-.5 .3 2.6 .3-2.1 .3 2.5 .3 2.4 .4-.5 .3 1.2 .3 1.1 .3 .9 .3 2.6 .3 1.6 .3-.8 .3 .5 .3 2.5 .3 .6 .3 1 .3 .4 .3 1.6 .3 .6 .3 0 .3-.4 .3 .1 .3 3.6 .3 .8 .3 .9 .3-1.4 .3 2.4 .3 1.5 .3-1.7 .3 .1 .3 1.3 .3 1.6 .3 2 .3 1.5 .3 1 .3 .5 .3 2.1 .3 .9 .3-.8 .3 2.7 .3 .2 .3-.6 .3 2.2 .3-.5 .3 1.8 .3 2.4 .3-1.8 .3 2.8 .3 .6 .3 .5 .3 .2 .3 2.6 .3 .2 .3 .1 .3 1.9 .3 1.9 .3-1.2 .3 3.4 .4-1.6 .3 2.3 .3 .5 .3 2.6 .3 1.1 .3 .3 .3 .2 .3 .1 .3 2.6 .3-.2 .3 1.2 .3 1.2 .3-1.1 .3 1.6 .3 2.8 .3-1.4 .3 2.7 .3-1.6 .3 .3 .3 2.6 .2 .1 .3 1.9 .3 1.4 .3-1.7 .3 2.5 .3 .4 .3 2.7 .3 .6 .3 .9 .3 .3 .3-.5 .3 1.7 .3 .6 .3 .5 .3 1 .3 2.8 .3 2.4 .3-.8 .3 2 .3 .8 .4 2.3 .3 1.6 .3 .5 .3 3.5 .3 .5 .3 3.1 .3 .2 .3 22 .3 21.8 .3 18 .3 21.6 .3 23 .3 19.1 .3-21.3 .3-21.6 .3-18.5 .3-22.7 .3-18.9 .3-22.2 .3-1.9 .3 2.1 .3-1 .3-1.3 .3-1.2 .3-.2 .3 0 .3-3.3 .3-.6 .3 1.1 .3-1.9 .3 1.3 .3-1.2 .3-1.8 .3-2 .3 .9 .3-.7 .3-.8 .3 0 .3-1.7 .3 .7 .3-1.7 .3-2.3 .3 1.7 .3-3 .3 1.9 .3-.6 .3-2.8 .3-1.1 .3 1.1 .3-1.5 .3-.9 .3 .7 .3-2 .3-1.4 .3 .9 .3 .5 .3-.3 .3-3.6 .3 1.6 .3-2.1 .3 1.7 .3-2.6 .3-1.7 .4 .2 .3 .1 .3-1.9 .3 1.5 .3-2.2 .3 .9 .3-2.4 .3 .2 .3 0 .3-2.2 .3-.3 .3 1.3 .3-2.2 .3-.8 .3 .3 .3-.3 .3-.9 .3-.4 .3 .8 .3-.1 .3-.1 .3-.3 .3-1 .3-.2 .3-1.3 .3-1.2 .3 2.6 .3-2 .3-.5 .3 .5 .3 .6 .3 0 .3-2.7 .3 2.1 .3 .3 .3-.1 .3-.3 .3-1.5 .3 .9 .3-1.3 .2 .7 .3 .3 .3-2.4 .3-1.1 .3 2 .3 .4 .3-.3 .3-1.8 .3-.3 .3-1.3 .3 2.3 .3-2.2 .3-.8 .3-.3 .3 2.7 .3-2 .3 1.1 .3-2.7 .3 1.2 .3 .7 .3-.1 .3-2.3 .3 .8 .3 .4 .3 .2 .3-3.6 .3 1.1 .3 .3 .3-1.7 .3-.1 .3-2.4 .3-.1 .3-2.4 .3 2.1 .3-1.6 .3-2 .3 1.9 .3-3.3 .3-1.3 .3 1.7 .3-3 .3 1.3 .3-2.6 .3-1.1 .3 1.7 .3-1.1 .3-.6 .3-.6 .3-.7 .3-2.7 .3 .1 .3-.2 .3 .3 .3-1.6 .3-1.3 .3 .4 .3-.6 .3-2.9 .3-1 .3-1.4 .3 2.3 .3-3 .3 .5 .3-1.1 .3-.5 .3-.1 .3-2.1 .3-2.9 .3-.2 .3-1.9 .3-.5 .3 .2 .3-1.4 .3-1.2 .3-.3 .3-.7 .3-3.7 .2 .5 .3-1.3 .3-3.3 .3 2.2 .3-3.2 .3-.1 .3-2.7 .3-.4 .3-2.2 .3 1.9 .3-4.4 .3-1 .3 1.2 .3-1.9 .3-1.7 .3 1.1 .3-1.9 .3-1.9 .3-.1 .3-.3 .3-1.3 .3-2.8 .3 .4 .3-3 .3-.5 .3 1.1 .3-1.9 .2-2.2 .3-.5 .3-1.5 .3 0 .3-1.7 .3-1.3 .3-1.2 .3 .6 .3-1.2 .3-3.1 .3-.5 .3 .8 .3-1.7 .3-1.7 .3 .4 .3-1.4 .3 1.4 .3 .7 .3-1 .3-.1 .3 .2 .3 .6 .3-1.3 .3 2.2 .3-2.6 .3 2.6 .3-.8 .2-.9 .3 0 .3 .1 .3-.3 .3 3 .3-2.4 .3-.7 .3 2.1 .3 1.2 .3-2.4 .3-.1 .3 1.3 .3-.8 .3 .8 .3-.3 .3 1.2 .3-2.6 .3-.4 .3 .8 .3-.9 .3 .7 .3-1.9 .3 .3 .3-.8 .3-.1 .3-.8 .3-1.5 .3-.6 .3 .6 .3 1.8 .3-2.2 .3-.4 .3-.6 .3 .1 .3-1.1 .3-.2 .3-.5 .3 .5 .3-.6 .3 .1 .3 .9 .3-2.4 .2 .6 .3 1 .3-1.2 .3 .1 .3-.4 .3-2.5 .3 1.2 .3-1.3 .3 .3 .3-1.2 .3 2.5 .3 .8 .3 0 .3-1.3 .3 2 .3-.2 .3-.4 .3 .9 .3 .1 .3-2.4 .4 2.3 .3 .4 .3-.8 .3 1.8 .3 0 .3-2 .3 1.3 .3-1.1 .3 1.5 .3-.7 .3-.2 .3 1.7 .3 1 .3-1.9 .3 2.7 .3-2.8 .3 2.2 .3-2 .3 2.1 .3-1.4 .3 1.2 .3-1.5 .3-.6 .3 2.1 .3-3.1 .3 .3 .3 0 .3 1.4 .3 .7 .3-1.9 .3 1.2 .3-.1 .3-2.3 .3 2.3 .3-2.5 .3-.6 .3 1.3 .3-.7 .3-.2 .3 .5 .3-2.5 .3 1.8 .3-1.9 .3 2.5 .3-2 .3-1.2 .3 .8 .3-.7 .3-1.5 .3 2.2 .3-1.5 .3 .2 .3 .8 .3 .5 .3 .7 .3-2.1 .3 1.2 .3 .2 .3 .4 .3 .7 .3 .3 .3-.1 .3 0 .3 0 .3-1.1 .3 .6 .3-.3 .3 1.9 .3 .3 .3-1.1 .3 .8 .3 1.2 .3-1.6 .3 1.6 .3 .1 .3 0 .3-.4 .3 2.5 .3-1.2 .3 0 .3-1.3 .3 .1 .3 1.7 .3-.5 .3 1.6 .3 .3 .3-2.1 .3 1.3 .3 0 .3 1.4 .3-.1 .3 .6 .3-2.9 .3 .8 .3 .2 .3-2.7 .3-1.1 .3 .7 .3-1.4 .3-1.3 .3 2.1 .3-1.1 .3-.9 .3 0 .3-1.2 .3-1.7 .3 .5 .3-.1 .3-.7 .3-.9 .3-1 .3-1.1 .3 .7 .3-1.4 .3-1 .3 .6 .3 .8 .3-3.4 .3 .9 .3-1.3 .3-.4 .3 1.3 .3-1.6 .3-.6 .3 1.4 .2-.3 .3-.5 .3-2 .3 .1 .3 1.2 .3-2 .3-.2 .3 .6 .3 1.8 .3-1 .3 .2 .3-.7 .3-2.7 .3 1.3 .3 .2 .3 .6 .3-3.2 .3 .1 .3-.4 .3 .8 .3-.5 .3-.4 .3 1.5 .3 .3 .3-.2 .3-3.2 .3 .1 .2 .7 .3 1 .3-.3 .3 .1 .3-2.7 .3 1.3 .3-2 .3 2 .3 .3 .3-2 .3 0 .3-1.3 .3 2.6 .3-1.8 .3-.7 .3 .1 .3-1 .3 2.8 .3-.5 .3-1.6 .3-.7 .3 0 .3 1.4 .3-3.4 .3 .4 .3 1.4 .3-1.6 .2 .5 .3-1.7 .3 .9 .3 1.6 .3-1.1 .3-.6 .3 .7 .3-2.6 .3 1.6 .3 .7 .3-2.3 .3-1.5 .3 1.8 .3-.1 .3-2 .3 .4 .3 1.4 .3-.8 .3 1.5 .3-1.7 .3-.8 .3-.2 .3 .4 .3 .8 .3-.2 .3-1.3 .3-.3 .2 .6 .3-1.6 .3 .9 .3-.7 .3-1.2 .3 2.2 .3-2.2 .3 .6 .3 .9 .3 .8 .3-.9 .3 1 .3-3.4 .3 1.8 .3 .3 .3-.3 .3 .7 .3-3.4 .3-.1 .3 2.8 .3-.4 .3-3 .3 1 .3 1.2 .3-1.2 .3-2.3 .3 .4 .3 1.9 .3-2.6 .3 .1 .4 1.6 .3-2.5 .3 1.2 .3-1.8 .3-.3 .3 1.1 .3 .6 .3-1.7 .3-.8 .3 1.4 .3-.3 .3-2.7 .3 2 .3-.8 .3 1.4 .3-1.6 .3-.3 .3-2 .3 1.3 .3-1.7 .3 .2 .3 1 .3 1.1 .3 .2 .3-.6 .3-1.4 .3-.4 .3 .7 .3-1.4 .3-1.3 .3 2.4 .3 .5 .3-.4 .4-1 .3 .3 .3-2.2 .3-.1 .3 2.1 .3-1.4 .3-1.2 .3 1.3 .3 .1 .3 .4 .3-2.8 .3 .4 .3 .6 .3 1 .3 .4 .3-3.3 .3 1 .3-.2 .3 1.6 .3-1.1 .3-1.4 .3 .7 .3-1.5 .3 2.2 .3-1.8 .3 .4 .3 .6 .3-1.2 .3-1.7 .3 .8 .3-1.4 .3 1.3 .3 1.8 .4-1 .3 .6 .3-3.1 .3 1.7 .3 .2 .3-1.4 .3 1.2 .3-2.8 .3 2.7 .3 0 .3-2.9 .3-.6 .3 2.6 .3-1.2 .3 1.2 .3-1.7 .3-.7 .3-.7 .3 1.2 .3-1.3 .3 2.1 .3-1 .3-.8 .3 .8 .3-.4 .3-1.7 .3 .6 .3-.8 .3-1.5 .3 0 .3 .4 .3-1 .3 2.8 .4-1.5 .3-1.1 .3-.7 .3 1.9 .3-1.1 .3 1.4 .3-1 .3-2.1 .3 2.9 .3-.4 .3-2.1 .3 1.4 .3-.8 .3-2 .3 .3 .3 .1 .3 .5 .3-.2 .3 .2 .3-2 .3 1 .3-.9 .3 .8 .3 2 .3-3.2 .3-.4 .3 1.2 .3-.1 .3-1.2 .3 2.6 .3-.3 .3 0 .3-.7 .3-.6 .3 .1 .3-1.5 .3-.6 .3 3.2 .3-.3 .3-2.3 .3 .8 .3-1.5 .3 2.4 .3 .2 .3 .2 .3-3.3 .3 3.1 .3-3.2 .3 2.2 .3 .7 .3-2.9 .3 1.4 .3 .6 .3-.1 .3 0 .3-.6 .3-.8 .3 .4 .3 .9 .3 .1 .3-.1 .3 .9 .3-2 .3 .4 .3 .4 .3-.3 .3 1.7 .3-2.3 .3 3.4 .3-2.6 .2 1.9 .3 .5 .3-1.5 .3-.7 .3 3.5 .3-.1 .3-1.3 .3-.8 .3 1 .3 .6 .3-1.6 .3 1.9 .3 .5 .3-1.1 .3-.1 .3 0 .3-.5 .3 .4 .3-1.2 .3 .6 .3 1.7 .3-.8 .3-.9 .3-1.2 .3 .6 .3 1.2 .3-1 .3 .9 .3-.4 .3-.8 .4 .5 .3-.8 .3-.7 .3 2.2 .3-1 .3-1.4 .3-1.4 .3 1.4 .3-.6 .3 1.8 .3 .2 .3-1 .3-2.5 .3 2.1 .3-1.8 .3 1.1 .3 0 .3-1.8 .3 3.3 .3-.4 .3-1.3 .3 .5 .3-.6 .3 1.8 .3 .6 .3-1.7 .3 1.2 .3-2.3 .3 .2 .3 2.9 .3-2.6 .3 2.1 .3 .1 .3-2.2 .3 2.8 .3-.9 .3-.1 .3 .4 .3-1.6 .3 1.2 .3-1.5 .3 .3 .3-1.6 .4-.5 .3-.7 .3-1 .3 2 .3-1.5 .3 .8 .3-2.1 .3 1.2 .3-.5 .3-.1 .3 1.4 .3-2.4 .3 1.8 .3-2 .3 .5 .3 3.2 .3-3.3 .3 2.9 .3 .8 .3-.9 .2 1.1 .3-2.8 .3 2.1 .3-.2 .3-.3 .3-1.3 .3 0 .3 2.8 .3-2.1 .3 1.9 .3-1.7 .3 1.9 .3-1.9 .3 2.2 .3 .1 .3-1.6 .3 2.7 .3-2.9 .3 1.1 .3 .4 .3-1.5 .3 1.9 .3-1.5 .3 1.9 .3 .6 .3-.1 .3-2.9 .2 1.3 .3 .8 .3-2.3 .3-.1 .3 2.7 .3-.2 .3-1.8 .3 1.9 .3 .3 .3-1.9 .3 1 .3 .7 .3-2.4 .3 1.6 .3 1.5 .3 0 .3 0 .3-.7 .3 .4 .3-2.1 .3-.3 .3 1.6 .3-2 .3 0 .3 1.2 .3-.8 .3 1.7 .2-2.8 .3 .6 .3 1.8 .3-2.1 .3 1.1 .3-.6 .3 1 .3-2.1 .3 .8 .3-.5 .3 .9 .3 .5 .3-.7 .3-.3 .3 .3 .3-1.3 .3-.8 .3-.8 .3 .5 .3-.4 .3 .3 .3 .7 .3-1.5 .3-1.1 .3 1.3 .3-1.5 .3 .5 .2-.3 .3-.4 .3-1.6 .3-.3 .3 1.2 .3-.9 .3 .1 .3 .3 .3-1.7 .3-.2 .3 .6 .3-1.6 .3 .5 .3-.6 .3 .7 .3-1.4 .3-.4 .3 .5 .3 .5 .3-.6 .3-.7 .3-1 .3 .6 .3-1.2 .3 .9 .3-1.1 .3 1.2 .2 .2 .3-1.4 .3 1.2 .3-1.1 .3-.6 .3 0 .3 .4 .3-.3 .3 .1 .3-.1 .3-2.1 .3 1.5 .3-.2 .3-1.4 .3 .5 .3-.6 .3-.3 .3 .2 .3 1.2 .3-1.6 .3-.9 .3 1.8 .3-1.5 .3-.6 .3 .5 .3-.1 .3 .8 .2-1.2 .3 1.9 .3-.5 .3 .5 .3-.2 .3-.1 .3 .1 .3-1.6 .3 1.2 .3-1.1 .3 1.2 .3-2.3 .3 1.4 .3-.5 .3 1.2 .3-1.4 .3 1.5 .3-.8 .3 1.8 .3-.9 .3-.2 .3 1.4 .3-.3 .3 .2 .3 .2 .3-.1 .3 .6 .3 .3 .3 .1 .3-1.5 .3 1.7 .3 1 .3-.5 .3-.3 .3-1 .3 1 .3-.2 .3-.6 .3 .3 .3-.1 .3-.6 .3 1.1 .3 .8 .3-.5 .3 .8 .3 0 .3-.7 .3-1.1 .3-.4 .3 1.4 .3-1.3 .3 1.4 .3 .5 .3-1 .3-.8 .3-.4 .3 1.6 .3-1.6 .3-.5 .3 .2 .3 0 .3-.9 .3 .2 .3-1.5 .3-.2 .3 .2 .3 .3 .3-.5 .3-.8 .3-.2 .3-1 .3 1.3 .3 .1 .3-1.2 .3 .7 .3-1.2 .3 .1 .3 .3 .3-.7 .3-.2 .3 1.8 .3-.8 .3 .9 .3-.3 .3-.9 .3-.6 .3 .2 .2 .6 .3 .4 .3-.9 .3 .1 .3-.3 .3 .3 .3 0 .3 .3 .3-1.1 .3 1.8 .3 0 .3-.4 .3 .4 .3-.6 .3 .6 .3 1.7 .3 .8 .3 .6 .3 .9 .3-1 .3 .8 .3 1.7 .3-.3 .3 .9 .3 .6 .3 1.7 .3-.7 .3 .1 .3 3 .3-.1 .3 1.5 .3-.9 .3 .1 .3 1.6 .3 .8 .3 .1 .3 .1 .3 2.5 .3 .6 .3-1.3 .3 1.9 .3 .9 .3-.3 .3-.5 .3 .2 .3 1.1 .3-.2 .3 2.7 .3-.2 .3 .5 .3 1.2 .3-.9 .3 .1 .3 1.3 .3-.3 .3 .9 .3 1.6 .3 .6 .3-1.2 .3 .4 .3 .7 .3 0 .3-.3 .3 .6 .3 1.2 .3 .5 .3 1.5 .3-1.6 .3 .5 .3 .1 .3 1 .3-.1 .3 1.6 .3-.1 .3 1.6 .3-1.4 .3 .8 .3 .2 .3 1 .3-1 .3-.1 .3 2 .3-1 .3 1.3 .3 .4 .3-.1 .3 .5 .3-.6 .3 1.7 .3-1.2 .3 2 .3-1.2 .3 1 .3 .1 .3-.3 .3 0 .3 1.1 .3 1.5 .3-1 .3 1 .3 .6 .3-1.2 .3 1 .3-.8 .3 2.2 .3 0 .3-1.1 .3 2 .3-.1 .3 0 .3 .3 .3 .2 .3 1 .3-.4 .3-.2 .3 .2 .3-.5 .3 2.1 .3-1.4 .3-.1 .3 .9 .3-.2 .3 1.6 .3-1.6 .3 1.7 .3-.1 .3-1.3 .2 .8 .3 1.4 .3-.4 .3-.1 .3 .6 .3 .9 .3 .1 .3-1.3 .3-.2 .3 1.4 .3-.3 .3 1 .3 .2 .3-.8 .3-1.3 .3 .6 .3 1.3 .3 .1 .3-2.1 .3-.3 .3 2.2 .3-2.2 .3 1.5 .3 .2 .3-.4 .3-.9 .3 .1 .2-.8 .3-.4 .3-.1 .3 .1 .3 1.9 .3-2.1 .3 1.8 .3-1.6 .3 .9 .3-.1 .3-1.2 .3-.5 .3 .3 .3 .9 .3-.2 .3-.4 .3 .7 .3 .5 .3 1.4 .3-1 .3 .8 .3-1.5 .3 2.4 .3-.7 .3-.3 .3 1.6 .3-1.6 .2 0 .3 2.2 .3 .3 .3-1.3 .3 .3 .3 1.1 .3-.7 .3 .8 .3-.6 .3 1.9 .3-1.3 .3 .9 .3 1 .3-.3 .3 .2 .3-1 .3-.3 .3 1.2 .3 0 .3 .5 .3-.5 .3 .2 .3 .1 .3 .8 .3 0 .3-2 .3 2.2 .2-1.3 .3-.5 .3-.2 .3 .6 .3 .4 .3 0 .3 .5 .3 .7 .3 .1 .3-1.7 .3-.2 .3 1.6 .3 .1 .3-.5 .3-.5 .3 .3 .3 1.3 .3-1.1 .3-.1 .3 .6 .3 .6 .3-1.3 .3 .5 .3 .9 .3-.4 .3-1.3 .3 1.2 .2-.3 .3-.1 .3 .3 .3-1.1 .3 1.5 .3-1.7 .3 .6 .3 .6 .3-.8 .3 .8 .3-1 .3 1.2 .3 1.1 .3-1.4 .3 1.4 .3-.8 .3 .1 .3-1.5 .3 .1 .3 .9 .3 .4 .3-1.7 .3-.1 .3 2.2 .3-.5 .3 .1 .3-2 .2 .3 .3 1.1 .3 .7 .3-1.7 .3 1.3 .3-.1 .3-.4 .3 0 .3-.3 .3 .2 .3 .1 .3-.8 .3 .7 .3 0 .3-1.4 .3-.2 .3 1.5 .3-.5 .3-1.6 .3-.3 .3 1.4 .3-1.9 .3-.7 .3 0 .3-.2 .3 1.8 .3-.4 .2-1.5 .3 .1 .3 .7 .3-2.4 .3 .2 .3-.2 .3 1.1 .3-.5 .3-.1 .3-.3 .3-2.2 .3 .6 .3-.5 .3-.2 .3 1.6 .3-1.7 .3-.2 .3 .9 .3-1.1 .3 1.3 .3 0 .3 1 .3-1.2 .3-.8 .3 1.2 .3 1 .3-.4 .2 .3 .3-.6 .3-.3 .3 .4 .3 .5 .3 0 .3-.6 .3 1.1 .3-.5 .3 1 .3 .1 .3-.9 .3-.3 .3 .6 .3-.3 .3 .6 .3-.5 .3-.3 .3-.3 .3 .4 .3-.3 .3 .8 .3 1 .3-1.3 .3 2 .3-1.1 .3 .8 .2 .6 .3-.4 .3-.4 .3-1 .3 .9 .3 .2 .3 .4 .3 .6 .3-1.4 .3 .4 .3 1.2 .3-.3 .3-1.5 .3 1 .3 .3 .3 .9 .3-.8 .3-.3 .3 1 .3-.1 .3 .2 .3-.9 .3 .2 .3-.2 .3-.5 .3 .2 .3-.8 .3 1.7 .3-.1 .3-1.2 .3-.6 .3 1.4 .3-.9 .3-.2 .3-.3 .3 .7 .3-.7 .3 .7 .3 1.2 .3-.1 .4 .1 .3-.1 .3-.9 .3-.1 .3 1.3 .3-1.2 .3 .4 .3-1.4 .3 1.3 .3-1.3 .3 1.6 .3-.3 .3-.1 .3 .1 .3-.5 .3 0 .3-.6 .3 1.1 .3 .8 .3-1.2 .3 .8 .3-.6 .3 0 .3 .8 .3-1.1 .3-.2 .3 1 .3-.9 .3 .1 .3 0 .3 0 .3-.2 .3 .8 .3 .6 .3 0 .3 .3 .3 0 .3-.6 .3-1.1 .3 1 .2-.3 .3 0 .3-.9 .3 .6 .3-.1 .3 .1 .3 .7 .3-.8 .3-.1 .3 .1 .3 .7 .3-1.6 .3 .4 .3 1.1 .3-1.2 .3 .5 .3 .2 .3 0 .3 .3 .3-.6 .3-.1 .3-.4 .3-.2 .3-.7 .3 .1 .3 .2 .3-.5 .3 2.1 .3-.5 .3-.3 .4-.4 .3-1.2 .3 .3 .3 1.2 .3 .1 .3-.7 .3 .8 .3-1.9 .3 1 .3-.9 .3 1.3 .3-.4 .3-.4 .3-.9 .3-.1 .3 .6 .3 .3 .3-.7 .3 .3 .3 1.5 .3-.3 .3 .6 .3-.5 .3-1.6 .3 .3 .3 .3 .3 .3 .3 1.2 .3-.9 .3 1.4 .3-.7 .3 .3 .3 .1 .4-1.4 .3 1.7 .3 .4 .3-1.3 .3 .9 .3 .6 .3-.1 .3-.9 .3-.1 .3 .8 .3-1.6 .3 .5 .3 0 .3 .6 .3-.9 .3 2.1 .3-.4 .3-1.7 .3 .7 .3-.1 .3 .8 .3-.8 .3-.1 .3 .1 .3 .9 .3-1.9 .3 .7 .3-.3 .3 1.1 .3 .4 .3-1.3 .3 .1 .3 .8 .4-.4 .3 .4 .3-1.3 .3-.7 .3 1.1 .3-.9 .3 1.6 .3 .2 .3-2 .3 .5 .3-1.2 .3 2.2 .3-.5 .3-.7 .3 .5 .3-.3 .3-.2 .3 .7 .3-.3 .3-1 .3-.9 .3-.4 .3 .7 .3 .3 .3-.8 .3-.3 .3 .8 .3-1.1 .3-.3 .3 1.5 .3-2.3 .3 .3 .3 .6 .4-1.1 .3 1.4 .3-1.7 .3-.3 .3 .3 .3-.2 .3-1 .3 .9 .3-.9 .3 .8 .3 .6 .3-2.2 .3 .2 .3 1 .3-1.5 .3 .3 .3-.3 .3-.3 .3 1.3 .3-1.6 .3-.6 .3 .5 .3-1.1 .3 1.2 .3 .2 .3-2 .3 .5 .3-.7 .3-.2 .3-.2 .3 .2 .3-.1 .3 .1 .3-.6 .3 .4 .3-.1 .3 1.1 .3 0 .3-.1 .3-2.5 .3 .2 .3 .9 .3 .7 .3 0 .3-.4 .3-2 .3-.2 .3 .2 .3 1.3 .3-.3 .3-.5 .3-.5 .3-.7 .3-.6 .3 1 .3-.1 .3-.1 .3-1.2 .3 1.8 .3-1.8 .3 1.7 .3-.7 .3 .8 .3 .6 .3-.3 .3 .1 .3 0 .3-.6 .3-.2 .3 1.1 .2-1.6 .3 2 .3-1.7 .3 1 .3 .9 .3-1.2 .3 1.3 .3-.6 .3-.9 .3 .7 .3 1.1 .3-1.7 .3 .8 .3 .7 .3-.4 .3 2 .4-.4 .3 2.9 .3 0 .4 135.6 .3-2.3 .3-.7 .3-1.1 .2-2.4 .3-2.5 .3-1.6 .3-1.2 .3-.6 .3-.1 .3 .6 .3-.5 .3 .5 .3 .2 .3 .2 .3 .4 .3-1.4 .3 1.8 .3-1.6 .3 .8 .3 .9 .2 0 .3-1.1 .3 .1 .3 1.6 .3-.5 .3-1.1 .3 .8 .3-.1 .3 1.1 .3 .2 .3-1.2 .3 .5 .3-1 .3 1.6 .3-.9 .3 .5 .3-.4 .3 .7 .3 1.1 .3 .2 .3-.6 .3-.5 .3 2.2 .3-1.7 .3-.1 .3 1.8 .3-1 .2-.5 .3 .8 .3 1.4 .3 .6 .3-.3 .3 .4 .3 .3 .3-.6 .3 .1 .3-1.3 .3 .8 .3 1.1 .3-1 .3 .6 .3-1.1 .3 1 .3 1 .3-1.5 .3 1 .3-2 .3-.3 .3 .1 .3 .3 .3 .5 .3-.6 .3 .6 .3-1.9 .2 .6 .3 .1 .3 1.1 .3-2.3 .3 1 .3-.6 .3 .5 .3-.4 .3-1 .3-.1 .3 1.3 .3-1.5 .3 .9 .3-.7 .3 1.1 .3-1.5 .3 1.3 .3-.6 .3 .1 .3 .6 .3-1.3 .3 2.1 .3-.2 .3-1 .3 .3 .3 1.1 .3-1.8 .3 .8 .3 0 .3-.5 .3 .8 .3-.9 .3 1.8 .3-.6 .3-1.3 .3 1.5 .3 .4 .3-.5 .3-.7 .3 .9 .3-1.4 .3 .7 .3 0 .3 1.6 .3-1.9 .3 .3 .3 .2 .3 1.7 .3-.3 .3 0 .3-.9 .3 1.3 .3-1.3 .3 .1" fill="none" stroke="#FF8577" stroke-width="2.80" stroke-linejoin="round"/>
<path d="M1153 1055l.3-1.4 .3 1.7 .3-1.2 .3-1.7 .3 .1 .3-.8 .3 .9 .3-2 .3 .6 .3-.4 .3-1.6 .3-.7 .3 .1 .3-.8 .3 0 .3-1.2 .3 .7 .3-1.5 .3-1.2 .3 1.1 .3-.2 .3-1 .3-.9 .3 .4 .3-.4 .3-2.8 .3 .7 .3-1.7 .3 .3 .3-.7 .3 .1 .3 0 .3 0 .3-2 .3-1.2 .3 2.1 .3-1.1 .3-1 .3-1.7 .3 .1 .3 1.3 .3-1.4 .3 .6 .3-.5 .3-.4 .3-.2 .3-1.7 .3-.3 .3 .2 .3 .6 .3-.3 .3-.4 .3-.7 .3-.6 .3-1 .3 .9 .3-.3 .3-.7 .3 .3 .3 .3 .3-.4 .3-2.4 .3 .1 .2 .5 .3-.1 .3-1.3 .3 1.3 .3-1.5 .3 .4 .3-2.1 .3 .3 .3-1 .3 1.6 .3-1 .3 .8 .3-1.2 .3-1 .3-.2 .3-.3 .3-.8 .3-.5 .3 1.1 .3-1.2 .3 .1 .3 .3 .3-1.4 .3 .4 .3 .4 .3 1 .3 1.9 .2-.5 .3 1.8 .3 .3 .3 2.3 .3-.9 .3 1.7 .3-1.2 .3 .5 .3-.4 .3 .7 .3-.2 .3-.2 .3-1.5 .3 .3 .3 1.6 .3-.9 .3 1.5 .2-.9 .3 .5 .3-.2 .3 .6 .3-.8 .3 .8 .3-1.3 .3-.4 .3-.4 .3 .4 .3 1.6 .3-.6 .3-1.5 .3 .8 .3 .3 .3 .2 .3-.4 .3-.8 .3 .6 .3 1.6 .3-.3 .3 .2 .3-1.3 .3 1 .3-1.1 .3 .3 .3 1.7 .3-1.9 .3 .2 .3-.1 .3 1.7 .3-.4 .3-.3 .3 .3 .3-.3 .3 1.3 .3-.1 .3-1 .3 0 .3 1 .3 0 .3 1.1 .3-.2 .3 .5 .3-.2 .3-.6 .3 1.4 .3 .8 .3-.7 .3 .4 .3-1 .3-.1 .3 1.1 .3 .5 .3 .6 .3-.5 .3 .4 .3-1 .3 0 .3 .4 .4 .7 .3-.1 .3 0 .3 .6 .3 .2 .3 1.4 .3-.4 .3 1.6 .3 0 .3-1.2 .3 1.1 .3 2.6 .3-.1 .3 1 .3-1.1 .3 .7 .3 .8 .3 1.9 .3 1 .3 1.7 .3 .5 .3 1.1 .3 2.4 .3 2.7 .3 .7 .3 1.2 .3 .7 .3 4.4 .3 3.8 .3 4.7 .3 3.4 .3 5 .3 2.7 .3 5.1 .3 2.1 .3 4.4 .3 5 .3 42.5 .2 40.4 .3 42 .3-29.9 .3-32.3 .3-32.7 .3-29.9 .3-2 .3-2.5 .3-1.3 .3-2.1 .3-1.3 .3-2.2 .3-1.9 .3-.8 .2-2.9 .3-.4 .3-2 .3-1.3 .3-3.8 .3 .1 .3-2.2 .3-3.1 .3-.5 .3-1.2 .3-1.6 .3-.6 .3 1.3 .3-1.3 .3-2.2 .3 1 .3-3 .3 1 .3-.9 .3-.2 .3-.6 .3-1.2 .2-.5 .3-1.7 .3 .5 .3-2 .3 0 .3-.7 .3-1.6 .3 .3 .3-1 .3-2.1 .3 .3 .3-1 .3-.4 .3-1.2 .3 0 .3-1.5 .3 .2 .3-1.9 .3-1.3 .3 .4 .3-.2 .3-.3 .3-1.3 .3 .2 .3-2.5 .3-.8 .3 0 .3 0 .3-.4 .3-2.5 .3 .7 .3-1.3 .3-.2 .3-1.2 .3-.7 .3 .9 .3-1 .3 1.3 .3-1.5 .3-.7 .3-.7 .3 .5 .3-.4 .3-.9 .3 1.5 .3-1.5 .3 .3 .3-.5 .3 0 .3-2.2 .3 1.9 .3-1.3 .3-1.4 .3 .7 .3-1.6 .3 .7 .3-1.1 .3-.3 .3 .7 .3 .8 .4-.4 .3 .2 .3-.6 .3-.7 .3-.2 .3 .6 .3-1.5 .3 .3 .3 .1 .3-1.3 .3 2.2 .3-.4 .3-.8 .3 1.2 .3-.8 .3 .7 .3-.4 .3 .9 .3-.9 .3-1 .3 1.8 .3-1.3 .3 .9 .3 1 .3-.5 .3-1.7 .3 1.6 .3 1.3 .3-.8 .3 0 .3 1 .3 .7 .3-.8 .3 2.6 .3-.1 .3-.1 .3 1.2 .3-1.7 .3 1.4 .3-.5 .3-1.4 .3-1.4 .3 .4 .3-1.3 .3 .7 .3-1.5 .3 .6 .3-.7 .3-.7 .3 .2 .3-.5 .3 .4 .3-1.5 .3-.1 .3-.1 .3-1.8 .3 .5 .3-1.4 .3 .4 .3-.4 .3 .6 .3-.2 .3-2.2 .3 1 .3-1.6 .3-.8 .3 .4 .3-.8 .3 1.4 .3-.3 .3-2.4 .3 2.3 .3-.5 .3-2.1 .3 1.2 .3-.5 .3-1.2 .3 1.2 .3-1.9 .3 .6 .3 .2 .3 .6 .3-1.3 .3-.5 .3 .3 .3-.1 .3-.3 .3-1.3 .3 1.6 .3-2 .3-.3 .3-.3 .3 1.6 .3-2.5 .3 1.1 .3-.5 .3-1.2 .3 1.1 .3-1.8 .3-.5 .3-.5 .3 1.3 .3-1.8 .3 1.1 .3-.2 .3-1.7 .3 1.2 .3-1.4 .3 .4 .3 1.2 .3-1.5 .3 1.3 .3-.3 .3 .1 .3-1 .3-.3 .3 .4 .3 .4 .3-1.6 .3 .1 .3 .4 .3-.6 .3 1.8 .4 .5 .3-1.2 .3-.6 .3 .2 .3 1.1 .3-.4 .3-.5 .3 .2 .3 .6 .3-.8 .3-1.1 .3 1.7 .3-2.2 .3 .2 .3 .1 .3 .4 .3 .2 .3 .8 .3-1.5 .3 1.6 .3 .2 .3-.3 .3-.3 .3-.6 .3-.4 .3-.8 .3 .5 .3-.4 .3 .3 .3-.8 .3 2.2 .3-1.4 .3-.9 .3 0 .3 .8 .3-1 .3 1.5 .3-1 .3 .8 .3-.9 .3 .1 .3 1.2 .3-1.1 .3 1.1 .3-.7 .3 .1 .3-.1 .3-.5 .3-.7 .3 .9 .3-1.7 .3 .5 .3 1.3 .3 .1 .3-2.2 .3 1.9 .3-.7 .3-.8 .3 1.8 .3-.9 .3-.9 .3 1.6 .3-2.2 .3 1.6 .3 0 .3 0 .3-.7 .3-.5 .3-.2 .3 1.3 .3-.7 .3-1.2 .3 1.7 .3 0 .3 .1 .3-.8 .3 .4 .3-.2 .3 .4 .3-1.4 .3-.2 .3 1.6 .3-1.6 .3-.7 .3 1.7 .3 .2 .3 .1 .3 .3 .3-2.4 .3 2.2 .3-1.8 .3-.4 .3 .3 .3-.5 .3-.3 .3 .3 .3 .9 .3-1.2 .3 1.7 .3-2 .3 .5 .3-.2 .3-.2 .3-.4 .3 1.3 .3-1.2 .3 0 .3-.3 .3 2 .3-1.8 .2 .6 .3 .9 .3-1.7 .3 .5 .3 1.1 .3-.6 .3-1.3 .3 .9 .3 .7 .3-.9 .3-.8 .3-.2 .3 1.7 .3-1.3 .3-.7 .3 .1 .3 .7 .3 .6 .3-.6 .3-.2 .3-.8 .3-.4 .3 1.1 .3-.9 .3-.3 .3 1.1 .3 .4 .2-.3 .3-1.9 .3 1.5 .3-.6 .3-1.3 .3 1.9 .3-.8 .3-.2 .3-1.2 .3 1.2 .3-.2 .3 .8 .3 .1 .3-1.3 .3 1.3 .3-1.2 .3-.9 .3 2 .3 .2 .3 0 .3-1.5 .3 1.5 .3 .6 .3 .2 .3-1.5 .3 1.3 .3-1.8 .2 2.1 .3-.7 .3 .3 .3 .3 .3-1.2 .3 0 .3-.3 .3 1.7 .3-1.6 .3 0 .3 1.7 .3-.3 .3 1.4 .3-1.6 .3 .3 .3-1 .3 1.4 .3 .3 .3-.1 .3-2.4 .4 1.5 .3-.6 .3-1.3 .3 .7 .3 .6 .3-.2 .3-.9 .3-1.5 .3 0 .3-.8 .3-.6 .3 .8 .3-1.6 .3-.7 .3-2.3 .2 .2 .3 .4 .3-2.3 .3-1.1 .3 0 .3-1.1 .3 .4 .3-1.4 .3-.1 .3-.7 .3-2.4 .3 .1 .3-1.4 .3-1.1 .3-1.3 .3-1.5 .3-1.2 .2-2.5 .3 .1 .3-3.2 .3-.3 .3-2.9 .3 1.2 .3-2.1 .3-2.9 .3 .2 .3-.1 .3-.7 .3 .1 .3 1.1 .3-.2 .3-2.2 .3 .2 .3-.2 .3-.5 .3 .2 .3 1 .3 .1 .3 .2 .3 0 .3-.4 .3 .4 .3-2.4 .3 2.3 .3-1.4 .3 .3 .3 0 .3 .5 .3-.2 .3-1.2 .3 1 .3-1.1 .3 2.1 .3-.2 .3-1.1 .3 .1 .3 .1 .3-.4 .3 1.1 .2 .5 .3-.8 .3 .3 .3 1.1 .3-.3 .3-1.4 .3 .3 .3 1.8 .3-.6 .3-1.1 .3 .9 .3-.2 .3 .7 .3 .1 .3 .4 .3-1.3 .3-.1 .3-.4 .3 .5 .3 .9 .4 .1 .3-.4 .3 .6 .3-1.7 .3 .2 .3 0 .3 1.1 .3-.3 .3-1.2 .3 .8 .3-2 .3 1.2 .3-.5 .4-2.3 .3 .8 .3-.6 .3-1.4 .3-.5 .3-.7 .3 .5 .3 .6 .3-1.1 .3 1.1 .3-1.1 .3 .7 .3-.9 .3 .6 .3 .1 .3-.5 .3-.6 .3-.5 .3 .1 .3 1.1 .2-.3 .3-1.2 .3 1.6 .3-1.6 .3 .1 .3 1.8 .3-1.3 .3-.1 .3 .5 .3-.4 .3-.5 .3 1.5 .3-.9 .3-.6 .3-.1 .3 .3 .3 .6 .3-1.2 .3-.5 .3-.4 .3 2 .3 .1 .3-.5 .3-.7 .3 .1 .3-.1 .3-1.5 .2 .5 .3 .1 .3-.5 .3 .8 .3 .9 .3-.5 .3-1.1 .3 .2 .3 1.1 .3-1 .3-.8 .3 .8 .3-1.2 .3 .8 .3-.5 .3-.2 .3 1 .3-1.8 .3 .6 .3-1 .3 .4 .3-.2 .3 1.5 .3-.8 .3-1.5 .3-.3 .3-.1 .2 .5 .3 .4 .3 .5 .3-1.3 .3-1 .3-.3 .3 1.1 .3 .1 .3 .2 .3-1.9 .3-.3 .3-.1 .3 .9 .3 0 .3-.8 .3-.6 .3-.6 .3 .7 .3-.9 .3 .7 .3-.8 .3 .2 .3-1.6 .3 .8 .3-.4 .3 .1 .3-1.3 .2-.6 .3-.2 .3 .8 .3 .4 .3-1.2 .3-.3 .3-.4 .3 .8 .3-1.9 .3-1.1 .3 .6 .3-.5 .3-.6 .3 .4 .3 .3 .3 .4 .3-2.8 .3 0 .3-.1 .3 1 .4-1.5 .3-.3 .3 .4 .3-1.3 .3 .5 .3-1.5 .3 .8 .3 1 .3-.9 .3 .2 .3-.9 .3-.4 .3 1.7 .3-.9 .3-.4 .3 .6 .3 .5 .3-.2 .3-1.2 .3 1.6 .2-1.3 .3-.2 .3-.6 .3 2.1 .3-1.1 .3 0 .3 .9 .3-2.2 .3 .5 .3-.6 .3 1 .3-1.2 .3 2.2 .3-1 .3 .6 .3 0 .3 .1 .3-1.7 .3 .8 .3 0 .3 .6 .3-1.7 .3 .8 .3 .3 .3-.7 .3-1.3 .3 1.8 .2-2 .3 .9 .3-.4 .3 .3 .3 1.1 .3 .1 .3-.2 .3-.2 .3-2.2 .3 1.4 .3-.2 .3 .3 .3-.7 .3 .4 .3-1.4 .3 2 .3 .2 .3-1 .3 .2 .3-1.2 .3 2 .3 0 .3-1.8 .3 1.1 .3-.9 .3 2.2 .3-.6 .2 .3 .3-.8 .3 .7 .3-1.4 .3 .7 .3 .3 .3 .7 .3-1.3 .3-.8 .3 1.2 .3-.6 .3 0 .3 0 .3 1.2 .3-.7 .3-.4 .3-.2 .3 .5 .3-.3 .3 .2 .3 .2 .3 0 .3-1.4 .3 .2 .3 .7 .3-.4 .3-1.7 .2 .8 .3-.5 .3 .5 .3-1.1 .3 .8 .3-.3 .3 .1 .3 0 .3-1 .3-.3 .3-.6 .3 1.4 .3 .4 .3-1.3 .3-.1 .3-.5 .3 1.8 .3-.4 .3 .7 .3-1.2 .3-.5 .3 .7 .3-.5 .3 .1 .3 1 .3-.6 .3-.9 .2 .3 .3 1.2 .3-.5 .3 .6 .3-.2 .3-1.9 .3 .6 .3 1 .3-.9 .3 .2 .3 .7 .3-1.3 .3-.5 .3 1 .3-.3 .3 .4 .3-1.5 .3 .2 .3 1.4 .3 .1 .3-.4 .3 .1 .3-.7 .3 1.2 .3-2 .3 1.6 .3-.2 .2 0 .3 .5 .3-1.8 .3 .1 .3 .3 .3-.7 .3 .5 .3 .1 .3-.4 .3 1.1 .3-1.6 .3 1.2 .3-.1 .3-.8 .3 1 .3-.3 .3-2.2 .3 .2 .3 .5 .3 .5 .3-.5 .3-.4 .3-.1 .3-.7 .3 .7 .3-2.3 .3 1.2 .2-.5 .3-.3 .3-1.4 .3-.1 .3 1.3 .3-.5 .3-.4 .3-.2 .3-1.6 .3 1.1 .3 .8 .3-1.1 .3 .5 .3-1.6 .3 1.5 .3-.9 .3 .3 .3 .8 .3-1.4 .3 1.2 .3 .4 .3 .6 .3-.9 .3-.5 .3 0 .3-.4 .3 .7 .2-.4 .3 2.5 .3-.3 .3 .8 .3-.8 .3-.6 .3 .2 .3 1.2 .3 .2 .3-1.1 .3 1.1 .3-.4 .3-.3 .3 .7 .3-.2 .3-.6 .3 1.2 .3-.2 .3-.6 .3-.8 .3 .8 .3-.4 .3 .2 .3 .2 .3-.4 .3-.1 .3-.2 .2-.1 .3-1.3 .3 .6 .3-.4 .3-.6 .3 .7 .3 .2 .3-.3 .3-1.2 .3 .1 .3 1 .3-1.6 .3 .5 .3-.4 .3-.4 .3 1 .3-1.4 .3 1.1 .3-.9 .3 .3 .3-.8 .3 .7 .3-.7 .3 .4 .3-.4 .3 .3 .3-.9 .2-.6 .3-.4 .3 .8 .3 0 .3-.3 .3-1.2 .3 1.1 .3 .2 .3-1 .3-.3 .3-.7 .3 1.5 .3-1.3 .3-.2 .3-.4 .3-.4 .3 1.2 .3-.4 .3-.1 .3-1.5 .3-.5 .3 .1 .3 .5 .3-1 .3 0 .3 .3 .3-.5 .2-.8 .3 .1 .3-.3 .3 .2 .3-1 .3 0 .3-.3 .3 0 .3 0 .3-.7 .3 0 .3 .3 .3-.2 .3-.2 .3 .6 .3-1.2 .3-.1 .3 .4 .3-.8 .3-.3 .3 1.3 .3-1.7 .3 .2 .3 1.2 .3-.4 .3-.1 .3-.5 .3 0 .3 .2 .3-.5 .3 .8 .3-.4 .3-1.1 .3 1 .3-.8 .3-.3 .3 .2 .3 .6 .3-.5 .3-.7 .3 .1 .3-.4 .3 .7 .3-1 .3 .8 .3-.9 .3 .9 .3-.4 .3-1.2 .3 .1 .3 .1 .3 0 .3 0 .3-.1 .3 .4 .3-.7 .3-.6 .3 1 .3-1.3 .3 .5 .3-.7 .3 1.7 .3-.7 .3-.5 .3 .2 .3-.7 .3-.2 .3 .1 .3-.2 .3 .5 .3 .1 .3 .4 .3-.6 .3 .9 .3-1.3 .3-.1 .3 .6 .3 0 .3-.6 .3-.3 .3 1.2 .3-1.3 .3 .1 .3 .8 .3 .3 .3-.8 .3 .1 .2-.5 .3-.5 .3 1.4 .3-.5 .3-.4 .3 .8 .3-.9 .3-.3 .3-.4 .3-.1 .3 1 .3 .2 .3-1.5 .3 0 .3 1.1 .3-1.3 .3 .8 .3 .6 .3-1.7 .3 0 .3 1.2 .3-1.1 .3 .3 .3 .7 .3-.7 .3-.9 .3 1.6 .3-.7 .3-1.1 .3 1.6 .3-1.3 .3 .2 .3 .9 .3-.6 .3 .6 .3-.6 .3 .5 .3-1.5 .3 .8 .3-.2 .3-.1 .3 .6 .3 .1 .3-1.5 .3 1 .3-.7 .3-.2 .3 .3 .3-.4 .3 1.2 .3-.3 .3 .1 .3-1.2 .3 .3 .3-.2 .3 .6 .3-.9 .3 .8 .3-.3 .3-.4 .3 .8 .3-.3 .3 .3 .3-.5 .3 .2 .3-1.2 .3 1.3 .3-1.2 .3 .8 .3-1 .3 .5 .3-.4 .3 .8 .3 .2 .3-1.5 .3 1.4 .3-.1 .3-.1 .3-1.3 .3-.1 .3 1.1 .3-.6 .3 .1 .3 .3 .3-1 .3 .8 .3-.4 .3-.1 .3-.8 .3 .9 .3 .5 .3-.9 .3 .9 .3-1.8 .3 .7 .3 .8 .3-.9 .3-.6 .3 .5 .3 .6 .3-.8 .3 .8 .3-1.2 .3-.2 .3 1.3 .3-.1 .3-1 .3-.6 .3 1.2 .3-1.5 .3 1.6 .3-1.6 .3 .3 .3 .7 .3-.9 .3 .2 .3 .1 .3 1.3 .3-.6 .3 .5 .3-.7 .3 .9 .3 .1 .3-.7 .3 .6 .3 .6 .3-.6 .3 .3 .3-.9 .3 1 .3 .4 .3-1 .3 1.3 .3-1.2 .3-.3 .3 .4 .3-.2 .3 1.4 .3-.4 .3 .2 .4 .5 .3-1.4 .3 .8 .3-.2 .3 .4 .3-.1 .3-.5 .3 .2 .3 .1 .3 1.3 .3-1.1 .3 .7 .3 .1 .3 .1 .3-.7 .3 .6 .3 1.1 .3-.8 .3 .3 .3 .1 .3-.2 .3-.4 .3 .9 .3 .8 .3-.1 .3-.8 .3 .3 .3-.3 .3 .6 .3 .5 .3-.2 .3-.7 .3 .4 .3-.4 .3 .7 .3-.1 .3-.3 .3 1.2 .3-.1 .3-.3 .3 .1 .3-.3 .3 .9 .3 .1 .3-.2 .3-.2 .3 .7 .3-.2 .3 .6 .3-1.1 .3 1.7 .3 0 .3 .3 .3-1.6 .3 .9 .3-.3 .3 .1 .3 .6 .3 .5 .3-.4 .2 .4 .3 .3 .3-.9 .3-.5 .3 .7 .3 .4 .3-.7 .3 1.1 .3-.2 .3 .1 .3-.7 .3 1.7 .3-1.6 .3 .3 .3 1.4 .3 .2 .3-.1 .3 .2 .3-1.4 .3 1.7 .3-.1 .3-.3 .3 .3 .3-.8 .3 .7 .3-.2 .3 .4 .3-.3 .3 1.1 .3-.9 .3 0 .3 .5 .3 .4 .3-.6 .3 .3 .3 .8 .3-1.3 .3 .4 .3 .9 .3-.3 .3-.4 .3 0 .3-.9 .3-.1 .3 1.7 .3-1 .3-.3 .3 .2 .3 1 .3-.9 .3 .5 .3-1.2 .3 1.4 .3-.8 .3 .5 .3 .1 .3-1.1 .3 .9 .3-.4 .3 0 .3-.1 .3 .9 .3-1.6 .3 .8 .3-.6 .3 .7 .3-.6 .2 .6 .3 .8 .3-.2 .3-1.2 .3 .4 .3-.5 .3 .2 .3 1 .3-.4 .3-.6 .3 .6 .3 .6 .3-1.2 .3 .5 .3 0 .3-.8 .3 1.6 .3-1.4 .3 .1 .3-.1 .3 1 .3-.1 .3-.8 .3-.2 .3 .8 .3-.6 .3 .9 .3-1.2 .3 .3 .3 .2 .3 .5 .3 .6 .3 0 .3-.7 .3-.2 .3 .3 .3-.7 .3 1 .3-.3 .3-.1 .3 .4 .3 .5 .3-1.3 .3 1.1 .3-.2 .3 .5 .3-1.1 .3 .5 .3 .7 .3-.7 .3 .2 .3 .8 .3-.4 .3-1.1 .3 1.7 .3 0 .3-.8 .3 .5 .3-1.1 .3 1 .3 .3 .3-.1 .3-1.2 .3 .6 .3 1 .3-.4 .3-.2 .2-.2 .3 .2 .3-.4 .3 .9 .3-.9 .3 1 .3-.7 .3 .6 .3-.6 .3-.3 .3-.3 .3 1.2 .3-1 .3 .7 .3 .8 .3-.4 .3 .4 .3-.3 .3-1 .3 .5 .3 .9 .3-1.4 .3 .4 .3 .4 .3 0 .3 .4 .3-.2 .3 .5 .3 .3 .3 0 .3-1.3 .3 .1 .3-.1 .3 .7 .3 .5 .3-.1 .3 0 .3-1.2 .3 .8 .3-.9 .3 1.1 .3-.9 .3 1 .3-.6 .3 .3 .3 .1 .3 0 .3 .6 .3-1.1 .3 .4 .4-.3 .3-.3 .3 .4 .3 .4 .3-.8 .3 .3 .3-.5 .3 0 .3-.1 .3-.1 .3 .7 .3 1 .3-1.3 .3 .7 .3-.4 .3-.6 .3 .7 .3 .7 .3-.3 .3-.7 .3-.1 .3-.9 .3 .5 .3 1 .3-.9 .3 .6 .3-1.6 .3-.1 .3 1 .3-1.2 .3 1.6 .3-.3 .3-.5 .3 .4 .3-.6 .3 0 .3-.6 .3 .9 .3-.6 .3 1.9 .3-.7 .3 1.6 .3-.4 .4 .9 .3 0 .3 .4 .3 .9 .3-.1 .3 1.2 .3 .4 .3 .1 .3-.3 .3-1.3 .3 .1 .3-.3 .3-.5 .3 .2 .3 .1 .3 0 .3 .2 .3-1 .3 .1 .3 .5 .2-1 .3 .3 .3 0 .3-.6 .3 .5 .3-1.6 .3 .4 .3 .1 .3 0 .3-1 .3 1 .3 0 .3-1.6 .3 .2 .3 .6 .3-.8 .3 1.1 .3 .2 .3-.5 .3 0 .3 .8 .3-.6 .3 .7 .3 .6 .3 0 .3-1.2 .3 1.6 .2-1.5 .3 1.4 .3 .3 .3-1.2 .3 .2 .3 1.3 .3-.7 .3 .1 .3 0 .3 1.2 .3-1.5 .3 1.6 .3-.5 .3-.2 .3 .4 .3 .9 .3 .4 .3-.9 .3 .5 .3 .9 .4 .7 .3-.1 .3 .6 .3 .5 .3-1.2 .3 2 .3-.8 .3 .1 .3-.4 .3-.3 .3 .4 .3-.7 .3-.3 .3 .5 .3-.8 .3 .6 .3-.3 .3-.8 .3 .1 .3-.7 .2 .5 .3-1.3 .3-.4 .3 1 .3-.8 .3-1.1 .3 .1 .3 .8 .3-1.1 .3 .4 .3 .2 .3-1.6 .3 .2 .3-.1 .3-.5 .3-.4 .3 .2 .3 1.4 .3-1.7 .3 .9 .3-.7 .3 .9 .3-1.2 .3 .1 .3 .2 .3 .1 .3-1.1 .2 .3 .3 0 .3-.6 .3 .7 .3-.9 .3 .5 .3-.3 .3-.4 .3 .5 .3 .7 .3-.4 .3 .1 .3-.4 .3 .2 .3-.2 .3 0 .3-1.6 .3 .3 .3 .1 .3-.4 .3-1.1 .3-.1 .3-.2 .3-.1 .3-.4 .3 .8 .3-.4 .3-1.6 .3 1.2 .3-.9 .3-.7 .3-.2 .3-.1 .3-.3 .3-.6 .3-.7 .3-.1 .3 .5 .3-1.3 .3-.3 .3-.2 .3 .5 .3-.3 .3-1.3 .3-.6 .3-.2 .3 .7 .3-1 .3 .8 .3-.3 .3-1.6 .3-.6 .3-.1 .3 .3 .3-.2 .3 .7 .3 .1 .3 .1 .3 1 .3 0 .3 .8 .3-.9 .3 1.5 .3-1 .3 1.3 .3-.5 .3 .8 .3 .8 .3-.4 .3 1.4 .3 .1 .3-.4 .3 1.4 .3-.3 .3-1.1 .3 .7 .3-.8 .3 1.1 .3-.3 .3 .2 .3-.2 .3-.8 .3 .4 .3 .2 .3-.2 .3-.6 .3 .9 .3-.3 .3-.1 .3-.9 .3 0 .3 0 .3-.7 .3 .4 .3 1.6 .3 .8 .3 .3 .2-.3 .3 1.3 .3 1.7 .3 .5 .3 15.7 .3 14.7 .4 14.5 .3 15.7 .3 15.6 .3 .4 .3 0 .3-1.6 .3 .5 .3 .7 .3 .5 .3-1.3 .3 1.1 .3-.6 .3 .6 .3-.8 .3 1 .3-1.4 .3 .1 .3 .4 .3 .5 .3 .2 .3-.8 .3 .6 .3 .2 .3-.2 .3 .5 .3-.3 .3-1.1 .3 1.3 .3 .1 .3-1.2 .3 .2 .3 1.1 .3-1.1 .3 1.5 .3-.9 .3 .8 .3 .6 .3-1.1 .3 1 .3 0 .3 .4 .3 .4 .4 .6 .3 .2 .3-1.2 .3 1.4 .3-.2 .3-1 .3 1.2 .3 .9 .3-.6 .3 0 .3 .6 .3-.5 .3-.8 .3 .2 .3 .1 .3-.2 .3 .8 .3-.4 .3-1.4 .3 .1 .3-.3 .3 .7 .3 .1 .4-1.5 .3 0 .3 1.1 .3-.3 .3-1.2 .3-.4 .3 .6 .3-.2 .3-.6 .3-.6 .3 1.1 .3-.8 .3 .2 .3-.4 .3-.1 .3 .7 .3-.7 .3 .1 .3 1.2 .3-1 .3 .6 .3-.5 .3 0 .3 0 .3 .1 .3 .4 .3 .5 .3-.6 .3 .7 .3-.9 .3-.8 .3 1 .3 .5 .3-.3 .3-.6 .2 .1 .3 .7 .3 .3 .3-1.4 .3 .1 .3 1.5 .3-.6 .3-.9 .3 .3 .3-.3 .3 .9 .3-1 .3 .7 .3-.2 .3 1 .3-.7 .3 0 .3 .5 .3-.1 .3-.7 .3 .9 .3-1 .3 1.1 .3-.6" fill="none" stroke="#FFBE7A" stroke-width="2.80" stroke-linejoin="round" stroke-dasharray="2.80 4.62"/>
<path d="M1153 959l.3 .2 .3-1.5 .3 1 .3-1.5 .3-.5 .3 .9 .3-2 .3 3 .3-1.6 .3-1 .3 .3 .3 1.4 .3-2.2 .3-.7 .3-1.1 .3 .4 .3 1.3 .3-.9 .3-1.7 .3 .8 .3-1.3 .3 1.3 .3 2.1 .3 1 .3-1.5 .3-1.5 .3 2.7 .3-.2 .3-1.2 .3 1.7 .3 2.6 .3-3.1 .3 1 .3 .3 .3 3 .3-1.6 .3 1.9 .3 .4 .3-2.4 .3 2.2 .3-1 .3 3.1 .3-.9 .3-.2 .3 2.2 .3 .3 .3-2.8 .3 .5 .2 1.2 .3 .3 .3 .9 .3 .3 .3 2.6 .3-1 .3 1.6 .3-1.1 .3-.4 .3-.1 .3-2.3 .3 1.1 .3-2.4 .3 2.7 .3-3.2 .3 1.9 .3-3.4 .2-.7 .3-.4 .3 1.8 .3-.5 .3-1 .3-1.2 .3-2.4 .3-.2 .3 .1 .3 1.9 .3-3.6 .3 2.1 .3-3.3 .3 .9 .3 1.1 .3-2.1 .3-.7 .3 3.1 .3-2.8 .3-1.4 .3 2.6 .3 .9 .3-2.1 .3-2.4 .3 1.3 .3 .5 .3-1.8 .3 .4 .3 .3 .3 .2 .3 .4 .3 .2 .3-2 .3 1.6 .3-3.9 .3 1.4 .3 .4 .3 .7 .3-2.2 .3-.4 .3 1.6 .3-2.1 .3-2 .3 1.4 .3-1.1 .3 1.3 .3 .4 .3-3.5 .3 1.2 .3 1.8 .3-.7 .3-.4 .3-2 .3 2.1 .3-.7 .3-.5 .3-1.5 .3 .1 .3-2.5 .3-.7 .3-.4 .3-.2 .3 1.5 .3 1.5 .3-1.9 .3 .6 .3-.5 .3 .4 .3-2.3 .3 .3 .3 1.9 .3-2.3 .3 1.7 .3-1 .3-.9 .3 .4 .3 .8 .3-1.1 .3 3.7 .3-2 .3-.2 .3 2.5 .3-3.1 .3 3.4 .3-1.1 .3-1.3 .3 1.5 .3 2.6 .3-2.1 .3-1 .3-.9 .3 1.2 .3-2.1 .3 2.3 .3-2.5 .4 2 .3-3.8 .3 0 .3-1.3 .3-.3 .3 .1 .3 1.1 .3 .4 .3 1.1 .3-1.7 .3 1.8 .3 2 .3-2.4 .4 0 .3 .1 .3 3.6 .3-1 .3-.3 .3 .4 .3-.5 .3 4.3 .4 6.6 .3 3.3 .3 24.5 .3 25.6 .2 20.9 .3 25.2 .3 24.3 .3 9.5 .3 9.1 .4 9.1 .3 7.4 .3 8.2 .3 .2 .3 1.7 .3-3 .3 .3 .3-.4 .3 2.8 .3-3.2 .3 .2 .3 1.9 .3 .6 .3-1.3 .3 1.4 .3-.1 .3-1.3 .3-1.3 .3 2.6 .4-.3 .3 1.5 .3-1.1 .3-2.6 .3 .6 .3 .5 .3 1.7 .3-1.7 .3-.3 .3-.2 .3 .4 .3 .9 .3 .9 .3 .5 .3-3.1 .3 1.9 .3 .3 .3-7.3 .3-7.4 .3-4.1 .2-5.6 .3-9.6 .3-6.1 .3-4.8 .3-43 .4-43.8 .3-41.5 .3-.6 .3 1.5 .3-2.3 .3-1.9 .3 2.1 .3-3.5 .3-1.2 .3-.8 .2-1.1 .3 3 .3-2.3 .3 1.2 .3-2.5 .3-2.7 .3 .6 .3-.8 .3-.5 .3-2 .3 1.7 .3 0 .3-.4 .3-3.7 .3 .8 .4-2.2 .3 1.7 .3-.5 .3-4.5 .3 0 .3 2 .3-1.8 .3 .8 .3-3.5 .3 2.1 .3 .5 .3-1 .3-.3 .3 .8 .3-3.2 .3 1.9 .3 1.5 .3-1.9 .3-1 .3-1.2 .3 3 .3-1.2 .3 1 .3-.2 .3-1.3 .3 .5 .3-1.5 .3 .6 .3-1.6 .3 .9 .3 .2 .3-2.4 .3 2 .3-1 .3-1.2 .3 .1 .3 1.8 .3-3.8 .3-.3 .3 1.7 .3-1.9 .3 2.9 .3 .1 .3-2.6 .3-.2 .3 1.1 .3-.4 .3-.1 .3 .9 .3-2.4 .3 .3 .3 .8 .3 0 .4-1.6 .3-.3 .3 1.9 .3-.9 .3-.8 .3-1.3 .3 .8 .3-.9 .3 1.5 .3 .1 .3 1.3 .3 2.4 .3 .5 .4 2 .3-.4 .3-.2 .3 .8 .3 2.8 .3-2.6 .3 2.4 .3 .4 .3-.9 .3 1.3 .3-.7 .3 2.2 .3 1.4 .4-1.7 .3 2 .3-2.9 .3 .7 .3 .5 .3 3 .3-1.1 .3 .7 .3 1.3 .3-1.1 .3-.6 .3 .7 .3 .6 .3-.2 .3-.1 .3-1.5 .3 3.6 .3-.9 .3 .7 .3-.3 .3-2.2 .3 1 .3 .7 .3-1.6 .3 2.8 .3-1.3 .3 .1 .3 3.3 .3-1 .3 1.7 .3 2.6 .3-.5 .3 2.1 .4 1.4 .3 4.7 .3 .2 .3 2.2 .3 .8 .3 .2 .3 2.1 .3 2.9 .3-.6 .3 .7 .3 .1 .3 2.7 .3-2 .3 3.5 .3 .1 .3 .9 .3 1.8 .3-1.3 .3 1 .3 .3 .3 1.9 .3 1.5 .3 .4 .3-1.4 .3 3.2 .3-2.4 .3 3 .3-1.3 .3 .9 .3 1.3 .3-1.5 .3 2.7 .3 .1 .3 .8 .3-.9 .3 1.8 .3-.1 .3-.6 .3 .8 .3-1.4 .3 1.7 .3-.9 .3-.3 .3 2.2 .3 1.6 .3-1.6 .3 .1 .3 1.1 .3-1.6 .3 2 .3 .6 .3-2 .3 .5 .3 .8 .3 1.1 .3 .3 .3 1.3 .3-1.3 .3 1.6 .3-2.8 .3 .3 .3 3.2 .3-.6 .4-1.4 .3-1.2 .3 1 .3 .8 .3-1.5 .3 2.6 .3 1.5 .3-2.3 .3 .2 .3-.1 .3 .7 .3 1 .3-1.1 .3-.9 .3 .3 .3 3.7 .3-1.3 .3-1.6 .3 1.3 .3 1.6 .3-1.3 .3 1.3 .3 1.6 .3-2.4 .3 .5 .3-1 .3 2.5 .3-.8 .3 .5 .3-.8 .3 1.5 .3 .1 .3 1.5 .3-.4 .3-2.6 .3 .3 .3 1.9 .3-1.6 .3-.3 .3-.2 .3 2.6 .3-3.3 .3 2.7 .3-1.5 .3 .9 .3-1.3 .3-1.2 .3 .6 .3 1.9 .3-.7 .3-.7 .3-1.2 .3 1.2 .3-2.6 .3 1.1 .3-.6 .3 .3 .3 1.3 .3-2.9 .3 .4 .3 1 .3-1.2 .3 2.3 .3-2.1 .3-2 .3 1 .3-.2 .3 .4 .3-1.9 .3 3.7 .2-2.2 .3 .9 .3-1.1 .3-.2 .3-.8 .3 2.3 .3-3.3 .3 1.3 .3-1.1 .3-.1 .3-1 .3 3.4 .3-2.8 .3 1.1 .3 .4 .3 .5 .3-2.1 .3 0 .3 1.2 .3-1.3 .3-1.5 .3 .4 .3 2.1 .3-2.7 .3 1.1 .3 .5 .3-.1 .3-.9 .3 .5 .3 .7 .3-2.3 .3-.7 .3 0 .3 .4 .3-1.3 .3 2.8 .3-2.3 .3-.3 .3 2.5 .3-1.5 .3 1.9 .3-2.2 .3 .4 .3 1 .3 1.2 .3-.6 .3 1.8 .3 .1 .3-3.2 .3 3 .4 .8 .3-2.8 .3 .7 .3 .7 .3 1.9 .3-2.9 .3 .3 .3 2.5 .3-2.3 .3 2.8 .3-1.9 .3 2.4 .3-2.7 .3 .3 .3 1.8 .3 .3 .3-1.1 .3-1 .3 1.2 .3 .9 .3 0 .3 1 .3-.8 .3-.4 .3 .2 .3-.2 .3 .8 .3-1.7 .3 1 .3-.5 .3-2 .3 1.5 .3-.5 .3 .3 .3-1.4 .3 3.5 .3-2.2 .3 .9 .3-1.4 .3 1.2 .3 1.2 .3-.4 .3 .5 .3-.3 .3 1.3 .3-1.5 .3-1.8 .3-.2 .3 3.7 .3-1.5 .3 .2 .3 .5 .3 .2 .3-1.6 .3-.4 .3 1.3 .3-.2 .3-.3 .3-1 .3 2 .3-.6 .3-1.5 .3 .4 .4-1.6 .3-1.4 .3-.6 .3-.4 .3 .5 .3-2.5 .3 .7 .3 1.5 .3-4.6 .3-1.1 .3 .8 .3-2 .3-.2 .4-4.1 .3-1.3 .3 .3 .3 .5 .3-3.6 .3-.3 .3-.9 .3 .3 .3-1.6 .3-2 .3-.4 .3-.4 .3 .4 .3 1.8 .3-3.7 .3 1.5 .3-.3 .3-1.9 .3 1 .3-3.2 .3 2.9 .3-4.3 .3 .7 .3-1.8 .3 .3 .3-1.3 .3 1.6 .3-1.5 .3 2.4 .3-2.4 .3-2.2 .3 2.8 .3-4 .3 1.7 .3-1.4 .3-.8 .3 .6 .3-2.2 .3 1.2 .3-.2 .3-.1 .3 0 .3-3.4 .3 2.7 .3-2.2 .3-.3 .3-1.2 .3 0 .3-.4 .3 1.8 .3-.9 .3 .8 .3-2.6 .4-.5 .3 .8 .3-1.8 .3 0 .3 1 .3 2.3 .3-1.8 .3-1.9 .3-1.1 .3 .3 .3-.5 .3 3.3 .3-2.8 .3-.4 .3 2.5 .3-1.8 .3 .1 .3-2.4 .3-.2 .3 .6 .2 .2 .3 .3 .3 .5 .3-.3 .3-1.2 .3-1.6 .3 .6 .3 3.1 .3-3.1 .3 2 .3-2.1 .3 .7 .3-2.3 .3 1.6 .3-.9 .3 1.6 .3 .1 .3-2.7 .3 1.7 .3 .9 .3-2.4 .3-1.8 .3 1.8 .3-1.2 .3-.4 .3 2.9 .3-3.9 .2 .4 .3 .5 .3-.9 .3-.4 .3 .3 .3 .8 .3 .7 .3 1 .3-2.4 .3-1.6 .3 3.2 .3-1 .3 1.2 .3-1.5 .3-2.6 .3 2.5 .3-1.3 .3 .8 .3-2.3 .3-.3 .3 1.9 .3-.3 .3 1.7 .3-2.9 .3 1.3 .3-.3 .3-.5 .2 .5 .3 .1 .3-.8 .3-.8 .3-1.1 .3-.4 .3 1.9 .3-.5 .3-.4 .3 1.4 .3-1.9 .3-.3 .3 .5 .3 .3 .3-1 .3-1.5 .3 1.9 .3 .5 .3-1.2 .3-.8 .3 .6 .3-1.4 .3 .3 .3-3.1 .3 1.8 .3-1.9 .3 .1 .3-.2 .3 0 .3-2.1 .4 .8 .3-1.5 .3 1.7 .3-2.2 .3-.6 .3 2.9 .3-2.2 .3-1.5 .3 .3 .3 2 .3-.9 .3-.5 .3-2.7 .3 .1 .3-.5 .3 .5 .3-.1 .3-.4 .3 .6 .3-2.5 .3-.4 .3 1.9 .3-1.4 .3-.7 .3-1.9 .2 .3 .3-1.2 .3 2 .3-3.5 .3 1.3 .3-.7 .3-.1 .3-2.8 .3 1.6 .3 1.9 .3-.4 .3-2.6 .3 2.7 .3-1.2 .3 1.5 .3-.3 .3 2.1 .2-3 .3 3.5 .3-1.5 .3 2.2 .3-1 .3 1.5 .3-3.3 .3 .8 .3 .6 .3 .8 .3 .6 .3-2.2 .3 2.3 .3 .1 .3 .4 .3-2.4 .3 .5 .3 1.3 .3-1.9 .3 .5 .3-.2 .3 3.1 .3 .5 .3-1 .3 .6 .3 0 .3-2.1 .3 2.1 .3-1.2 .3 1.3 .3-.8 .3-2.2 .3 2.8 .3 .4 .3 .1 .3-3.2 .3 2.5 .3-.8 .3-1.7 .3 3 .3-.5 .3-1.3 .2 1.1 .3-.4 .3-1.6 .3 1.7 .3 1.3 .3-1 .3-.2 .3-1.8 .3 1 .3 0 .3 1.3 .3-1.2 .3 1.6 .3-2 .3 1.2 .3 .3 .3-.6 .3 2.9 .3-.6 .3-3.2 .3 .2 .3 2.1 .3 .6 .3 .4 .3-1.2 .3 2.2 .3-3.5 .3-.2 .3 1.7 .3-.9 .3 3.1 .3-.7 .3 .4 .3-1.9 .3-1.6 .3 .8 .3-.5 .3 1 .3-1.2 .3 2.2 .3-.3 .3-1.7 .3 .4 .3-1 .3 3.2 .3-2.5 .3 2.6 .3-1 .3-.6 .3 1.2 .3-2.5 .3 2.5 .3-1 .3-.2 .3 1.4 .3-.1 .3-1.3 .3-.3 .3 1.9 .3-2.8 .3-.4 .3 1.2 .3-.3 .3 1 .3 .1 .3 .9 .3-2.9 .2 1 .3 1.3 .3-2.7 .3 3.1 .3-2.4 .3 1.9 .3-1.9 .3 2.7 .3-2.5 .3 1.5 .3 .5 .3-3.3 .3 2 .3-1.3 .3 1.1 .3 1 .3-3 .3-.3 .3 2.1 .3-1.6 .3 2.2 .3-2.1 .3 0 .3-.6 .3 2.4 .3 1.3 .3-.8 .3-1.5 .3 .7 .3 1.4 .3-1.7 .3 .8 .3-1.2 .3-.1 .3 1.6 .3-1.3 .3 1.8 .3-1.8 .3-.6 .3-.2 .3 .2 .3 .3 .3 1.7 .3-2 .3-.7 .3 2.9 .3-3.7 .3 1.7 .3 1.6 .3 .1 .3-3.4 .3 .7 .3 .9 .3-.5 .3 .4 .3 .6 .3-1.7 .3 3.2 .3-3.9 .3 3 .3-2 .3 2.4 .3-2.9 .3 .3 .3 .4 .3 2.3 .3 0 .2-2.7 .3 .1 .3 .6 .3-1 .3 1.7 .3-2.8 .3 0 .3 1.8 .3-1.7 .3 3.5 .3-2 .3 1.2 .3-1.1 .3 1 .3-2 .3 1.8 .3-1.1 .3 1.6 .3-3.8 .3 3.3 .3-2.4 .3 2 .3 1.1 .3-2.6 .3 .7 .3 .6 .3-1.1 .3-.6 .3-1.1 .3 3.4 .3-3.4 .3 2.2 .3 .3 .3-.2 .3 1.2 .3-2.4 .3 1.9 .3-1.4 .3 .4 .3 1.1 .3-2.2 .3 2 .3-.3 .3-.8 .3 .6 .3 .5 .3-1.2 .3 .4 .3 .2 .3-.3 .3-.8 .3-.4 .3 .3 .3 0 .3 .2 .3 .7 .3 .3 .3-.2 .3 .6 .3-1.3 .3-.1 .3 2.2 .3-1.6 .3-1.1 .3 .1 .3 2.4 .3-.9 .2-.6 .3 .6 .3 .9 .3 .3 .3-1 .3 .7 .3-1.1 .3 0 .3-1.2 .3 1.6 .3-.3 .3-.1 .3-1.5 .3 0 .3 .7 .3 1 .3-1.5 .3 2.1 .3-.9 .3-1 .3 .9 .3-1.4 .3 0 .3 1.3 .3-.3 .3-.3 .3 2 .3-1.2 .3-1.6 .3 1.3 .3 .6 .3-.5 .3 1.4 .3-1 .3 .8 .3-2.6 .3 1.7 .3-1.2 .3-.2 .3 .4 .3-.6 .3 2.1 .3-.8 .3 0 .3-.2 .3 1 .3 .2 .3-.9 .3-.8 .3 2.1 .3-.9 .3 .1 .3-.1 .3-.8 .3 1.4 .3-2.3 .3 .8 .3 2 .3 0 .3-1.9 .3-.6 .3 .4 .3 2 .3-.6 .3-2 .3 .7 .3 1.7 .2-1 .3-1.1 .3 .1 .3 2.4 .3-1.2 .3 .2 .3-1.1 .3 .5 .3 0 .3 1.3 .3-1.4 .3-.8 .3 1.6 .3 .3 .3 0 .3 .5 .3 .1 .3-.7 .3-1.2 .3 .8 .3 0 .3 0 .3 .3 .3 .2 .3-.7 .3 .1 .3 1.2 .3-1.7 .3 .7 .3-.5 .3-1.1 .3 2.4 .3-1.8 .3 .2 .3-.3 .3 1 .3-.2 .3-.9 .3 1.1 .3-.9 .3 .5 .3 1.1 .3 0 .3-1 .3 0 .3 .9 .3-.8 .3-1.5 .3 0 .3 1.5 .3-.7 .3 .7 .3 .7 .3-1.8 .3-.1 .3-.3 .3-.1 .3 1.9 .3-.1 .3 .9 .3-2.5 .3 2.5 .3-.2 .3-2.3 .3 .6 .3-.5 .3 .9 .2-1 .3 .7 .3 1.8 .3-.6 .3-.8 .3 1.5 .3-2.6 .3 0 .3 1.7 .3-.9 .3 .4 .3-.9 .3 1.8 .3-2.1 .3 2 .3-1 .3 .8 .3-.8 .3 .3 .3-.7 .3 .2 .3 1.2 .3-.6 .3 .6 .3-.2 .3 .2 .3-.1 .3-1.6 .3 1.8 .3 .5 .3-1.6 .3 .9 .3-1.6 .3 .6 .3 1.5 .3-1 .3 0 .3-1.4 .3 2.6 .3-2.9 .3 2.6 .3-.8 .3-1.3 .3 1 .3-.5 .3 1.2 .3 .2 .3 0 .3-.2 .3-2.2 .3 .8 .3-.2 .3 1.5 .3-.1 .3-1.2 .3 2.1 .3-2.5 .3 .5 .3 .8 .3 1.3 .3-1.9 .3-.8 .3 .3 .3 2.1 .3-.8 .3-1.2 .3 1.4 .3 .9 .3-1.1 .3-.3 .3-1.3 .3 1.9 .3-1.9 .3 .3 .3 2.1 .3-.2 .3-1.1 .3 .4 .3-1.1 .3 1.2 .3-.4 .3 1.1 .3-1 .3 .1 .3 1.1 .3-1.9 .3 0 .3 1.1 .3-.3 .3-1.2 .3 1 .3 0 .3 .5 .3-1.3 .3 1.2 .3 0 .3-.4 .3-.3 .3-.6 .3 1.8 .3-1.8 .3 1.2 .3-.5 .3 1.2 .3 0 .3-.6 .3-1 .3 .5 .3-.9 .3 1.3 .3-.1 .3 .4 .3-.5 .3-.2 .3-.1 .3-.2 .3 2 .3-1.1 .3 1 .3-1.8 .3 1 .3 0 .3 .2 .3 .1 .3 1.4 .3-1.8 .3 1.8 .2 .3 .3-.3 .3-.6 .3 .7 .3-.9 .3 1.2 .3-.3 .3 .4 .3-1.8 .3 1.1 .3-.3 .3 .5 .3-.8 .3 .3 .3-.3 .3-.4 .3 .2 .3 1.7 .3-2.3 .3 .6 .3 .6 .3-.4 .3-.9 .3 .9 .3-1.7 .3 1.7 .3-1.2 .2-.1 .3 .2 .3-2 .3 .7 .3 1.1 .3-2.4 .3 1.3 .3 .6 .3-1.7 .3 .5 .3-1.1 .3 2.3 .3-1.1 .3-.4 .3 1.2 .3-.2 .3-.7 .3-1.4 .3-.3 .3 1.9 .3-1.6 .3 2.5 .3-1.6 .3 1.3 .3-.7 .3 1 .3-2.2 .3 .5 .3 2.3 .3-1.1 .4-.6 .3 1.4 .3-1.1 .3 1.8 .3-2.8 .3 2.5 .3-2 .3 1.3 .3-1.3 .3 0 .3 2.5 .3-.6 .3-.3 .3 .1 .3-1.3 .3 .8 .3 .8 .3 .5 .3 .1 .3-1 .3 1.8 .3-1.3 .3 1.5 .3-1.8 .3 .2 .3 1.2 .3 0 .3 1.1 .3-2.5 .3 1.1 .3 1.7 .3-2.3 .3 2.5 .4-2.1 .3 1.1 .3-.5 .3-.6 .3 2.4 .3-1.7 .3 1.2 .3-1.2 .3 2.3 .3 .4 .3-.1 .3-.6 .3 .8 .3-.1 .3 .6 .3-2.5 .3 1 .3 1.3 .3-.1 .3 .6 .3-1.1 .3 1.1 .3-1.6 .3-.2 .3 .4 .3 .1 .3 .9 .3 .6 .3-2.4 .3 1 .3-.7 .3 .3 .3-.5 .4 1.2 .3 .5 .3-1.1 .3 2.5 .3-1.9 .3 2.2 .3 0 .3-.8 .3 .8 .3-.2 .3-.9 .3 .5 .3-.6 .3 1.6 .3 .3 .3-2.1 .3 .5 .3 1.5 .3-2.5 .3 1.7 .3 .6 .3-2.1 .3 1.9 .3-1.5 .3 .8 .3-1.8 .3 1.1 .3 1.2 .3-2.8 .3 1.1 .3 .5 .3-1.2 .3-.1 .4 1.5 .3 .3 .3-1 .3-.9 .3 .3 .3-1 .3-.4 .3 .2 .3 1.6 .3 .4 .3-.2 .3 .2 .3-1.6 .3-.1 .3 .2 .3 0 .3 .1 .3 .3 .3-1.6 .3 .7 .3 .5 .3 1.1 .3-.2 .3-.5 .3-.3 .3 .7 .3-2.7 .3 .2 .3 1.8 .3-1.8 .3 1.2 .3-2 .3 1.5 .3-1.4 .3-.4 .3 .1 .3 .9 .3-.8 .3 1.6 .3 .8 .3-.6 .3-.5 .3-.8 .3 .4 .3 .6 .3 1.5 .3-.8 .3-.8 .3-.8 .3 1.2 .3-.1 .3 1.3 .3 .3 .3-1.2 .3 .6 .3 .2 .3-.4 .3 .9 .3 .1 .3-.8 .3-2.3 .3 0 .3 .7 .3 .2 .3-.2 .3-1.2 .3 .7 .3-1.1 .3-.8 .3 .5 .2 .1 .3 .2 .3-.8 .3-.4 .3-.3 .3 .8 .3 .9 .3-1.2 .3-.3 .3-.8 .3 0 .3 1.2 .3-1.7 .3 0 .3 .7 .3-1.3 .3-.1 .3 1.8 .3-.6 .3 1.5 .3-1.5 .3-.7 .3 .5 .3 2.2 .3-1.2 .3 .2 .3 1.5 .2-1.8 .3 .6 .3 .4 .3 .7 .3-.7 .3 1.7 .3-1.8 .3-.2 .3 .7 .3 1.4 .3-.2 .3-.6 .3-.6 .3 1.8 .3-.3 .3-.9 .3-.2 .3 1.6 .3-1.1 .3 1.1 .3-.3 .3-1.2 .3-.5 .3 0 .3-.8 .3 1.6 .3 .2 .2-.5 .3-.1 .3-.2 .3-2.5 .3 1.7 .3 .7 .3-2.4 .3-.2 .3-.1 .3 1.9 .3-1 .3-1.5 .3 1.5 .3-1.2 .3 1.5 .3-2 .3 2.9 .3-.5 .3 .3 .3-.8 .3-.5 .3 1.2 .3 1.3 .3-2.4 .3 2.4 .3-.7 .3 .4 .3-.9 .3 .4 .3 .2 .3 2 .3-.2 .3 0 .3-.2 .3-1 .3 1.3 .3-.4 .3-2.1 .3 .2 .3 .5 .3-.1 .3-.8 .3 .7 .3-.4 .3-1.1 .3-.5 .3 1 .2-1.3 .3 1.4 .3 0 .3-.4 .3-.5 .3-1.5 .3 0 .3 .9 .3-2.3 .3 2.3 .3-2.7 .3 1 .3-1.1 .3 .4 .3-.2 .3 1.6 .3-.6 .3 .5 .3-.2 .3 1.6 .3-.2 .3-2.1 .3 2.9 .3-.3 .3-.5 .3-.5 .3-.6 .2 2.1 .3-1.3 .3-.6 .3 2.7 .3-1.5 .3-.5 .3 1.5 .3 .8 .3-1 .3-.5 .3 .4 .3 2.1 .3-1.6 .3 .6 .3-.9 .3 .9 .3 .4 .3-2 .3 1.8 .3-2.3 .3 .8 .3 1.1 .3-.7 .3-.5 .3-1.2 .3 2.1 .3-1.6 .2 .1 .3 1 .3-.2 .3-.9 .3-.2 .3 .1 .3 .3 .3-2.3 .3 1.2 .3-.4 .3 .8 .3-2 .3-.1 .3 .9 .3-.1 .3 1 .3-2.2 .3 1.5 .3-2.1 .3 1.7 .3-.1 .3-.2 .3-.8 .3 .8 .3-2.5 .3-.4 .3-.2 .2 2 .3 .3 .3-.7 .3-2.2 .3 .1 .3-.5 .3 0 .3 1.5 .3-1.2 .3 1 .3 .3 .3-1.4 .3-.7 .3 .3 .3 .6 .3 .6 .3-.3 .3-2 .3 1.6 .3 .4 .3-1.8 .3 .6 .3-.7 .3-.8 .3 .9 .3 .2 .3 .3 .3-1.9 .3-.1 .3 2 .3 .2 .3-2 .3-.4 .3 .8 .3-.9 .3 2.1 .3-.8 .3-1 .3 1.7 .3-2.5 .3 1.4 .3-.4 .3-1.3 .3 .1 .3 1.7 .3-.4 .3-.8 .3 .1 .3-1.4 .3 2.1 .3-1.2 .3-.8 .3 .5 .3-.4 .3-1.8 .3 .7 .3-2.7 .3 .7 .3-1.6 .3-.2 .3-2.3 .3-.2 .3 1.8 .3-.4 .3-.7 .3 1.3 .3 2.2 .3 .3 .3 1.5 .3 1.6 .3-.5 .3 .2 .3 .1 .3 2.4 .3-1 .3-.4 .3 1.1 .3-1.3 .3 1.6 .3-1.3 .3-.6 .3-.3 .3 .4 .3-.5 .3 2.4 .3-2 .3-.3 .3 1.7 .3-1.9 .3 .8 .3-.7 .3 .6 .3-.3 .3 .4 .3 .8 .3-1.4 .3 .6 .3-1.3 .3 2.6 .3-1.8 .4 2.3 .3-.4 .3 .9 .3-1.2 .3 .8 .3-.5 .3 .2 .3 21.6 .3 20 .3 23.6 .3 20.5 .3 .7 .3-1.3 .3 0 .3-.7 .3 .4 .3-1.2 .3 1.4 .3-.4 .3 .9 .3-2.8 .3 .4 .2 .7 .3 .6 .3-1.9 .3 1.7 .3-2.5 .3 .2 .3 .4 .3 .8 .3-.1 .3-.4 .3-2.2 .3 1.8 .3-2 .3-.4 .3 1.6 .3-1.5 .3-.5 .3-.5 .3 .3 .3 .3 .3 1.2 .3-2.8 .3-.1 .4 .8 .3 .6 .3-2.2 .3 1.8 .3-2.5 .3 1.5 .3-.4 .3 .4 .3-1 .3-1.2 .3 1 .3-.9 .3 .9 .3 1.2 .3-1.6 .3 3 .3-.1 .3-.1 .3-.1 .3 1.8 .3 .7 .3 .1 .3 .7 .3 .2 .3-.2 .3-1.9 .3 2.2 .3-.2 .3-.5 .3-.9 .3-1.7 .3 .9 .3 .2 .3-1.1 .3-.5 .2-.1 .3 1.8 .3-1.8 .3 .1 .3 1.2 .3-.9 .3-.8 .3 1.3 .3-.2 .3-2.3 .3 2 .3-.6 .3-.3 .3 .2 .3 .5 .3-1.5 .3 1 .3-.8 .3 1.2 .3-1.3 .3 2.1 .3-.9 .3-.8 .3-.6 .3 2.1 .3-1.8 .3 1.7 .3-.7 .3 .4 .3 .3 .3-.6 .3 .4 .3-1.7 .3 0 .3 .7 .3 .5 .3 .4 .3-.7 .3-.9 .3 2.6 .3-1 .3 .2 .3-.3 .3 .5 .3-1.3 .3 1.7 .3-1.1 .3 .3 .3 .1 .3-.5 .3 .8 .3-1.1 .3 1.1 .3-.8" fill="none" stroke="#AFCBC4" stroke-width="2.80" stroke-linejoin="round" stroke-dasharray="10.36 4.48"/>
<path d="M1153 877l.3-.8 .3 2 .3 .3 .3-.6 .3-1.8 .3 2.6 .3 .4 .3 .1 .3-.3 .3-.2 .3-1.1 .3 .2 .3-.6 .3 1.7 .3-1 .3 1.7 .3-1.9 .3 .2 .3-.6 .3 1.4 .3 1.1 .3 .1 .3 .2 .3-3.2 .3 2.2 .3-.5 .3-.8 .3 2 .3-1 .3-1.4 .3 1.7 .3-1.4 .3 0 .3 0 .3-.1 .3-1.7 .3 2.7 .3-1.9 .3 .5 .3-.5 .3 1 .3-1.5 .3 0 .3 .9 .3 2.5 .3-.5 .3 .4 .3-2 .3 1.4 .3 1.3 .3 .2 .3-.8 .3-1.1 .3 1.2 .3 2.2 .3 0 .3-.7 .3-.7 .3 1.1 .3-.4 .3-.4 .3 .9 .3-1.5 .3-2.1 .3 1.8 .3-.6 .3-2.6 .3 1.1 .3 1.1 .3-1.6 .3-.4 .4-1.1 .3-.7 .3 1.5 .3-2.9 .3 .1 .3-1.7 .3 1 .3 .1 .3-.4 .3 .6 .3-2.9 .3 .2 .3 .7 .3 1 .3 3 .3-1.4 .3 1.9 .3 2.9 .3-1.1 .3 1.2 .3 .9 .3 1 .3 .3 .3 2.5 .3-2.3 .3 .8 .3 3.3 .3 .3 .4-.4 .3 .8 .3 .5 .3-.1 .3 1.2 .3 .3 .3 1.1 .3 0 .3 1.5 .3-1.3 .3 3.9 .3-2.8 .3 2.2 .4 .2 .3-.2 .3 3.5 .3-1.2 .3-.4 .3 1.1 .3 1 .3 .8 .3 2 .3 .3 .3-2.2 .3 2.1 .3-.2 .3 1.1 .3-1.7 .3 0 .3 .6 .3 3.2 .3-2.6 .3 .3 .3 1.9 .3-1 .3 .8 .3 3.1 .3-2.3 .3 2.4 .3 .1 .3 0 .3 .8 .3-.1 .3 1.2 .3 1.5 .3 .9 .4 .7 .3 .1 .3 2.7 .3-.8 .3 .5 .3 1.2 .3 1.3 .3 .3 .3 .9 .3 .7 .3-1.3 .3 1.7 .3-1.8 .3 1.8 .3 .4 .3 .1 .3-.3 .3 2.6 .3-1.2 .3 .6 .3-.5 .3 3 .3 .4 .3-2 .3 1.2 .3 0 .3 .8 .3 2.2 .3-.1 .3 1.6 .3-.1 .3-.7 .3 2.2 .3-1.8 .3 2.3 .3 .3 .3-1 .3 1.3 .3 1.4 .3-.8 .3 .4 .3 2.5 .3 1.8 .3-.8 .3 2 .3-1.2 .3 .3 .3-.2 .3 1.7 .3 2.2 .3 .5 .3 1.2 .3-.7 .3 1.4 .3 0 .2-.7 .3 2.1 .3-.2 .3 2.6 .3 .7 .3-1.3 .3 .4 .3 1.3 .3 1 .3-.7 .3 2.6 .3-.3 .3-1.8 .3 1.5 .3-2.5 .3 2.7 .3-1.6 .2 .1 .3-1.3 .3-1.1 .3 1.7 .3 .2 .3 .1 .3 .2 .3 .4 .3-2.2 .3 .4 .3-2.9 .3 1.9 .3-1.9 .3-2.6 .3 .6 .4 .8 .3-.7 .3-.6 .3-2.2 .3-.2 .3-.8 .3-1.3 .3 1.1 .3-1.8 .3 .5 .3 1.7 .3 .7 .3 1.1 .4-2.9 .3 3.6 .3-2.1 .3 .5 .3 1.5 .3 1.3 .3-1.6 .3-.4 .3 1.5 .3-.3 .3-1.8 .3-.7 .3 1.7 .3-2.3 .3 .4 .3-1.5 .3 .6 .3 .6 .3 0 .3 .7 .3-.7 .3-1.5 .3 .4 .3-.8 .3-.5 .3-.1 .3 1.5 .3 .5 .3 .2 .3-.4 .3-1.6 .3 1.7 .3-.7 .3 .9 .3-.8 .3 .2 .3-1.8 .3 2.6 .3-.6 .3-.4 .3-1.1 .3 1.4 .3-.9 .3-.7 .3 2 .3-.3 .3-.3 .3 1.4 .3-1.9 .3 .8 .3-1.8 .3 2.2 .3 .6 .3-1.3 .3-1.3 .3 2.6 .3-1.1 .3-.6 .3 2.1 .3-1.1 .3 .5 .3 .4 .3-.4 .3 .9 .3-1.3 .3-.1 .3 1 .3 1.4 .3-1.4 .3-.1 .3 .5 .3 .6 .3-.4 .3 1.5 .3 .7 .3 1.8 .3-2.9 .3 .9 .3 0 .3 1.1 .3 2 .3-2.1 .3 1.5 .3 0 .3 1.8 .3-.7 .3 .5 .3 .4 .3-.3 .3-.9 .3-2.9 .3-.4 .3 2.5 .3-3.3 .3-.9 .3 1.4 .3-.5 .3-2 .3 .4 .3-.6 .3-.3 .3-.8 .3-1.3 .3 1.3 .3-1.6 .3 1.3 .3-1.5 .3-2.3 .3 2.1 .3-.6 .3-2 .3 .5 .3-1.5 .4 1.6 .3-2.4 .3 .6 .3-1.9 .3 1.7 .3-2.8 .3 .9 .3-1.5 .3 .9 .3 1.1 .3-1 .3 1.5 .3-2.1 .3 2.9 .3-1.6 .3 1.4 .3-2.4 .3 .9 .3 .4 .3 1.7 .3 .3 .3-2 .3 .1 .3 0 .3-.8 .3 .3 .3 1.7 .3-1.9 .3 2.3 .3-1.7 .3-1.1 .3 .1 .3-.9 .3 1.5 .3-1.5 .3 .9 .3-.8 .3 .3 .3-2.1 .3 1.9 .3-2.2 .3 .5 .3 1.5 .3-.1 .3-1.9 .3-.6 .3-.4 .3 .4 .3 .7 .3-2.8 .3-1.3 .3 1.6 .3-1.2 .3 .2 .3-.4 .3-1.6 .3 .4 .3 1.5 .3-1.5 .3 .1 .3-.6 .3-1.5 .3-.9 .3 1.2 .3-1.7 .3 1.1 .3-.3 .3-1.6 .3 3.1 .3-.6 .3 1.6 .3-1.9 .3 .3 .3-.4 .3 2.3 .3-2.2 .3 .6 .3 .7 .3 2.6 .3 .2 .3-.9 .3 .3 .3-.9 .3 1.5 .3 1.2 .3-1.8 .3 .1 .3-.4 .3 .6 .3-.4 .3-.1 .3 .7 .3 1.3 .3-1.1 .3-1.2 .3 .5 .3-1.3 .3 2.6 .3-3.2 .3 1.8 .2 .7 .3-.5 .3-2.4 .3 2.6 .3-1.3 .3 1.2 .3-2.6 .3 1.4 .3 1.5 .3-3 .3 2.6 .3-1.4 .3-.4 .3-.2 .3 .5 .3-1.2 .3 .1 .3-.1 .3 .5 .3 1.7 .3-.6 .3 1.8 .3-2.1 .3 .3 .3 1.8 .3-.5 .3-1.5 .2 1.7 .3-.9 .3 2.6 .3-.8 .3 .1 .3-1.2 .3 2 .3 0 .3-.3 .3-.7 .3 1.4 .3-1.3 .3-.7 .3 1.5 .3-.4 .3 1.1 .3-1.5 .3 2.3 .3-2.1 .3 1.5 .3-.5 .3 2.4 .3-1.4 .3-.9 .3 .1 .3 .3 .3 1.3 .3-1 .3 2.5 .3-.6 .3-2 .3-.4 .3 .3 .3 1.3 .3-.9 .3 .1 .3-.3 .3 1.4 .3-2.8 .3 2.4 .3-.9 .3 0 .2-2 .3-.4 .3-.2 .3 .9 .3-1.6 .3-1.9 .3 .3 .3 2.2 .3-2.8 .3 1.5 .3 1 .3-1.4 .3 .5 .3 .4 .3-1.4 .3 1.5 .3 1.9 .2-1.5 .3-.5 .3 2.6 .3 0 .3-.5 .3 .4 .3-1.2 .3 1.4 .3 0 .3-1.4 .3 1.2 .3-.1 .3 0 .3 1.4 .3-1.7 .3 .5 .3 1.4 .3-.2 .3 .8 .3-1.1 .3 .7 .3 2 .3-1.3 .3-1.1 .3 3.3 .3-.7 .3 0 .3 .4 .3-.2 .3 .4 .3-1.7 .3 0 .3 .4 .3 3.2 .3-2.4 .4 .9 .3 2.6 .3-1.9 .3 1.7 .3-1.5 .3 .1 .3 2 .3 .2 .3-2.6 .3 2.2 .3-1.3 .3-.4 .3-1.4 .4-1.2 .3 1 .3 .5 .3-1.8 .3-.5 .3 .4 .3-1.5 .3-1.4 .3 .9 .3 0 .3-.7 .3-2.1 .3 .9 .3 1 .3-3.3 .3 2.4 .3-1.8 .3 .9 .3-3.3 .3 .3 .3-1.1 .3 .5 .3 .5 .3-2.3 .3 .5 .3 .7 .3-2 .3-.3 .3-1.2 .3 2.4 .3-.1 .3-2.8 .3 0 .3 2 .3-2.3 .3-.3 .3 .8 .3 .7 .3-2.9 .3 1.5 .2-1.9 .3 2.1 .3-2.3 .3 1.3 .3-.9 .3 .2 .3 1 .3-3.3 .3 2.7 .3-2.1 .3 1 .3-1.5 .3-.2 .3 0 .3 .3 .3-1.8 .3 1.9 .3-.2 .3-.3 .3-2.3 .3 1.5 .3-.1 .3-.2 .3-2.4 .3 1.1 .3-1.1 .3 1.8 .3-.4 .3-2.6 .3-.3 .3-.1 .3 1.5 .3-.8 .3-.7 .3-1.2 .3 0 .3 .3 .3 1.2 .3 0 .3 .2 .3 1.3 .3-1.1 .3-.6 .3-.1 .3-.1 .3 .3 .3-.5 .3 .6 .3 .8 .3-1.1 .3 1.2 .3 1.4 .3-.5 .3-2.1 .3 .5 .3 3.1 .3-2.9 .3 2.8 .3-1.7 .3 .1 .3-1.2 .3 2.1 .3-1 .3-.7 .3 .2 .3 .6 .3 .2 .3 2.1 .3 .3 .3-3 .3 1.5 .3 1.2 .3-2.6 .3 2.2 .3 1.1 .3-2.2 .3 .5 .3-1 .3 .8 .3-.8 .3 1.6 .3-.2 .3-.2 .3 2.1 .3-1.5 .3 1.4 .3-.2 .3-1.4 .3-.5 .3 .4 .3-.8 .3 2.6 .3 .2 .3-.5 .3-.8 .3-.4 .3-.1 .2 1.1 .3-.9 .3 .4 .3-1.2 .3 1.8 .3-2.1 .3 .4 .3 .2 .3 1.5 .3-.1 .3 .4 .3-1.3 .3 2.4 .3-1.8 .3-1 .3 2 .3 1.1 .3-2.2 .3 1.5 .3-.9 .3 .7 .3 .4 .3-1 .3 0 .3-1.6 .3 .1 .3 2.4 .3 0 .3-1.2 .3-.1 .3 .4 .3-1.5 .3 .3 .3-.4 .3 0 .3 2.2 .3-1.9 .3 1.6 .3-1.3 .3-.1 .3-1.1 .3 2.2 .3-2.7 .3 2.7 .3-2.3 .3 2 .3 .2 .2-2.6 .3-.2 .3-.1 .3-.7 .3 3 .3-2.6 .3-.7 .3 1.7 .3 1 .3-1.9 .3-.8 .3 1.7 .3 .3 .3-2.3 .3 1.7 .3-.5 .3 .4 .3 .1 .3-1.5 .3 1.8 .3-.5 .3 .4 .3-.6 .3-1.1 .3 1.6 .3-2.9 .3 1.6 .3-.1 .3-1 .3 .2 .3-2.2 .3-.8 .3 1.3 .3-.8 .3-.5 .3 .7 .3 .2 .3-.5 .3-.1 .3 .3 .3-.7 .3 .4 .3-3.1 .3 .6 .3-1 .3 3.6 .3-.1 .3-1.6 .3 1 .3 2 .3 .2 .3 .2 .3-.8 .3 1.3 .3-1.4 .3 2.4 .3-1.8 .3 .9 .3 1.6 .3-.8 .3 2.6 .3-1.5 .3-.4 .3 1.5 .3 .9 .3-.5 .3 0 .3-.2 .3 1.7 .3-.3 .3-2.5 .3 2.6 .3-3.2 .3 .3 .3-.2 .3 1.2 .3-.1 .3-1.1 .3 2.3 .3-1.5 .3 .9 .3-.2 .3 1.5 .3-.9 .3 1.3 .3-2.6 .3-.5 .3 2.5 .3-.3 .3 .9 .3-3 .3 2.7 .3-1.8 .3-1 .3 1.7 .3-1.8 .3 2.4 .2-1.2 .3 0 .3 2 .3-.8 .3-1.5 .3 1 .3-.8 .3 .5 .3-1.6 .3 1.1 .3 .6 .3-.4 .3 1.9 .3-3.1 .3 2.2 .3-.4 .3-1.3 .3 .1 .3 2.2 .3-.2 .3-2.1 .3 1 .3-1.4 .3 .9 .3 1.1 .3-.4 .3 .9 .3-1.5 .3 1.6 .3-1.7 .3-.6 .3 2.3 .3-2.5 .3 .7 .3 1.5 .3 .7 .3-2.1 .3-.9 .3 .2 .3-.4 .3 2.6 .3 0 .3 .2 .3-1.8 .3 .9 .3-.9 .3-.8 .3-.3 .3 3 .3 .3 .3-3.1 .3 1.6 .3 0 .3-1 .3-.5 .3 3 .3-2.2 .3 1.8 .3-.5 .3 .3 .4-2.6 .3-.2 .3 .4 .3 2.1 .3-.7 .3-.4 .3 .3 .3 .5 .3-2.1 .3 .5 .3 1 .3 .9 .3-2.7 .3 1.9 .3-.7 .3 .1 .3 .5 .3-.5 .3-.9 .3 1.6 .3-2.1 .3 .3 .3 1.1 .3-1.5 .3 3.2 .3-2 .3 .4 .3 1.1 .3-.9 .3-2.2 .3 2.5 .3-1.5 .3-.3 .4-1.9 .3 1.9 .3-1.5 .3 1 .3-1.6 .3-1.4 .3 1.1 .3-.4 .3 .2 .3 1.4 .3 .1 .3 .1 .3-.7 .3-1.3 .3 1.3 .3 1.3 .3-1.3 .3 .7 .3-1.9 .3 2.6 .3-2.6 .3 .1 .3 1.5 .3 2 .3-2.4 .3 1.5 .3-1.4 .3 .5 .3-.6 .3 .2 .3 1.1 .3 .2 .3 1.5 .3-2.1 .3-.6 .3 2.2 .3 1.2 .3-2.4 .3 0 .3 1.5 .3-1.1 .3 .8 .3-.6 .3 2.5 .3-.7 .3-.7 .3 0 .3-.6 .3-.2 .3 .3 .3 .5 .3 .1 .3-.7 .3-1.1 .3 2 .3-1.7 .3 2.2 .3-1.5 .3 .8 .3-.6 .3-1.5 .3 .5 .3 2.6 .3-1.8 .3-1.7 .3 3.1 .3-.4 .3-.2 .3-2.1 .3 1.5 .3 .3 .3-2.4 .3 1.1 .4 1.1 .3-.7 .3-.1 .3-1.7 .3 2 .3-.1 .3-.8 .3-.3 .3 1.6 .3-1 .3 1.2 .3-2.1 .3 .6 .3 1.1 .3 .1 .3-1.5 .3 1 .3-1.4 .3 .8 .3 .9 .3-.7 .3 .6 .3-.3 .3-1 .3 1.6 .3-2.2 .3 1.4 .3-1.4 .3 1 .3 .4 .3 .5 .3-.6 .3-.5 .3 .9 .3-.3 .3 .5 .3 1.4 .3-.4 .3 0 .3-.2 .2 .6 .3-.4 .3-.4 .3 .9 .3 1.2 .3-1.8 .3 1.5 .3-.2 .3 0 .3 .9 .3-.7 .3-.4 .3 .8 .3 .7 .3-.8 .3 .1 .3 1 .3 .3 .3-.9 .3-.5 .3-1.1 .3 .3 .3 1.4 .3-1.8 .3 1.8 .3-.9 .3-1.1 .3 .2 .3 .5 .3-.7 .3 .4 .3 .2 .3-1.6 .3 1.3 0 1.8 .3-.8 .3 2 .3 0 .3-.6 .3-.1 .3-.9 .3 .2 .3 1.1 .3-.7 .3 1.2 .3-.2 .3-1.5 .3 .4 .3 .2 .3 .4 .3-.4 .3 1.7 .3 .3 .3-.9 .3-.8 .3-.2 .3 .6 .3 .6 .3 .7 .3-.5 .3-.7 .3 1.5 .3-.2 .3-1.2 .3 1.1 .3 .5 .3-1.2 .3 .3 .3 .3 .3 .2 .3-.4 .3-.5 .3 1 .3 .9 .3 .1 .3-1.5 .3-.2 .3 1.9 .3-2.1 .3 .3 .3 .4 .3 .8 .3-.9 .3 .1 .3 1.4 .3-.1 .3-1.3 .3 1.1 .3-.9 .3 2 .3-1.8 .3 1.8 .3-.7 .3 .7 .3-.5 .3-1.1 .3 .6 .3-.3 .3 .2 .3 .6 .3 .5 .3-.5 .3 .8 .3-.3 .3 .1 .3 .1 .3-.2 .3 1.3 .3-.3 .3-1.2 .3 .9 .3-.4 .3 1.5 .3-1.4 .3 .9 .3 1 .3 .3 .3-1.1 .3 .3 .3-.5 .3 .9 .4-.4 .3 .2 .3 1.3 .3-1 .3 .1 .3-.7 .3 .8 .3 1.3 .3-1.1 .3 1.3 .3-.5 .3 .3 .3-1.5 .3 .6 .3 0 .3 1 .3 .1 .3-.1 .3 .4 .3-.1 .3 .2 .3 .5 .3 .7 .3-.9 .3 1.3 .3-2 .3 1.5 .3 .4 .3-1.2 .3 .1 .3 1.9 .3-1.4 .3 .7 .3 1.4 .3-1.8 .3 .4 .3-.1 .3 1.7 .3 .5 .3-1.4 .2 .9 .3 .9 .3-1.8 .3 2.1 .3-.6 .3 0 .3-.7 .3 .6 .3 1 .3-.2 .3-1.3 .3 .2 .3 2.1 .3-.8 .3 1 .3-1.2 .3 .9 .3 1.5 .3-.5 .3-.2 .3 .3 .3 1.2 .3 1.9 .3-1.2 .3-.1 .3 2.2 .3-1.4 .3 2.3 .3 .1 .3-1 .3 1.4 .3 .9 .3 .2 .3 .2 .3 .3 .3 .5 .3-.6 .3-.5 .3-.5 .3 1 .3-1 .3 1.8 .3 0 .3-1.3 .3 .6 .3 1.1 .3-1.3 .2 1.3 .3 .3 .3-1.4 .3 1.9 .3-.3 .3-1.9 .3 2 .3-.3 .3-1.2 .3 1.3 .3-1.5 .3 1.3 .3-.1 .3 0 .3 .7 .3 .3 .3 .5 .3-.9 .3 .8 .3-.5 .3 .2 .3 .8 .3 0 .3-.8 .3 1.8 .3 .2 .3-1 .2 1.9 .3-1.1 .3 .8 .3-.4 .3 1.2 .3-.5 .3-.8 .3 2.2 .3-2 .3 1.3 .3 .1 .3 1.2 .3 .1 .3-1.1 .3-.5 .3 1.6 .3-1.9 .3 .2 .3 1.5 .3 .3 .3-1.5 .3 1.4 .3-.6 .3-.9 .3 .8 .3 .4 .3-1.4 .2 2.2 .3-1.6 .3-.6 .3-.1 .3 2.1 .3-1.1 .3 .5 .3 .2 .3 .1 .3-.2 .3-1.6 .3 1.9 .3-.3 .3-.9 .3 .8 .3-1.1 .3 0 .3 .3 .3 .6 .3-1.4 .3-.2 .3 1 .3-.4 .3 .3 .3 .1 .3-.3 .3 0 .2 .7 .3-1.3 .3 .8 .3 .6 .3-1.1 .3-.7 .3 .7 .3 .2 .3-.1 .3-1.3 .3-.1 .3 1.2 .3-.3 .3-.1 .3-.4 .3 1.3 .3-2.3 .3 2.1 .3-1.1 .3 .9 .3-2.3 .3-.2 .3 .6 .3-.5 .3 1.7 .3-1.1 .3 0 .2-.6 .3-1.1 .3 .4 .3 1.1 .3-1.3 .3-.9 .3 .7 .3-.3 .3 .7 .3 0 .3-1.8 .3 .6 .3 .3 .3 .2 .3 .3 .3-.7 .3-.1 .3 .5 .3-.7 .3 2.5 .3-2.1 .3 2.1 .3-1.7 .3 2.1 .3-.2 .3 .7 .3-1 .2 .4 .3 .1 .3 .2 .3 1.4 .3-.5 .3-.6 .3 1.3 .3-.1 .3-1.3 .3 1.2 .3 1.6 .3-.8 .3-.8 .3 .7 .3-.4 .3 1.3 .3 .1 .3-2 .3 2.2 .3-.6 .3-.5 .3-.8 .3-.3 .3 2 .3-.2 .3-1.9 .3-.2 .2 .1 .3 1.7 .3-.7 .3-.6 .3 .3 .3-.5 .3 .3 .3-.2 .3 .3 .3-1.5 .3 1.7 .3-.1 .3-.8 .3 .4 .3-.9 .3 1.3 .3-.8 .3-.8 .3-1.6 .3 1.3 .3-1.3 .3 1.1 .3-2.2 .3 1.2 .3-1.1 .3 .2 .3-1.4 .3 .4 .3 1.1 .3-.6 .3 0 .3-1.3 .3 .7 .3-1.1 .3 .4 .3-1.6 .3-.1 .3 .2 .3-.5 .3-.8 .3 2 .3-1.8 .3 1.2 .3-.1 .3-2.3 .3 1.1 .3 .2 .3-1.1 .3 .9 .3-.9 .3-.4 .3-1.2 .3 2.2 .3-1.7 .3 .4 .3-1 .3-.6 .3 1.6 .3 .2 .3-.1 .3 .1 .3-.2 .3-.8 .3-1 .3 1.8 .3-.9 .3-.7 .2-.8 .3 1.2 .3-.8 .3 1.1 .3-.4 .3 .2 .3-.2 .3-1.4 .3-.1 .3 1.7 .3-1.8 .3 .5 .3-.9 .3 .9 .3-.6 .3 .1 .3 .1 .3-.6 .3-.3 .3-.4 .3 .7 .3 .7 .3-1 .3 .2 .3 .7 .3-.9 .3 1.1 .3-1 .3-.1 .3-.9 .3 .4 .3 .1 .3-.4 .3 0 .3-.6 .3 .9 .3 .6 .3-1 .3 .3 .3-.8 .3 1.7 .3-1.4 .3 1.1 .3-1.1 .3 .3 .3-1.2 .3-.6 .2 2 .3-1 .3 .4 .3-.7 .3-.4 .3 1.2 .3-1.5 .3 1.6 .3-.3 .3-.1 .3-.1 .3-.5 .3-1.4 .3 .5 .3 .8 .3 .4 .3 .4 .3-1.7 .3 1.8 .3 .2 .3 0 .3-1.4 .3-.1 .3 .2 .3 1.7 .3-1.5 .3 .2 .2 1.6 .3-1.4 .3 0 .3 1.3 .3 .3 .3-1.4 .3-.7 .3 1.2 .3 .2 .3 .5 .3-.9 .3-.2 .3 0 .3 .4 .3 1 .3 0 .3-1.7 .3 .7 .3 .7 .3-1.4 .3 1.5 .3-.9 .3 1.2 .3-2 .3 2 .3-.8 .3-.7 .2 .2 .3 .8 .3 .4 .3-1.3 .3 1.8 .3-2.2 .3 .5 .3 .6 .3 1.1 .3 0 .3-.1 .3 0 .3-.8 .3 0 .3-1.2 .3 2 .3-2.5 .3 2 .3 0 .3-1 .3-1.3 .3 .1 .3 1.3 .3 0 .3-2.2 .3 1.2 .3 0 .2 .4 .3-2 .3-.3 .3 2 .3-1.3 .3 .4 .3-1.6 .3 1.7 .3-.8 .3 .1 .3-1.7 .3 0 .3 .3 .3 .5 .3-.9 .3-.3 .3 1.3 .3-1.3 .3 1.5 .3-1.6 .3 1.4 .3-.3 .3-.7 .3-1.1 .3 .9 .3-.5 .3 1.3 .2-.8 .3 .1 .3-.9 .3 .1 .3-.2 .3 .3 .3 1.6 .3-1.3 .3 .8 .3-.6 .3 .6 .3 .4 .3-2.3 .3 1.3 .3 .3 .3-1 .3 1.7 .3-1.1 .3 1.7 .3-.5 .3-.9 .3 1.4 .3 .6 .3-.1 .3-.7 .3 1.2 .3 .8 .3-1.4 .3 1.1 .3-.7 .3 .4 .3 1.5 .3-.1 .3-.7 .3-.7 .3-.1 .3 .7 .3 1 .3 .1 .3-.9 .3-.4 .3 .6 .3-1 .3 1.3 .3-1.3 .3 .4 .3-.4 .2 .5 .3-1.2 .3 1.1 .3-1.8 .3 .3 .3 0 .3 1 .3-1.4 .3 .8 .3-.5 .3-.3 .3-1.1 .3 .3 .3 .4 .3 .8 .3-1.6 .3 1 .3-.1 .3 .8 .3 .5 .3-2.2 .3 1.4 .3 1.1 .3-1 .3-.1 .3-.4 .3 1.8 .3-2.2 .3 .7 .3 1.1 .3-1.2 .3 1.8 .3-1.3 .3 1.7 .3-2.2 .3 2.2 .3-.5 .2 0 .3 .2 .3 .3 .3-1.7 .3 1.9 .3-1.5 .3 1 .3-.8 .3 .4 .3 1.5 .3-.7 .3 1.1 .3 0 .3-1 .3 1.4 .3-2.1 .3 2.2 .3 .2 .3-2.2 .3 1.9 .3 .4 .3-2 .3 1.3 .3 .4 .3 .7 .3 0 .3 .2 .3 0 .3 .5 .3 .1 .3-1.5 .3 .2 .3 .2 .3 .7 .3 .3 .3 1 .3 .3 .3-1.2 .3 .1 .3 1.6 .3 1.2 .3-.1 .3-.2 .3-.1 .3 1.2 .3 0 .3-.8 .3 .7 .3 .8 .3-.9 .3 0 .3 .7 .3 .6 .3-1.3 .3 2.3 .3-1.6 .3 1.4 .3-.8 .3 .9 .3-.9 .3-.1 .3 1.8 .3 0 .3 0 .3 .9 .3-1.1 .3-.5 .3 2.3 .3-.6 .3 .8 .3-.9 .3-.7 .3 .7 .3 .6 .3-1.3 .3 1.3 .3 .6 .2-1.1 .3 1.8 .3-.6 .3-.3 .3 .2 .3 1.1 .3-.8 .3 1 .3-.8 .3 .7 .3-.5 .3-.7 .3 .2 .3 1.2 .3 3.9 .3 3.3 .3 3.8 .3 6 .3 2.5 .3 3.8 .3 5.7 .3 3.2 .3 3 .3 5 .3 3.8 .3 4.2 .3-.2 .3-1 .3 .7 .3-.2 .3 1 .3-1 .3 1.4 .3 .1 .3-.7 .3-1.6 .3 0 .3 .9 .3-.1 .3-.4 .3 .6 .3-1.2 .3 1 .3-.2 .3-.3 .3-.3 .3 1 .3-.1 .3 0 .3-1.4 .3 .3 .3 .3 .3-.5 .3 .8 .3 1.3 .3-1.3 .3 0 .3-.4 .3 .3 .3-.7 .3 0 .3 1.2 .3-1.2 .3-.9 .3 .6 .3 .4 .3 .7 .2-1.1 .3 1.4 .3-.5 .3-.8 .3-1 .3 .8 .3 .8 .3-1.5 .3-.5 .3 1 .3-.6 .3 1.4 .3-.1 .3-1.4 .3 1 .3-.8 .3-.4 .3 .3 .3-.1 .3-1 .3 2 .3-1.9 .3 .6 .3 .9 .3-1.1 .3 1 .3-.9 .3 1.8 .3 .1 .3-2.1 .4 1.7 .3-.1 .3-1.5 .3 .8 .3 .3 .3-1 .3-.5 .3 .3 .3 1.1 .3-1.1 .3-.3 .3 1.9 .3-.6 .3-.3 .3 .8 .3 .1 .3-.5 .3 .7 .3-.4 .3-.6 .3 1.5 .3-.7 .3-.9 .3 0 .3 .7 .3-.4 .3 .8 .3-.4 .3 1.1 .3 0 .3 .2 .3-.4 .3 .6 .4 .5 .3-2 .3 1.3 .3-1.1 .3 2.2 .3-1.6 .3 .9 .3 1.1 .3-.3 .3-.9 .3-.2 .3 .6 .3-.7 .3 .3 .3-.4 .3 0 .3 1.1" fill="none" stroke="#55A3CE" stroke-width="2.80" stroke-linejoin="round" stroke-dasharray="17.92 4.48 2.80 4.48"/>
<path d="M1153 1034.2l1.1 14 1.1-17.2 1 31 1.1-9.8 1.1-11.8 1.1-26.4 1 15.8 1.1-24.4 1.1-17.3 1.1 17 1-7 1.1 12.5 1.1 50.5 1.1-1.1 1-65.1 1.1-8.1 1.1 13.3 1.1-1.6 1 25.3 1.1 51.5 1.1-7.3 1.1-35.6 1 3 1.1-1.1 1.1 55.1 1.1-4 1 15.6 1.1 22.8 1.1-5.4 1.1 14.2 1-13 1.1-27 1.1 1.5 1.1 37.7 1-21.4 1.1 28.7 1.1-6.9 1.1 8.5 1-1.3 1.1-41.4 1.1 7.7 1.1 1.5 1 3 1.1-25.9 1.1 5.9 1.1 11.2 1-16.2 1.1 21.3 1.1 4.3 1.1 10.1 1.1 2.2 1-32.3 1.1-1.4 1.1 5.8 1.1-26.2 1 14.2 1.1-10.3 1.1-25.5 1.1 5.2 1 9.7 1.1-.3 1.1 20 1.1-26.8 1-3.5 1.1 3.5 1.1-12.3 1.1 2.4 1-2.9 1.1 3.9 1.1-.5 1.1-3.9 1-.9 1.1-2.3 1.1 12.7 1.1 3.6 1-2.4 1.1 2.7 1.1-5.1 1.1-4.7 1 6.7 1.1-5 1.1-8.4 1.1-11.5 1 22.4 1.1-8.7 1.1 12.2 1.1-11.6 1-8.9 1.1 10.1 1.1-12.7 1.1 12.9 1-2.2 1.1-9.6 1.1 1.9 1.1 6.5 1-25 1.1 1.1 1.1 11.7 1.1-6.7 1 15.3 1.1-7.1 1.1 22.4 1.1-33.3 1.1-16 1-13.3 1.1-10.4 1.1-3.2 1.1 18.2 1-13.7 1.1 15.1 1.1 5.4 1.1-24.4 1-13.5 1.1-5 1.1 11.8 1.1-9.5 1 11.2 1.1 20.8 1.1-1.1 1.1 17.1 1-.5 1.1-5.2 1.1-18.5 1.1-5.7 1-5.7 1.1 3.4 1.1 14.1 1.1 5.5 1 6 1.1-4.9 1.1 8.9 1.1-14.9 1 25.4 1.1-23.1 1.1 4.4 1.1 3.9 1-1.8 1.1 25.1 1.1 .6 1.1-.8 1-29.7 1.1 11.1 1.1 11.2 1.1-20.6 1-21.5 1.1 28.9 1.1-9.8 1.1 1.5 1 .1 1.1-43 1.1-2.3 1.1 11.1 1.1-2.4 1-3.9 1.1 17 1.1 2.8 1.1 24.7 1-4.4 1.1 2.4 1.1-26.6 1.1 25.3 1-5.4 1.1-7.8 1.1 13.1 1.1 5 1-23.5 1.1-36.6 1.1-20.5 1.1 4 1 16.2 1.1 5.1 1.1-17.8 1.1 28.5 1 15.6 1.1-40.2 1.1-2.3 1.1-33.6 1 49.3 1.1-9.4 1.1 35.9 1.1-8.3 1-24.1 1.1-9.8 1.1 5.4 1.1-16.1 1 36.2 1.1 4.9 1.1-13.6 1.1-21 1-.5 1.1-13.1 1.1-.2 1.1-3.3 1 9.7 1.1 6.1 1.1-40.4 1.1-3.6 1 .8 1.1 32.7 1.1-5.8 1.1-12.4 1.1 4.5 1-10.3 1.1 30 1.1-3.2 1.1-14.1 1 1 1.1-18.5 1.1-2.1 1.1 38.6 1 1.7 1.1-.4 1.1-60.8 1.1 22.7 1 58 1.1-16.1 1.1-26.5 1.1-5.9 1-14.9 1.1 51.6 1.1-20.1 1.1-59.2 1 5.5 1.1-18.2 1.1 23.5 1.1-23.5 1 18.9 1.1 18.6 1.1-2.6 1.1-10.4 1 8.9 1.1 19.7 1.1 9.2 1.1-11.8 1 27 1.1-10.6 1.1-20.8 1.1 6.9 1 4.2 1.1-30.2 1.1 21.6 1.1 15.4 1-21.2 1.1 .1 1.1 1.6 1.1 5.6 1 32.2 1.1 15.3 1.1-28.6 1.1-9 1.1 9.9 1-6.1 1.1 12.2 1.1-6 1.1 28.1 1-2.2 1.1-25.3 1.1-1 1.1-5.2 1-22.2 1.1 31.6 1.1 7.4 1.1-18.9 1 1.9 1.1 25.1 1.1-7.4 1.1 2.5 1-14.8 1.1 27.7 1.1 12.6 1.1 10.9 1-3.5 1.1-23.7 1.1 1.4 1.1 .4 1-25.8 1.1 17.6 1.1-28.9 1.1 22 1 3.4 1.1-23.3 1.1-4.2 1.1 5.8 1-2.4 1.1 15.1 1.1-10.3 1.1-1.8 1-4.2 1.1 30.8 1.1 2.7 1.1-2.6 1 3.2 1.1-15.4 1.1 .9 1.1-30.9 1-2.8 1.1 11.8 1.1-22.7 1.1 7.6 1 8.2 1.1-15.2 1.1-3.7 1.1 5.3 1.1-3.2 1-1.4 1.1 19.5 1.1-22 1.1 4.2 1 1.4 1.1-2.9 1.1 24.9 1.1 22.5 1 7 1.1-20.3 1.1-13.2 1.1-5.5 1 12.9 1.1 24.1 1.1-8.8 1.1-8.9 1-17.7 1.1 12.2 1.1 9.2 1.1 16.2 1-9.8 1.1 1.1 1.1-11.9 1.1 13.4 1 1.8 1.1 31.4 1.1-10.8 1.1-25.8 1 1.2 1.1 11.7 1.1-5.4 1.1 3.7 1-13 1.1-19 1.1 5.2 1.1 16.5 1-11.1 1.1-.2 1.1-3.1 1.1 17.2 1 1 1.1 5 1.1-1.3 1.1-11.4 1-4 1.1-12.9 1.1 21.4 1.1 1 1.1 8.7 1 9.8 1.1 .3 1.1-38.7 1.1-9.6 1 6 1.1-12.7 1.1 31 1.1-13.5 1 17.9 1.1-18.8 1.1 27.7 1.1-1.8 1-43.1 1.1-4.6 1.1-11.3 1.1 25.1 1 11.6 1.1-13 1.1 20.7 1.1-22.9 1 3.8 1.1-21.2 1.1 .8 1.1 12.3 1 10.5 1.1-17.7 1.1 18.4 1.1-20.3 1 12.2 1.1 5.3 1.1-5.4 1.1-22.8 1-1.8 1.1 8 1.1-8 1.1 16 1-8.5 1.1 25.8 1.1 1.9 1.1-20.1 1 2 1.1-20.7 1.1 6.6 1.1-4 1-5.2 1.1-2.2 1.1-1 1.1-1.2 1.1 12.3 1-11.7 1.1 4.4 1.1-3.4 1.1 6.9 1 5.3 1.1-6.9 1.1 12.8 1.1 16.9 1-5.8 1.1-8.2 1.1 20.6 1.1 11.6 1-14.1 1.1-16.5 1.1 6.5 1.1-11.8 1 7 1.1-2.1 1.1 19.7 1.1-6.1 1-10.6 1.1 7.1 1.1 7.3 1.1 17.9 1-19.9 1.1-6.2 1.1-3.1 1.1 36.3 1-31.1 1.1 1.6 1.1 20.9 1.1 16.6 1-.2 1.1-.9 1.1 14.2 1.1 4.2 1 2.1 1.1-28.1 1.1 2 1.1 12.6 1-11.9 1.1-6 1.1 7.9 1.1 16.8 1 19 1.1-18.4 1.1 11.9 1.1 3.6 1.1-9.4 1-7.1 1.1 1.4 1.1 1.8 1.1 23.3 1-.4 1.1-30.1 1.1 5.9 1.1-5 1-19 1.1 6.3 1.1 17.1 1.1 19.8 1 .8 1.1 7.6 1.1-.4 1.1 .4 1-5.5 1.1-8.2 1.1 12.9 1.1 8.5 1-14.5 1.1 7.8 1.1-17.3 1.1-1.1 1-24 1.1 3.9 1.1-6.8 1.1 17.8 1 13.3 1.1-34.7 1.1 3.5 1.1 17.8 1-5.7 1.1 9.1 1.1-33.2 1.1 8.3 1-4.3 1.1-4.6 1.1 18.8 1.1-15.8 1-1.1 1.1 2.9 1.1 11.9 1.1-7.9 1-13.8 1.1 6 1.1-6.2 1.1 9.3 1 8.6 1.1 5.6 1.1 24.4 1.1-2.8 1.1-9.3 1-30.9 1.1-3.7 1.1 23.5 1.1 12.2 1 5.9 1.1-25.8 1.1 7.6 1.1-2.2 1 7.4 1.1-18.1 1.1-6.3 1.1 104.2 1-23.4 1.1 34.2 1.1-7.3 1.1 7.1 1 2.4 1.1-2.6 1.1 7.4 1.1-1.6 1 1.4 1.1-3.3 1.1 5.7 1.1-5.7 1-1.2 1.1-2.9 1.1-4 1.1-3.6 1 2.8 1.1 13.6 1.1 5.2 1.1-18.1 1-.2 1.1-1.8 1.1 9.1 1.1-6.3 1 12.5 1.1 0 1.1 17.4 1.1-11.8 1-11 1.1 3.9 1.1-11.1 1.1 19.7 1-2.9 1.1-5.8" fill="none" stroke="#FF1552" stroke-width="3.30" stroke-linejoin="round"/>
</g>
<line x1="1467.7" y1="1049.8" x2="1467.7" y2="813.8" stroke="#000" stroke-width="7.1" stroke-dasharray="7.1 11.7"/>
</g>
<rect x="1152.5" y="813.8" width="593.5" height="236.0" fill="none" stroke="#1c1c1c" stroke-width="3"/>
<g stroke="#1c1c1c" stroke-width="2.9"><line x1="1152.5" y1="1049.8" x2="1152.5" y2="1067.3"/><line x1="1746.0" y1="1049.8" x2="1746.0" y2="1067.3"/><line x1="1134.5" y1="871" x2="1152.5" y2="871"/><line x1="1134.5" y1="1014.6" x2="1152.5" y2="1014.6"/></g>
<text transform="translate(1152.5 1130.0) scale(0.971 1)" text-anchor="middle">2015-08-15</text>
<text transform="translate(1746.0 1130.0) scale(0.971 1)" text-anchor="middle">2015-08-19</text>
<text transform="translate(1120.0 896.4) scale(0.971 1)" text-anchor="end">14</text>
<text transform="translate(1120.0 1040.0) scale(0.971 1)" text-anchor="end">12</text>
<rect x="295.3" y="556.5" width="729.3" height="623.5" rx="11" ry="11" fill="#fff" fill-opacity="0.8" stroke="#ccc" stroke-opacity="0.8" stroke-width="3"/>
<line x1="322.3" y1="609.7" x2="468" y2="609.7" stroke="#FF8577" stroke-width="3.55"/>
<line x1="322.3" y1="709.8" x2="468" y2="709.8" stroke="#FFBE7A" stroke-width="3.55" stroke-dasharray="3.55 5.86"/>
<line x1="322.3" y1="810.0" x2="468" y2="810.0" stroke="#AFCBC4" stroke-width="3.55" stroke-dasharray="13.13 5.68"/>
<line x1="322.3" y1="910.2" x2="468" y2="910.2" stroke="#55A3CE" stroke-width="3.55" stroke-dasharray="22.72 5.68 3.55 5.68"/>
<line x1="322.3" y1="1010.3" x2="468" y2="1010.3" stroke="#FF1552" stroke-width="3.55"/>
<line x1="323.8" y1="1111.1" x2="468" y2="1111.1" stroke="#000" stroke-width="7.1" stroke-dasharray="7.12 11.75"/>
<text transform="translate(523.4 635.6) scale(0.971 1)">TSO-GA-LSTM</text>
<text transform="translate(523.4 735.7) scale(0.971 1)">FSO-GA-LSTM</text>
<text transform="translate(523.4 835.9) scale(0.971 1)">SSO-GA-LSTM</text>
<text transform="translate(523.4 936.1) scale(0.971 1)">LSTM</text>
<text transform="translate(523.4 1036.2) scale(0.971 1)">Observation</text>
<text transform="translate(523.4 1136.4) scale(0.971 1)">Divider</text>
</svg></body></html>
